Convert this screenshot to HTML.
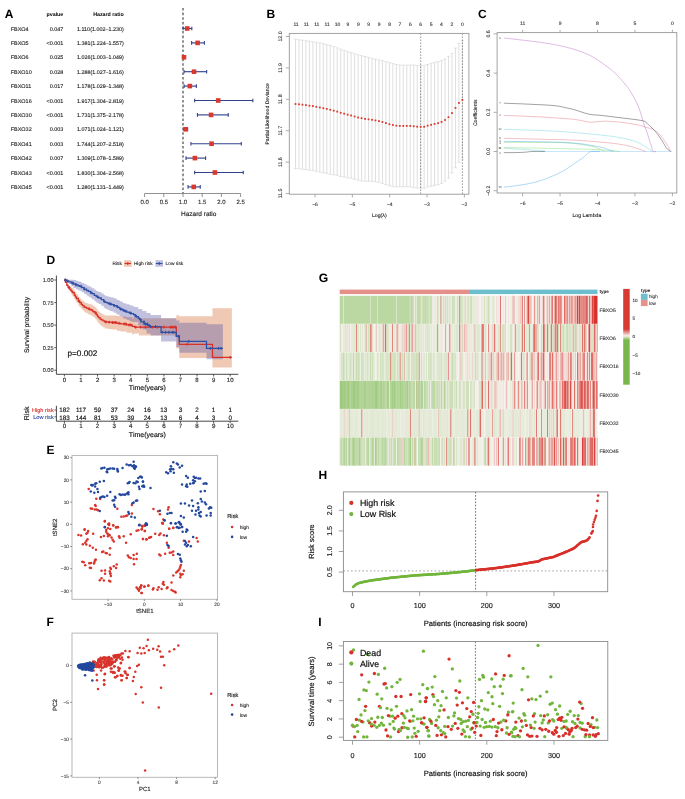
<!DOCTYPE html>
<html><head><meta charset="utf-8"><style>
html,body{margin:0;padding:0;background:#fff;}
svg{display:block;font-family:"Liberation Sans", sans-serif;will-change:transform;text-rendering:geometricPrecision;}
</style></head><body>
<svg width="685" height="799" viewBox="0 0 685 799">
<rect width="685" height="799" fill="#fff"/>
<text x="4.70" y="17.70" font-size="12" text-anchor="start" fill="#000" font-weight="bold">A</text>
<text x="63.30" y="16.00" font-size="5.3" text-anchor="end" fill="#000" font-weight="bold">pvalue</text>
<text x="123.80" y="16.00" font-size="5.3" text-anchor="end" fill="#000" font-weight="bold">Hazard ratio</text>
<line x1="183.00" y1="8.00" x2="183.00" y2="193.50" stroke="#3a3a3a" stroke-width="1.1" stroke-dasharray="2.6,2"/>
<text x="10.80" y="30.50" font-size="5.45" text-anchor="start" fill="#222" stroke="#222" stroke-width="0.120">FBXO4</text>
<text x="63.30" y="30.50" font-size="5.45" text-anchor="end" fill="#222" stroke="#222" stroke-width="0.120">0.047</text>
<text x="123.80" y="30.50" font-size="5.45" text-anchor="end" fill="#222" stroke="#222" stroke-width="0.120" textLength="46.8" lengthAdjust="spacingAndGlyphs">1.110(1.002–1.230)</text>
<line x1="183.08" y1="28.50" x2="191.83" y2="28.50" stroke="#33428e" stroke-width="1.15"/>
<line x1="183.08" y1="26.70" x2="183.08" y2="30.30" stroke="#33428e" stroke-width="1.1"/>
<line x1="191.83" y1="26.70" x2="191.83" y2="30.30" stroke="#33428e" stroke-width="1.1"/>
<rect x="184.92" y="26.20" width="4.60" height="4.60" fill="#d7392f"/>
<text x="10.80" y="44.90" font-size="5.45" text-anchor="start" fill="#222" stroke="#222" stroke-width="0.120">FBXO5</text>
<text x="63.30" y="44.90" font-size="5.45" text-anchor="end" fill="#222" stroke="#222" stroke-width="0.120">&lt;0.001</text>
<text x="123.80" y="44.90" font-size="5.45" text-anchor="end" fill="#222" stroke="#222" stroke-width="0.120" textLength="46.8" lengthAdjust="spacingAndGlyphs">1.381(1.224–1.557)</text>
<line x1="191.60" y1="42.90" x2="204.39" y2="42.90" stroke="#33428e" stroke-width="1.15"/>
<line x1="191.60" y1="41.10" x2="191.60" y2="44.70" stroke="#33428e" stroke-width="1.1"/>
<line x1="204.39" y1="41.10" x2="204.39" y2="44.70" stroke="#33428e" stroke-width="1.1"/>
<rect x="195.33" y="40.60" width="4.60" height="4.60" fill="#d7392f"/>
<text x="10.80" y="59.30" font-size="5.45" text-anchor="start" fill="#222" stroke="#222" stroke-width="0.120">FBXO6</text>
<text x="63.30" y="59.30" font-size="5.45" text-anchor="end" fill="#222" stroke="#222" stroke-width="0.120">0.025</text>
<text x="123.80" y="59.30" font-size="5.45" text-anchor="end" fill="#222" stroke="#222" stroke-width="0.120" textLength="46.8" lengthAdjust="spacingAndGlyphs">1.026(1.003–1.049)</text>
<line x1="183.12" y1="57.30" x2="184.88" y2="57.30" stroke="#33428e" stroke-width="1.15"/>
<line x1="183.12" y1="55.50" x2="183.12" y2="59.10" stroke="#33428e" stroke-width="1.1"/>
<line x1="184.88" y1="55.50" x2="184.88" y2="59.10" stroke="#33428e" stroke-width="1.1"/>
<rect x="181.70" y="55.00" width="4.60" height="4.60" fill="#d7392f"/>
<text x="10.80" y="73.70" font-size="5.45" text-anchor="start" fill="#222" stroke="#222" stroke-width="0.120">FBXO10</text>
<text x="63.30" y="73.70" font-size="5.45" text-anchor="end" fill="#222" stroke="#222" stroke-width="0.120">0.028</text>
<text x="123.80" y="73.70" font-size="5.45" text-anchor="end" fill="#222" stroke="#222" stroke-width="0.120" textLength="46.8" lengthAdjust="spacingAndGlyphs">1.288(1.027–1.616)</text>
<line x1="184.04" y1="71.70" x2="206.65" y2="71.70" stroke="#33428e" stroke-width="1.15"/>
<line x1="184.04" y1="69.90" x2="184.04" y2="73.50" stroke="#33428e" stroke-width="1.1"/>
<line x1="206.65" y1="69.90" x2="206.65" y2="73.50" stroke="#33428e" stroke-width="1.1"/>
<rect x="191.76" y="69.40" width="4.60" height="4.60" fill="#d7392f"/>
<text x="10.80" y="88.10" font-size="5.45" text-anchor="start" fill="#222" stroke="#222" stroke-width="0.120">FBXO11</text>
<text x="63.30" y="88.10" font-size="5.45" text-anchor="end" fill="#222" stroke="#222" stroke-width="0.120">0.017</text>
<text x="123.80" y="88.10" font-size="5.45" text-anchor="end" fill="#222" stroke="#222" stroke-width="0.120" textLength="46.8" lengthAdjust="spacingAndGlyphs">1.178(1.029–1.348)</text>
<line x1="184.11" y1="86.10" x2="196.36" y2="86.10" stroke="#33428e" stroke-width="1.15"/>
<line x1="184.11" y1="84.30" x2="184.11" y2="87.90" stroke="#33428e" stroke-width="1.1"/>
<line x1="196.36" y1="84.30" x2="196.36" y2="87.90" stroke="#33428e" stroke-width="1.1"/>
<rect x="187.54" y="83.80" width="4.60" height="4.60" fill="#d7392f"/>
<text x="10.80" y="102.50" font-size="5.45" text-anchor="start" fill="#222" stroke="#222" stroke-width="0.120">FBXO16</text>
<text x="63.30" y="102.50" font-size="5.45" text-anchor="end" fill="#222" stroke="#222" stroke-width="0.120">&lt;0.001</text>
<text x="123.80" y="102.50" font-size="5.45" text-anchor="end" fill="#222" stroke="#222" stroke-width="0.120" textLength="46.8" lengthAdjust="spacingAndGlyphs">1.917(1.304–2.819)</text>
<line x1="194.67" y1="100.50" x2="252.85" y2="100.50" stroke="#33428e" stroke-width="1.15"/>
<line x1="194.67" y1="98.70" x2="194.67" y2="102.30" stroke="#33428e" stroke-width="1.1"/>
<line x1="252.85" y1="98.70" x2="252.85" y2="102.30" stroke="#33428e" stroke-width="1.1"/>
<rect x="215.91" y="98.20" width="4.60" height="4.60" fill="#d7392f"/>
<text x="10.80" y="116.90" font-size="5.45" text-anchor="start" fill="#222" stroke="#222" stroke-width="0.120">FBXO30</text>
<text x="63.30" y="116.90" font-size="5.45" text-anchor="end" fill="#222" stroke="#222" stroke-width="0.120">&lt;0.001</text>
<text x="123.80" y="116.90" font-size="5.45" text-anchor="end" fill="#222" stroke="#222" stroke-width="0.120" textLength="46.8" lengthAdjust="spacingAndGlyphs">1.731(1.375–2.178)</text>
<line x1="197.40" y1="114.90" x2="228.24" y2="114.90" stroke="#33428e" stroke-width="1.15"/>
<line x1="197.40" y1="113.10" x2="197.40" y2="116.70" stroke="#33428e" stroke-width="1.1"/>
<line x1="228.24" y1="113.10" x2="228.24" y2="116.70" stroke="#33428e" stroke-width="1.1"/>
<rect x="208.77" y="112.60" width="4.60" height="4.60" fill="#d7392f"/>
<text x="10.80" y="131.30" font-size="5.45" text-anchor="start" fill="#222" stroke="#222" stroke-width="0.120">FBXO32</text>
<text x="63.30" y="131.30" font-size="5.45" text-anchor="end" fill="#222" stroke="#222" stroke-width="0.120">0.003</text>
<text x="123.80" y="131.30" font-size="5.45" text-anchor="end" fill="#222" stroke="#222" stroke-width="0.120" textLength="46.8" lengthAdjust="spacingAndGlyphs">1.071(1.024–1.121)</text>
<line x1="183.92" y1="129.30" x2="187.65" y2="129.30" stroke="#33428e" stroke-width="1.15"/>
<line x1="183.92" y1="127.50" x2="183.92" y2="131.10" stroke="#33428e" stroke-width="1.1"/>
<line x1="187.65" y1="127.50" x2="187.65" y2="131.10" stroke="#33428e" stroke-width="1.1"/>
<rect x="183.43" y="127.00" width="4.60" height="4.60" fill="#d7392f"/>
<text x="10.80" y="145.70" font-size="5.45" text-anchor="start" fill="#222" stroke="#222" stroke-width="0.120">FBXO41</text>
<text x="63.30" y="145.70" font-size="5.45" text-anchor="end" fill="#222" stroke="#222" stroke-width="0.120">0.003</text>
<text x="123.80" y="145.70" font-size="5.45" text-anchor="end" fill="#222" stroke="#222" stroke-width="0.120" textLength="46.8" lengthAdjust="spacingAndGlyphs">1.744(1.207–2.518)</text>
<line x1="190.95" y1="143.70" x2="241.29" y2="143.70" stroke="#33428e" stroke-width="1.15"/>
<line x1="190.95" y1="141.90" x2="190.95" y2="145.50" stroke="#33428e" stroke-width="1.1"/>
<line x1="241.29" y1="141.90" x2="241.29" y2="145.50" stroke="#33428e" stroke-width="1.1"/>
<rect x="209.27" y="141.40" width="4.60" height="4.60" fill="#d7392f"/>
<text x="10.80" y="160.10" font-size="5.45" text-anchor="start" fill="#222" stroke="#222" stroke-width="0.120">FBXO42</text>
<text x="63.30" y="160.10" font-size="5.45" text-anchor="end" fill="#222" stroke="#222" stroke-width="0.120">0.007</text>
<text x="123.80" y="160.10" font-size="5.45" text-anchor="end" fill="#222" stroke="#222" stroke-width="0.120" textLength="46.8" lengthAdjust="spacingAndGlyphs">1.309(1.078–1.589)</text>
<line x1="186.00" y1="158.10" x2="205.62" y2="158.10" stroke="#33428e" stroke-width="1.15"/>
<line x1="186.00" y1="156.30" x2="186.00" y2="159.90" stroke="#33428e" stroke-width="1.1"/>
<line x1="205.62" y1="156.30" x2="205.62" y2="159.90" stroke="#33428e" stroke-width="1.1"/>
<rect x="192.57" y="155.80" width="4.60" height="4.60" fill="#d7392f"/>
<text x="10.80" y="174.50" font-size="5.45" text-anchor="start" fill="#222" stroke="#222" stroke-width="0.120">FBXO43</text>
<text x="63.30" y="174.50" font-size="5.45" text-anchor="end" fill="#222" stroke="#222" stroke-width="0.120">&lt;0.001</text>
<text x="123.80" y="174.50" font-size="5.45" text-anchor="end" fill="#222" stroke="#222" stroke-width="0.120" textLength="46.8" lengthAdjust="spacingAndGlyphs">1.830(1.304–2.568)</text>
<line x1="194.67" y1="172.50" x2="243.21" y2="172.50" stroke="#33428e" stroke-width="1.15"/>
<line x1="194.67" y1="170.70" x2="194.67" y2="174.30" stroke="#33428e" stroke-width="1.1"/>
<line x1="243.21" y1="170.70" x2="243.21" y2="174.30" stroke="#33428e" stroke-width="1.1"/>
<rect x="212.57" y="170.20" width="4.60" height="4.60" fill="#d7392f"/>
<text x="10.80" y="188.90" font-size="5.45" text-anchor="start" fill="#222" stroke="#222" stroke-width="0.120">FBXO45</text>
<text x="63.30" y="188.90" font-size="5.45" text-anchor="end" fill="#222" stroke="#222" stroke-width="0.120">&lt;0.001</text>
<text x="123.80" y="188.90" font-size="5.45" text-anchor="end" fill="#222" stroke="#222" stroke-width="0.120" textLength="46.8" lengthAdjust="spacingAndGlyphs">1.280(1.131–1.449)</text>
<line x1="188.03" y1="186.90" x2="200.24" y2="186.90" stroke="#33428e" stroke-width="1.15"/>
<line x1="188.03" y1="185.10" x2="188.03" y2="188.70" stroke="#33428e" stroke-width="1.1"/>
<line x1="200.24" y1="185.10" x2="200.24" y2="188.70" stroke="#33428e" stroke-width="1.1"/>
<rect x="191.45" y="184.60" width="4.60" height="4.60" fill="#d7392f"/>
<line x1="144.60" y1="193.50" x2="240.60" y2="193.50" stroke="#777" stroke-width="0.8"/>
<line x1="144.60" y1="193.50" x2="144.60" y2="197.00" stroke="#777" stroke-width="0.8"/>
<text x="144.60" y="203.90" font-size="6.0" text-anchor="middle" fill="#333" stroke="#333" stroke-width="0.132">0.0</text>
<line x1="163.80" y1="193.50" x2="163.80" y2="197.00" stroke="#777" stroke-width="0.8"/>
<text x="163.80" y="203.90" font-size="6.0" text-anchor="middle" fill="#333" stroke="#333" stroke-width="0.132">0.5</text>
<line x1="183.00" y1="193.50" x2="183.00" y2="197.00" stroke="#777" stroke-width="0.8"/>
<text x="183.00" y="203.90" font-size="6.0" text-anchor="middle" fill="#333" stroke="#333" stroke-width="0.132">1.0</text>
<line x1="202.20" y1="193.50" x2="202.20" y2="197.00" stroke="#777" stroke-width="0.8"/>
<text x="202.20" y="203.90" font-size="6.0" text-anchor="middle" fill="#333" stroke="#333" stroke-width="0.132">1.5</text>
<line x1="221.40" y1="193.50" x2="221.40" y2="197.00" stroke="#777" stroke-width="0.8"/>
<text x="221.40" y="203.90" font-size="6.0" text-anchor="middle" fill="#333" stroke="#333" stroke-width="0.132">2.0</text>
<line x1="240.60" y1="193.50" x2="240.60" y2="197.00" stroke="#777" stroke-width="0.8"/>
<text x="240.60" y="203.90" font-size="6.0" text-anchor="middle" fill="#333" stroke="#333" stroke-width="0.132">2.5</text>
<text x="198.70" y="216.20" font-size="6.5" text-anchor="middle" fill="#222" stroke="#222" stroke-width="0.143">Hazard ratio</text>
<text x="266.40" y="17.70" font-size="12" text-anchor="start" fill="#000" font-weight="bold">B</text>
<line x1="295.50" y1="39.30" x2="295.50" y2="168.70" stroke="#cdcdcd" stroke-width="0.65"/>
<line x1="293.80" y1="39.30" x2="297.20" y2="39.30" stroke="#d2d2d2" stroke-width="0.6"/>
<line x1="293.80" y1="168.70" x2="297.20" y2="168.70" stroke="#d2d2d2" stroke-width="0.6"/>
<line x1="298.98" y1="39.75" x2="298.98" y2="168.85" stroke="#cdcdcd" stroke-width="0.65"/>
<line x1="297.28" y1="39.75" x2="300.68" y2="39.75" stroke="#d2d2d2" stroke-width="0.6"/>
<line x1="297.28" y1="168.85" x2="300.68" y2="168.85" stroke="#d2d2d2" stroke-width="0.6"/>
<line x1="302.45" y1="40.20" x2="302.45" y2="169.20" stroke="#cdcdcd" stroke-width="0.65"/>
<line x1="300.75" y1="40.20" x2="304.15" y2="40.20" stroke="#d2d2d2" stroke-width="0.6"/>
<line x1="300.75" y1="169.20" x2="304.15" y2="169.20" stroke="#d2d2d2" stroke-width="0.6"/>
<line x1="305.93" y1="40.70" x2="305.93" y2="169.50" stroke="#cdcdcd" stroke-width="0.65"/>
<line x1="304.23" y1="40.70" x2="307.63" y2="40.70" stroke="#d2d2d2" stroke-width="0.6"/>
<line x1="304.23" y1="169.50" x2="307.63" y2="169.50" stroke="#d2d2d2" stroke-width="0.6"/>
<line x1="309.41" y1="41.20" x2="309.41" y2="170.20" stroke="#cdcdcd" stroke-width="0.65"/>
<line x1="307.71" y1="41.20" x2="311.11" y2="41.20" stroke="#d2d2d2" stroke-width="0.6"/>
<line x1="307.71" y1="170.20" x2="311.11" y2="170.20" stroke="#d2d2d2" stroke-width="0.6"/>
<line x1="312.89" y1="41.75" x2="312.89" y2="170.45" stroke="#cdcdcd" stroke-width="0.65"/>
<line x1="311.19" y1="41.75" x2="314.59" y2="41.75" stroke="#d2d2d2" stroke-width="0.6"/>
<line x1="311.19" y1="170.45" x2="314.59" y2="170.45" stroke="#d2d2d2" stroke-width="0.6"/>
<line x1="316.36" y1="42.30" x2="316.36" y2="171.30" stroke="#cdcdcd" stroke-width="0.65"/>
<line x1="314.66" y1="42.30" x2="318.06" y2="42.30" stroke="#d2d2d2" stroke-width="0.6"/>
<line x1="314.66" y1="171.30" x2="318.06" y2="171.30" stroke="#d2d2d2" stroke-width="0.6"/>
<line x1="319.84" y1="43.00" x2="319.84" y2="172.00" stroke="#cdcdcd" stroke-width="0.65"/>
<line x1="318.14" y1="43.00" x2="321.54" y2="43.00" stroke="#d2d2d2" stroke-width="0.6"/>
<line x1="318.14" y1="172.00" x2="321.54" y2="172.00" stroke="#d2d2d2" stroke-width="0.6"/>
<line x1="323.32" y1="43.70" x2="323.32" y2="172.70" stroke="#cdcdcd" stroke-width="0.65"/>
<line x1="321.62" y1="43.70" x2="325.02" y2="43.70" stroke="#d2d2d2" stroke-width="0.6"/>
<line x1="321.62" y1="172.70" x2="325.02" y2="172.70" stroke="#d2d2d2" stroke-width="0.6"/>
<line x1="326.79" y1="44.55" x2="326.79" y2="173.25" stroke="#cdcdcd" stroke-width="0.65"/>
<line x1="325.09" y1="44.55" x2="328.49" y2="44.55" stroke="#d2d2d2" stroke-width="0.6"/>
<line x1="325.09" y1="173.25" x2="328.49" y2="173.25" stroke="#d2d2d2" stroke-width="0.6"/>
<line x1="330.27" y1="45.40" x2="330.27" y2="174.20" stroke="#cdcdcd" stroke-width="0.65"/>
<line x1="328.57" y1="45.40" x2="331.97" y2="45.40" stroke="#d2d2d2" stroke-width="0.6"/>
<line x1="328.57" y1="174.20" x2="331.97" y2="174.20" stroke="#d2d2d2" stroke-width="0.6"/>
<line x1="333.75" y1="46.65" x2="333.75" y2="174.75" stroke="#cdcdcd" stroke-width="0.65"/>
<line x1="332.05" y1="46.65" x2="335.45" y2="46.65" stroke="#d2d2d2" stroke-width="0.6"/>
<line x1="332.05" y1="174.75" x2="335.45" y2="174.75" stroke="#d2d2d2" stroke-width="0.6"/>
<line x1="337.23" y1="47.90" x2="337.23" y2="175.30" stroke="#cdcdcd" stroke-width="0.65"/>
<line x1="335.53" y1="47.90" x2="338.93" y2="47.90" stroke="#d2d2d2" stroke-width="0.6"/>
<line x1="335.53" y1="175.30" x2="338.93" y2="175.30" stroke="#d2d2d2" stroke-width="0.6"/>
<line x1="340.70" y1="49.15" x2="340.70" y2="176.45" stroke="#cdcdcd" stroke-width="0.65"/>
<line x1="339.00" y1="49.15" x2="342.40" y2="49.15" stroke="#d2d2d2" stroke-width="0.6"/>
<line x1="339.00" y1="176.45" x2="342.40" y2="176.45" stroke="#d2d2d2" stroke-width="0.6"/>
<line x1="344.18" y1="50.40" x2="344.18" y2="177.00" stroke="#cdcdcd" stroke-width="0.65"/>
<line x1="342.48" y1="50.40" x2="345.88" y2="50.40" stroke="#d2d2d2" stroke-width="0.6"/>
<line x1="342.48" y1="177.00" x2="345.88" y2="177.00" stroke="#d2d2d2" stroke-width="0.6"/>
<line x1="347.66" y1="51.55" x2="347.66" y2="177.85" stroke="#cdcdcd" stroke-width="0.65"/>
<line x1="345.96" y1="51.55" x2="349.36" y2="51.55" stroke="#d2d2d2" stroke-width="0.6"/>
<line x1="345.96" y1="177.85" x2="349.36" y2="177.85" stroke="#d2d2d2" stroke-width="0.6"/>
<line x1="351.13" y1="52.70" x2="351.13" y2="178.30" stroke="#cdcdcd" stroke-width="0.65"/>
<line x1="349.43" y1="52.70" x2="352.83" y2="52.70" stroke="#d2d2d2" stroke-width="0.6"/>
<line x1="349.43" y1="178.30" x2="352.83" y2="178.30" stroke="#d2d2d2" stroke-width="0.6"/>
<line x1="354.61" y1="53.75" x2="354.61" y2="179.25" stroke="#cdcdcd" stroke-width="0.65"/>
<line x1="352.91" y1="53.75" x2="356.31" y2="53.75" stroke="#d2d2d2" stroke-width="0.6"/>
<line x1="352.91" y1="179.25" x2="356.31" y2="179.25" stroke="#d2d2d2" stroke-width="0.6"/>
<line x1="358.09" y1="54.80" x2="358.09" y2="180.20" stroke="#cdcdcd" stroke-width="0.65"/>
<line x1="356.39" y1="54.80" x2="359.79" y2="54.80" stroke="#d2d2d2" stroke-width="0.6"/>
<line x1="356.39" y1="180.20" x2="359.79" y2="180.20" stroke="#d2d2d2" stroke-width="0.6"/>
<line x1="361.56" y1="55.65" x2="361.56" y2="180.75" stroke="#cdcdcd" stroke-width="0.65"/>
<line x1="359.86" y1="55.65" x2="363.26" y2="55.65" stroke="#d2d2d2" stroke-width="0.6"/>
<line x1="359.86" y1="180.75" x2="363.26" y2="180.75" stroke="#d2d2d2" stroke-width="0.6"/>
<line x1="365.04" y1="56.50" x2="365.04" y2="181.30" stroke="#cdcdcd" stroke-width="0.65"/>
<line x1="363.34" y1="56.50" x2="366.74" y2="56.50" stroke="#d2d2d2" stroke-width="0.6"/>
<line x1="363.34" y1="181.30" x2="366.74" y2="181.30" stroke="#d2d2d2" stroke-width="0.6"/>
<line x1="368.52" y1="57.40" x2="368.52" y2="181.20" stroke="#cdcdcd" stroke-width="0.65"/>
<line x1="366.82" y1="57.40" x2="370.22" y2="57.40" stroke="#d2d2d2" stroke-width="0.6"/>
<line x1="366.82" y1="181.20" x2="370.22" y2="181.20" stroke="#d2d2d2" stroke-width="0.6"/>
<line x1="372.00" y1="58.30" x2="372.00" y2="181.30" stroke="#cdcdcd" stroke-width="0.65"/>
<line x1="370.30" y1="58.30" x2="373.70" y2="58.30" stroke="#d2d2d2" stroke-width="0.6"/>
<line x1="370.30" y1="181.30" x2="373.70" y2="181.30" stroke="#d2d2d2" stroke-width="0.6"/>
<line x1="375.47" y1="59.10" x2="375.47" y2="181.70" stroke="#cdcdcd" stroke-width="0.65"/>
<line x1="373.77" y1="59.10" x2="377.17" y2="59.10" stroke="#d2d2d2" stroke-width="0.6"/>
<line x1="373.77" y1="181.70" x2="377.17" y2="181.70" stroke="#d2d2d2" stroke-width="0.6"/>
<line x1="378.95" y1="59.90" x2="378.95" y2="182.30" stroke="#cdcdcd" stroke-width="0.65"/>
<line x1="377.25" y1="59.90" x2="380.65" y2="59.90" stroke="#d2d2d2" stroke-width="0.6"/>
<line x1="377.25" y1="182.30" x2="380.65" y2="182.30" stroke="#d2d2d2" stroke-width="0.6"/>
<line x1="382.43" y1="60.70" x2="382.43" y2="183.30" stroke="#cdcdcd" stroke-width="0.65"/>
<line x1="380.73" y1="60.70" x2="384.13" y2="60.70" stroke="#d2d2d2" stroke-width="0.6"/>
<line x1="380.73" y1="183.30" x2="384.13" y2="183.30" stroke="#d2d2d2" stroke-width="0.6"/>
<line x1="385.90" y1="61.60" x2="385.90" y2="184.60" stroke="#cdcdcd" stroke-width="0.65"/>
<line x1="384.20" y1="61.60" x2="387.60" y2="61.60" stroke="#d2d2d2" stroke-width="0.6"/>
<line x1="384.20" y1="184.60" x2="387.60" y2="184.60" stroke="#d2d2d2" stroke-width="0.6"/>
<line x1="389.38" y1="62.60" x2="389.38" y2="185.80" stroke="#cdcdcd" stroke-width="0.65"/>
<line x1="387.68" y1="62.60" x2="391.08" y2="62.60" stroke="#d2d2d2" stroke-width="0.6"/>
<line x1="387.68" y1="185.80" x2="391.08" y2="185.80" stroke="#d2d2d2" stroke-width="0.6"/>
<line x1="392.86" y1="63.60" x2="392.86" y2="186.40" stroke="#cdcdcd" stroke-width="0.65"/>
<line x1="391.16" y1="63.60" x2="394.56" y2="63.60" stroke="#d2d2d2" stroke-width="0.6"/>
<line x1="391.16" y1="186.40" x2="394.56" y2="186.40" stroke="#d2d2d2" stroke-width="0.6"/>
<line x1="396.34" y1="64.50" x2="396.34" y2="186.90" stroke="#cdcdcd" stroke-width="0.65"/>
<line x1="394.64" y1="64.50" x2="398.04" y2="64.50" stroke="#d2d2d2" stroke-width="0.6"/>
<line x1="394.64" y1="186.90" x2="398.04" y2="186.90" stroke="#d2d2d2" stroke-width="0.6"/>
<line x1="399.81" y1="65.10" x2="399.81" y2="186.70" stroke="#cdcdcd" stroke-width="0.65"/>
<line x1="398.11" y1="65.10" x2="401.51" y2="65.10" stroke="#d2d2d2" stroke-width="0.6"/>
<line x1="398.11" y1="186.70" x2="401.51" y2="186.70" stroke="#d2d2d2" stroke-width="0.6"/>
<line x1="403.29" y1="65.10" x2="403.29" y2="186.70" stroke="#cdcdcd" stroke-width="0.65"/>
<line x1="401.59" y1="65.10" x2="404.99" y2="65.10" stroke="#d2d2d2" stroke-width="0.6"/>
<line x1="401.59" y1="186.70" x2="404.99" y2="186.70" stroke="#d2d2d2" stroke-width="0.6"/>
<line x1="406.77" y1="65.10" x2="406.77" y2="186.70" stroke="#cdcdcd" stroke-width="0.65"/>
<line x1="405.07" y1="65.10" x2="408.47" y2="65.10" stroke="#d2d2d2" stroke-width="0.6"/>
<line x1="405.07" y1="186.70" x2="408.47" y2="186.70" stroke="#d2d2d2" stroke-width="0.6"/>
<line x1="410.24" y1="65.00" x2="410.24" y2="186.80" stroke="#cdcdcd" stroke-width="0.65"/>
<line x1="408.54" y1="65.00" x2="411.94" y2="65.00" stroke="#d2d2d2" stroke-width="0.6"/>
<line x1="408.54" y1="186.80" x2="411.94" y2="186.80" stroke="#d2d2d2" stroke-width="0.6"/>
<line x1="413.72" y1="65.10" x2="413.72" y2="187.50" stroke="#cdcdcd" stroke-width="0.65"/>
<line x1="412.02" y1="65.10" x2="415.42" y2="65.10" stroke="#d2d2d2" stroke-width="0.6"/>
<line x1="412.02" y1="187.50" x2="415.42" y2="187.50" stroke="#d2d2d2" stroke-width="0.6"/>
<line x1="417.20" y1="65.30" x2="417.20" y2="188.10" stroke="#cdcdcd" stroke-width="0.65"/>
<line x1="415.50" y1="65.30" x2="418.90" y2="65.30" stroke="#d2d2d2" stroke-width="0.6"/>
<line x1="415.50" y1="188.10" x2="418.90" y2="188.10" stroke="#d2d2d2" stroke-width="0.6"/>
<line x1="420.67" y1="65.50" x2="420.67" y2="188.10" stroke="#cdcdcd" stroke-width="0.65"/>
<line x1="418.97" y1="65.50" x2="422.37" y2="65.50" stroke="#d2d2d2" stroke-width="0.6"/>
<line x1="418.97" y1="188.10" x2="422.37" y2="188.10" stroke="#d2d2d2" stroke-width="0.6"/>
<line x1="424.15" y1="65.30" x2="424.15" y2="188.30" stroke="#cdcdcd" stroke-width="0.65"/>
<line x1="422.45" y1="65.30" x2="425.85" y2="65.30" stroke="#d2d2d2" stroke-width="0.6"/>
<line x1="422.45" y1="188.30" x2="425.85" y2="188.30" stroke="#d2d2d2" stroke-width="0.6"/>
<line x1="427.63" y1="64.50" x2="427.63" y2="186.90" stroke="#cdcdcd" stroke-width="0.65"/>
<line x1="425.93" y1="64.50" x2="429.33" y2="64.50" stroke="#d2d2d2" stroke-width="0.6"/>
<line x1="425.93" y1="186.90" x2="429.33" y2="186.90" stroke="#d2d2d2" stroke-width="0.6"/>
<line x1="431.11" y1="63.40" x2="431.11" y2="186.20" stroke="#cdcdcd" stroke-width="0.65"/>
<line x1="429.41" y1="63.40" x2="432.81" y2="63.40" stroke="#d2d2d2" stroke-width="0.6"/>
<line x1="429.41" y1="186.20" x2="432.81" y2="186.20" stroke="#d2d2d2" stroke-width="0.6"/>
<line x1="434.58" y1="62.40" x2="434.58" y2="185.40" stroke="#cdcdcd" stroke-width="0.65"/>
<line x1="432.88" y1="62.40" x2="436.28" y2="62.40" stroke="#d2d2d2" stroke-width="0.6"/>
<line x1="432.88" y1="185.40" x2="436.28" y2="185.40" stroke="#d2d2d2" stroke-width="0.6"/>
<line x1="438.06" y1="61.60" x2="438.06" y2="184.80" stroke="#cdcdcd" stroke-width="0.65"/>
<line x1="436.36" y1="61.60" x2="439.76" y2="61.60" stroke="#d2d2d2" stroke-width="0.6"/>
<line x1="436.36" y1="184.80" x2="439.76" y2="184.80" stroke="#d2d2d2" stroke-width="0.6"/>
<line x1="441.54" y1="60.50" x2="441.54" y2="183.30" stroke="#cdcdcd" stroke-width="0.65"/>
<line x1="439.84" y1="60.50" x2="443.24" y2="60.50" stroke="#d2d2d2" stroke-width="0.6"/>
<line x1="439.84" y1="183.30" x2="443.24" y2="183.30" stroke="#d2d2d2" stroke-width="0.6"/>
<line x1="445.01" y1="59.00" x2="445.01" y2="181.00" stroke="#cdcdcd" stroke-width="0.65"/>
<line x1="443.31" y1="59.00" x2="446.71" y2="59.00" stroke="#d2d2d2" stroke-width="0.6"/>
<line x1="443.31" y1="181.00" x2="446.71" y2="181.00" stroke="#d2d2d2" stroke-width="0.6"/>
<line x1="448.49" y1="56.30" x2="448.49" y2="178.10" stroke="#cdcdcd" stroke-width="0.65"/>
<line x1="446.79" y1="56.30" x2="450.19" y2="56.30" stroke="#d2d2d2" stroke-width="0.6"/>
<line x1="446.79" y1="178.10" x2="450.19" y2="178.10" stroke="#d2d2d2" stroke-width="0.6"/>
<line x1="451.97" y1="53.30" x2="451.97" y2="172.90" stroke="#cdcdcd" stroke-width="0.65"/>
<line x1="450.27" y1="53.30" x2="453.67" y2="53.30" stroke="#d2d2d2" stroke-width="0.6"/>
<line x1="450.27" y1="172.90" x2="453.67" y2="172.90" stroke="#d2d2d2" stroke-width="0.6"/>
<line x1="455.45" y1="48.10" x2="455.45" y2="167.70" stroke="#cdcdcd" stroke-width="0.65"/>
<line x1="453.75" y1="48.10" x2="457.15" y2="48.10" stroke="#d2d2d2" stroke-width="0.6"/>
<line x1="453.75" y1="167.70" x2="457.15" y2="167.70" stroke="#d2d2d2" stroke-width="0.6"/>
<line x1="458.92" y1="43.50" x2="458.92" y2="162.30" stroke="#cdcdcd" stroke-width="0.65"/>
<line x1="457.22" y1="43.50" x2="460.62" y2="43.50" stroke="#d2d2d2" stroke-width="0.6"/>
<line x1="457.22" y1="162.30" x2="460.62" y2="162.30" stroke="#d2d2d2" stroke-width="0.6"/>
<line x1="462.40" y1="40.60" x2="462.40" y2="159.20" stroke="#cdcdcd" stroke-width="0.65"/>
<line x1="460.70" y1="40.60" x2="464.10" y2="40.60" stroke="#d2d2d2" stroke-width="0.6"/>
<line x1="460.70" y1="159.20" x2="464.10" y2="159.20" stroke="#d2d2d2" stroke-width="0.6"/>
<line x1="420.70" y1="33.40" x2="420.70" y2="194.20" stroke="#555" stroke-width="0.6" stroke-dasharray="1.6,1.4"/>
<line x1="462.40" y1="33.40" x2="462.40" y2="194.20" stroke="#555" stroke-width="0.6" stroke-dasharray="1.6,1.4"/>
<rect x="294.60" y="103.10" width="1.80" height="1.80" fill="#dc3a30"/>
<rect x="298.08" y="103.40" width="1.80" height="1.80" fill="#dc3a30"/>
<rect x="301.55" y="103.80" width="1.80" height="1.80" fill="#dc3a30"/>
<rect x="305.03" y="104.20" width="1.80" height="1.80" fill="#dc3a30"/>
<rect x="308.51" y="104.80" width="1.80" height="1.80" fill="#dc3a30"/>
<rect x="311.99" y="105.20" width="1.80" height="1.80" fill="#dc3a30"/>
<rect x="315.46" y="105.90" width="1.80" height="1.80" fill="#dc3a30"/>
<rect x="318.94" y="106.60" width="1.80" height="1.80" fill="#dc3a30"/>
<rect x="322.42" y="107.30" width="1.80" height="1.80" fill="#dc3a30"/>
<rect x="325.89" y="108.00" width="1.80" height="1.80" fill="#dc3a30"/>
<rect x="329.37" y="108.90" width="1.80" height="1.80" fill="#dc3a30"/>
<rect x="332.85" y="109.80" width="1.80" height="1.80" fill="#dc3a30"/>
<rect x="336.33" y="110.70" width="1.80" height="1.80" fill="#dc3a30"/>
<rect x="339.80" y="111.90" width="1.80" height="1.80" fill="#dc3a30"/>
<rect x="343.28" y="112.80" width="1.80" height="1.80" fill="#dc3a30"/>
<rect x="346.76" y="113.80" width="1.80" height="1.80" fill="#dc3a30"/>
<rect x="350.23" y="114.60" width="1.80" height="1.80" fill="#dc3a30"/>
<rect x="353.71" y="115.60" width="1.80" height="1.80" fill="#dc3a30"/>
<rect x="357.19" y="116.60" width="1.80" height="1.80" fill="#dc3a30"/>
<rect x="360.66" y="117.30" width="1.80" height="1.80" fill="#dc3a30"/>
<rect x="364.14" y="118.00" width="1.80" height="1.80" fill="#dc3a30"/>
<rect x="367.62" y="118.40" width="1.80" height="1.80" fill="#dc3a30"/>
<rect x="371.10" y="118.90" width="1.80" height="1.80" fill="#dc3a30"/>
<rect x="374.57" y="119.50" width="1.80" height="1.80" fill="#dc3a30"/>
<rect x="378.05" y="120.20" width="1.80" height="1.80" fill="#dc3a30"/>
<rect x="381.53" y="121.10" width="1.80" height="1.80" fill="#dc3a30"/>
<rect x="385.00" y="122.20" width="1.80" height="1.80" fill="#dc3a30"/>
<rect x="388.48" y="123.30" width="1.80" height="1.80" fill="#dc3a30"/>
<rect x="391.96" y="124.10" width="1.80" height="1.80" fill="#dc3a30"/>
<rect x="395.44" y="124.80" width="1.80" height="1.80" fill="#dc3a30"/>
<rect x="398.91" y="125.00" width="1.80" height="1.80" fill="#dc3a30"/>
<rect x="402.39" y="125.00" width="1.80" height="1.80" fill="#dc3a30"/>
<rect x="405.87" y="125.00" width="1.80" height="1.80" fill="#dc3a30"/>
<rect x="409.34" y="125.00" width="1.80" height="1.80" fill="#dc3a30"/>
<rect x="412.82" y="125.40" width="1.80" height="1.80" fill="#dc3a30"/>
<rect x="416.30" y="125.80" width="1.80" height="1.80" fill="#dc3a30"/>
<rect x="419.77" y="125.90" width="1.80" height="1.80" fill="#dc3a30"/>
<rect x="423.25" y="125.90" width="1.80" height="1.80" fill="#dc3a30"/>
<rect x="426.73" y="124.80" width="1.80" height="1.80" fill="#dc3a30"/>
<rect x="430.21" y="123.90" width="1.80" height="1.80" fill="#dc3a30"/>
<rect x="433.68" y="123.00" width="1.80" height="1.80" fill="#dc3a30"/>
<rect x="437.16" y="122.30" width="1.80" height="1.80" fill="#dc3a30"/>
<rect x="440.64" y="121.00" width="1.80" height="1.80" fill="#dc3a30"/>
<rect x="444.11" y="119.10" width="1.80" height="1.80" fill="#dc3a30"/>
<rect x="447.59" y="116.30" width="1.80" height="1.80" fill="#dc3a30"/>
<rect x="451.07" y="112.20" width="1.80" height="1.80" fill="#dc3a30"/>
<rect x="454.55" y="107.00" width="1.80" height="1.80" fill="#dc3a30"/>
<rect x="458.02" y="102.00" width="1.80" height="1.80" fill="#dc3a30"/>
<rect x="461.50" y="99.00" width="1.80" height="1.80" fill="#dc3a30"/>
<rect x="289.30" y="33.40" width="179.60" height="160.80" fill="none" stroke="#999" stroke-width="0.9"/>
<line x1="285.80" y1="193.50" x2="289.30" y2="193.50" stroke="#999" stroke-width="0.8"/>
<text x="281.60" y="193.50" font-size="5.2" text-anchor="middle" fill="#333" stroke="#333" stroke-width="0.114" transform="rotate(-90 281.60 193.50)">11.5</text>
<line x1="285.80" y1="162.10" x2="289.30" y2="162.10" stroke="#999" stroke-width="0.8"/>
<text x="281.60" y="162.10" font-size="5.2" text-anchor="middle" fill="#333" stroke="#333" stroke-width="0.114" transform="rotate(-90 281.60 162.10)">11.6</text>
<line x1="285.80" y1="130.70" x2="289.30" y2="130.70" stroke="#999" stroke-width="0.8"/>
<text x="281.60" y="130.70" font-size="5.2" text-anchor="middle" fill="#333" stroke="#333" stroke-width="0.114" transform="rotate(-90 281.60 130.70)">11.7</text>
<line x1="285.80" y1="99.30" x2="289.30" y2="99.30" stroke="#999" stroke-width="0.8"/>
<text x="281.60" y="99.30" font-size="5.2" text-anchor="middle" fill="#333" stroke="#333" stroke-width="0.114" transform="rotate(-90 281.60 99.30)">11.8</text>
<line x1="285.80" y1="67.90" x2="289.30" y2="67.90" stroke="#999" stroke-width="0.8"/>
<text x="281.60" y="67.90" font-size="5.2" text-anchor="middle" fill="#333" stroke="#333" stroke-width="0.114" transform="rotate(-90 281.60 67.90)">11.9</text>
<line x1="285.80" y1="36.50" x2="289.30" y2="36.50" stroke="#999" stroke-width="0.8"/>
<text x="281.60" y="36.50" font-size="5.2" text-anchor="middle" fill="#333" stroke="#333" stroke-width="0.114" transform="rotate(-90 281.60 36.50)">12.0</text>
<line x1="315.00" y1="194.20" x2="315.00" y2="197.50" stroke="#999" stroke-width="0.8"/>
<text x="315.00" y="206.10" font-size="5.0" text-anchor="middle" fill="#333" stroke="#333" stroke-width="0.110">−6</text>
<line x1="352.35" y1="194.20" x2="352.35" y2="197.50" stroke="#999" stroke-width="0.8"/>
<text x="352.35" y="206.10" font-size="5.0" text-anchor="middle" fill="#333" stroke="#333" stroke-width="0.110">−5</text>
<line x1="389.70" y1="194.20" x2="389.70" y2="197.50" stroke="#999" stroke-width="0.8"/>
<text x="389.70" y="206.10" font-size="5.0" text-anchor="middle" fill="#333" stroke="#333" stroke-width="0.110">−4</text>
<line x1="427.05" y1="194.20" x2="427.05" y2="197.50" stroke="#999" stroke-width="0.8"/>
<text x="427.05" y="206.10" font-size="5.0" text-anchor="middle" fill="#333" stroke="#333" stroke-width="0.110">−3</text>
<line x1="464.40" y1="194.20" x2="464.40" y2="197.50" stroke="#999" stroke-width="0.8"/>
<text x="464.40" y="206.10" font-size="5.0" text-anchor="middle" fill="#333" stroke="#333" stroke-width="0.110">−2</text>
<text x="296.00" y="25.90" font-size="5.0" text-anchor="middle" fill="#333" stroke="#333" stroke-width="0.110">11</text>
<text x="306.39" y="25.90" font-size="5.0" text-anchor="middle" fill="#333" stroke="#333" stroke-width="0.110">11</text>
<text x="316.79" y="25.90" font-size="5.0" text-anchor="middle" fill="#333" stroke="#333" stroke-width="0.110">11</text>
<text x="327.18" y="25.90" font-size="5.0" text-anchor="middle" fill="#333" stroke="#333" stroke-width="0.110">11</text>
<text x="337.57" y="25.90" font-size="5.0" text-anchor="middle" fill="#333" stroke="#333" stroke-width="0.110">10</text>
<text x="347.97" y="25.90" font-size="5.0" text-anchor="middle" fill="#333" stroke="#333" stroke-width="0.110">9</text>
<text x="358.36" y="25.90" font-size="5.0" text-anchor="middle" fill="#333" stroke="#333" stroke-width="0.110">9</text>
<text x="368.76" y="25.90" font-size="5.0" text-anchor="middle" fill="#333" stroke="#333" stroke-width="0.110">9</text>
<text x="379.15" y="25.90" font-size="5.0" text-anchor="middle" fill="#333" stroke="#333" stroke-width="0.110">9</text>
<text x="389.54" y="25.90" font-size="5.0" text-anchor="middle" fill="#333" stroke="#333" stroke-width="0.110">8</text>
<text x="399.94" y="25.90" font-size="5.0" text-anchor="middle" fill="#333" stroke="#333" stroke-width="0.110">7</text>
<text x="410.33" y="25.90" font-size="5.0" text-anchor="middle" fill="#333" stroke="#333" stroke-width="0.110">6</text>
<text x="420.73" y="25.90" font-size="5.0" text-anchor="middle" fill="#333" stroke="#333" stroke-width="0.110">6</text>
<text x="431.12" y="25.90" font-size="5.0" text-anchor="middle" fill="#333" stroke="#333" stroke-width="0.110">5</text>
<text x="441.51" y="25.90" font-size="5.0" text-anchor="middle" fill="#333" stroke="#333" stroke-width="0.110">4</text>
<text x="451.91" y="25.90" font-size="5.0" text-anchor="middle" fill="#333" stroke="#333" stroke-width="0.110">2</text>
<text x="462.30" y="25.90" font-size="5.0" text-anchor="middle" fill="#333" stroke="#333" stroke-width="0.110">0</text>
<text x="268.80" y="113.80" font-size="5.1" text-anchor="middle" fill="#222" stroke="#222" stroke-width="0.112" transform="rotate(-90 268.80 113.80)">Partial Likelihood Deviance</text>
<text x="379.30" y="217.00" font-size="5.2" text-anchor="middle" fill="#222" stroke="#222" stroke-width="0.114">Log(λ)</text>
<text x="477.90" y="17.50" font-size="12" text-anchor="start" fill="#000" font-weight="bold">C</text>
<line x1="540.00" y1="151.40" x2="672.00" y2="151.40" stroke="#2297E6" stroke-width="0.6" opacity="0.45"/>
<polyline points="503.80,187.20 505.01,187.05 506.67,186.85 508.65,186.61 510.79,186.35 512.96,186.07 515.00,185.80 516.94,185.54 518.90,185.28 520.89,185.01 522.90,184.72 524.93,184.39 527.00,184.00 529.13,183.56 531.33,183.07 533.56,182.54 535.78,181.99 537.94,181.40 540.00,180.80 541.97,180.17 543.89,179.50 545.75,178.81 547.56,178.10 549.31,177.39 551.00,176.70 552.64,176.01 554.22,175.33 555.75,174.64 557.22,173.95 558.64,173.27 560.00,172.60 561.26,171.97 562.41,171.37 563.50,170.78 564.59,170.16 565.74,169.48 567.00,168.70 568.40,167.79 569.91,166.76 571.48,165.67 573.05,164.57 574.58,163.50 576.00,162.50 577.35,161.57 578.67,160.67 579.95,159.80 581.16,158.96 582.28,158.16 583.30,157.40 584.19,156.67 584.97,155.97 585.67,155.31 586.30,154.69 586.91,154.11 587.50,153.60 588.06,153.14 588.57,152.73 589.04,152.37 589.51,152.07 589.98,151.81 590.50,151.60 591.03,151.46 591.54,151.39 592.06,151.38 592.63,151.39 593.27,151.40 594.00,151.40 594.92,151.39 596.04,151.39 597.22,151.39 598.35,151.39 599.32,151.40 600.00,151.40" fill="none" stroke="#2297E6" stroke-width="0.55" stroke-linejoin="round" opacity="0.68"/>
<polyline points="503.80,152.60 505.03,152.60 506.75,152.61 508.78,152.62 510.94,152.63 513.07,152.62 515.00,152.60 516.77,152.56 518.53,152.51 520.26,152.44 521.93,152.37 523.52,152.29 525.00,152.20 526.27,152.09 527.33,151.97 528.31,151.83 529.33,151.70 530.52,151.59 532.00,151.50 533.97,151.45 536.37,151.42 538.94,151.41 541.41,151.40 543.52,151.40 545.00,151.40" fill="none" stroke="#000000" stroke-width="0.55" stroke-linejoin="round" opacity="0.68"/>
<polyline points="503.80,148.10 505.01,148.19 506.67,148.31 508.65,148.45 510.79,148.60 512.96,148.76 515.00,148.90 516.98,149.03 519.01,149.16 521.08,149.29 523.12,149.43 525.11,149.56 527.00,149.70 528.81,149.85 530.56,150.00 532.25,150.15 533.89,150.30 535.47,150.45 537.00,150.60 538.54,150.75 540.11,150.90 541.62,151.06 543.00,151.20 544.15,151.31 545.00,151.40" fill="none" stroke="#4cc8d4" stroke-width="0.55" stroke-linejoin="round" opacity="0.68"/>
<polyline points="503.80,147.60 507.81,147.67 513.41,147.76 520.02,147.86 527.05,147.98 533.91,148.09 540.00,148.20 545.42,148.30 550.64,148.40 555.70,148.49 560.60,148.59 565.36,148.69 570.00,148.80 574.59,148.91 579.15,149.02 583.56,149.13 587.74,149.25 591.59,149.37 595.00,149.50 597.87,149.64 600.26,149.78 602.31,149.93 604.19,150.09 606.03,150.24 608.00,150.40 610.20,150.57 612.52,150.76 614.81,150.96 616.93,151.14 618.71,151.29 620.00,151.40" fill="none" stroke="#61D04F" stroke-width="0.55" stroke-linejoin="round" opacity="0.68"/>
<polyline points="503.80,142.40 506.62,142.40 510.49,142.39 515.09,142.39 520.09,142.39 525.17,142.39 530.00,142.40 534.82,142.41 539.94,142.42 545.14,142.44 550.19,142.47 554.89,142.52 559.00,142.60 562.41,142.70 565.28,142.81 567.79,142.95 570.12,143.12 572.46,143.33 575.00,143.60 577.81,143.94 580.76,144.35 583.72,144.80 586.57,145.27 589.17,145.75 591.40,146.20 593.20,146.63 594.66,147.07 595.87,147.50 596.93,147.93 597.95,148.37 599.00,148.80 600.13,149.26 601.25,149.76 602.33,150.26 603.29,150.73 604.10,151.12 604.70,151.40" fill="none" stroke="#61D04F" stroke-width="0.55" stroke-linejoin="round" opacity="0.68"/>
<polyline points="503.80,141.40 506.62,141.42 510.49,141.44 515.09,141.46 520.09,141.50 525.17,141.54 530.00,141.60 534.79,141.67 539.83,141.75 544.95,141.84 549.97,141.94 554.71,142.06 559.00,142.20 562.81,142.36 566.28,142.53 569.48,142.71 572.45,142.92 575.27,143.15 578.00,143.40 580.61,143.69 583.06,144.02 585.35,144.38 587.50,144.73 589.51,145.08 591.40,145.40 593.15,145.69 594.76,145.97 596.22,146.24 597.58,146.50 598.83,146.76 600.00,147.00 601.04,147.23 601.93,147.43 602.73,147.63 603.47,147.83 604.21,148.05 605.00,148.30 605.85,148.59 606.72,148.91 607.59,149.26 608.44,149.60 609.25,149.92 610.00,150.20 610.71,150.45 611.41,150.70 612.06,150.92 612.65,151.11 613.14,151.28 613.50,151.40" fill="none" stroke="#2297E6" stroke-width="0.55" stroke-linejoin="round" opacity="0.68"/>
<polyline points="503.80,138.30 507.75,138.40 513.23,138.53 519.71,138.69 526.68,138.86 533.62,139.03 540.00,139.20 545.96,139.35 551.94,139.48 557.89,139.61 563.75,139.77 569.47,139.96 575.00,140.20 580.46,140.51 585.93,140.89 591.25,141.30 596.30,141.72 600.93,142.13 605.00,142.50 608.41,142.82 611.26,143.12 613.69,143.40 615.85,143.68 617.91,143.98 620.00,144.30 622.09,144.65 624.04,145.01 625.88,145.39 627.63,145.78 629.33,146.18 631.00,146.60 632.65,147.05 634.27,147.53 635.83,148.02 637.32,148.51 638.71,148.97 640.00,149.40 641.21,149.80 642.36,150.20 643.41,150.58 644.34,150.91 645.12,151.19 645.70,151.40" fill="none" stroke="#DF536B" stroke-width="0.55" stroke-linejoin="round" opacity="0.68"/>
<polyline points="503.80,129.30 506.71,129.39 510.79,129.50 515.59,129.64 520.68,129.80 525.63,129.95 530.00,130.10 533.77,130.24 537.27,130.37 540.64,130.50 543.97,130.64 547.39,130.81 551.00,131.00 554.76,131.21 558.56,131.43 562.44,131.67 566.44,131.94 570.62,132.25 575.00,132.60 579.83,133.02 585.11,133.50 590.56,134.02 595.89,134.54 600.80,135.05 605.00,135.50 608.41,135.89 611.26,136.24 613.69,136.57 615.85,136.90 617.91,137.24 620.00,137.60 622.11,137.99 624.11,138.41 626.00,138.83 627.78,139.26 629.44,139.68 631.00,140.10 632.41,140.50 633.67,140.87 634.81,141.25 635.89,141.64 636.94,142.05 638.00,142.50 639.08,143.00 640.13,143.54 641.16,144.11 642.15,144.69 643.10,145.26 644.00,145.80 644.85,146.32 645.65,146.84 646.41,147.34 647.13,147.84 647.83,148.33 648.50,148.80 649.18,149.29 649.87,149.79 650.53,150.29 651.13,150.74 651.63,151.12 652.00,151.40" fill="none" stroke="#4cc8d4" stroke-width="0.55" stroke-linejoin="round" opacity="0.68"/>
<polyline points="503.80,115.40 506.71,115.51 510.79,115.65 515.59,115.83 520.68,116.01 525.63,116.21 530.00,116.40 533.77,116.58 537.27,116.76 540.64,116.94 543.97,117.14 547.39,117.36 551.00,117.60 554.93,117.87 559.12,118.16 563.39,118.46 567.58,118.79 571.50,119.13 575.00,119.50 578.04,119.93 580.75,120.43 583.21,120.96 585.47,121.44 587.61,121.84 589.70,122.10 591.71,122.18 593.58,122.13 595.33,121.98 596.97,121.80 598.53,121.62 600.00,121.50 601.25,121.41 602.24,121.32 603.14,121.23 604.12,121.17 605.35,121.15 607.00,121.20 609.15,121.31 611.67,121.46 614.44,121.66 617.33,121.90 620.23,122.18 623.00,122.50 625.76,122.87 628.63,123.31 631.50,123.78 634.26,124.27 636.80,124.75 639.00,125.20 640.83,125.63 642.37,126.06 643.69,126.49 644.85,126.89 645.93,127.27 647.00,127.60 648.01,127.86 648.89,128.05 649.69,128.21 650.44,128.37 651.20,128.59 652.00,128.90 652.84,129.29 653.68,129.73 654.52,130.22 655.36,130.76 656.18,131.35 657.00,132.00 657.82,132.73 658.64,133.54 659.46,134.41 660.25,135.30 661.00,136.17 661.70,137.00 662.33,137.78 662.91,138.54 663.46,139.28 663.97,140.02 664.48,140.76 665.00,141.50 665.52,142.24 666.04,142.97 666.55,143.69 667.05,144.43 667.53,145.20 668.00,146.00 668.47,146.91 668.96,147.93 669.44,148.98 669.87,149.97 670.23,150.80 670.50,151.40" fill="none" stroke="#DF536B" stroke-width="0.55" stroke-linejoin="round" opacity="0.68"/>
<polyline points="503.80,103.20 506.28,103.29 509.67,103.41 513.71,103.56 518.13,103.72 522.64,103.90 527.00,104.10 531.44,104.30 536.24,104.52 541.14,104.76 545.90,105.01 550.27,105.29 554.00,105.60 557.03,105.95 559.56,106.35 561.69,106.77 563.56,107.20 565.28,107.62 567.00,108.00 568.55,108.32 569.81,108.58 570.94,108.83 572.07,109.11 573.38,109.45 575.00,109.90 577.02,110.51 579.33,111.27 581.81,112.10 584.33,112.91 586.77,113.64 589.00,114.20 590.90,114.55 592.56,114.76 594.12,114.87 595.78,114.96 597.68,115.08 600.00,115.30 602.78,115.62 605.91,115.98 609.28,116.38 612.81,116.81 616.42,117.25 620.00,117.70 623.81,118.17 627.98,118.66 632.22,119.18 636.24,119.69 639.76,120.20 642.50,120.70 644.29,121.16 645.31,121.59 645.84,122.01 646.13,122.45 646.43,122.94 647.00,123.50 647.80,124.14 648.63,124.84 649.47,125.58 650.31,126.36 651.16,127.17 652.00,128.00 652.84,128.85 653.68,129.72 654.52,130.62 655.36,131.55 656.18,132.51 657.00,133.50 657.82,134.56 658.66,135.69 659.49,136.85 660.29,138.00 661.03,139.10 661.70,140.10 662.29,141.01 662.80,141.86 663.27,142.65 663.70,143.40 664.10,144.11 664.50,144.80 664.86,145.44 665.15,146.04 665.42,146.59 665.71,147.13 666.06,147.66 666.50,148.20 667.10,148.78 667.83,149.40 668.62,150.01 669.39,150.58 670.04,151.05 670.50,151.40" fill="none" stroke="#000000" stroke-width="0.55" stroke-linejoin="round" opacity="0.68"/>
<polyline points="503.80,38.00 506.56,38.31 510.38,38.73 514.90,39.24 519.76,39.79 524.58,40.35 529.00,40.90 533.09,41.42 537.16,41.93 541.20,42.45 545.19,43.01 549.13,43.62 553.00,44.30 556.84,45.05 560.67,45.87 564.44,46.73 568.11,47.64 571.65,48.60 575.00,49.60 578.15,50.62 581.11,51.66 583.94,52.75 586.67,53.90 589.34,55.15 592.00,56.50 594.69,58.03 597.37,59.73 600.00,61.52 602.52,63.31 604.87,65.04 607.00,66.60 608.87,67.98 610.52,69.25 612.00,70.44 613.37,71.60 614.69,72.77 616.00,74.00 617.30,75.29 618.54,76.61 619.72,77.94 620.85,79.27 621.94,80.56 623.00,81.80 624.02,82.97 624.98,84.09 625.91,85.18 626.80,86.26 627.66,87.36 628.50,88.50 629.31,89.68 630.09,90.88 630.84,92.09 631.57,93.32 632.29,94.56 633.00,95.80 633.70,97.03 634.39,98.26 635.06,99.49 635.72,100.74 636.37,102.04 637.00,103.40 637.61,104.80 638.20,106.22 638.78,107.68 639.35,109.20 639.92,110.80 640.50,112.50 641.09,114.37 641.69,116.40 642.28,118.52 642.87,120.62 643.45,122.61 644.00,124.40 644.53,125.96 645.06,127.35 645.56,128.64 646.06,129.87 646.53,131.11 647.00,132.40 647.45,133.77 647.89,135.17 648.31,136.57 648.72,137.94 649.12,139.26 649.50,140.50 649.87,141.65 650.23,142.73 650.57,143.76 650.90,144.74 651.21,145.68 651.50,146.60 651.75,147.53 651.95,148.47 652.13,149.38 652.33,150.20 652.58,150.89 652.90,151.40 653.35,151.68 653.92,151.76 654.54,151.70 655.13,151.58 655.64,151.46 656.00,151.40" fill="none" stroke="#a844b4" stroke-width="0.55" stroke-linejoin="round" opacity="0.68"/>
<rect x="497.10" y="32.60" width="179.70" height="160.40" fill="none" stroke="#999" stroke-width="0.9"/>
<text x="500.00" y="39.00" font-size="2.8" text-anchor="middle" fill="#666" stroke="#666" stroke-width="0.062">6</text>
<text x="500.00" y="104.20" font-size="2.8" text-anchor="middle" fill="#666" stroke="#666" stroke-width="0.062">7</text>
<text x="500.00" y="116.40" font-size="2.8" text-anchor="middle" fill="#666" stroke="#666" stroke-width="0.062">2</text>
<text x="500.00" y="130.30" font-size="2.8" text-anchor="middle" fill="#666" stroke="#666" stroke-width="0.062">12</text>
<text x="500.00" y="139.30" font-size="2.8" text-anchor="middle" fill="#666" stroke="#666" stroke-width="0.062">8</text>
<text x="500.00" y="142.40" font-size="2.8" text-anchor="middle" fill="#666" stroke="#666" stroke-width="0.062">4</text>
<text x="500.00" y="143.60" font-size="2.8" text-anchor="middle" fill="#666" stroke="#666" stroke-width="0.062">3</text>
<text x="500.00" y="148.60" font-size="2.8" text-anchor="middle" fill="#666" stroke="#666" stroke-width="0.062">9</text>
<text x="500.00" y="149.30" font-size="2.8" text-anchor="middle" fill="#666" stroke="#666" stroke-width="0.062">11</text>
<text x="500.00" y="153.60" font-size="2.8" text-anchor="middle" fill="#666" stroke="#666" stroke-width="0.062">1</text>
<text x="500.00" y="188.20" font-size="2.8" text-anchor="middle" fill="#666" stroke="#666" stroke-width="0.062">10</text>
<line x1="493.60" y1="190.70" x2="497.10" y2="190.70" stroke="#999" stroke-width="0.8"/>
<text x="489.60" y="190.70" font-size="5.2" text-anchor="middle" fill="#333" stroke="#333" stroke-width="0.114" transform="rotate(-90 489.60 190.70)">−0.2</text>
<line x1="493.60" y1="151.50" x2="497.10" y2="151.50" stroke="#999" stroke-width="0.8"/>
<text x="489.60" y="151.50" font-size="5.2" text-anchor="middle" fill="#333" stroke="#333" stroke-width="0.114" transform="rotate(-90 489.60 151.50)">0.0</text>
<line x1="493.60" y1="112.30" x2="497.10" y2="112.30" stroke="#999" stroke-width="0.8"/>
<text x="489.60" y="112.30" font-size="5.2" text-anchor="middle" fill="#333" stroke="#333" stroke-width="0.114" transform="rotate(-90 489.60 112.30)">0.2</text>
<line x1="493.60" y1="73.10" x2="497.10" y2="73.10" stroke="#999" stroke-width="0.8"/>
<text x="489.60" y="73.10" font-size="5.2" text-anchor="middle" fill="#333" stroke="#333" stroke-width="0.114" transform="rotate(-90 489.60 73.10)">0.4</text>
<line x1="493.60" y1="33.90" x2="497.10" y2="33.90" stroke="#999" stroke-width="0.8"/>
<text x="489.60" y="33.90" font-size="5.2" text-anchor="middle" fill="#333" stroke="#333" stroke-width="0.114" transform="rotate(-90 489.60 33.90)">0.6</text>
<line x1="522.60" y1="193.00" x2="522.60" y2="196.30" stroke="#999" stroke-width="0.8"/>
<text x="522.60" y="205.10" font-size="5.0" text-anchor="middle" fill="#333" stroke="#333" stroke-width="0.110">−6</text>
<line x1="560.05" y1="193.00" x2="560.05" y2="196.30" stroke="#999" stroke-width="0.8"/>
<text x="560.05" y="205.10" font-size="5.0" text-anchor="middle" fill="#333" stroke="#333" stroke-width="0.110">−5</text>
<line x1="597.50" y1="193.00" x2="597.50" y2="196.30" stroke="#999" stroke-width="0.8"/>
<text x="597.50" y="205.10" font-size="5.0" text-anchor="middle" fill="#333" stroke="#333" stroke-width="0.110">−4</text>
<line x1="634.95" y1="193.00" x2="634.95" y2="196.30" stroke="#999" stroke-width="0.8"/>
<text x="634.95" y="205.10" font-size="5.0" text-anchor="middle" fill="#333" stroke="#333" stroke-width="0.110">−3</text>
<line x1="672.40" y1="193.00" x2="672.40" y2="196.30" stroke="#999" stroke-width="0.8"/>
<text x="672.40" y="205.10" font-size="5.0" text-anchor="middle" fill="#333" stroke="#333" stroke-width="0.110">−2</text>
<line x1="522.60" y1="32.60" x2="522.60" y2="29.80" stroke="#999" stroke-width="0.8"/>
<text x="522.60" y="24.80" font-size="5.0" text-anchor="middle" fill="#333" stroke="#333" stroke-width="0.110">11</text>
<line x1="560.05" y1="32.60" x2="560.05" y2="29.80" stroke="#999" stroke-width="0.8"/>
<text x="560.05" y="24.80" font-size="5.0" text-anchor="middle" fill="#333" stroke="#333" stroke-width="0.110">9</text>
<line x1="597.50" y1="32.60" x2="597.50" y2="29.80" stroke="#999" stroke-width="0.8"/>
<text x="597.50" y="24.80" font-size="5.0" text-anchor="middle" fill="#333" stroke="#333" stroke-width="0.110">8</text>
<line x1="634.95" y1="32.60" x2="634.95" y2="29.80" stroke="#999" stroke-width="0.8"/>
<text x="634.95" y="24.80" font-size="5.0" text-anchor="middle" fill="#333" stroke="#333" stroke-width="0.110">5</text>
<line x1="672.40" y1="32.60" x2="672.40" y2="29.80" stroke="#999" stroke-width="0.8"/>
<text x="672.40" y="24.80" font-size="5.0" text-anchor="middle" fill="#333" stroke="#333" stroke-width="0.110">0</text>
<text x="477.20" y="112.80" font-size="5.1" text-anchor="middle" fill="#222" stroke="#222" stroke-width="0.112" transform="rotate(-90 477.20 112.80)">Coefficients</text>
<text x="586.90" y="216.80" font-size="5.2" text-anchor="middle" fill="#222" stroke="#222" stroke-width="0.114">Log Lambda</text>
<text x="46.45" y="264.25" font-size="12" text-anchor="start" fill="#000" font-weight="bold">D</text>
<polygon points="64.40,280.00 65.47,280.00 65.47,281.78 66.84,281.78 66.84,284.06 68.03,284.06 68.03,285.72 69.46,285.72 69.46,286.61 70.91,286.61 70.91,287.52 71.81,287.52 71.81,288.07 72.65,288.07 72.65,288.60 74.31,288.60 74.31,290.93 75.40,290.93 75.40,292.59 76.46,292.59 76.46,294.20 78.28,294.20 78.28,296.97 79.58,296.97 79.58,298.20 81.24,298.20 81.24,299.74 82.54,299.74 82.54,300.95 84.01,300.95 84.01,302.12 84.99,302.12 84.99,302.54 86.45,302.54 86.45,303.15 88.14,303.15 88.14,303.79 89.49,303.79 89.49,304.16 91.05,304.16 91.05,304.60 92.55,304.60 92.55,305.53 93.44,305.53 93.44,306.19 95.03,306.19 95.03,307.36 96.44,307.36 96.44,308.98 97.57,308.98 97.57,310.44 98.43,310.44 98.43,311.55 100.12,311.55 100.12,313.05 101.42,313.05 101.42,313.74 102.97,313.74 102.97,314.56 104.67,314.56 104.67,315.47 107.95,315.47 107.95,315.49 111.58,315.49 111.58,315.50 116.89,315.50 116.89,315.99 120.72,315.99 120.72,316.46 126.59,316.46 126.59,317.12 132.22,317.12 132.22,318.33 134.04,318.33 134.04,316.50 139.01,316.50 139.01,318.30 176.31,318.30 176.31,315.20 179.30,315.20 179.30,316.30 212.46,316.30 212.46,308.20 231.86,308.20 231.86,367.40 212.46,367.40 212.46,357.90 179.30,357.90 179.30,348.40 176.31,348.40 176.31,335.40 139.01,335.40 139.01,333.50 134.04,333.50 134.04,334.48 132.22,334.48 132.22,332.72 126.59,332.72 126.59,331.49 120.72,331.49 120.72,330.66 116.89,330.66 116.89,329.50 111.58,329.50 111.58,328.92 107.95,328.92 107.95,328.39 104.67,328.39 104.67,327.22 102.97,327.22 102.97,326.16 101.42,326.16 101.42,325.26 100.12,325.26 100.12,323.50 98.43,323.50 98.43,322.26 97.57,322.26 97.57,320.62 96.44,320.62 96.44,318.77 95.03,318.77 95.03,317.36 93.44,317.36 93.44,316.56 92.55,316.56 92.55,315.39 91.05,315.39 91.05,314.72 89.49,314.72 89.49,314.13 88.14,314.13 88.14,313.23 86.45,313.23 86.45,312.39 84.99,312.39 84.99,311.83 84.01,311.83 84.01,310.44 82.54,310.44 82.54,309.03 81.24,309.03 81.24,307.24 79.58,307.24 79.58,305.82 78.28,305.82 78.28,302.77 76.46,302.77 76.46,300.99 75.40,300.99 75.40,299.17 74.31,299.17 74.31,296.56 72.65,296.56 72.65,295.22 71.81,295.22 71.81,293.80 70.91,293.80 70.91,291.50 69.46,291.50 69.46,289.23 68.03,289.23 68.03,286.41 66.84,286.41 66.84,282.80 65.47,282.80 65.47,280.00 64.40,280.00" fill="#f0c9b5"/>
<polygon points="64.40,280.00 66.76,280.00 66.76,279.90 68.83,279.90 68.83,279.81 71.22,279.81 71.22,279.71 73.51,279.71 73.51,279.92 75.99,279.92 75.99,280.71 78.04,280.71 78.04,281.36 79.42,281.36 79.42,281.80 81.72,281.80 81.72,282.96 84.16,282.96 84.16,284.24 86.52,284.24 86.52,285.45 88.44,285.45 88.44,286.25 90.54,286.25 90.54,287.25 91.98,287.25 91.98,288.24 94.25,288.24 94.25,289.79 96.17,289.79 96.17,290.89 97.71,290.89 97.71,291.50 98.95,291.50 98.95,292.00 101.25,292.00 101.25,293.42 103.72,293.42 103.72,295.08 105.00,295.08 105.00,295.81 107.22,295.81 107.22,296.38 108.92,296.38 108.92,296.82 110.28,296.82 110.28,297.17 111.84,297.17 111.84,297.57 114.02,297.57 114.02,298.37 116.33,298.37 116.33,299.40 117.55,299.40 117.55,299.94 119.53,299.94 119.53,301.03 120.75,301.03 120.75,301.71 122.86,301.71 122.86,302.91 124.46,302.91 124.46,303.49 126.79,303.49 126.79,304.27 129.25,304.27 129.25,305.09 131.08,305.09 131.08,305.71 133.57,305.71 133.57,306.54 134.04,306.54 134.04,307.00 138.18,307.00 138.18,309.00 142.33,309.00 142.33,311.00 146.47,311.00 146.47,313.00 150.62,313.00 150.62,315.00 161.06,315.00 161.06,318.30 176.31,318.30 176.31,320.50 179.30,320.50 179.30,322.80 206.49,322.80 206.49,324.30 222.90,324.30 222.90,359.30 206.49,359.30 206.49,352.80 179.30,352.80 179.30,347.00 176.31,347.00 176.31,341.60 161.06,341.60 161.06,335.50 150.62,335.50 150.62,333.50 146.47,333.50 146.47,329.50 142.33,329.50 142.33,325.50 138.18,325.50 138.18,322.00 134.04,322.00 134.04,322.81 133.57,322.81 133.57,321.74 131.08,321.74 131.08,320.95 129.25,320.95 129.25,319.89 126.79,319.89 126.79,318.89 124.46,318.89 124.46,318.15 122.86,318.15 122.86,316.75 120.75,316.75 120.75,315.95 119.53,315.95 119.53,314.67 117.55,314.67 117.55,314.01 116.33,314.01 116.33,312.75 114.02,312.75 114.02,311.61 111.84,311.61 111.84,310.97 110.28,310.97 110.28,310.40 108.92,310.40 108.92,309.70 107.22,309.70 107.22,308.78 105.00,308.78 105.00,307.85 103.72,307.85 103.72,305.81 101.25,305.81 101.25,304.03 98.95,304.03 98.95,303.34 97.71,303.34 97.71,302.49 96.17,302.49 96.17,301.09 94.25,301.09 94.25,299.18 91.98,299.18 91.98,297.97 90.54,297.97 90.54,296.63 88.44,296.63 88.44,295.53 86.52,295.53 86.52,293.97 84.16,293.97 84.16,292.32 81.72,292.32 81.72,290.82 79.42,290.82 79.42,290.17 78.04,290.17 78.04,289.21 75.99,289.21 75.99,288.04 73.51,288.04 73.51,286.29 71.22,286.29 71.22,284.08 68.83,284.08 68.83,282.18 66.76,282.18 66.76,280.00 64.40,280.00" fill="rgb(84,84,166)" fill-opacity="0.36"/>
<polyline points="64.40,280.00 65.47,280.00 65.47,282.29 66.84,282.29 66.84,285.24 68.03,285.24 68.03,287.48 69.46,287.48 69.46,289.06 70.91,289.06 70.91,290.66 71.81,290.66 71.81,291.65 72.65,291.65 72.65,292.58 74.31,292.58 74.31,295.05 75.40,295.05 75.40,296.79 76.46,296.79 76.46,298.49 78.28,298.49 78.28,301.39 79.58,301.39 79.58,302.72 81.24,302.72 81.24,304.39 82.54,304.39 82.54,305.70 84.01,305.70 84.01,306.98 84.99,306.98 84.99,307.46 86.45,307.46 86.45,308.19 88.14,308.19 88.14,308.96 89.49,308.96 89.49,309.44 91.05,309.44 91.05,310.00 92.55,310.00 92.55,311.05 93.44,311.05 93.44,311.77 95.03,311.77 95.03,313.07 96.44,313.07 96.44,314.80 97.57,314.80 97.57,316.35 98.43,316.35 98.43,317.53 100.12,317.53 100.12,319.16 101.42,319.16 101.42,319.95 102.97,319.95 102.97,320.89 104.67,320.89 104.67,321.93 107.95,321.93 107.95,322.21 111.58,322.21 111.58,322.50 116.89,322.50 116.89,323.32 120.72,323.32 120.72,323.97 126.59,323.97 126.59,324.92 132.22,324.92 132.22,326.41 134.62,326.41 134.62,327.17 176.31,327.17 176.31,327.17 176.31,327.17 176.31,336.01 179.30,336.01 179.30,344.31 212.46,344.31 212.46,357.39 231.86,357.39 231.86,357.39" fill="none" stroke="#d7302a" stroke-width="1.3"/>
<polyline points="64.40,280.00 66.76,280.00 66.76,281.04 68.83,281.04 68.83,281.94 71.22,281.94 71.22,283.00 73.51,283.00 73.51,283.98 75.99,283.98 75.99,284.96 78.04,284.96 78.04,285.77 79.42,285.77 79.42,286.31 81.72,286.31 81.72,287.64 84.16,287.64 84.16,289.10 86.52,289.10 86.52,290.49 88.44,290.49 88.44,291.44 90.54,291.44 90.54,292.61 91.98,292.61 91.98,293.71 94.25,293.71 94.25,295.44 96.17,295.44 96.17,296.69 97.71,296.69 97.71,297.42 98.95,297.42 98.95,298.01 101.25,298.01 101.25,299.61 103.72,299.61 103.72,301.46 105.00,301.46 105.00,302.29 107.22,302.29 107.22,303.04 108.92,303.04 108.92,303.61 110.28,303.61 110.28,304.07 111.84,304.07 111.84,304.59 114.02,304.59 114.02,305.56 116.33,305.56 116.33,306.70 117.55,306.70 117.55,307.31 119.53,307.31 119.53,308.49 120.75,308.49 120.75,309.23 122.86,309.23 122.86,310.53 124.46,310.53 124.46,311.19 126.79,311.19 126.79,312.08 129.25,312.08 129.25,313.02 131.08,313.02 131.08,313.72 133.57,313.72 133.57,314.68 135.14,314.68 135.14,315.81 136.40,315.81 136.40,316.76 138.36,316.76 138.36,318.24 139.56,318.24 139.56,319.67 140.98,319.67 140.98,321.79 143.99,321.79 143.99,324.00 147.68,324.00 147.68,325.46 149.85,325.46 149.85,326.54 161.06,326.54 161.06,326.54 161.06,326.54 161.06,332.32 176.31,332.32 176.31,336.38 179.30,336.38 179.30,341.43 206.49,341.43 206.49,348.37 222.90,348.37 222.90,348.37" fill="none" stroke="#2e4fa3" stroke-width="1.3"/>
<line x1="65.23" y1="278.50" x2="65.23" y2="281.50" stroke="#d7302a" stroke-width="1.0"/>
<line x1="64.13" y1="280.00" x2="66.33" y2="280.00" stroke="#d7302a" stroke-width="1.0"/>
<line x1="69.37" y1="285.98" x2="69.37" y2="288.98" stroke="#d7302a" stroke-width="1.0"/>
<line x1="68.27" y1="287.48" x2="70.47" y2="287.48" stroke="#d7302a" stroke-width="1.0"/>
<line x1="79.32" y1="299.89" x2="79.32" y2="302.89" stroke="#d7302a" stroke-width="1.0"/>
<line x1="78.22" y1="301.39" x2="80.42" y2="301.39" stroke="#d7302a" stroke-width="1.0"/>
<line x1="89.27" y1="307.46" x2="89.27" y2="310.46" stroke="#d7302a" stroke-width="1.0"/>
<line x1="88.17" y1="308.96" x2="90.37" y2="308.96" stroke="#d7302a" stroke-width="1.0"/>
<line x1="95.90" y1="311.57" x2="95.90" y2="314.57" stroke="#d7302a" stroke-width="1.0"/>
<line x1="94.80" y1="313.07" x2="97.00" y2="313.07" stroke="#d7302a" stroke-width="1.0"/>
<line x1="105.85" y1="320.43" x2="105.85" y2="323.43" stroke="#d7302a" stroke-width="1.0"/>
<line x1="104.75" y1="321.93" x2="106.95" y2="321.93" stroke="#d7302a" stroke-width="1.0"/>
<line x1="109.17" y1="320.71" x2="109.17" y2="323.71" stroke="#d7302a" stroke-width="1.0"/>
<line x1="108.07" y1="322.21" x2="110.27" y2="322.21" stroke="#d7302a" stroke-width="1.0"/>
<line x1="112.48" y1="321.00" x2="112.48" y2="324.00" stroke="#d7302a" stroke-width="1.0"/>
<line x1="111.38" y1="322.50" x2="113.58" y2="322.50" stroke="#d7302a" stroke-width="1.0"/>
<line x1="114.14" y1="321.00" x2="114.14" y2="324.00" stroke="#d7302a" stroke-width="1.0"/>
<line x1="113.04" y1="322.50" x2="115.24" y2="322.50" stroke="#d7302a" stroke-width="1.0"/>
<line x1="115.80" y1="321.00" x2="115.80" y2="324.00" stroke="#d7302a" stroke-width="1.0"/>
<line x1="114.70" y1="322.50" x2="116.90" y2="322.50" stroke="#d7302a" stroke-width="1.0"/>
<line x1="119.11" y1="321.82" x2="119.11" y2="324.82" stroke="#d7302a" stroke-width="1.0"/>
<line x1="118.01" y1="323.32" x2="120.21" y2="323.32" stroke="#d7302a" stroke-width="1.0"/>
<line x1="124.09" y1="322.47" x2="124.09" y2="325.47" stroke="#d7302a" stroke-width="1.0"/>
<line x1="122.99" y1="323.97" x2="125.19" y2="323.97" stroke="#d7302a" stroke-width="1.0"/>
<line x1="125.75" y1="322.47" x2="125.75" y2="325.47" stroke="#d7302a" stroke-width="1.0"/>
<line x1="124.65" y1="323.97" x2="126.85" y2="323.97" stroke="#d7302a" stroke-width="1.0"/>
<line x1="129.06" y1="323.42" x2="129.06" y2="326.42" stroke="#d7302a" stroke-width="1.0"/>
<line x1="127.96" y1="324.92" x2="130.16" y2="324.92" stroke="#d7302a" stroke-width="1.0"/>
<line x1="130.72" y1="323.42" x2="130.72" y2="326.42" stroke="#d7302a" stroke-width="1.0"/>
<line x1="129.62" y1="324.92" x2="131.82" y2="324.92" stroke="#d7302a" stroke-width="1.0"/>
<line x1="135.69" y1="325.67" x2="135.69" y2="328.67" stroke="#d7302a" stroke-width="1.0"/>
<line x1="134.59" y1="327.17" x2="136.79" y2="327.17" stroke="#d7302a" stroke-width="1.0"/>
<line x1="140.67" y1="325.67" x2="140.67" y2="328.67" stroke="#d7302a" stroke-width="1.0"/>
<line x1="139.57" y1="327.17" x2="141.77" y2="327.17" stroke="#d7302a" stroke-width="1.0"/>
<line x1="145.64" y1="325.67" x2="145.64" y2="328.67" stroke="#d7302a" stroke-width="1.0"/>
<line x1="144.54" y1="327.17" x2="146.74" y2="327.17" stroke="#d7302a" stroke-width="1.0"/>
<line x1="152.27" y1="325.67" x2="152.27" y2="328.67" stroke="#d7302a" stroke-width="1.0"/>
<line x1="151.17" y1="327.17" x2="153.37" y2="327.17" stroke="#d7302a" stroke-width="1.0"/>
<line x1="157.25" y1="325.67" x2="157.25" y2="328.67" stroke="#d7302a" stroke-width="1.0"/>
<line x1="156.15" y1="327.17" x2="158.35" y2="327.17" stroke="#d7302a" stroke-width="1.0"/>
<line x1="163.88" y1="325.67" x2="163.88" y2="328.67" stroke="#d7302a" stroke-width="1.0"/>
<line x1="162.78" y1="327.17" x2="164.98" y2="327.17" stroke="#d7302a" stroke-width="1.0"/>
<line x1="170.51" y1="325.67" x2="170.51" y2="328.67" stroke="#d7302a" stroke-width="1.0"/>
<line x1="169.41" y1="327.17" x2="171.61" y2="327.17" stroke="#d7302a" stroke-width="1.0"/>
<line x1="172.17" y1="325.67" x2="172.17" y2="328.67" stroke="#d7302a" stroke-width="1.0"/>
<line x1="171.07" y1="327.17" x2="173.27" y2="327.17" stroke="#d7302a" stroke-width="1.0"/>
<line x1="173.83" y1="325.67" x2="173.83" y2="328.67" stroke="#d7302a" stroke-width="1.0"/>
<line x1="172.73" y1="327.17" x2="174.93" y2="327.17" stroke="#d7302a" stroke-width="1.0"/>
<line x1="175.49" y1="325.67" x2="175.49" y2="328.67" stroke="#d7302a" stroke-width="1.0"/>
<line x1="174.39" y1="327.17" x2="176.59" y2="327.17" stroke="#d7302a" stroke-width="1.0"/>
<line x1="187.09" y1="342.81" x2="187.09" y2="345.81" stroke="#d7302a" stroke-width="1.0"/>
<line x1="185.99" y1="344.31" x2="188.19" y2="344.31" stroke="#d7302a" stroke-width="1.0"/>
<line x1="230.20" y1="355.89" x2="230.20" y2="358.89" stroke="#d7302a" stroke-width="1.0"/>
<line x1="229.10" y1="357.39" x2="231.30" y2="357.39" stroke="#d7302a" stroke-width="1.0"/>
<line x1="65.23" y1="278.50" x2="65.23" y2="281.50" stroke="#2e4fa3" stroke-width="1.0"/>
<line x1="64.13" y1="280.00" x2="66.33" y2="280.00" stroke="#2e4fa3" stroke-width="1.0"/>
<line x1="67.72" y1="279.54" x2="67.72" y2="282.54" stroke="#2e4fa3" stroke-width="1.0"/>
<line x1="66.62" y1="281.04" x2="68.82" y2="281.04" stroke="#2e4fa3" stroke-width="1.0"/>
<line x1="72.69" y1="281.50" x2="72.69" y2="284.50" stroke="#2e4fa3" stroke-width="1.0"/>
<line x1="71.59" y1="283.00" x2="73.79" y2="283.00" stroke="#2e4fa3" stroke-width="1.0"/>
<line x1="76.01" y1="283.46" x2="76.01" y2="286.46" stroke="#2e4fa3" stroke-width="1.0"/>
<line x1="74.91" y1="284.96" x2="77.11" y2="284.96" stroke="#2e4fa3" stroke-width="1.0"/>
<line x1="80.98" y1="284.81" x2="80.98" y2="287.81" stroke="#2e4fa3" stroke-width="1.0"/>
<line x1="79.88" y1="286.31" x2="82.08" y2="286.31" stroke="#2e4fa3" stroke-width="1.0"/>
<line x1="84.30" y1="287.60" x2="84.30" y2="290.60" stroke="#2e4fa3" stroke-width="1.0"/>
<line x1="83.20" y1="289.10" x2="85.40" y2="289.10" stroke="#2e4fa3" stroke-width="1.0"/>
<line x1="90.93" y1="291.11" x2="90.93" y2="294.11" stroke="#2e4fa3" stroke-width="1.0"/>
<line x1="89.83" y1="292.61" x2="92.03" y2="292.61" stroke="#2e4fa3" stroke-width="1.0"/>
<line x1="97.56" y1="295.19" x2="97.56" y2="298.19" stroke="#2e4fa3" stroke-width="1.0"/>
<line x1="96.46" y1="296.69" x2="98.66" y2="296.69" stroke="#2e4fa3" stroke-width="1.0"/>
<line x1="104.19" y1="299.96" x2="104.19" y2="302.96" stroke="#2e4fa3" stroke-width="1.0"/>
<line x1="103.09" y1="301.46" x2="105.29" y2="301.46" stroke="#2e4fa3" stroke-width="1.0"/>
<line x1="109.17" y1="302.11" x2="109.17" y2="305.11" stroke="#2e4fa3" stroke-width="1.0"/>
<line x1="108.07" y1="303.61" x2="110.27" y2="303.61" stroke="#2e4fa3" stroke-width="1.0"/>
<line x1="110.82" y1="302.57" x2="110.82" y2="305.57" stroke="#2e4fa3" stroke-width="1.0"/>
<line x1="109.72" y1="304.07" x2="111.92" y2="304.07" stroke="#2e4fa3" stroke-width="1.0"/>
<line x1="114.14" y1="304.06" x2="114.14" y2="307.06" stroke="#2e4fa3" stroke-width="1.0"/>
<line x1="113.04" y1="305.56" x2="115.24" y2="305.56" stroke="#2e4fa3" stroke-width="1.0"/>
<line x1="117.46" y1="305.20" x2="117.46" y2="308.20" stroke="#2e4fa3" stroke-width="1.0"/>
<line x1="116.36" y1="306.70" x2="118.56" y2="306.70" stroke="#2e4fa3" stroke-width="1.0"/>
<line x1="120.77" y1="307.73" x2="120.77" y2="310.73" stroke="#2e4fa3" stroke-width="1.0"/>
<line x1="119.67" y1="309.23" x2="121.87" y2="309.23" stroke="#2e4fa3" stroke-width="1.0"/>
<line x1="124.09" y1="309.03" x2="124.09" y2="312.03" stroke="#2e4fa3" stroke-width="1.0"/>
<line x1="122.99" y1="310.53" x2="125.19" y2="310.53" stroke="#2e4fa3" stroke-width="1.0"/>
<line x1="125.75" y1="309.69" x2="125.75" y2="312.69" stroke="#2e4fa3" stroke-width="1.0"/>
<line x1="124.65" y1="311.19" x2="126.85" y2="311.19" stroke="#2e4fa3" stroke-width="1.0"/>
<line x1="130.72" y1="311.52" x2="130.72" y2="314.52" stroke="#2e4fa3" stroke-width="1.0"/>
<line x1="129.62" y1="313.02" x2="131.82" y2="313.02" stroke="#2e4fa3" stroke-width="1.0"/>
<line x1="135.69" y1="314.31" x2="135.69" y2="317.31" stroke="#2e4fa3" stroke-width="1.0"/>
<line x1="134.59" y1="315.81" x2="136.79" y2="315.81" stroke="#2e4fa3" stroke-width="1.0"/>
<line x1="140.67" y1="318.17" x2="140.67" y2="321.17" stroke="#2e4fa3" stroke-width="1.0"/>
<line x1="139.57" y1="319.67" x2="141.77" y2="319.67" stroke="#2e4fa3" stroke-width="1.0"/>
<line x1="143.98" y1="320.29" x2="143.98" y2="323.29" stroke="#2e4fa3" stroke-width="1.0"/>
<line x1="142.88" y1="321.79" x2="145.08" y2="321.79" stroke="#2e4fa3" stroke-width="1.0"/>
<line x1="145.64" y1="322.50" x2="145.64" y2="325.50" stroke="#2e4fa3" stroke-width="1.0"/>
<line x1="144.54" y1="324.00" x2="146.74" y2="324.00" stroke="#2e4fa3" stroke-width="1.0"/>
<line x1="147.30" y1="322.50" x2="147.30" y2="325.50" stroke="#2e4fa3" stroke-width="1.0"/>
<line x1="146.20" y1="324.00" x2="148.40" y2="324.00" stroke="#2e4fa3" stroke-width="1.0"/>
<line x1="148.96" y1="323.96" x2="148.96" y2="326.96" stroke="#2e4fa3" stroke-width="1.0"/>
<line x1="147.86" y1="325.46" x2="150.06" y2="325.46" stroke="#2e4fa3" stroke-width="1.0"/>
<line x1="150.62" y1="325.04" x2="150.62" y2="328.04" stroke="#2e4fa3" stroke-width="1.0"/>
<line x1="149.52" y1="326.54" x2="151.72" y2="326.54" stroke="#2e4fa3" stroke-width="1.0"/>
<line x1="155.59" y1="325.04" x2="155.59" y2="328.04" stroke="#2e4fa3" stroke-width="1.0"/>
<line x1="154.49" y1="326.54" x2="156.69" y2="326.54" stroke="#2e4fa3" stroke-width="1.0"/>
<line x1="162.22" y1="330.82" x2="162.22" y2="333.82" stroke="#2e4fa3" stroke-width="1.0"/>
<line x1="161.12" y1="332.32" x2="163.32" y2="332.32" stroke="#2e4fa3" stroke-width="1.0"/>
<line x1="165.54" y1="330.82" x2="165.54" y2="333.82" stroke="#2e4fa3" stroke-width="1.0"/>
<line x1="164.44" y1="332.32" x2="166.64" y2="332.32" stroke="#2e4fa3" stroke-width="1.0"/>
<line x1="168.85" y1="330.82" x2="168.85" y2="333.82" stroke="#2e4fa3" stroke-width="1.0"/>
<line x1="167.75" y1="332.32" x2="169.95" y2="332.32" stroke="#2e4fa3" stroke-width="1.0"/>
<line x1="172.17" y1="330.82" x2="172.17" y2="333.82" stroke="#2e4fa3" stroke-width="1.0"/>
<line x1="171.07" y1="332.32" x2="173.27" y2="332.32" stroke="#2e4fa3" stroke-width="1.0"/>
<line x1="173.83" y1="330.82" x2="173.83" y2="333.82" stroke="#2e4fa3" stroke-width="1.0"/>
<line x1="172.73" y1="332.32" x2="174.93" y2="332.32" stroke="#2e4fa3" stroke-width="1.0"/>
<line x1="178.80" y1="334.88" x2="178.80" y2="337.88" stroke="#2e4fa3" stroke-width="1.0"/>
<line x1="177.70" y1="336.38" x2="179.90" y2="336.38" stroke="#2e4fa3" stroke-width="1.0"/>
<line x1="188.75" y1="339.93" x2="188.75" y2="342.93" stroke="#2e4fa3" stroke-width="1.0"/>
<line x1="187.65" y1="341.43" x2="189.85" y2="341.43" stroke="#2e4fa3" stroke-width="1.0"/>
<line x1="210.30" y1="346.87" x2="210.30" y2="349.87" stroke="#2e4fa3" stroke-width="1.0"/>
<line x1="209.20" y1="348.37" x2="211.40" y2="348.37" stroke="#2e4fa3" stroke-width="1.0"/>
<line x1="218.59" y1="346.87" x2="218.59" y2="349.87" stroke="#2e4fa3" stroke-width="1.0"/>
<line x1="217.49" y1="348.37" x2="219.69" y2="348.37" stroke="#2e4fa3" stroke-width="1.0"/>
<line x1="221.08" y1="346.87" x2="221.08" y2="349.87" stroke="#2e4fa3" stroke-width="1.0"/>
<line x1="219.98" y1="348.37" x2="222.18" y2="348.37" stroke="#2e4fa3" stroke-width="1.0"/>
<line x1="56.40" y1="275.50" x2="56.40" y2="374.30" stroke="#333" stroke-width="0.9"/>
<line x1="56.40" y1="374.30" x2="238.30" y2="374.30" stroke="#333" stroke-width="0.9"/>
<line x1="54.30" y1="370.20" x2="56.40" y2="370.20" stroke="#333" stroke-width="0.8"/>
<text x="53.60" y="372.20" font-size="5.6" text-anchor="end" fill="#333" stroke="#333" stroke-width="0.123">0.00</text>
<line x1="54.30" y1="347.65" x2="56.40" y2="347.65" stroke="#333" stroke-width="0.8"/>
<text x="53.60" y="349.65" font-size="5.6" text-anchor="end" fill="#333" stroke="#333" stroke-width="0.123">0.25</text>
<line x1="54.30" y1="325.10" x2="56.40" y2="325.10" stroke="#333" stroke-width="0.8"/>
<text x="53.60" y="327.10" font-size="5.6" text-anchor="end" fill="#333" stroke="#333" stroke-width="0.123">0.50</text>
<line x1="54.30" y1="302.55" x2="56.40" y2="302.55" stroke="#333" stroke-width="0.8"/>
<text x="53.60" y="304.55" font-size="5.6" text-anchor="end" fill="#333" stroke="#333" stroke-width="0.123">0.75</text>
<line x1="54.30" y1="280.00" x2="56.40" y2="280.00" stroke="#333" stroke-width="0.8"/>
<text x="53.60" y="282.00" font-size="5.6" text-anchor="end" fill="#333" stroke="#333" stroke-width="0.123">1.00</text>
<line x1="64.40" y1="374.30" x2="64.40" y2="376.50" stroke="#333" stroke-width="0.8"/>
<text x="64.40" y="381.80" font-size="6.0" text-anchor="middle" fill="#222" stroke="#222" stroke-width="0.132">0</text>
<line x1="80.98" y1="374.30" x2="80.98" y2="376.50" stroke="#333" stroke-width="0.8"/>
<text x="80.98" y="381.80" font-size="6.0" text-anchor="middle" fill="#222" stroke="#222" stroke-width="0.132">1</text>
<line x1="97.56" y1="374.30" x2="97.56" y2="376.50" stroke="#333" stroke-width="0.8"/>
<text x="97.56" y="381.80" font-size="6.0" text-anchor="middle" fill="#222" stroke="#222" stroke-width="0.132">2</text>
<line x1="114.14" y1="374.30" x2="114.14" y2="376.50" stroke="#333" stroke-width="0.8"/>
<text x="114.14" y="381.80" font-size="6.0" text-anchor="middle" fill="#222" stroke="#222" stroke-width="0.132">3</text>
<line x1="130.72" y1="374.30" x2="130.72" y2="376.50" stroke="#333" stroke-width="0.8"/>
<text x="130.72" y="381.80" font-size="6.0" text-anchor="middle" fill="#222" stroke="#222" stroke-width="0.132">4</text>
<line x1="147.30" y1="374.30" x2="147.30" y2="376.50" stroke="#333" stroke-width="0.8"/>
<text x="147.30" y="381.80" font-size="6.0" text-anchor="middle" fill="#222" stroke="#222" stroke-width="0.132">5</text>
<line x1="163.88" y1="374.30" x2="163.88" y2="376.50" stroke="#333" stroke-width="0.8"/>
<text x="163.88" y="381.80" font-size="6.0" text-anchor="middle" fill="#222" stroke="#222" stroke-width="0.132">6</text>
<line x1="180.46" y1="374.30" x2="180.46" y2="376.50" stroke="#333" stroke-width="0.8"/>
<text x="180.46" y="381.80" font-size="6.0" text-anchor="middle" fill="#222" stroke="#222" stroke-width="0.132">7</text>
<line x1="197.04" y1="374.30" x2="197.04" y2="376.50" stroke="#333" stroke-width="0.8"/>
<text x="197.04" y="381.80" font-size="6.0" text-anchor="middle" fill="#222" stroke="#222" stroke-width="0.132">8</text>
<line x1="213.62" y1="374.30" x2="213.62" y2="376.50" stroke="#333" stroke-width="0.8"/>
<text x="213.62" y="381.80" font-size="6.0" text-anchor="middle" fill="#222" stroke="#222" stroke-width="0.132">9</text>
<line x1="230.20" y1="374.30" x2="230.20" y2="376.50" stroke="#333" stroke-width="0.8"/>
<text x="230.20" y="381.80" font-size="6.0" text-anchor="middle" fill="#222" stroke="#222" stroke-width="0.132">10</text>
<text x="147.40" y="390.40" font-size="7.0" text-anchor="middle" fill="#111" stroke="#111" stroke-width="0.154">Time(years)</text>
<text x="29.30" y="325.00" font-size="6.7" text-anchor="middle" fill="#111" stroke="#111" stroke-width="0.147" transform="rotate(-90 29.30 325.00)">Survival probability</text>
<text x="67.50" y="355.60" font-size="8.2" text-anchor="start" fill="#111" stroke="#111" stroke-width="0.180">p=0.002</text>
<text x="112.50" y="265.20" font-size="4.8" text-anchor="start" fill="#222" stroke="#222" stroke-width="0.106">Risk</text>
<rect x="124.00" y="260.20" width="7.60" height="6.60" fill="#f0c9b5"/>
<line x1="124.50" y1="263.50" x2="131.10" y2="263.50" stroke="#d7302a" stroke-width="1.2"/>
<line x1="127.80" y1="262.00" x2="127.80" y2="265.00" stroke="#d7302a" stroke-width="1.0"/>
<text x="133.90" y="265.20" font-size="4.8" text-anchor="start" fill="#222" stroke="#222" stroke-width="0.106">High risk</text>
<rect x="155.40" y="260.20" width="7.60" height="6.60" fill="#c3c3e0"/>
<line x1="155.90" y1="263.50" x2="162.50" y2="263.50" stroke="#2e4fa3" stroke-width="1.2"/>
<line x1="159.20" y1="262.00" x2="159.20" y2="265.00" stroke="#2e4fa3" stroke-width="1.0"/>
<text x="165.60" y="265.20" font-size="4.8" text-anchor="start" fill="#222" stroke="#222" stroke-width="0.106">Low risk</text>
<text x="64.40" y="412.40" font-size="6.3" text-anchor="middle" fill="#111" stroke="#111" stroke-width="0.139">182</text>
<text x="64.40" y="419.60" font-size="6.3" text-anchor="middle" fill="#111" stroke="#111" stroke-width="0.139">183</text>
<line x1="64.40" y1="421.20" x2="64.40" y2="423.20" stroke="#333" stroke-width="0.8"/>
<text x="64.40" y="428.30" font-size="6.2" text-anchor="middle" fill="#222" stroke="#222" stroke-width="0.136">0</text>
<text x="80.98" y="412.40" font-size="6.3" text-anchor="middle" fill="#111" stroke="#111" stroke-width="0.139">117</text>
<text x="80.98" y="419.60" font-size="6.3" text-anchor="middle" fill="#111" stroke="#111" stroke-width="0.139">144</text>
<line x1="80.98" y1="421.20" x2="80.98" y2="423.20" stroke="#333" stroke-width="0.8"/>
<text x="80.98" y="428.30" font-size="6.2" text-anchor="middle" fill="#222" stroke="#222" stroke-width="0.136">1</text>
<text x="97.56" y="412.40" font-size="6.3" text-anchor="middle" fill="#111" stroke="#111" stroke-width="0.139">59</text>
<text x="97.56" y="419.60" font-size="6.3" text-anchor="middle" fill="#111" stroke="#111" stroke-width="0.139">81</text>
<line x1="97.56" y1="421.20" x2="97.56" y2="423.20" stroke="#333" stroke-width="0.8"/>
<text x="97.56" y="428.30" font-size="6.2" text-anchor="middle" fill="#222" stroke="#222" stroke-width="0.136">2</text>
<text x="114.14" y="412.40" font-size="6.3" text-anchor="middle" fill="#111" stroke="#111" stroke-width="0.139">37</text>
<text x="114.14" y="419.60" font-size="6.3" text-anchor="middle" fill="#111" stroke="#111" stroke-width="0.139">53</text>
<line x1="114.14" y1="421.20" x2="114.14" y2="423.20" stroke="#333" stroke-width="0.8"/>
<text x="114.14" y="428.30" font-size="6.2" text-anchor="middle" fill="#222" stroke="#222" stroke-width="0.136">3</text>
<text x="130.72" y="412.40" font-size="6.3" text-anchor="middle" fill="#111" stroke="#111" stroke-width="0.139">24</text>
<text x="130.72" y="419.60" font-size="6.3" text-anchor="middle" fill="#111" stroke="#111" stroke-width="0.139">39</text>
<line x1="130.72" y1="421.20" x2="130.72" y2="423.20" stroke="#333" stroke-width="0.8"/>
<text x="130.72" y="428.30" font-size="6.2" text-anchor="middle" fill="#222" stroke="#222" stroke-width="0.136">4</text>
<text x="147.30" y="412.40" font-size="6.3" text-anchor="middle" fill="#111" stroke="#111" stroke-width="0.139">16</text>
<text x="147.30" y="419.60" font-size="6.3" text-anchor="middle" fill="#111" stroke="#111" stroke-width="0.139">24</text>
<line x1="147.30" y1="421.20" x2="147.30" y2="423.20" stroke="#333" stroke-width="0.8"/>
<text x="147.30" y="428.30" font-size="6.2" text-anchor="middle" fill="#222" stroke="#222" stroke-width="0.136">5</text>
<text x="163.88" y="412.40" font-size="6.3" text-anchor="middle" fill="#111" stroke="#111" stroke-width="0.139">13</text>
<text x="163.88" y="419.60" font-size="6.3" text-anchor="middle" fill="#111" stroke="#111" stroke-width="0.139">13</text>
<line x1="163.88" y1="421.20" x2="163.88" y2="423.20" stroke="#333" stroke-width="0.8"/>
<text x="163.88" y="428.30" font-size="6.2" text-anchor="middle" fill="#222" stroke="#222" stroke-width="0.136">6</text>
<text x="180.46" y="412.40" font-size="6.3" text-anchor="middle" fill="#111" stroke="#111" stroke-width="0.139">3</text>
<text x="180.46" y="419.60" font-size="6.3" text-anchor="middle" fill="#111" stroke="#111" stroke-width="0.139">6</text>
<line x1="180.46" y1="421.20" x2="180.46" y2="423.20" stroke="#333" stroke-width="0.8"/>
<text x="180.46" y="428.30" font-size="6.2" text-anchor="middle" fill="#222" stroke="#222" stroke-width="0.136">7</text>
<text x="197.04" y="412.40" font-size="6.3" text-anchor="middle" fill="#111" stroke="#111" stroke-width="0.139">2</text>
<text x="197.04" y="419.60" font-size="6.3" text-anchor="middle" fill="#111" stroke="#111" stroke-width="0.139">4</text>
<line x1="197.04" y1="421.20" x2="197.04" y2="423.20" stroke="#333" stroke-width="0.8"/>
<text x="197.04" y="428.30" font-size="6.2" text-anchor="middle" fill="#222" stroke="#222" stroke-width="0.136">8</text>
<text x="213.62" y="412.40" font-size="6.3" text-anchor="middle" fill="#111" stroke="#111" stroke-width="0.139">1</text>
<text x="213.62" y="419.60" font-size="6.3" text-anchor="middle" fill="#111" stroke="#111" stroke-width="0.139">3</text>
<line x1="213.62" y1="421.20" x2="213.62" y2="423.20" stroke="#333" stroke-width="0.8"/>
<text x="213.62" y="428.30" font-size="6.2" text-anchor="middle" fill="#222" stroke="#222" stroke-width="0.136">9</text>
<text x="230.20" y="412.40" font-size="6.3" text-anchor="middle" fill="#111" stroke="#111" stroke-width="0.139">1</text>
<text x="230.20" y="419.60" font-size="6.3" text-anchor="middle" fill="#111" stroke="#111" stroke-width="0.139">0</text>
<line x1="230.20" y1="421.20" x2="230.20" y2="423.20" stroke="#333" stroke-width="0.8"/>
<text x="230.20" y="428.30" font-size="6.2" text-anchor="middle" fill="#222" stroke="#222" stroke-width="0.136">10</text>
<line x1="56.40" y1="405.80" x2="56.40" y2="421.20" stroke="#333" stroke-width="0.9"/>
<line x1="56.40" y1="421.20" x2="238.30" y2="421.20" stroke="#333" stroke-width="0.9"/>
<line x1="54.50" y1="410.00" x2="56.40" y2="410.00" stroke="#333" stroke-width="0.8"/>
<line x1="54.50" y1="416.80" x2="56.40" y2="416.80" stroke="#333" stroke-width="0.8"/>
<text x="53.70" y="412.10" font-size="5.6" text-anchor="end" fill="#d7302a" stroke="#d7302a" stroke-width="0.123">High risk</text>
<text x="53.70" y="418.90" font-size="5.6" text-anchor="end" fill="#2e4fa3" stroke="#2e4fa3" stroke-width="0.123">Low risk</text>
<text x="28.80" y="413.40" font-size="7.0" text-anchor="middle" fill="#111" stroke="#111" stroke-width="0.154" transform="rotate(-90 28.80 413.40)">Risk</text>
<text x="147.40" y="436.60" font-size="7.0" text-anchor="middle" fill="#111" stroke="#111" stroke-width="0.154">Time(years)</text>
<text x="46.45" y="454.00" font-size="12" text-anchor="start" fill="#000" font-weight="bold">E</text>
<circle cx="88.69" cy="489.12" r="1.25" fill="#d8342c"/>
<circle cx="96.28" cy="498.82" r="1.25" fill="#d8342c"/>
<circle cx="100.13" cy="499.05" r="1.25" fill="#d8342c"/>
<circle cx="95.11" cy="504.89" r="1.25" fill="#d8342c"/>
<circle cx="95.69" cy="506.06" r="1.25" fill="#d8342c"/>
<circle cx="90.79" cy="508.39" r="1.25" fill="#d8342c"/>
<circle cx="92.19" cy="508.63" r="1.25" fill="#d8342c"/>
<circle cx="94.76" cy="509.56" r="1.25" fill="#d8342c"/>
<circle cx="96.63" cy="509.56" r="1.25" fill="#d8342c"/>
<circle cx="98.03" cy="510.15" r="1.25" fill="#d8342c"/>
<circle cx="117.30" cy="508.74" r="1.25" fill="#d8342c"/>
<circle cx="131.90" cy="504.89" r="1.25" fill="#d8342c"/>
<circle cx="131.90" cy="513.42" r="1.25" fill="#d8342c"/>
<circle cx="121.39" cy="516.80" r="1.25" fill="#d8342c"/>
<circle cx="123.72" cy="516.57" r="1.25" fill="#d8342c"/>
<circle cx="125.82" cy="515.99" r="1.25" fill="#d8342c"/>
<circle cx="127.23" cy="515.40" r="1.25" fill="#d8342c"/>
<circle cx="104.80" cy="521.01" r="1.25" fill="#d8342c"/>
<circle cx="108.31" cy="524.16" r="1.25" fill="#d8342c"/>
<circle cx="109.12" cy="523.58" r="1.25" fill="#d8342c"/>
<circle cx="113.21" cy="525.33" r="1.25" fill="#d8342c"/>
<circle cx="116.13" cy="527.31" r="1.25" fill="#d8342c"/>
<circle cx="117.88" cy="527.08" r="1.25" fill="#d8342c"/>
<circle cx="84.60" cy="529.42" r="1.25" fill="#d8342c"/>
<circle cx="153.43" cy="508.98" r="1.25" fill="#d8342c"/>
<circle cx="158.10" cy="511.31" r="1.25" fill="#d8342c"/>
<circle cx="159.85" cy="514.23" r="1.25" fill="#d8342c"/>
<circle cx="168.61" cy="507.23" r="1.25" fill="#d8342c"/>
<circle cx="168.03" cy="509.56" r="1.25" fill="#d8342c"/>
<circle cx="163.36" cy="519.49" r="1.25" fill="#d8342c"/>
<circle cx="162.19" cy="522.99" r="1.25" fill="#d8342c"/>
<circle cx="162.77" cy="523.58" r="1.25" fill="#d8342c"/>
<circle cx="173.28" cy="527.66" r="1.25" fill="#d8342c"/>
<circle cx="169.20" cy="528.83" r="1.25" fill="#d8342c"/>
<circle cx="142.10" cy="526.50" r="1.25" fill="#d8342c"/>
<circle cx="144.91" cy="525.68" r="1.25" fill="#d8342c"/>
<circle cx="104.80" cy="521.40" r="1.25" fill="#d8342c"/>
<circle cx="108.54" cy="524.09" r="1.25" fill="#d8342c"/>
<circle cx="109.12" cy="524.91" r="1.25" fill="#d8342c"/>
<circle cx="113.21" cy="525.61" r="1.25" fill="#d8342c"/>
<circle cx="116.13" cy="527.59" r="1.25" fill="#d8342c"/>
<circle cx="117.88" cy="527.24" r="1.25" fill="#d8342c"/>
<circle cx="106.20" cy="529.93" r="1.25" fill="#d8342c"/>
<circle cx="107.96" cy="528.18" r="1.25" fill="#d8342c"/>
<circle cx="110.29" cy="529.11" r="1.25" fill="#d8342c"/>
<circle cx="106.20" cy="531.68" r="1.25" fill="#d8342c"/>
<circle cx="107.37" cy="533.43" r="1.25" fill="#d8342c"/>
<circle cx="108.54" cy="534.60" r="1.25" fill="#d8342c"/>
<circle cx="109.71" cy="535.18" r="1.25" fill="#d8342c"/>
<circle cx="107.96" cy="536.35" r="1.25" fill="#d8342c"/>
<circle cx="103.87" cy="536.12" r="1.25" fill="#d8342c"/>
<circle cx="100.95" cy="536.93" r="1.25" fill="#d8342c"/>
<circle cx="111.46" cy="537.52" r="1.25" fill="#d8342c"/>
<circle cx="112.63" cy="539.85" r="1.25" fill="#d8342c"/>
<circle cx="113.80" cy="541.61" r="1.25" fill="#d8342c"/>
<circle cx="119.05" cy="536.35" r="1.25" fill="#d8342c"/>
<circle cx="119.64" cy="537.75" r="1.25" fill="#d8342c"/>
<circle cx="123.72" cy="536.35" r="1.25" fill="#d8342c"/>
<circle cx="126.06" cy="542.77" r="1.25" fill="#d8342c"/>
<circle cx="130.73" cy="534.25" r="1.25" fill="#d8342c"/>
<circle cx="136.57" cy="530.74" r="1.25" fill="#d8342c"/>
<circle cx="138.32" cy="530.28" r="1.25" fill="#d8342c"/>
<circle cx="141.82" cy="529.34" r="1.25" fill="#d8342c"/>
<circle cx="142.41" cy="526.42" r="1.25" fill="#d8342c"/>
<circle cx="144.74" cy="525.61" r="1.25" fill="#d8342c"/>
<circle cx="144.74" cy="531.09" r="1.25" fill="#d8342c"/>
<circle cx="142.99" cy="538.92" r="1.25" fill="#d8342c"/>
<circle cx="146.50" cy="539.27" r="1.25" fill="#d8342c"/>
<circle cx="149.42" cy="537.75" r="1.25" fill="#d8342c"/>
<circle cx="84.60" cy="529.58" r="1.25" fill="#d8342c"/>
<circle cx="88.10" cy="531.09" r="1.25" fill="#d8342c"/>
<circle cx="87.52" cy="532.85" r="1.25" fill="#d8342c"/>
<circle cx="86.35" cy="533.78" r="1.25" fill="#d8342c"/>
<circle cx="93.12" cy="533.78" r="1.25" fill="#d8342c"/>
<circle cx="78.41" cy="534.95" r="1.25" fill="#d8342c"/>
<circle cx="81.09" cy="535.42" r="1.25" fill="#d8342c"/>
<circle cx="87.52" cy="539.27" r="1.25" fill="#d8342c"/>
<circle cx="86.35" cy="541.02" r="1.25" fill="#d8342c"/>
<circle cx="85.18" cy="542.77" r="1.25" fill="#d8342c"/>
<circle cx="82.85" cy="544.18" r="1.25" fill="#d8342c"/>
<circle cx="86.35" cy="544.53" r="1.25" fill="#d8342c"/>
<circle cx="89.85" cy="545.69" r="1.25" fill="#d8342c"/>
<circle cx="92.77" cy="547.80" r="1.25" fill="#d8342c"/>
<circle cx="95.93" cy="549.78" r="1.25" fill="#d8342c"/>
<circle cx="110.06" cy="548.26" r="1.25" fill="#d8342c"/>
<circle cx="102.12" cy="552.12" r="1.25" fill="#d8342c"/>
<circle cx="103.28" cy="551.53" r="1.25" fill="#d8342c"/>
<circle cx="105.62" cy="552.93" r="1.25" fill="#d8342c"/>
<circle cx="106.79" cy="553.28" r="1.25" fill="#d8342c"/>
<circle cx="109.71" cy="554.80" r="1.25" fill="#d8342c"/>
<circle cx="82.26" cy="561.81" r="1.25" fill="#d8342c"/>
<circle cx="83.78" cy="562.28" r="1.25" fill="#d8342c"/>
<circle cx="85.18" cy="565.31" r="1.25" fill="#d8342c"/>
<circle cx="89.27" cy="563.21" r="1.25" fill="#d8342c"/>
<circle cx="91.02" cy="562.98" r="1.25" fill="#d8342c"/>
<circle cx="94.53" cy="562.04" r="1.25" fill="#d8342c"/>
<circle cx="95.11" cy="560.29" r="1.25" fill="#d8342c"/>
<circle cx="95.69" cy="559.47" r="1.25" fill="#d8342c"/>
<circle cx="93.94" cy="563.45" r="1.25" fill="#d8342c"/>
<circle cx="89.85" cy="567.65" r="1.25" fill="#d8342c"/>
<circle cx="91.02" cy="567.88" r="1.25" fill="#d8342c"/>
<circle cx="110.29" cy="567.65" r="1.25" fill="#d8342c"/>
<circle cx="110.88" cy="569.05" r="1.25" fill="#d8342c"/>
<circle cx="109.71" cy="571.15" r="1.25" fill="#d8342c"/>
<circle cx="110.29" cy="573.14" r="1.25" fill="#d8342c"/>
<circle cx="110.88" cy="576.06" r="1.25" fill="#d8342c"/>
<circle cx="110.29" cy="573.72" r="1.25" fill="#d8342c"/>
<circle cx="113.80" cy="566.13" r="1.25" fill="#d8342c"/>
<circle cx="116.72" cy="564.38" r="1.25" fill="#d8342c"/>
<circle cx="116.13" cy="567.88" r="1.25" fill="#d8342c"/>
<circle cx="101.53" cy="570.80" r="1.25" fill="#d8342c"/>
<circle cx="105.04" cy="570.45" r="1.25" fill="#d8342c"/>
<circle cx="105.04" cy="573.72" r="1.25" fill="#d8342c"/>
<circle cx="99.78" cy="580.15" r="1.25" fill="#d8342c"/>
<circle cx="101.53" cy="578.16" r="1.25" fill="#d8342c"/>
<circle cx="103.87" cy="580.50" r="1.25" fill="#d8342c"/>
<circle cx="109.12" cy="580.73" r="1.25" fill="#d8342c"/>
<circle cx="110.29" cy="581.55" r="1.25" fill="#d8342c"/>
<circle cx="127.81" cy="555.62" r="1.25" fill="#d8342c"/>
<circle cx="128.98" cy="557.14" r="1.25" fill="#d8342c"/>
<circle cx="130.73" cy="557.96" r="1.25" fill="#d8342c"/>
<circle cx="133.65" cy="555.04" r="1.25" fill="#d8342c"/>
<circle cx="136.80" cy="553.64" r="1.25" fill="#d8342c"/>
<circle cx="133.65" cy="559.12" r="1.25" fill="#d8342c"/>
<circle cx="136.57" cy="559.12" r="1.25" fill="#d8342c"/>
<circle cx="134.00" cy="564.15" r="1.25" fill="#d8342c"/>
<circle cx="136.57" cy="587.50" r="1.25" fill="#d8342c"/>
<circle cx="137.74" cy="588.91" r="1.25" fill="#d8342c"/>
<circle cx="138.91" cy="590.07" r="1.25" fill="#d8342c"/>
<circle cx="140.07" cy="587.15" r="1.25" fill="#d8342c"/>
<circle cx="141.24" cy="585.40" r="1.25" fill="#d8342c"/>
<circle cx="141.82" cy="592.99" r="1.25" fill="#d8342c"/>
<circle cx="144.16" cy="586.80" r="1.25" fill="#d8342c"/>
<circle cx="148.25" cy="585.64" r="1.25" fill="#d8342c"/>
<circle cx="138.91" cy="590.66" r="1.25" fill="#d8342c"/>
<circle cx="141.75" cy="525.84" r="1.25" fill="#d8342c"/>
<circle cx="144.67" cy="525.61" r="1.25" fill="#d8342c"/>
<circle cx="141.75" cy="529.34" r="1.25" fill="#d8342c"/>
<circle cx="144.91" cy="531.09" r="1.25" fill="#d8342c"/>
<circle cx="162.19" cy="522.92" r="1.25" fill="#d8342c"/>
<circle cx="162.77" cy="523.50" r="1.25" fill="#d8342c"/>
<circle cx="169.20" cy="528.76" r="1.25" fill="#d8342c"/>
<circle cx="173.28" cy="527.94" r="1.25" fill="#d8342c"/>
<circle cx="155.18" cy="533.78" r="1.25" fill="#d8342c"/>
<circle cx="159.27" cy="534.95" r="1.25" fill="#d8342c"/>
<circle cx="160.44" cy="533.43" r="1.25" fill="#d8342c"/>
<circle cx="163.94" cy="535.18" r="1.25" fill="#d8342c"/>
<circle cx="151.09" cy="536.93" r="1.25" fill="#d8342c"/>
<circle cx="149.34" cy="537.75" r="1.25" fill="#d8342c"/>
<circle cx="142.92" cy="538.92" r="1.25" fill="#d8342c"/>
<circle cx="146.42" cy="539.62" r="1.25" fill="#d8342c"/>
<circle cx="166.86" cy="542.77" r="1.25" fill="#d8342c"/>
<circle cx="168.61" cy="547.80" r="1.25" fill="#d8342c"/>
<circle cx="183.80" cy="540.79" r="1.25" fill="#d8342c"/>
<circle cx="189.05" cy="541.61" r="1.25" fill="#d8342c"/>
<circle cx="196.64" cy="538.10" r="1.25" fill="#d8342c"/>
<circle cx="197.81" cy="541.61" r="1.25" fill="#d8342c"/>
<circle cx="159.27" cy="554.45" r="1.25" fill="#d8342c"/>
<circle cx="160.44" cy="555.62" r="1.25" fill="#d8342c"/>
<circle cx="165.11" cy="553.87" r="1.25" fill="#d8342c"/>
<circle cx="169.78" cy="552.70" r="1.25" fill="#d8342c"/>
<circle cx="171.53" cy="552.47" r="1.25" fill="#d8342c"/>
<circle cx="173.28" cy="551.53" r="1.25" fill="#d8342c"/>
<circle cx="173.28" cy="555.04" r="1.25" fill="#d8342c"/>
<circle cx="180.88" cy="564.96" r="1.25" fill="#d8342c"/>
<circle cx="180.29" cy="566.72" r="1.25" fill="#d8342c"/>
<circle cx="179.71" cy="568.47" r="1.25" fill="#d8342c"/>
<circle cx="178.54" cy="570.22" r="1.25" fill="#d8342c"/>
<circle cx="177.37" cy="571.39" r="1.25" fill="#d8342c"/>
<circle cx="176.20" cy="572.55" r="1.25" fill="#d8342c"/>
<circle cx="183.80" cy="570.80" r="1.25" fill="#d8342c"/>
<circle cx="180.29" cy="573.72" r="1.25" fill="#d8342c"/>
<circle cx="180.88" cy="574.89" r="1.25" fill="#d8342c"/>
<circle cx="182.63" cy="574.31" r="1.25" fill="#d8342c"/>
<circle cx="180.29" cy="577.23" r="1.25" fill="#d8342c"/>
<circle cx="173.28" cy="575.47" r="1.25" fill="#d8342c"/>
<circle cx="171.53" cy="582.48" r="1.25" fill="#d8342c"/>
<circle cx="163.36" cy="581.90" r="1.25" fill="#d8342c"/>
<circle cx="162.77" cy="583.65" r="1.25" fill="#d8342c"/>
<circle cx="163.94" cy="584.82" r="1.25" fill="#d8342c"/>
<circle cx="167.45" cy="587.15" r="1.25" fill="#d8342c"/>
<circle cx="166.86" cy="588.32" r="1.25" fill="#d8342c"/>
<circle cx="158.69" cy="587.15" r="1.25" fill="#d8342c"/>
<circle cx="157.52" cy="589.84" r="1.25" fill="#d8342c"/>
<circle cx="161.61" cy="588.91" r="1.25" fill="#d8342c"/>
<circle cx="153.43" cy="588.32" r="1.25" fill="#d8342c"/>
<circle cx="152.85" cy="589.49" r="1.25" fill="#d8342c"/>
<circle cx="148.41" cy="585.40" r="1.25" fill="#d8342c"/>
<circle cx="144.67" cy="586.57" r="1.25" fill="#d8342c"/>
<circle cx="141.17" cy="585.40" r="1.25" fill="#d8342c"/>
<circle cx="140.58" cy="588.32" r="1.25" fill="#d8342c"/>
<circle cx="141.40" cy="592.99" r="1.25" fill="#d8342c"/>
<circle cx="171.53" cy="590.07" r="1.25" fill="#d8342c"/>
<circle cx="173.28" cy="591.01" r="1.25" fill="#d8342c"/>
<circle cx="175.04" cy="591.82" r="1.25" fill="#d8342c"/>
<circle cx="175.62" cy="592.41" r="1.25" fill="#d8342c"/>
<circle cx="101.30" cy="468.45" r="1.25" fill="#23489e"/>
<circle cx="102.47" cy="468.10" r="1.25" fill="#23489e"/>
<circle cx="104.45" cy="467.75" r="1.25" fill="#23489e"/>
<circle cx="107.37" cy="469.27" r="1.25" fill="#23489e"/>
<circle cx="108.54" cy="468.92" r="1.25" fill="#23489e"/>
<circle cx="106.79" cy="471.61" r="1.25" fill="#23489e"/>
<circle cx="107.14" cy="472.19" r="1.25" fill="#23489e"/>
<circle cx="110.29" cy="468.45" r="1.25" fill="#23489e"/>
<circle cx="112.63" cy="468.45" r="1.25" fill="#23489e"/>
<circle cx="114.15" cy="468.69" r="1.25" fill="#23489e"/>
<circle cx="117.30" cy="468.92" r="1.25" fill="#23489e"/>
<circle cx="117.65" cy="470.44" r="1.25" fill="#23489e"/>
<circle cx="117.88" cy="471.61" r="1.25" fill="#23489e"/>
<circle cx="122.55" cy="468.10" r="1.25" fill="#23489e"/>
<circle cx="126.64" cy="464.60" r="1.25" fill="#23489e"/>
<circle cx="128.98" cy="465.18" r="1.25" fill="#23489e"/>
<circle cx="130.73" cy="464.95" r="1.25" fill="#23489e"/>
<circle cx="132.48" cy="466.35" r="1.25" fill="#23489e"/>
<circle cx="133.65" cy="461.68" r="1.25" fill="#23489e"/>
<circle cx="134.00" cy="465.18" r="1.25" fill="#23489e"/>
<circle cx="134.82" cy="466.93" r="1.25" fill="#23489e"/>
<circle cx="135.40" cy="466.35" r="1.25" fill="#23489e"/>
<circle cx="134.00" cy="468.10" r="1.25" fill="#23489e"/>
<circle cx="135.99" cy="466.70" r="1.25" fill="#23489e"/>
<circle cx="134.82" cy="468.69" r="1.25" fill="#23489e"/>
<circle cx="91.26" cy="485.04" r="1.25" fill="#23489e"/>
<circle cx="92.19" cy="485.62" r="1.25" fill="#23489e"/>
<circle cx="92.77" cy="485.04" r="1.25" fill="#23489e"/>
<circle cx="95.11" cy="483.87" r="1.25" fill="#23489e"/>
<circle cx="96.28" cy="483.28" r="1.25" fill="#23489e"/>
<circle cx="99.78" cy="481.77" r="1.25" fill="#23489e"/>
<circle cx="103.87" cy="480.95" r="1.25" fill="#23489e"/>
<circle cx="95.11" cy="486.44" r="1.25" fill="#23489e"/>
<circle cx="97.45" cy="489.12" r="1.25" fill="#23489e"/>
<circle cx="98.03" cy="492.04" r="1.25" fill="#23489e"/>
<circle cx="90.79" cy="491.46" r="1.25" fill="#23489e"/>
<circle cx="94.29" cy="492.63" r="1.25" fill="#23489e"/>
<circle cx="100.13" cy="497.65" r="1.25" fill="#23489e"/>
<circle cx="101.53" cy="496.95" r="1.25" fill="#23489e"/>
<circle cx="102.93" cy="496.48" r="1.25" fill="#23489e"/>
<circle cx="104.45" cy="496.95" r="1.25" fill="#23489e"/>
<circle cx="107.14" cy="495.78" r="1.25" fill="#23489e"/>
<circle cx="110.29" cy="492.04" r="1.25" fill="#23489e"/>
<circle cx="112.63" cy="500.45" r="1.25" fill="#23489e"/>
<circle cx="114.15" cy="500.22" r="1.25" fill="#23489e"/>
<circle cx="114.96" cy="496.72" r="1.25" fill="#23489e"/>
<circle cx="115.55" cy="497.88" r="1.25" fill="#23489e"/>
<circle cx="114.15" cy="504.66" r="1.25" fill="#23489e"/>
<circle cx="114.96" cy="506.64" r="1.25" fill="#23489e"/>
<circle cx="119.64" cy="494.15" r="1.25" fill="#23489e"/>
<circle cx="120.80" cy="494.96" r="1.25" fill="#23489e"/>
<circle cx="122.55" cy="494.38" r="1.25" fill="#23489e"/>
<circle cx="124.31" cy="494.73" r="1.25" fill="#23489e"/>
<circle cx="125.47" cy="494.38" r="1.25" fill="#23489e"/>
<circle cx="127.23" cy="493.21" r="1.25" fill="#23489e"/>
<circle cx="128.39" cy="492.28" r="1.25" fill="#23489e"/>
<circle cx="128.39" cy="494.15" r="1.25" fill="#23489e"/>
<circle cx="127.81" cy="483.28" r="1.25" fill="#23489e"/>
<circle cx="128.98" cy="482.70" r="1.25" fill="#23489e"/>
<circle cx="129.56" cy="482.12" r="1.25" fill="#23489e"/>
<circle cx="133.65" cy="483.05" r="1.25" fill="#23489e"/>
<circle cx="135.40" cy="483.28" r="1.25" fill="#23489e"/>
<circle cx="136.57" cy="481.53" r="1.25" fill="#23489e"/>
<circle cx="137.74" cy="482.12" r="1.25" fill="#23489e"/>
<circle cx="138.32" cy="478.03" r="1.25" fill="#23489e"/>
<circle cx="140.07" cy="476.86" r="1.25" fill="#23489e"/>
<circle cx="141.82" cy="477.45" r="1.25" fill="#23489e"/>
<circle cx="142.99" cy="481.53" r="1.25" fill="#23489e"/>
<circle cx="138.91" cy="486.79" r="1.25" fill="#23489e"/>
<circle cx="139.49" cy="489.12" r="1.25" fill="#23489e"/>
<circle cx="142.99" cy="486.20" r="1.25" fill="#23489e"/>
<circle cx="144.16" cy="486.79" r="1.25" fill="#23489e"/>
<circle cx="132.48" cy="503.14" r="1.25" fill="#23489e"/>
<circle cx="133.65" cy="502.55" r="1.25" fill="#23489e"/>
<circle cx="135.99" cy="500.80" r="1.25" fill="#23489e"/>
<circle cx="137.15" cy="500.45" r="1.25" fill="#23489e"/>
<circle cx="99.78" cy="510.96" r="1.25" fill="#23489e"/>
<circle cx="128.39" cy="511.90" r="1.25" fill="#23489e"/>
<circle cx="128.98" cy="513.65" r="1.25" fill="#23489e"/>
<circle cx="131.31" cy="516.80" r="1.25" fill="#23489e"/>
<circle cx="134.82" cy="517.50" r="1.25" fill="#23489e"/>
<circle cx="139.49" cy="524.74" r="1.25" fill="#23489e"/>
<circle cx="104.80" cy="527.08" r="1.25" fill="#23489e"/>
<circle cx="173.28" cy="462.26" r="1.25" fill="#23489e"/>
<circle cx="176.79" cy="463.43" r="1.25" fill="#23489e"/>
<circle cx="177.96" cy="464.60" r="1.25" fill="#23489e"/>
<circle cx="179.71" cy="467.52" r="1.25" fill="#23489e"/>
<circle cx="182.04" cy="465.77" r="1.25" fill="#23489e"/>
<circle cx="170.95" cy="466.35" r="1.25" fill="#23489e"/>
<circle cx="170.13" cy="469.27" r="1.25" fill="#23489e"/>
<circle cx="171.53" cy="468.69" r="1.25" fill="#23489e"/>
<circle cx="173.28" cy="469.27" r="1.25" fill="#23489e"/>
<circle cx="170.60" cy="471.26" r="1.25" fill="#23489e"/>
<circle cx="173.87" cy="472.77" r="1.25" fill="#23489e"/>
<circle cx="166.28" cy="472.19" r="1.25" fill="#23489e"/>
<circle cx="168.03" cy="473.36" r="1.25" fill="#23489e"/>
<circle cx="141.17" cy="476.86" r="1.25" fill="#23489e"/>
<circle cx="142.92" cy="481.77" r="1.25" fill="#23489e"/>
<circle cx="142.34" cy="486.20" r="1.25" fill="#23489e"/>
<circle cx="143.50" cy="485.62" r="1.25" fill="#23489e"/>
<circle cx="150.51" cy="487.96" r="1.25" fill="#23489e"/>
<circle cx="186.13" cy="475.93" r="1.25" fill="#23489e"/>
<circle cx="187.88" cy="477.80" r="1.25" fill="#23489e"/>
<circle cx="193.72" cy="476.86" r="1.25" fill="#23489e"/>
<circle cx="194.89" cy="478.03" r="1.25" fill="#23489e"/>
<circle cx="196.06" cy="477.80" r="1.25" fill="#23489e"/>
<circle cx="198.39" cy="478.61" r="1.25" fill="#23489e"/>
<circle cx="200.15" cy="478.61" r="1.25" fill="#23489e"/>
<circle cx="193.14" cy="480.36" r="1.25" fill="#23489e"/>
<circle cx="194.89" cy="481.30" r="1.25" fill="#23489e"/>
<circle cx="193.72" cy="482.70" r="1.25" fill="#23489e"/>
<circle cx="193.14" cy="483.28" r="1.25" fill="#23489e"/>
<circle cx="190.22" cy="483.87" r="1.25" fill="#23489e"/>
<circle cx="186.72" cy="484.45" r="1.25" fill="#23489e"/>
<circle cx="186.13" cy="486.20" r="1.25" fill="#23489e"/>
<circle cx="187.30" cy="486.79" r="1.25" fill="#23489e"/>
<circle cx="182.04" cy="484.45" r="1.25" fill="#23489e"/>
<circle cx="203.65" cy="483.87" r="1.25" fill="#23489e"/>
<circle cx="205.40" cy="483.28" r="1.25" fill="#23489e"/>
<circle cx="206.57" cy="483.87" r="1.25" fill="#23489e"/>
<circle cx="200.73" cy="491.46" r="1.25" fill="#23489e"/>
<circle cx="204.82" cy="490.88" r="1.25" fill="#23489e"/>
<circle cx="180.88" cy="503.49" r="1.25" fill="#23489e"/>
<circle cx="184.96" cy="503.49" r="1.25" fill="#23489e"/>
<circle cx="189.05" cy="505.47" r="1.25" fill="#23489e"/>
<circle cx="191.97" cy="500.45" r="1.25" fill="#23489e"/>
<circle cx="193.14" cy="506.06" r="1.25" fill="#23489e"/>
<circle cx="197.81" cy="503.14" r="1.25" fill="#23489e"/>
<circle cx="200.73" cy="499.05" r="1.25" fill="#23489e"/>
<circle cx="201.90" cy="501.39" r="1.25" fill="#23489e"/>
<circle cx="204.82" cy="502.55" r="1.25" fill="#23489e"/>
<circle cx="205.99" cy="504.31" r="1.25" fill="#23489e"/>
<circle cx="198.39" cy="507.23" r="1.25" fill="#23489e"/>
<circle cx="191.97" cy="510.73" r="1.25" fill="#23489e"/>
<circle cx="196.06" cy="510.73" r="1.25" fill="#23489e"/>
<circle cx="198.39" cy="509.56" r="1.25" fill="#23489e"/>
<circle cx="200.73" cy="511.90" r="1.25" fill="#23489e"/>
<circle cx="198.98" cy="513.07" r="1.25" fill="#23489e"/>
<circle cx="195.47" cy="514.47" r="1.25" fill="#23489e"/>
<circle cx="199.56" cy="515.40" r="1.25" fill="#23489e"/>
<circle cx="200.73" cy="516.57" r="1.25" fill="#23489e"/>
<circle cx="206.57" cy="515.40" r="1.25" fill="#23489e"/>
<circle cx="210.07" cy="507.23" r="1.25" fill="#23489e"/>
<circle cx="211.24" cy="507.81" r="1.25" fill="#23489e"/>
<circle cx="210.66" cy="513.07" r="1.25" fill="#23489e"/>
<circle cx="210.66" cy="515.40" r="1.25" fill="#23489e"/>
<circle cx="208.91" cy="508.39" r="1.25" fill="#23489e"/>
<circle cx="159.85" cy="510.73" r="1.25" fill="#23489e"/>
<circle cx="167.45" cy="513.65" r="1.25" fill="#23489e"/>
<circle cx="169.78" cy="513.07" r="1.25" fill="#23489e"/>
<circle cx="171.53" cy="513.07" r="1.25" fill="#23489e"/>
<circle cx="180.88" cy="515.99" r="1.25" fill="#23489e"/>
<circle cx="183.80" cy="517.50" r="1.25" fill="#23489e"/>
<circle cx="164.53" cy="520.31" r="1.25" fill="#23489e"/>
<circle cx="170.95" cy="523.34" r="1.25" fill="#23489e"/>
<circle cx="175.62" cy="523.58" r="1.25" fill="#23489e"/>
<circle cx="178.54" cy="522.41" r="1.25" fill="#23489e"/>
<circle cx="180.29" cy="524.16" r="1.25" fill="#23489e"/>
<circle cx="177.37" cy="527.08" r="1.25" fill="#23489e"/>
<circle cx="179.71" cy="527.66" r="1.25" fill="#23489e"/>
<circle cx="182.04" cy="527.08" r="1.25" fill="#23489e"/>
<circle cx="146.42" cy="523.58" r="1.25" fill="#23489e"/>
<circle cx="145.84" cy="524.74" r="1.25" fill="#23489e"/>
<circle cx="186.72" cy="529.42" r="1.25" fill="#23489e"/>
<circle cx="104.80" cy="527.24" r="1.25" fill="#23489e"/>
<circle cx="139.14" cy="525.26" r="1.25" fill="#23489e"/>
<circle cx="145.91" cy="524.09" r="1.25" fill="#23489e"/>
<circle cx="146.50" cy="524.91" r="1.25" fill="#23489e"/>
<circle cx="145.84" cy="523.50" r="1.25" fill="#23489e"/>
<circle cx="147.01" cy="524.67" r="1.25" fill="#23489e"/>
<circle cx="170.95" cy="522.92" r="1.25" fill="#23489e"/>
<circle cx="175.62" cy="523.50" r="1.25" fill="#23489e"/>
<circle cx="179.12" cy="522.10" r="1.25" fill="#23489e"/>
<circle cx="180.29" cy="523.50" r="1.25" fill="#23489e"/>
<circle cx="180.88" cy="524.44" r="1.25" fill="#23489e"/>
<circle cx="176.79" cy="527.24" r="1.25" fill="#23489e"/>
<circle cx="178.54" cy="527.94" r="1.25" fill="#23489e"/>
<circle cx="182.04" cy="527.01" r="1.25" fill="#23489e"/>
<circle cx="182.63" cy="531.68" r="1.25" fill="#23489e"/>
<circle cx="186.13" cy="531.68" r="1.25" fill="#23489e"/>
<circle cx="187.30" cy="530.28" r="1.25" fill="#23489e"/>
<circle cx="166.86" cy="535.77" r="1.25" fill="#23489e"/>
<circle cx="193.14" cy="536.93" r="1.25" fill="#23489e"/>
<circle cx="184.96" cy="541.02" r="1.25" fill="#23489e"/>
<circle cx="186.13" cy="542.77" r="1.25" fill="#23489e"/>
<circle cx="184.96" cy="544.53" r="1.25" fill="#23489e"/>
<circle cx="186.72" cy="546.28" r="1.25" fill="#23489e"/>
<circle cx="187.88" cy="545.11" r="1.25" fill="#23489e"/>
<circle cx="190.80" cy="546.28" r="1.25" fill="#23489e"/>
<circle cx="167.45" cy="545.11" r="1.25" fill="#23489e"/>
<circle cx="168.61" cy="545.93" r="1.25" fill="#23489e"/>
<circle cx="177.96" cy="554.10" r="1.25" fill="#23489e"/>
<circle cx="179.71" cy="554.80" r="1.25" fill="#23489e"/>
<circle cx="180.29" cy="558.54" r="1.25" fill="#23489e"/>
<circle cx="180.88" cy="560.29" r="1.25" fill="#23489e"/>
<circle cx="181.46" cy="561.81" r="1.25" fill="#23489e"/>
<circle cx="164.53" cy="520.58" r="1.25" fill="#23489e"/>
<rect x="72.00" y="455.40" width="145.60" height="143.90" fill="none" stroke="#b0b0b0" stroke-width="0.9"/>
<line x1="70.20" y1="590.90" x2="72.00" y2="590.90" stroke="#666" stroke-width="0.7"/>
<text x="69.00" y="592.60" font-size="4.8" text-anchor="end" fill="#444" stroke="#444" stroke-width="0.106">−30</text>
<line x1="70.20" y1="568.70" x2="72.00" y2="568.70" stroke="#666" stroke-width="0.7"/>
<text x="69.00" y="570.40" font-size="4.8" text-anchor="end" fill="#444" stroke="#444" stroke-width="0.106">−20</text>
<line x1="70.20" y1="546.50" x2="72.00" y2="546.50" stroke="#666" stroke-width="0.7"/>
<text x="69.00" y="548.20" font-size="4.8" text-anchor="end" fill="#444" stroke="#444" stroke-width="0.106">−10</text>
<line x1="70.20" y1="524.30" x2="72.00" y2="524.30" stroke="#666" stroke-width="0.7"/>
<text x="69.00" y="526.00" font-size="4.8" text-anchor="end" fill="#444" stroke="#444" stroke-width="0.106">0</text>
<line x1="70.20" y1="502.10" x2="72.00" y2="502.10" stroke="#666" stroke-width="0.7"/>
<text x="69.00" y="503.80" font-size="4.8" text-anchor="end" fill="#444" stroke="#444" stroke-width="0.106">10</text>
<line x1="70.20" y1="479.90" x2="72.00" y2="479.90" stroke="#666" stroke-width="0.7"/>
<text x="69.00" y="481.60" font-size="4.8" text-anchor="end" fill="#444" stroke="#444" stroke-width="0.106">20</text>
<line x1="70.20" y1="457.70" x2="72.00" y2="457.70" stroke="#666" stroke-width="0.7"/>
<text x="69.00" y="459.40" font-size="4.8" text-anchor="end" fill="#444" stroke="#444" stroke-width="0.106">30</text>
<line x1="108.00" y1="599.30" x2="108.00" y2="601.10" stroke="#666" stroke-width="0.7"/>
<text x="108.00" y="605.70" font-size="4.8" text-anchor="middle" fill="#444" stroke="#444" stroke-width="0.106">−10</text>
<line x1="144.30" y1="599.30" x2="144.30" y2="601.10" stroke="#666" stroke-width="0.7"/>
<text x="144.30" y="605.70" font-size="4.8" text-anchor="middle" fill="#444" stroke="#444" stroke-width="0.106">0</text>
<line x1="180.60" y1="599.30" x2="180.60" y2="601.10" stroke="#666" stroke-width="0.7"/>
<text x="180.60" y="605.70" font-size="4.8" text-anchor="middle" fill="#444" stroke="#444" stroke-width="0.106">10</text>
<line x1="216.90" y1="599.30" x2="216.90" y2="601.10" stroke="#666" stroke-width="0.7"/>
<text x="216.90" y="605.70" font-size="4.8" text-anchor="middle" fill="#444" stroke="#444" stroke-width="0.106">20</text>
<text x="144.80" y="613.00" font-size="6.0" text-anchor="middle" fill="#222" stroke="#222" stroke-width="0.132">tSNE1</text>
<text x="57.40" y="527.30" font-size="6.1" text-anchor="middle" fill="#222" stroke="#222" stroke-width="0.134" transform="rotate(-90 57.40 527.30)">tSNE2</text>
<text x="227.20" y="518.30" font-size="5.8" text-anchor="start" fill="#222" stroke="#222" stroke-width="0.128">Risk</text>
<circle cx="232.10" cy="527.00" r="1.3" fill="#d8342c"/>
<text x="239.70" y="528.90" font-size="4.9" text-anchor="start" fill="#222" stroke="#222" stroke-width="0.108">high</text>
<circle cx="232.10" cy="536.90" r="1.3" fill="#23489e"/>
<text x="239.70" y="538.80" font-size="4.9" text-anchor="start" fill="#222" stroke="#222" stroke-width="0.108">low</text>
<text x="46.45" y="626.30" font-size="12" text-anchor="start" fill="#000" font-weight="bold">F</text>
<circle cx="109.93" cy="664.03" r="1.25" fill="#d8342c"/>
<circle cx="119.05" cy="654.85" r="1.25" fill="#d8342c"/>
<circle cx="107.34" cy="661.58" r="1.25" fill="#d8342c"/>
<circle cx="98.67" cy="666.58" r="1.25" fill="#d8342c"/>
<circle cx="114.62" cy="655.53" r="1.25" fill="#d8342c"/>
<circle cx="115.65" cy="655.23" r="1.25" fill="#d8342c"/>
<circle cx="98.99" cy="667.24" r="1.25" fill="#d8342c"/>
<circle cx="107.19" cy="663.10" r="1.25" fill="#d8342c"/>
<circle cx="96.22" cy="666.94" r="1.25" fill="#d8342c"/>
<circle cx="118.81" cy="657.56" r="1.25" fill="#d8342c"/>
<circle cx="99.38" cy="662.01" r="1.25" fill="#d8342c"/>
<circle cx="100.58" cy="657.73" r="1.25" fill="#d8342c"/>
<circle cx="116.35" cy="660.22" r="1.25" fill="#d8342c"/>
<circle cx="99.86" cy="660.23" r="1.25" fill="#d8342c"/>
<circle cx="121.48" cy="653.53" r="1.25" fill="#d8342c"/>
<circle cx="101.51" cy="661.65" r="1.25" fill="#d8342c"/>
<circle cx="95.95" cy="664.23" r="1.25" fill="#d8342c"/>
<circle cx="100.80" cy="658.38" r="1.25" fill="#d8342c"/>
<circle cx="106.71" cy="664.52" r="1.25" fill="#d8342c"/>
<circle cx="93.04" cy="664.13" r="1.25" fill="#d8342c"/>
<circle cx="100.65" cy="666.69" r="1.25" fill="#d8342c"/>
<circle cx="107.38" cy="657.76" r="1.25" fill="#d8342c"/>
<circle cx="108.98" cy="665.26" r="1.25" fill="#d8342c"/>
<circle cx="104.45" cy="659.36" r="1.25" fill="#d8342c"/>
<circle cx="117.00" cy="655.11" r="1.25" fill="#d8342c"/>
<circle cx="110.18" cy="664.70" r="1.25" fill="#d8342c"/>
<circle cx="94.40" cy="665.53" r="1.25" fill="#d8342c"/>
<circle cx="99.17" cy="659.82" r="1.25" fill="#d8342c"/>
<circle cx="105.51" cy="663.85" r="1.25" fill="#d8342c"/>
<circle cx="105.21" cy="657.45" r="1.25" fill="#d8342c"/>
<circle cx="101.87" cy="667.63" r="1.25" fill="#d8342c"/>
<circle cx="105.88" cy="658.14" r="1.25" fill="#d8342c"/>
<circle cx="101.35" cy="664.68" r="1.25" fill="#d8342c"/>
<circle cx="111.28" cy="664.29" r="1.25" fill="#d8342c"/>
<circle cx="101.42" cy="663.49" r="1.25" fill="#d8342c"/>
<circle cx="98.71" cy="660.29" r="1.25" fill="#d8342c"/>
<circle cx="99.14" cy="667.00" r="1.25" fill="#d8342c"/>
<circle cx="110.81" cy="661.68" r="1.25" fill="#d8342c"/>
<circle cx="97.72" cy="663.01" r="1.25" fill="#d8342c"/>
<circle cx="104.68" cy="665.12" r="1.25" fill="#d8342c"/>
<circle cx="100.91" cy="662.60" r="1.25" fill="#d8342c"/>
<circle cx="100.98" cy="665.51" r="1.25" fill="#d8342c"/>
<circle cx="106.49" cy="660.93" r="1.25" fill="#d8342c"/>
<circle cx="94.95" cy="665.41" r="1.25" fill="#d8342c"/>
<circle cx="112.18" cy="663.71" r="1.25" fill="#d8342c"/>
<circle cx="113.46" cy="655.71" r="1.25" fill="#d8342c"/>
<circle cx="115.10" cy="661.68" r="1.25" fill="#d8342c"/>
<circle cx="111.33" cy="659.34" r="1.25" fill="#d8342c"/>
<circle cx="109.96" cy="664.51" r="1.25" fill="#d8342c"/>
<circle cx="110.39" cy="663.72" r="1.25" fill="#d8342c"/>
<circle cx="103.97" cy="662.69" r="1.25" fill="#d8342c"/>
<circle cx="96.68" cy="663.21" r="1.25" fill="#d8342c"/>
<circle cx="104.76" cy="658.75" r="1.25" fill="#d8342c"/>
<circle cx="109.57" cy="661.82" r="1.25" fill="#d8342c"/>
<circle cx="97.30" cy="666.39" r="1.25" fill="#d8342c"/>
<circle cx="98.64" cy="659.19" r="1.25" fill="#d8342c"/>
<circle cx="93.27" cy="665.34" r="1.25" fill="#d8342c"/>
<circle cx="107.38" cy="658.15" r="1.25" fill="#d8342c"/>
<circle cx="116.35" cy="659.32" r="1.25" fill="#d8342c"/>
<circle cx="109.05" cy="661.43" r="1.25" fill="#d8342c"/>
<circle cx="109.46" cy="658.33" r="1.25" fill="#d8342c"/>
<circle cx="93.04" cy="661.46" r="1.25" fill="#d8342c"/>
<circle cx="101.83" cy="659.50" r="1.25" fill="#d8342c"/>
<circle cx="109.04" cy="656.99" r="1.25" fill="#d8342c"/>
<circle cx="103.13" cy="657.86" r="1.25" fill="#d8342c"/>
<circle cx="98.89" cy="660.16" r="1.25" fill="#d8342c"/>
<circle cx="93.50" cy="662.28" r="1.25" fill="#d8342c"/>
<circle cx="104.05" cy="657.48" r="1.25" fill="#d8342c"/>
<circle cx="98.48" cy="666.85" r="1.25" fill="#d8342c"/>
<circle cx="115.15" cy="656.79" r="1.25" fill="#d8342c"/>
<circle cx="121.93" cy="657.48" r="1.25" fill="#d8342c"/>
<circle cx="109.44" cy="660.13" r="1.25" fill="#d8342c"/>
<circle cx="110.65" cy="662.02" r="1.25" fill="#d8342c"/>
<circle cx="114.44" cy="657.59" r="1.25" fill="#d8342c"/>
<circle cx="107.00" cy="658.11" r="1.25" fill="#d8342c"/>
<circle cx="99.24" cy="660.94" r="1.25" fill="#d8342c"/>
<circle cx="104.73" cy="658.47" r="1.25" fill="#d8342c"/>
<circle cx="113.94" cy="661.83" r="1.25" fill="#d8342c"/>
<circle cx="104.44" cy="666.58" r="1.25" fill="#d8342c"/>
<circle cx="103.53" cy="661.60" r="1.25" fill="#d8342c"/>
<circle cx="112.73" cy="662.43" r="1.25" fill="#d8342c"/>
<circle cx="105.31" cy="666.51" r="1.25" fill="#d8342c"/>
<circle cx="102.14" cy="658.92" r="1.25" fill="#d8342c"/>
<circle cx="117.44" cy="656.07" r="1.25" fill="#d8342c"/>
<circle cx="99.22" cy="665.32" r="1.25" fill="#d8342c"/>
<circle cx="112.28" cy="659.52" r="1.25" fill="#d8342c"/>
<circle cx="98.89" cy="664.60" r="1.25" fill="#d8342c"/>
<circle cx="119.37" cy="655.28" r="1.25" fill="#d8342c"/>
<circle cx="105.19" cy="661.22" r="1.25" fill="#d8342c"/>
<circle cx="105.82" cy="658.03" r="1.25" fill="#d8342c"/>
<circle cx="94.54" cy="661.75" r="1.25" fill="#d8342c"/>
<circle cx="97.04" cy="665.17" r="1.25" fill="#d8342c"/>
<circle cx="117.12" cy="656.40" r="1.25" fill="#d8342c"/>
<circle cx="99.09" cy="666.60" r="1.25" fill="#d8342c"/>
<circle cx="94.41" cy="662.11" r="1.25" fill="#d8342c"/>
<circle cx="108.37" cy="664.04" r="1.25" fill="#d8342c"/>
<circle cx="118.31" cy="655.16" r="1.25" fill="#d8342c"/>
<circle cx="103.66" cy="657.79" r="1.25" fill="#d8342c"/>
<circle cx="109.19" cy="660.35" r="1.25" fill="#d8342c"/>
<circle cx="120.28" cy="658.66" r="1.25" fill="#d8342c"/>
<circle cx="91.33" cy="663.38" r="1.25" fill="#d8342c"/>
<circle cx="94.46" cy="662.42" r="1.25" fill="#d8342c"/>
<circle cx="106.09" cy="666.49" r="1.25" fill="#d8342c"/>
<circle cx="107.70" cy="662.26" r="1.25" fill="#d8342c"/>
<circle cx="98.13" cy="661.25" r="1.25" fill="#d8342c"/>
<circle cx="96.71" cy="674.69" r="1.25" fill="#d8342c"/>
<circle cx="105.03" cy="673.82" r="1.25" fill="#d8342c"/>
<circle cx="96.97" cy="680.21" r="1.25" fill="#d8342c"/>
<circle cx="104.15" cy="680.21" r="1.25" fill="#d8342c"/>
<circle cx="104.15" cy="684.41" r="1.25" fill="#d8342c"/>
<circle cx="98.02" cy="688.97" r="1.25" fill="#d8342c"/>
<circle cx="101.09" cy="670.58" r="1.25" fill="#d8342c"/>
<circle cx="93.64" cy="670.58" r="1.25" fill="#d8342c"/>
<circle cx="110.72" cy="668.39" r="1.25" fill="#d8342c"/>
<circle cx="114.66" cy="666.20" r="1.25" fill="#d8342c"/>
<circle cx="120.79" cy="663.13" r="1.25" fill="#d8342c"/>
<circle cx="128.23" cy="657.01" r="1.25" fill="#d8342c"/>
<circle cx="129.54" cy="667.95" r="1.25" fill="#d8342c"/>
<circle cx="112.91" cy="671.89" r="1.25" fill="#d8342c"/>
<circle cx="114.22" cy="672.59" r="1.25" fill="#d8342c"/>
<circle cx="118.16" cy="667.51" r="1.25" fill="#d8342c"/>
<circle cx="119.04" cy="668.83" r="1.25" fill="#d8342c"/>
<circle cx="118.60" cy="670.75" r="1.25" fill="#d8342c"/>
<circle cx="124.73" cy="671.45" r="1.25" fill="#d8342c"/>
<circle cx="125.60" cy="673.20" r="1.25" fill="#d8342c"/>
<circle cx="127.36" cy="674.96" r="1.25" fill="#d8342c"/>
<circle cx="115.53" cy="677.15" r="1.25" fill="#d8342c"/>
<circle cx="117.29" cy="676.09" r="1.25" fill="#d8342c"/>
<circle cx="120.79" cy="674.96" r="1.25" fill="#d8342c"/>
<circle cx="122.54" cy="675.83" r="1.25" fill="#d8342c"/>
<circle cx="121.66" cy="680.21" r="1.25" fill="#d8342c"/>
<circle cx="126.74" cy="678.02" r="1.25" fill="#d8342c"/>
<circle cx="96.27" cy="666.64" r="1.25" fill="#d8342c"/>
<circle cx="98.90" cy="665.32" r="1.25" fill="#d8342c"/>
<circle cx="103.27" cy="667.51" r="1.25" fill="#d8342c"/>
<circle cx="106.78" cy="666.20" r="1.25" fill="#d8342c"/>
<circle cx="110.28" cy="665.32" r="1.25" fill="#d8342c"/>
<circle cx="147.89" cy="639.77" r="1.25" fill="#d8342c"/>
<circle cx="146.57" cy="645.96" r="1.25" fill="#d8342c"/>
<circle cx="139.81" cy="647.84" r="1.25" fill="#d8342c"/>
<circle cx="143.57" cy="648.22" r="1.25" fill="#d8342c"/>
<circle cx="148.83" cy="650.28" r="1.25" fill="#d8342c"/>
<circle cx="153.15" cy="648.78" r="1.25" fill="#d8342c"/>
<circle cx="157.28" cy="649.72" r="1.25" fill="#d8342c"/>
<circle cx="158.59" cy="646.34" r="1.25" fill="#d8342c"/>
<circle cx="160.09" cy="651.60" r="1.25" fill="#d8342c"/>
<circle cx="169.48" cy="651.60" r="1.25" fill="#d8342c"/>
<circle cx="174.18" cy="649.34" r="1.25" fill="#d8342c"/>
<circle cx="178.31" cy="645.59" r="1.25" fill="#d8342c"/>
<circle cx="137.56" cy="653.10" r="1.25" fill="#d8342c"/>
<circle cx="141.31" cy="653.47" r="1.25" fill="#d8342c"/>
<circle cx="144.69" cy="653.10" r="1.25" fill="#d8342c"/>
<circle cx="129.67" cy="651.22" r="1.25" fill="#d8342c"/>
<circle cx="125.35" cy="651.03" r="1.25" fill="#d8342c"/>
<circle cx="122.91" cy="653.47" r="1.25" fill="#d8342c"/>
<circle cx="128.54" cy="657.23" r="1.25" fill="#d8342c"/>
<circle cx="161.03" cy="656.67" r="1.25" fill="#d8342c"/>
<circle cx="162.91" cy="656.67" r="1.25" fill="#d8342c"/>
<circle cx="164.23" cy="665.31" r="1.25" fill="#d8342c"/>
<circle cx="138.87" cy="664.74" r="1.25" fill="#d8342c"/>
<circle cx="137.18" cy="666.06" r="1.25" fill="#d8342c"/>
<circle cx="129.67" cy="667.93" r="1.25" fill="#d8342c"/>
<circle cx="135.31" cy="671.69" r="1.25" fill="#d8342c"/>
<circle cx="133.80" cy="676.95" r="1.25" fill="#d8342c"/>
<circle cx="132.86" cy="681.08" r="1.25" fill="#d8342c"/>
<circle cx="126.67" cy="677.89" r="1.25" fill="#d8342c"/>
<circle cx="121.60" cy="680.33" r="1.25" fill="#d8342c"/>
<circle cx="127.79" cy="674.69" r="1.25" fill="#d8342c"/>
<circle cx="125.35" cy="671.69" r="1.25" fill="#d8342c"/>
<circle cx="121.03" cy="675.45" r="1.25" fill="#d8342c"/>
<circle cx="117.28" cy="676.01" r="1.25" fill="#d8342c"/>
<circle cx="115.02" cy="677.32" r="1.25" fill="#d8342c"/>
<circle cx="118.78" cy="670.38" r="1.25" fill="#d8342c"/>
<circle cx="119.72" cy="668.50" r="1.25" fill="#d8342c"/>
<circle cx="114.08" cy="666.62" r="1.25" fill="#d8342c"/>
<circle cx="111.64" cy="668.50" r="1.25" fill="#d8342c"/>
<circle cx="110.89" cy="671.69" r="1.25" fill="#d8342c"/>
<circle cx="112.77" cy="672.82" r="1.25" fill="#d8342c"/>
<circle cx="114.65" cy="672.82" r="1.25" fill="#d8342c"/>
<circle cx="121.03" cy="662.86" r="1.25" fill="#d8342c"/>
<circle cx="122.54" cy="659.67" r="1.25" fill="#d8342c"/>
<circle cx="104.69" cy="674.13" r="1.25" fill="#d8342c"/>
<circle cx="104.13" cy="680.33" r="1.25" fill="#d8342c"/>
<circle cx="104.13" cy="684.46" r="1.25" fill="#d8342c"/>
<circle cx="141.31" cy="687.28" r="1.25" fill="#d8342c"/>
<circle cx="161.03" cy="687.65" r="1.25" fill="#d8342c"/>
<circle cx="135.68" cy="694.04" r="1.25" fill="#d8342c"/>
<circle cx="142.82" cy="702.49" r="1.25" fill="#d8342c"/>
<circle cx="158.78" cy="707.56" r="1.25" fill="#d8342c"/>
<circle cx="211.17" cy="693.85" r="1.25" fill="#d8342c"/>
<circle cx="145.07" cy="770.47" r="1.25" fill="#d8342c"/>
<circle cx="111.27" cy="658.17" r="1.25" fill="#d8342c"/>
<circle cx="114.08" cy="657.23" r="1.25" fill="#d8342c"/>
<circle cx="116.90" cy="657.79" r="1.25" fill="#d8342c"/>
<circle cx="118.78" cy="656.29" r="1.25" fill="#d8342c"/>
<circle cx="120.28" cy="655.35" r="1.25" fill="#d8342c"/>
<circle cx="115.96" cy="660.05" r="1.25" fill="#d8342c"/>
<circle cx="113.15" cy="661.92" r="1.25" fill="#d8342c"/>
<circle cx="109.39" cy="662.86" r="1.25" fill="#d8342c"/>
<circle cx="107.51" cy="660.05" r="1.25" fill="#d8342c"/>
<circle cx="81.82" cy="668.65" r="1.2" fill="#23489e"/>
<circle cx="86.40" cy="663.35" r="1.2" fill="#23489e"/>
<circle cx="81.48" cy="665.39" r="1.2" fill="#23489e"/>
<circle cx="90.22" cy="663.74" r="1.2" fill="#23489e"/>
<circle cx="89.81" cy="667.83" r="1.2" fill="#23489e"/>
<circle cx="87.74" cy="664.25" r="1.2" fill="#23489e"/>
<circle cx="92.66" cy="666.33" r="1.2" fill="#23489e"/>
<circle cx="83.03" cy="669.05" r="1.2" fill="#23489e"/>
<circle cx="91.68" cy="663.40" r="1.2" fill="#23489e"/>
<circle cx="88.27" cy="665.25" r="1.2" fill="#23489e"/>
<circle cx="81.49" cy="665.07" r="1.2" fill="#23489e"/>
<circle cx="88.08" cy="665.20" r="1.2" fill="#23489e"/>
<circle cx="91.86" cy="667.77" r="1.2" fill="#23489e"/>
<circle cx="91.40" cy="665.93" r="1.2" fill="#23489e"/>
<circle cx="92.22" cy="666.65" r="1.2" fill="#23489e"/>
<circle cx="87.71" cy="667.13" r="1.2" fill="#23489e"/>
<circle cx="90.28" cy="665.60" r="1.2" fill="#23489e"/>
<circle cx="92.87" cy="666.34" r="1.2" fill="#23489e"/>
<circle cx="85.58" cy="669.85" r="1.2" fill="#23489e"/>
<circle cx="88.18" cy="665.89" r="1.2" fill="#23489e"/>
<circle cx="83.92" cy="665.52" r="1.2" fill="#23489e"/>
<circle cx="92.72" cy="663.51" r="1.2" fill="#23489e"/>
<circle cx="81.82" cy="664.59" r="1.2" fill="#23489e"/>
<circle cx="80.21" cy="664.67" r="1.2" fill="#23489e"/>
<circle cx="81.49" cy="666.35" r="1.2" fill="#23489e"/>
<circle cx="89.37" cy="667.99" r="1.2" fill="#23489e"/>
<circle cx="79.45" cy="667.95" r="1.2" fill="#23489e"/>
<circle cx="82.47" cy="668.00" r="1.2" fill="#23489e"/>
<circle cx="90.09" cy="663.60" r="1.2" fill="#23489e"/>
<circle cx="83.74" cy="664.88" r="1.2" fill="#23489e"/>
<circle cx="85.54" cy="664.64" r="1.2" fill="#23489e"/>
<circle cx="90.14" cy="668.37" r="1.2" fill="#23489e"/>
<circle cx="88.64" cy="665.90" r="1.2" fill="#23489e"/>
<circle cx="86.43" cy="665.21" r="1.2" fill="#23489e"/>
<circle cx="93.04" cy="666.42" r="1.2" fill="#23489e"/>
<circle cx="81.84" cy="665.70" r="1.2" fill="#23489e"/>
<circle cx="80.52" cy="666.57" r="1.2" fill="#23489e"/>
<circle cx="84.40" cy="666.77" r="1.2" fill="#23489e"/>
<circle cx="79.28" cy="666.86" r="1.2" fill="#23489e"/>
<circle cx="93.43" cy="667.35" r="1.2" fill="#23489e"/>
<circle cx="92.31" cy="664.04" r="1.2" fill="#23489e"/>
<circle cx="85.87" cy="667.11" r="1.2" fill="#23489e"/>
<circle cx="83.95" cy="667.58" r="1.2" fill="#23489e"/>
<circle cx="90.03" cy="670.05" r="1.2" fill="#23489e"/>
<circle cx="82.75" cy="666.06" r="1.2" fill="#23489e"/>
<circle cx="91.78" cy="664.13" r="1.2" fill="#23489e"/>
<circle cx="91.66" cy="664.89" r="1.2" fill="#23489e"/>
<circle cx="84.86" cy="667.16" r="1.2" fill="#23489e"/>
<circle cx="89.59" cy="662.61" r="1.2" fill="#23489e"/>
<circle cx="80.88" cy="664.66" r="1.2" fill="#23489e"/>
<circle cx="84.72" cy="664.90" r="1.2" fill="#23489e"/>
<circle cx="90.49" cy="666.98" r="1.2" fill="#23489e"/>
<circle cx="92.99" cy="667.83" r="1.2" fill="#23489e"/>
<circle cx="90.62" cy="667.14" r="1.2" fill="#23489e"/>
<circle cx="85.09" cy="669.22" r="1.2" fill="#23489e"/>
<circle cx="90.07" cy="668.23" r="1.2" fill="#23489e"/>
<circle cx="82.06" cy="669.18" r="1.2" fill="#23489e"/>
<circle cx="81.97" cy="668.01" r="1.2" fill="#23489e"/>
<circle cx="90.69" cy="666.99" r="1.2" fill="#23489e"/>
<circle cx="79.66" cy="665.27" r="1.2" fill="#23489e"/>
<circle cx="92.36" cy="670.36" r="1.2" fill="#23489e"/>
<circle cx="88.05" cy="664.19" r="1.2" fill="#23489e"/>
<circle cx="84.86" cy="665.32" r="1.2" fill="#23489e"/>
<circle cx="87.57" cy="669.31" r="1.2" fill="#23489e"/>
<circle cx="90.05" cy="663.02" r="1.2" fill="#23489e"/>
<circle cx="86.63" cy="663.67" r="1.2" fill="#23489e"/>
<circle cx="89.74" cy="666.04" r="1.2" fill="#23489e"/>
<circle cx="79.46" cy="664.93" r="1.2" fill="#23489e"/>
<circle cx="93.32" cy="666.16" r="1.2" fill="#23489e"/>
<circle cx="84.95" cy="666.00" r="1.2" fill="#23489e"/>
<circle cx="90.75" cy="670.25" r="1.2" fill="#23489e"/>
<circle cx="87.77" cy="663.09" r="1.2" fill="#23489e"/>
<circle cx="91.57" cy="665.81" r="1.2" fill="#23489e"/>
<circle cx="85.79" cy="669.78" r="1.2" fill="#23489e"/>
<circle cx="84.23" cy="664.05" r="1.2" fill="#23489e"/>
<circle cx="87.19" cy="665.27" r="1.2" fill="#23489e"/>
<circle cx="90.47" cy="664.28" r="1.2" fill="#23489e"/>
<circle cx="83.52" cy="664.33" r="1.2" fill="#23489e"/>
<circle cx="92.19" cy="667.52" r="1.2" fill="#23489e"/>
<circle cx="91.87" cy="666.41" r="1.2" fill="#23489e"/>
<circle cx="93.06" cy="663.91" r="1.2" fill="#23489e"/>
<circle cx="91.27" cy="664.99" r="1.2" fill="#23489e"/>
<circle cx="89.28" cy="669.62" r="1.2" fill="#23489e"/>
<circle cx="88.24" cy="669.08" r="1.2" fill="#23489e"/>
<circle cx="86.30" cy="667.25" r="1.2" fill="#23489e"/>
<circle cx="80.61" cy="665.55" r="1.2" fill="#23489e"/>
<circle cx="82.83" cy="665.49" r="1.2" fill="#23489e"/>
<circle cx="85.68" cy="668.25" r="1.2" fill="#23489e"/>
<circle cx="91.59" cy="670.15" r="1.2" fill="#23489e"/>
<circle cx="89.45" cy="667.96" r="1.2" fill="#23489e"/>
<circle cx="86.74" cy="669.07" r="1.2" fill="#23489e"/>
<circle cx="83.71" cy="667.30" r="1.2" fill="#23489e"/>
<circle cx="89.22" cy="666.69" r="1.2" fill="#23489e"/>
<circle cx="78.92" cy="665.26" r="1.2" fill="#23489e"/>
<circle cx="87.50" cy="668.73" r="1.2" fill="#23489e"/>
<circle cx="89.83" cy="664.84" r="1.2" fill="#23489e"/>
<circle cx="93.57" cy="664.56" r="1.2" fill="#23489e"/>
<circle cx="89.86" cy="662.82" r="1.2" fill="#23489e"/>
<circle cx="90.51" cy="667.96" r="1.2" fill="#23489e"/>
<circle cx="89.37" cy="669.41" r="1.2" fill="#23489e"/>
<circle cx="90.25" cy="667.45" r="1.2" fill="#23489e"/>
<circle cx="81.03" cy="666.64" r="1.2" fill="#23489e"/>
<circle cx="92.99" cy="664.26" r="1.2" fill="#23489e"/>
<circle cx="88.76" cy="669.94" r="1.2" fill="#23489e"/>
<circle cx="93.24" cy="667.48" r="1.2" fill="#23489e"/>
<circle cx="89.38" cy="666.96" r="1.2" fill="#23489e"/>
<circle cx="89.85" cy="665.42" r="1.2" fill="#23489e"/>
<circle cx="92.83" cy="664.03" r="1.2" fill="#23489e"/>
<circle cx="82.72" cy="664.50" r="1.2" fill="#23489e"/>
<circle cx="80.31" cy="667.64" r="1.2" fill="#23489e"/>
<circle cx="90.74" cy="664.13" r="1.2" fill="#23489e"/>
<circle cx="78.49" cy="667.07" r="1.2" fill="#23489e"/>
<circle cx="91.85" cy="669.76" r="1.2" fill="#23489e"/>
<circle cx="90.07" cy="665.78" r="1.2" fill="#23489e"/>
<circle cx="84.80" cy="666.75" r="1.2" fill="#23489e"/>
<circle cx="93.14" cy="664.80" r="1.2" fill="#23489e"/>
<circle cx="82.29" cy="667.41" r="1.2" fill="#23489e"/>
<circle cx="87.19" cy="667.39" r="1.2" fill="#23489e"/>
<circle cx="87.74" cy="667.76" r="1.2" fill="#23489e"/>
<circle cx="89.41" cy="668.47" r="1.2" fill="#23489e"/>
<circle cx="78.47" cy="666.37" r="1.2" fill="#23489e"/>
<circle cx="91.92" cy="670.43" r="1.2" fill="#23489e"/>
<circle cx="82.94" cy="669.51" r="1.2" fill="#23489e"/>
<circle cx="81.39" cy="668.19" r="1.2" fill="#23489e"/>
<circle cx="92.03" cy="666.30" r="1.2" fill="#23489e"/>
<circle cx="80.04" cy="667.50" r="1.2" fill="#23489e"/>
<circle cx="90.21" cy="669.22" r="1.2" fill="#23489e"/>
<circle cx="91.38" cy="668.33" r="1.2" fill="#23489e"/>
<circle cx="83.92" cy="666.14" r="1.2" fill="#23489e"/>
<circle cx="89.24" cy="668.59" r="1.2" fill="#23489e"/>
<circle cx="78.86" cy="665.67" r="1.2" fill="#23489e"/>
<circle cx="86.86" cy="665.43" r="1.2" fill="#23489e"/>
<circle cx="79.45" cy="667.33" r="1.2" fill="#23489e"/>
<circle cx="83.91" cy="668.08" r="1.2" fill="#23489e"/>
<circle cx="90.62" cy="668.40" r="1.2" fill="#23489e"/>
<circle cx="85.73" cy="665.25" r="1.2" fill="#23489e"/>
<circle cx="90.23" cy="670.10" r="1.2" fill="#23489e"/>
<circle cx="84.05" cy="664.70" r="1.2" fill="#23489e"/>
<circle cx="86.08" cy="668.19" r="1.2" fill="#23489e"/>
<circle cx="91.13" cy="667.15" r="1.2" fill="#23489e"/>
<circle cx="82.55" cy="665.10" r="1.2" fill="#23489e"/>
<circle cx="92.16" cy="666.67" r="1.2" fill="#23489e"/>
<circle cx="78.28" cy="665.82" r="1.2" fill="#23489e"/>
<circle cx="81.54" cy="667.93" r="1.2" fill="#23489e"/>
<circle cx="79.07" cy="666.31" r="1.2" fill="#23489e"/>
<circle cx="79.00" cy="665.26" r="1.2" fill="#23489e"/>
<circle cx="90.73" cy="665.30" r="1.2" fill="#23489e"/>
<circle cx="85.37" cy="665.49" r="1.2" fill="#23489e"/>
<circle cx="85.10" cy="666.26" r="1.2" fill="#23489e"/>
<circle cx="84.23" cy="668.89" r="1.2" fill="#23489e"/>
<circle cx="85.06" cy="675.13" r="1.25" fill="#23489e"/>
<circle cx="92.33" cy="680.47" r="1.25" fill="#23489e"/>
<circle cx="91.02" cy="668.83" r="1.25" fill="#23489e"/>
<circle cx="90.14" cy="669.70" r="1.25" fill="#23489e"/>
<rect x="72.00" y="633.10" width="145.50" height="144.20" fill="none" stroke="#b0b0b0" stroke-width="0.9"/>
<line x1="70.20" y1="775.90" x2="72.00" y2="775.90" stroke="#666" stroke-width="0.7"/>
<text x="69.00" y="777.60" font-size="4.8" text-anchor="end" fill="#444" stroke="#444" stroke-width="0.106">−15</text>
<line x1="70.20" y1="739.10" x2="72.00" y2="739.10" stroke="#666" stroke-width="0.7"/>
<text x="69.00" y="740.80" font-size="4.8" text-anchor="end" fill="#444" stroke="#444" stroke-width="0.106">−10</text>
<line x1="70.20" y1="702.30" x2="72.00" y2="702.30" stroke="#666" stroke-width="0.7"/>
<text x="69.00" y="704.00" font-size="4.8" text-anchor="end" fill="#444" stroke="#444" stroke-width="0.106">−5</text>
<line x1="70.20" y1="665.50" x2="72.00" y2="665.50" stroke="#666" stroke-width="0.7"/>
<text x="69.00" y="667.20" font-size="4.8" text-anchor="end" fill="#444" stroke="#444" stroke-width="0.106">0</text>
<line x1="99.40" y1="777.30" x2="99.40" y2="779.10" stroke="#666" stroke-width="0.7"/>
<text x="99.40" y="784.10" font-size="4.8" text-anchor="middle" fill="#444" stroke="#444" stroke-width="0.106">0</text>
<line x1="138.00" y1="777.30" x2="138.00" y2="779.10" stroke="#666" stroke-width="0.7"/>
<text x="138.00" y="784.10" font-size="4.8" text-anchor="middle" fill="#444" stroke="#444" stroke-width="0.106">4</text>
<line x1="176.60" y1="777.30" x2="176.60" y2="779.10" stroke="#666" stroke-width="0.7"/>
<text x="176.60" y="784.10" font-size="4.8" text-anchor="middle" fill="#444" stroke="#444" stroke-width="0.106">8</text>
<line x1="215.20" y1="777.30" x2="215.20" y2="779.10" stroke="#666" stroke-width="0.7"/>
<text x="215.20" y="784.10" font-size="4.8" text-anchor="middle" fill="#444" stroke="#444" stroke-width="0.106">12</text>
<text x="144.80" y="791.00" font-size="6.0" text-anchor="middle" fill="#222" stroke="#222" stroke-width="0.132">PC1</text>
<text x="57.40" y="705.00" font-size="6.1" text-anchor="middle" fill="#222" stroke="#222" stroke-width="0.134" transform="rotate(-90 57.40 705.00)">PC2</text>
<text x="227.20" y="696.60" font-size="5.8" text-anchor="start" fill="#222" stroke="#222" stroke-width="0.128">Risk</text>
<circle cx="232.10" cy="705.00" r="1.3" fill="#d8342c"/>
<text x="239.70" y="706.90" font-size="4.9" text-anchor="start" fill="#222" stroke="#222" stroke-width="0.108">high</text>
<circle cx="232.10" cy="714.60" r="1.3" fill="#23489e"/>
<text x="239.70" y="716.50" font-size="4.9" text-anchor="start" fill="#222" stroke="#222" stroke-width="0.108">low</text>
<text x="318.75" y="281.60" font-size="12.2" text-anchor="start" fill="#000" font-weight="bold">G</text>
<rect x="339.70" y="295.80" width="3.88" height="28.00" fill="#bbd7a2"/>
<rect x="343.23" y="295.80" width="1.06" height="28.00" fill="#dee7d0"/>
<rect x="343.94" y="295.80" width="26.48" height="28.00" fill="#bbd7a2"/>
<rect x="370.07" y="295.80" width="1.06" height="28.00" fill="#dee7d0"/>
<rect x="370.78" y="295.80" width="6.71" height="28.00" fill="#bbd7a2"/>
<rect x="377.13" y="295.80" width="1.06" height="28.00" fill="#dee7d0"/>
<rect x="377.84" y="295.80" width="18.71" height="28.00" fill="#bbd7a2"/>
<rect x="396.20" y="295.80" width="1.06" height="28.00" fill="#dee7d0"/>
<rect x="396.91" y="295.80" width="13.06" height="28.00" fill="#bbd7a2"/>
<rect x="409.62" y="295.80" width="1.06" height="28.00" fill="#cddfb9"/>
<rect x="410.33" y="295.80" width="1.06" height="28.00" fill="#c7dcb1"/>
<rect x="411.04" y="295.80" width="1.06" height="28.00" fill="#afd293"/>
<rect x="411.74" y="295.80" width="2.47" height="28.00" fill="#c7dcb1"/>
<rect x="413.86" y="295.80" width="1.06" height="28.00" fill="#eaeddf"/>
<rect x="414.57" y="295.80" width="1.06" height="28.00" fill="#f4e8e4"/>
<rect x="415.27" y="295.80" width="1.06" height="28.00" fill="#c1daaa"/>
<rect x="415.98" y="295.80" width="1.06" height="28.00" fill="#f6f2ee"/>
<rect x="416.69" y="295.80" width="1.06" height="28.00" fill="#afd293"/>
<rect x="417.39" y="295.80" width="1.06" height="28.00" fill="#c7dcb1"/>
<rect x="418.10" y="295.80" width="1.06" height="28.00" fill="#b5d49a"/>
<rect x="418.81" y="295.80" width="1.06" height="28.00" fill="#c7dcb1"/>
<rect x="419.51" y="295.80" width="1.06" height="28.00" fill="#bbd7a2"/>
<rect x="420.22" y="295.80" width="1.06" height="28.00" fill="#c1daaa"/>
<rect x="420.92" y="295.80" width="1.06" height="28.00" fill="#f4e8e4"/>
<rect x="421.63" y="295.80" width="1.06" height="28.00" fill="#cddfb9"/>
<rect x="422.34" y="295.80" width="1.06" height="28.00" fill="#c7dcb1"/>
<rect x="423.04" y="295.80" width="1.06" height="28.00" fill="#c1daaa"/>
<rect x="423.75" y="295.80" width="1.06" height="28.00" fill="#c7dcb1"/>
<rect x="424.46" y="295.80" width="1.06" height="28.00" fill="#c1daaa"/>
<rect x="425.16" y="295.80" width="1.06" height="28.00" fill="#bbd7a2"/>
<rect x="425.87" y="295.80" width="1.06" height="28.00" fill="#d3e2c0"/>
<rect x="426.58" y="295.80" width="1.06" height="28.00" fill="#c1daaa"/>
<rect x="427.28" y="295.80" width="1.06" height="28.00" fill="#c7dcb1"/>
<rect x="427.99" y="295.80" width="1.06" height="28.00" fill="#bbd7a2"/>
<rect x="428.69" y="295.80" width="1.06" height="28.00" fill="#f6f2ee"/>
<rect x="429.40" y="295.80" width="1.06" height="28.00" fill="#c7dcb1"/>
<rect x="430.11" y="295.80" width="1.76" height="28.00" fill="#c1daaa"/>
<rect x="431.52" y="295.80" width="1.06" height="28.00" fill="#d3e2c0"/>
<rect x="432.23" y="295.80" width="1.06" height="28.00" fill="#f4e8e4"/>
<rect x="432.93" y="295.80" width="1.76" height="28.00" fill="#f0efe6"/>
<rect x="434.34" y="295.80" width="1.06" height="28.00" fill="#e4ead7"/>
<rect x="435.05" y="295.80" width="1.06" height="28.00" fill="#f0efe6"/>
<rect x="435.76" y="295.80" width="1.06" height="28.00" fill="#dee7d0"/>
<rect x="436.46" y="295.80" width="1.06" height="28.00" fill="#f0efe6"/>
<rect x="437.17" y="295.80" width="1.06" height="28.00" fill="#c1daaa"/>
<rect x="437.88" y="295.80" width="1.06" height="28.00" fill="#d3e2c0"/>
<rect x="438.58" y="295.80" width="1.76" height="28.00" fill="#f0efe6"/>
<rect x="439.99" y="295.80" width="1.06" height="28.00" fill="#d3e2c0"/>
<rect x="440.70" y="295.80" width="1.06" height="28.00" fill="#dd5751"/>
<rect x="441.41" y="295.80" width="1.06" height="28.00" fill="#f0efe6"/>
<rect x="442.11" y="295.80" width="1.06" height="28.00" fill="#f6f2ee"/>
<rect x="442.82" y="295.80" width="1.06" height="28.00" fill="#c7dcb1"/>
<rect x="443.53" y="295.80" width="1.06" height="28.00" fill="#d3e2c0"/>
<rect x="444.23" y="295.80" width="1.06" height="28.00" fill="#f4e8e4"/>
<rect x="444.94" y="295.80" width="1.06" height="28.00" fill="#cddfb9"/>
<rect x="445.65" y="295.80" width="1.06" height="28.00" fill="#d3e2c0"/>
<rect x="446.35" y="295.80" width="1.06" height="28.00" fill="#dee7d0"/>
<rect x="447.06" y="295.80" width="1.06" height="28.00" fill="#d3e2c0"/>
<rect x="447.76" y="295.80" width="1.06" height="28.00" fill="#d8e4c8"/>
<rect x="448.47" y="295.80" width="1.06" height="28.00" fill="#f0efe6"/>
<rect x="449.18" y="295.80" width="1.76" height="28.00" fill="#d3e2c0"/>
<rect x="450.59" y="295.80" width="1.06" height="28.00" fill="#f6f2ee"/>
<rect x="451.30" y="295.80" width="1.06" height="28.00" fill="#eaeddf"/>
<rect x="452.00" y="295.80" width="1.06" height="28.00" fill="#c7dcb1"/>
<rect x="452.71" y="295.80" width="1.06" height="28.00" fill="#d3e2c0"/>
<rect x="453.41" y="295.80" width="1.06" height="28.00" fill="#c7dcb1"/>
<rect x="454.12" y="295.80" width="1.06" height="28.00" fill="#cddfb9"/>
<rect x="454.83" y="295.80" width="1.06" height="28.00" fill="#eaeddf"/>
<rect x="455.53" y="295.80" width="1.06" height="28.00" fill="#f0efe6"/>
<rect x="456.24" y="295.80" width="1.06" height="28.00" fill="#f4e8e4"/>
<rect x="456.95" y="295.80" width="1.06" height="28.00" fill="#d3e2c0"/>
<rect x="457.65" y="295.80" width="1.06" height="28.00" fill="#cddfb9"/>
<rect x="458.36" y="295.80" width="1.06" height="28.00" fill="#eaeddf"/>
<rect x="459.06" y="295.80" width="1.06" height="28.00" fill="#e2746f"/>
<rect x="459.77" y="295.80" width="1.06" height="28.00" fill="#d3e2c0"/>
<rect x="460.48" y="295.80" width="1.06" height="28.00" fill="#c1daaa"/>
<rect x="461.18" y="295.80" width="1.06" height="28.00" fill="#c7dcb1"/>
<rect x="461.89" y="295.80" width="1.06" height="28.00" fill="#e4ead7"/>
<rect x="462.60" y="295.80" width="1.06" height="28.00" fill="#cddfb9"/>
<rect x="463.30" y="295.80" width="1.76" height="28.00" fill="#f4e8e4"/>
<rect x="464.72" y="295.80" width="1.06" height="28.00" fill="#c7dcb1"/>
<rect x="465.42" y="295.80" width="1.06" height="28.00" fill="#d8e4c8"/>
<rect x="466.13" y="295.80" width="1.06" height="28.00" fill="#eaeddf"/>
<rect x="466.83" y="295.80" width="1.06" height="28.00" fill="#e4ead7"/>
<rect x="467.54" y="295.80" width="1.06" height="28.00" fill="#c7dcb1"/>
<rect x="468.25" y="295.80" width="1.06" height="28.00" fill="#d3e2c0"/>
<rect x="468.95" y="295.80" width="1.06" height="28.00" fill="#f0efe6"/>
<rect x="469.66" y="295.80" width="1.76" height="28.00" fill="#d3e2c0"/>
<rect x="471.07" y="295.80" width="1.06" height="28.00" fill="#c7dcb1"/>
<rect x="471.78" y="295.80" width="1.06" height="28.00" fill="#d8e4c8"/>
<rect x="472.48" y="295.80" width="1.06" height="28.00" fill="#f0efe6"/>
<rect x="473.19" y="295.80" width="1.06" height="28.00" fill="#e4ead7"/>
<rect x="473.90" y="295.80" width="1.06" height="28.00" fill="#d8e4c8"/>
<rect x="474.60" y="295.80" width="1.06" height="28.00" fill="#f6f2ee"/>
<rect x="475.31" y="295.80" width="1.06" height="28.00" fill="#e4ead7"/>
<rect x="476.02" y="295.80" width="1.06" height="28.00" fill="#f4e8e4"/>
<rect x="476.72" y="295.80" width="1.06" height="28.00" fill="#d8e4c8"/>
<rect x="477.43" y="295.80" width="1.06" height="28.00" fill="#eaeddf"/>
<rect x="478.14" y="295.80" width="1.06" height="28.00" fill="#f4e8e4"/>
<rect x="478.84" y="295.80" width="1.76" height="28.00" fill="#f0efe6"/>
<rect x="480.25" y="295.80" width="1.06" height="28.00" fill="#f6f2ee"/>
<rect x="480.96" y="295.80" width="1.06" height="28.00" fill="#eaeddf"/>
<rect x="481.67" y="295.80" width="1.06" height="28.00" fill="#dee7d0"/>
<rect x="482.37" y="295.80" width="1.06" height="28.00" fill="#f4e8e4"/>
<rect x="483.08" y="295.80" width="1.06" height="28.00" fill="#f6f2ee"/>
<rect x="483.79" y="295.80" width="1.76" height="28.00" fill="#d3e2c0"/>
<rect x="485.20" y="295.80" width="1.06" height="28.00" fill="#f4e8e4"/>
<rect x="485.90" y="295.80" width="1.06" height="28.00" fill="#eaeddf"/>
<rect x="486.61" y="295.80" width="1.76" height="28.00" fill="#dee7d0"/>
<rect x="488.02" y="295.80" width="1.06" height="28.00" fill="#cddfb9"/>
<rect x="488.73" y="295.80" width="1.06" height="28.00" fill="#d3e2c0"/>
<rect x="489.44" y="295.80" width="1.06" height="28.00" fill="#d8e4c8"/>
<rect x="490.14" y="295.80" width="1.06" height="28.00" fill="#f0efe6"/>
<rect x="490.85" y="295.80" width="1.06" height="28.00" fill="#f6f2ee"/>
<rect x="491.55" y="295.80" width="1.06" height="28.00" fill="#f4e8e4"/>
<rect x="492.26" y="295.80" width="1.06" height="28.00" fill="#dee7d0"/>
<rect x="492.97" y="295.80" width="1.06" height="28.00" fill="#eaeddf"/>
<rect x="493.67" y="295.80" width="1.06" height="28.00" fill="#cddfb9"/>
<rect x="494.38" y="295.80" width="1.06" height="28.00" fill="#f0efe6"/>
<rect x="495.09" y="295.80" width="1.76" height="28.00" fill="#f6f2ee"/>
<rect x="496.50" y="295.80" width="1.06" height="28.00" fill="#f0cbc7"/>
<rect x="497.21" y="295.80" width="1.06" height="28.00" fill="#eaeddf"/>
<rect x="497.91" y="295.80" width="1.06" height="28.00" fill="#f4e8e4"/>
<rect x="498.62" y="295.80" width="1.06" height="28.00" fill="#f0efe6"/>
<rect x="499.32" y="295.80" width="1.06" height="28.00" fill="#e4ead7"/>
<rect x="500.03" y="295.80" width="1.06" height="28.00" fill="#da433e"/>
<rect x="500.74" y="295.80" width="1.06" height="28.00" fill="#f0efe6"/>
<rect x="501.44" y="295.80" width="1.76" height="28.00" fill="#f6f2ee"/>
<rect x="502.86" y="295.80" width="1.76" height="28.00" fill="#eaeddf"/>
<rect x="504.27" y="295.80" width="1.06" height="28.00" fill="#f6f2ee"/>
<rect x="504.97" y="295.80" width="1.06" height="28.00" fill="#edb8b3"/>
<rect x="505.68" y="295.80" width="1.06" height="28.00" fill="#f6f2ee"/>
<rect x="506.39" y="295.80" width="1.06" height="28.00" fill="#eaeddf"/>
<rect x="507.09" y="295.80" width="1.06" height="28.00" fill="#f0efe6"/>
<rect x="507.80" y="295.80" width="1.06" height="28.00" fill="#f6f2ee"/>
<rect x="508.51" y="295.80" width="1.06" height="28.00" fill="#f1d5d1"/>
<rect x="509.21" y="295.80" width="1.06" height="28.00" fill="#f6f2ee"/>
<rect x="509.92" y="295.80" width="2.47" height="28.00" fill="#f0efe6"/>
<rect x="512.04" y="295.80" width="1.06" height="28.00" fill="#f6f2ee"/>
<rect x="512.74" y="295.80" width="1.06" height="28.00" fill="#df605b"/>
<rect x="513.45" y="295.80" width="1.06" height="28.00" fill="#f6f2ee"/>
<rect x="514.16" y="295.80" width="1.06" height="28.00" fill="#edb8b3"/>
<rect x="514.86" y="295.80" width="2.47" height="28.00" fill="#f0efe6"/>
<rect x="516.98" y="295.80" width="1.76" height="28.00" fill="#eaeddf"/>
<rect x="518.39" y="295.80" width="1.06" height="28.00" fill="#f0cbc7"/>
<rect x="519.10" y="295.80" width="1.06" height="28.00" fill="#f0efe6"/>
<rect x="519.81" y="295.80" width="1.06" height="28.00" fill="#e89b96"/>
<rect x="520.51" y="295.80" width="1.06" height="28.00" fill="#f0efe6"/>
<rect x="521.22" y="295.80" width="1.06" height="28.00" fill="#f1d5d1"/>
<rect x="521.93" y="295.80" width="1.06" height="28.00" fill="#d93a34"/>
<rect x="522.63" y="295.80" width="1.76" height="28.00" fill="#f6f2ee"/>
<rect x="524.04" y="295.80" width="1.06" height="28.00" fill="#e2746f"/>
<rect x="524.75" y="295.80" width="1.76" height="28.00" fill="#f0efe6"/>
<rect x="526.16" y="295.80" width="1.76" height="28.00" fill="#f0cbc7"/>
<rect x="527.58" y="295.80" width="1.06" height="28.00" fill="#d93a34"/>
<rect x="528.28" y="295.80" width="1.06" height="28.00" fill="#d7302a"/>
<rect x="528.99" y="295.80" width="1.06" height="28.00" fill="#f0efe6"/>
<rect x="529.70" y="295.80" width="1.06" height="28.00" fill="#dc4d47"/>
<rect x="530.40" y="295.80" width="1.06" height="28.00" fill="#eaeddf"/>
<rect x="531.11" y="295.80" width="1.06" height="28.00" fill="#eec2bd"/>
<rect x="531.81" y="295.80" width="2.47" height="28.00" fill="#f6f2ee"/>
<rect x="533.93" y="295.80" width="1.06" height="28.00" fill="#e58782"/>
<rect x="534.64" y="295.80" width="1.06" height="28.00" fill="#ebaea9"/>
<rect x="535.35" y="295.80" width="1.06" height="28.00" fill="#f6f2ee"/>
<rect x="536.05" y="295.80" width="1.76" height="28.00" fill="#f0efe6"/>
<rect x="537.46" y="295.80" width="1.06" height="28.00" fill="#e37e78"/>
<rect x="538.17" y="295.80" width="1.06" height="28.00" fill="#f0efe6"/>
<rect x="538.88" y="295.80" width="1.06" height="28.00" fill="#e2746f"/>
<rect x="539.58" y="295.80" width="1.06" height="28.00" fill="#f1d5d1"/>
<rect x="540.29" y="295.80" width="1.06" height="28.00" fill="#f0efe6"/>
<rect x="541.00" y="295.80" width="1.06" height="28.00" fill="#eaeddf"/>
<rect x="541.70" y="295.80" width="1.06" height="28.00" fill="#f6f2ee"/>
<rect x="542.41" y="295.80" width="1.06" height="28.00" fill="#eec2bd"/>
<rect x="543.11" y="295.80" width="1.06" height="28.00" fill="#e06a65"/>
<rect x="543.82" y="295.80" width="1.06" height="28.00" fill="#e58782"/>
<rect x="544.53" y="295.80" width="1.76" height="28.00" fill="#f6f2ee"/>
<rect x="545.94" y="295.80" width="1.06" height="28.00" fill="#eaeddf"/>
<rect x="546.65" y="295.80" width="1.06" height="28.00" fill="#eec2bd"/>
<rect x="547.35" y="295.80" width="1.06" height="28.00" fill="#ebaea9"/>
<rect x="548.06" y="295.80" width="1.06" height="28.00" fill="#f1d5d1"/>
<rect x="548.77" y="295.80" width="1.06" height="28.00" fill="#f6f2ee"/>
<rect x="549.47" y="295.80" width="1.06" height="28.00" fill="#e06a65"/>
<rect x="550.18" y="295.80" width="1.06" height="28.00" fill="#f0efe6"/>
<rect x="550.88" y="295.80" width="1.06" height="28.00" fill="#eaeddf"/>
<rect x="551.59" y="295.80" width="1.06" height="28.00" fill="#da433e"/>
<rect x="552.30" y="295.80" width="1.06" height="28.00" fill="#e2746f"/>
<rect x="553.00" y="295.80" width="1.06" height="28.00" fill="#f4e8e4"/>
<rect x="553.71" y="295.80" width="1.06" height="28.00" fill="#eaeddf"/>
<rect x="554.42" y="295.80" width="1.06" height="28.00" fill="#e37e78"/>
<rect x="555.12" y="295.80" width="1.06" height="28.00" fill="#d93a34"/>
<rect x="555.83" y="295.80" width="1.06" height="28.00" fill="#ebaea9"/>
<rect x="556.53" y="295.80" width="1.06" height="28.00" fill="#da433e"/>
<rect x="557.24" y="295.80" width="1.06" height="28.00" fill="#e4ead7"/>
<rect x="557.95" y="295.80" width="1.06" height="28.00" fill="#d93a34"/>
<rect x="558.65" y="295.80" width="1.06" height="28.00" fill="#eaeddf"/>
<rect x="559.36" y="295.80" width="1.06" height="28.00" fill="#df605b"/>
<rect x="560.07" y="295.80" width="1.06" height="28.00" fill="#e2746f"/>
<rect x="560.77" y="295.80" width="1.06" height="28.00" fill="#eaa4a0"/>
<rect x="561.48" y="295.80" width="1.06" height="28.00" fill="#e58782"/>
<rect x="562.18" y="295.80" width="1.06" height="28.00" fill="#f4e8e4"/>
<rect x="562.89" y="295.80" width="1.76" height="28.00" fill="#f0efe6"/>
<rect x="564.30" y="295.80" width="1.06" height="28.00" fill="#d7302a"/>
<rect x="565.01" y="295.80" width="1.06" height="28.00" fill="#f0cbc7"/>
<rect x="565.72" y="295.80" width="1.06" height="28.00" fill="#df605b"/>
<rect x="566.42" y="295.80" width="1.06" height="28.00" fill="#eec2bd"/>
<rect x="567.13" y="295.80" width="1.06" height="28.00" fill="#e2746f"/>
<rect x="567.84" y="295.80" width="1.06" height="28.00" fill="#edb8b3"/>
<rect x="568.54" y="295.80" width="1.06" height="28.00" fill="#f0efe6"/>
<rect x="569.25" y="295.80" width="1.06" height="28.00" fill="#e37e78"/>
<rect x="569.95" y="295.80" width="1.06" height="28.00" fill="#eec2bd"/>
<rect x="570.66" y="295.80" width="1.06" height="28.00" fill="#ebaea9"/>
<rect x="571.37" y="295.80" width="1.06" height="28.00" fill="#e37e78"/>
<rect x="572.07" y="295.80" width="1.06" height="28.00" fill="#e58782"/>
<rect x="572.78" y="295.80" width="1.06" height="28.00" fill="#f6f2ee"/>
<rect x="573.49" y="295.80" width="1.76" height="28.00" fill="#ebaea9"/>
<rect x="574.90" y="295.80" width="1.06" height="28.00" fill="#f0cbc7"/>
<rect x="575.60" y="295.80" width="1.06" height="28.00" fill="#dc4d47"/>
<rect x="576.31" y="295.80" width="1.06" height="28.00" fill="#f0cbc7"/>
<rect x="577.02" y="295.80" width="1.06" height="28.00" fill="#da433e"/>
<rect x="577.72" y="295.80" width="1.06" height="28.00" fill="#d93a34"/>
<rect x="578.43" y="295.80" width="1.06" height="28.00" fill="#f0cbc7"/>
<rect x="579.14" y="295.80" width="1.06" height="28.00" fill="#d7302a"/>
<rect x="579.84" y="295.80" width="1.06" height="28.00" fill="#d93a34"/>
<rect x="580.55" y="295.80" width="1.06" height="28.00" fill="#f0efe6"/>
<rect x="581.26" y="295.80" width="1.06" height="28.00" fill="#df605b"/>
<rect x="581.96" y="295.80" width="1.06" height="28.00" fill="#e2746f"/>
<rect x="582.67" y="295.80" width="1.06" height="28.00" fill="#f0cbc7"/>
<rect x="583.37" y="295.80" width="1.06" height="28.00" fill="#dc4d47"/>
<rect x="584.08" y="295.80" width="1.06" height="28.00" fill="#e37e78"/>
<rect x="584.79" y="295.80" width="1.06" height="28.00" fill="#ebaea9"/>
<rect x="585.49" y="295.80" width="1.06" height="28.00" fill="#dc4d47"/>
<rect x="586.20" y="295.80" width="1.06" height="28.00" fill="#dd5751"/>
<rect x="586.91" y="295.80" width="1.06" height="28.00" fill="#da433e"/>
<rect x="587.61" y="295.80" width="1.06" height="28.00" fill="#eec2bd"/>
<rect x="588.32" y="295.80" width="1.06" height="28.00" fill="#f1d5d1"/>
<rect x="589.02" y="295.80" width="1.06" height="28.00" fill="#e2746f"/>
<rect x="589.73" y="295.80" width="1.06" height="28.00" fill="#df605b"/>
<rect x="590.44" y="295.80" width="1.06" height="28.00" fill="#f6f2ee"/>
<rect x="591.14" y="295.80" width="1.06" height="28.00" fill="#eec2bd"/>
<rect x="591.85" y="295.80" width="1.06" height="28.00" fill="#d7302a"/>
<rect x="592.56" y="295.80" width="1.06" height="28.00" fill="#dc4d47"/>
<rect x="593.26" y="295.80" width="1.06" height="28.00" fill="#df605b"/>
<rect x="593.97" y="295.80" width="1.06" height="28.00" fill="#d93a34"/>
<rect x="594.67" y="295.80" width="2.83" height="28.00" fill="#d7302a"/>
<rect x="339.70" y="324.15" width="1.06" height="28.00" fill="#c7dcb1"/>
<rect x="340.41" y="324.15" width="1.06" height="28.00" fill="#d8e4c8"/>
<rect x="341.11" y="324.15" width="1.06" height="28.00" fill="#eaeddf"/>
<rect x="341.82" y="324.15" width="1.06" height="28.00" fill="#f6f2ee"/>
<rect x="342.53" y="324.15" width="1.06" height="28.00" fill="#f4e8e4"/>
<rect x="343.23" y="324.15" width="1.06" height="28.00" fill="#f3dfda"/>
<rect x="343.94" y="324.15" width="1.06" height="28.00" fill="#f4e8e4"/>
<rect x="344.64" y="324.15" width="1.06" height="28.00" fill="#e4ead7"/>
<rect x="345.35" y="324.15" width="1.06" height="28.00" fill="#d3e2c0"/>
<rect x="346.06" y="324.15" width="1.06" height="28.00" fill="#e4ead7"/>
<rect x="346.76" y="324.15" width="1.06" height="28.00" fill="#d3e2c0"/>
<rect x="347.47" y="324.15" width="1.06" height="28.00" fill="#e4ead7"/>
<rect x="348.18" y="324.15" width="1.06" height="28.00" fill="#f4e8e4"/>
<rect x="348.88" y="324.15" width="1.06" height="28.00" fill="#cddfb9"/>
<rect x="349.59" y="324.15" width="1.06" height="28.00" fill="#eaeddf"/>
<rect x="350.29" y="324.15" width="1.06" height="28.00" fill="#f6f2ee"/>
<rect x="351.00" y="324.15" width="1.06" height="28.00" fill="#eaeddf"/>
<rect x="351.71" y="324.15" width="1.06" height="28.00" fill="#dee7d0"/>
<rect x="352.41" y="324.15" width="1.06" height="28.00" fill="#e4ead7"/>
<rect x="353.12" y="324.15" width="1.06" height="28.00" fill="#eaeddf"/>
<rect x="353.83" y="324.15" width="1.06" height="28.00" fill="#d8e4c8"/>
<rect x="354.53" y="324.15" width="1.06" height="28.00" fill="#dee7d0"/>
<rect x="355.24" y="324.15" width="1.06" height="28.00" fill="#f0efe6"/>
<rect x="355.94" y="324.15" width="1.06" height="28.00" fill="#dd5751"/>
<rect x="356.65" y="324.15" width="1.06" height="28.00" fill="#d8e4c8"/>
<rect x="357.36" y="324.15" width="1.06" height="28.00" fill="#e4ead7"/>
<rect x="358.06" y="324.15" width="1.06" height="28.00" fill="#d3e2c0"/>
<rect x="358.77" y="324.15" width="1.06" height="28.00" fill="#f6f2ee"/>
<rect x="359.48" y="324.15" width="1.06" height="28.00" fill="#f4e8e4"/>
<rect x="360.18" y="324.15" width="1.06" height="28.00" fill="#d3e2c0"/>
<rect x="360.89" y="324.15" width="1.06" height="28.00" fill="#f4e8e4"/>
<rect x="361.60" y="324.15" width="1.06" height="28.00" fill="#f6f2ee"/>
<rect x="362.30" y="324.15" width="1.06" height="28.00" fill="#d8e4c8"/>
<rect x="363.01" y="324.15" width="1.06" height="28.00" fill="#f6f2ee"/>
<rect x="363.71" y="324.15" width="1.76" height="28.00" fill="#e4ead7"/>
<rect x="365.13" y="324.15" width="1.06" height="28.00" fill="#d3e2c0"/>
<rect x="365.83" y="324.15" width="1.06" height="28.00" fill="#e89b96"/>
<rect x="366.54" y="324.15" width="1.06" height="28.00" fill="#d3e2c0"/>
<rect x="367.25" y="324.15" width="1.06" height="28.00" fill="#f4e8e4"/>
<rect x="367.95" y="324.15" width="1.06" height="28.00" fill="#c7dcb1"/>
<rect x="368.66" y="324.15" width="1.06" height="28.00" fill="#e4ead7"/>
<rect x="369.36" y="324.15" width="1.06" height="28.00" fill="#d3e2c0"/>
<rect x="370.07" y="324.15" width="1.06" height="28.00" fill="#df605b"/>
<rect x="370.78" y="324.15" width="1.06" height="28.00" fill="#eaeddf"/>
<rect x="371.48" y="324.15" width="1.06" height="28.00" fill="#e06a65"/>
<rect x="372.19" y="324.15" width="1.06" height="28.00" fill="#dee7d0"/>
<rect x="372.90" y="324.15" width="1.06" height="28.00" fill="#f0efe6"/>
<rect x="373.60" y="324.15" width="1.06" height="28.00" fill="#f6f2ee"/>
<rect x="374.31" y="324.15" width="1.06" height="28.00" fill="#f0efe6"/>
<rect x="375.02" y="324.15" width="1.06" height="28.00" fill="#eaeddf"/>
<rect x="375.72" y="324.15" width="1.06" height="28.00" fill="#dee7d0"/>
<rect x="376.43" y="324.15" width="1.06" height="28.00" fill="#edb8b3"/>
<rect x="377.13" y="324.15" width="1.06" height="28.00" fill="#f0efe6"/>
<rect x="377.84" y="324.15" width="1.06" height="28.00" fill="#f6f2ee"/>
<rect x="378.55" y="324.15" width="1.06" height="28.00" fill="#d8e4c8"/>
<rect x="379.25" y="324.15" width="1.06" height="28.00" fill="#dee7d0"/>
<rect x="379.96" y="324.15" width="1.06" height="28.00" fill="#e4ead7"/>
<rect x="380.67" y="324.15" width="1.06" height="28.00" fill="#dee7d0"/>
<rect x="381.37" y="324.15" width="1.76" height="28.00" fill="#f0efe6"/>
<rect x="382.78" y="324.15" width="1.06" height="28.00" fill="#e06a65"/>
<rect x="383.49" y="324.15" width="1.06" height="28.00" fill="#d3e2c0"/>
<rect x="384.20" y="324.15" width="1.06" height="28.00" fill="#f0efe6"/>
<rect x="384.90" y="324.15" width="1.06" height="28.00" fill="#dc4d47"/>
<rect x="385.61" y="324.15" width="1.06" height="28.00" fill="#e6918c"/>
<rect x="386.32" y="324.15" width="1.06" height="28.00" fill="#d3e2c0"/>
<rect x="387.02" y="324.15" width="1.06" height="28.00" fill="#dee7d0"/>
<rect x="387.73" y="324.15" width="1.06" height="28.00" fill="#d3e2c0"/>
<rect x="388.43" y="324.15" width="1.06" height="28.00" fill="#dee7d0"/>
<rect x="389.14" y="324.15" width="1.76" height="28.00" fill="#f4e8e4"/>
<rect x="390.55" y="324.15" width="1.06" height="28.00" fill="#f0efe6"/>
<rect x="391.26" y="324.15" width="1.06" height="28.00" fill="#f4e8e4"/>
<rect x="391.97" y="324.15" width="1.06" height="28.00" fill="#dd5751"/>
<rect x="392.67" y="324.15" width="1.06" height="28.00" fill="#dee7d0"/>
<rect x="393.38" y="324.15" width="1.06" height="28.00" fill="#f0efe6"/>
<rect x="394.09" y="324.15" width="1.06" height="28.00" fill="#dee7d0"/>
<rect x="394.79" y="324.15" width="1.06" height="28.00" fill="#f0efe6"/>
<rect x="395.50" y="324.15" width="1.06" height="28.00" fill="#e4ead7"/>
<rect x="396.20" y="324.15" width="1.06" height="28.00" fill="#edb8b3"/>
<rect x="396.91" y="324.15" width="1.06" height="28.00" fill="#cddfb9"/>
<rect x="397.62" y="324.15" width="1.06" height="28.00" fill="#e2746f"/>
<rect x="398.32" y="324.15" width="1.06" height="28.00" fill="#f0efe6"/>
<rect x="399.03" y="324.15" width="1.06" height="28.00" fill="#f6f2ee"/>
<rect x="399.74" y="324.15" width="1.06" height="28.00" fill="#d8e4c8"/>
<rect x="400.44" y="324.15" width="1.06" height="28.00" fill="#f6f2ee"/>
<rect x="401.15" y="324.15" width="1.06" height="28.00" fill="#f4e8e4"/>
<rect x="401.85" y="324.15" width="1.06" height="28.00" fill="#edb8b3"/>
<rect x="402.56" y="324.15" width="1.06" height="28.00" fill="#eaeddf"/>
<rect x="403.27" y="324.15" width="1.06" height="28.00" fill="#d3e2c0"/>
<rect x="403.97" y="324.15" width="1.06" height="28.00" fill="#f6f2ee"/>
<rect x="404.68" y="324.15" width="1.06" height="28.00" fill="#e37e78"/>
<rect x="405.39" y="324.15" width="1.06" height="28.00" fill="#f0efe6"/>
<rect x="406.09" y="324.15" width="1.06" height="28.00" fill="#e37e78"/>
<rect x="406.80" y="324.15" width="1.06" height="28.00" fill="#dee7d0"/>
<rect x="407.50" y="324.15" width="1.06" height="28.00" fill="#d8e4c8"/>
<rect x="408.21" y="324.15" width="1.06" height="28.00" fill="#d3e2c0"/>
<rect x="408.92" y="324.15" width="1.06" height="28.00" fill="#dc4d47"/>
<rect x="409.62" y="324.15" width="1.06" height="28.00" fill="#f0efe6"/>
<rect x="410.33" y="324.15" width="1.06" height="28.00" fill="#d8e4c8"/>
<rect x="411.04" y="324.15" width="1.06" height="28.00" fill="#ebaea9"/>
<rect x="411.74" y="324.15" width="1.06" height="28.00" fill="#e4ead7"/>
<rect x="412.45" y="324.15" width="1.06" height="28.00" fill="#e06a65"/>
<rect x="413.16" y="324.15" width="1.06" height="28.00" fill="#e4ead7"/>
<rect x="413.86" y="324.15" width="1.06" height="28.00" fill="#f0efe6"/>
<rect x="414.57" y="324.15" width="1.06" height="28.00" fill="#eec2bd"/>
<rect x="415.27" y="324.15" width="1.06" height="28.00" fill="#ebaea9"/>
<rect x="415.98" y="324.15" width="1.06" height="28.00" fill="#d3e2c0"/>
<rect x="416.69" y="324.15" width="1.06" height="28.00" fill="#f0efe6"/>
<rect x="417.39" y="324.15" width="1.76" height="28.00" fill="#d8e4c8"/>
<rect x="418.81" y="324.15" width="1.06" height="28.00" fill="#d3e2c0"/>
<rect x="419.51" y="324.15" width="1.06" height="28.00" fill="#f0efe6"/>
<rect x="420.22" y="324.15" width="1.06" height="28.00" fill="#d8e4c8"/>
<rect x="420.92" y="324.15" width="1.06" height="28.00" fill="#f0efe6"/>
<rect x="421.63" y="324.15" width="1.06" height="28.00" fill="#f0cbc7"/>
<rect x="422.34" y="324.15" width="1.06" height="28.00" fill="#f0efe6"/>
<rect x="423.04" y="324.15" width="1.06" height="28.00" fill="#e4ead7"/>
<rect x="423.75" y="324.15" width="1.06" height="28.00" fill="#d8e4c8"/>
<rect x="424.46" y="324.15" width="1.06" height="28.00" fill="#f6f2ee"/>
<rect x="425.16" y="324.15" width="1.06" height="28.00" fill="#d8e4c8"/>
<rect x="425.87" y="324.15" width="1.06" height="28.00" fill="#e4ead7"/>
<rect x="426.58" y="324.15" width="1.06" height="28.00" fill="#d8e4c8"/>
<rect x="427.28" y="324.15" width="1.06" height="28.00" fill="#d3e2c0"/>
<rect x="427.99" y="324.15" width="1.76" height="28.00" fill="#dee7d0"/>
<rect x="429.40" y="324.15" width="1.06" height="28.00" fill="#d8e4c8"/>
<rect x="430.11" y="324.15" width="1.06" height="28.00" fill="#eaeddf"/>
<rect x="430.81" y="324.15" width="1.76" height="28.00" fill="#e4ead7"/>
<rect x="432.23" y="324.15" width="1.06" height="28.00" fill="#f0efe6"/>
<rect x="432.93" y="324.15" width="1.06" height="28.00" fill="#eaeddf"/>
<rect x="433.64" y="324.15" width="1.06" height="28.00" fill="#dee7d0"/>
<rect x="434.34" y="324.15" width="1.76" height="28.00" fill="#eaeddf"/>
<rect x="435.76" y="324.15" width="1.06" height="28.00" fill="#f4e8e4"/>
<rect x="436.46" y="324.15" width="1.06" height="28.00" fill="#d3e2c0"/>
<rect x="437.17" y="324.15" width="1.06" height="28.00" fill="#e37e78"/>
<rect x="437.88" y="324.15" width="1.06" height="28.00" fill="#cddfb9"/>
<rect x="438.58" y="324.15" width="1.76" height="28.00" fill="#f0efe6"/>
<rect x="439.99" y="324.15" width="1.76" height="28.00" fill="#f4e8e4"/>
<rect x="441.41" y="324.15" width="1.06" height="28.00" fill="#dee7d0"/>
<rect x="442.11" y="324.15" width="1.76" height="28.00" fill="#eaeddf"/>
<rect x="443.53" y="324.15" width="1.76" height="28.00" fill="#f6f2ee"/>
<rect x="444.94" y="324.15" width="1.06" height="28.00" fill="#e37e78"/>
<rect x="445.65" y="324.15" width="1.06" height="28.00" fill="#eaeddf"/>
<rect x="446.35" y="324.15" width="1.06" height="28.00" fill="#e4ead7"/>
<rect x="447.06" y="324.15" width="1.06" height="28.00" fill="#f0efe6"/>
<rect x="447.76" y="324.15" width="1.06" height="28.00" fill="#eaeddf"/>
<rect x="448.47" y="324.15" width="1.06" height="28.00" fill="#f4e8e4"/>
<rect x="449.18" y="324.15" width="1.06" height="28.00" fill="#e2746f"/>
<rect x="449.88" y="324.15" width="1.06" height="28.00" fill="#f4e8e4"/>
<rect x="450.59" y="324.15" width="1.06" height="28.00" fill="#eaa4a0"/>
<rect x="451.30" y="324.15" width="1.06" height="28.00" fill="#f6f2ee"/>
<rect x="452.00" y="324.15" width="1.06" height="28.00" fill="#dee7d0"/>
<rect x="452.71" y="324.15" width="1.06" height="28.00" fill="#f0efe6"/>
<rect x="453.41" y="324.15" width="1.06" height="28.00" fill="#f4e8e4"/>
<rect x="454.12" y="324.15" width="1.06" height="28.00" fill="#dee7d0"/>
<rect x="454.83" y="324.15" width="1.06" height="28.00" fill="#d8e4c8"/>
<rect x="455.53" y="324.15" width="1.06" height="28.00" fill="#f6f2ee"/>
<rect x="456.24" y="324.15" width="1.06" height="28.00" fill="#d3e2c0"/>
<rect x="456.95" y="324.15" width="1.06" height="28.00" fill="#d8e4c8"/>
<rect x="457.65" y="324.15" width="1.06" height="28.00" fill="#e4ead7"/>
<rect x="458.36" y="324.15" width="1.06" height="28.00" fill="#eaeddf"/>
<rect x="459.06" y="324.15" width="1.06" height="28.00" fill="#dc4d47"/>
<rect x="459.77" y="324.15" width="1.06" height="28.00" fill="#eaeddf"/>
<rect x="460.48" y="324.15" width="1.06" height="28.00" fill="#ebaea9"/>
<rect x="461.18" y="324.15" width="1.06" height="28.00" fill="#dee7d0"/>
<rect x="461.89" y="324.15" width="1.06" height="28.00" fill="#d3e2c0"/>
<rect x="462.60" y="324.15" width="1.06" height="28.00" fill="#eec2bd"/>
<rect x="463.30" y="324.15" width="1.06" height="28.00" fill="#f4e8e4"/>
<rect x="464.01" y="324.15" width="1.06" height="28.00" fill="#ebaea9"/>
<rect x="464.72" y="324.15" width="1.06" height="28.00" fill="#f0cbc7"/>
<rect x="465.42" y="324.15" width="1.06" height="28.00" fill="#d3e2c0"/>
<rect x="466.13" y="324.15" width="1.06" height="28.00" fill="#eec2bd"/>
<rect x="466.83" y="324.15" width="1.06" height="28.00" fill="#f0efe6"/>
<rect x="467.54" y="324.15" width="1.06" height="28.00" fill="#d3e2c0"/>
<rect x="468.25" y="324.15" width="1.76" height="28.00" fill="#e4ead7"/>
<rect x="469.66" y="324.15" width="1.76" height="28.00" fill="#f4e8e4"/>
<rect x="471.07" y="324.15" width="1.06" height="28.00" fill="#e4ead7"/>
<rect x="471.78" y="324.15" width="1.06" height="28.00" fill="#f6f2ee"/>
<rect x="472.48" y="324.15" width="1.06" height="28.00" fill="#e4ead7"/>
<rect x="473.19" y="324.15" width="1.06" height="28.00" fill="#dee7d0"/>
<rect x="473.90" y="324.15" width="1.06" height="28.00" fill="#d8e4c8"/>
<rect x="474.60" y="324.15" width="1.06" height="28.00" fill="#ebaea9"/>
<rect x="475.31" y="324.15" width="1.06" height="28.00" fill="#d8e4c8"/>
<rect x="476.02" y="324.15" width="1.06" height="28.00" fill="#eaeddf"/>
<rect x="476.72" y="324.15" width="1.06" height="28.00" fill="#d8e4c8"/>
<rect x="477.43" y="324.15" width="1.76" height="28.00" fill="#dee7d0"/>
<rect x="478.84" y="324.15" width="1.06" height="28.00" fill="#d3e2c0"/>
<rect x="479.55" y="324.15" width="1.06" height="28.00" fill="#f0efe6"/>
<rect x="480.25" y="324.15" width="1.76" height="28.00" fill="#eaeddf"/>
<rect x="481.67" y="324.15" width="1.06" height="28.00" fill="#da433e"/>
<rect x="482.37" y="324.15" width="1.06" height="28.00" fill="#e2746f"/>
<rect x="483.08" y="324.15" width="1.06" height="28.00" fill="#df605b"/>
<rect x="483.79" y="324.15" width="1.06" height="28.00" fill="#d8e4c8"/>
<rect x="484.49" y="324.15" width="1.06" height="28.00" fill="#f0efe6"/>
<rect x="485.20" y="324.15" width="1.06" height="28.00" fill="#f0cbc7"/>
<rect x="485.90" y="324.15" width="1.06" height="28.00" fill="#e4ead7"/>
<rect x="486.61" y="324.15" width="1.76" height="28.00" fill="#f6f2ee"/>
<rect x="488.02" y="324.15" width="1.06" height="28.00" fill="#e06a65"/>
<rect x="488.73" y="324.15" width="1.06" height="28.00" fill="#dee7d0"/>
<rect x="489.44" y="324.15" width="1.06" height="28.00" fill="#eaeddf"/>
<rect x="490.14" y="324.15" width="1.06" height="28.00" fill="#f4e8e4"/>
<rect x="490.85" y="324.15" width="1.06" height="28.00" fill="#f6f2ee"/>
<rect x="491.55" y="324.15" width="1.06" height="28.00" fill="#d8e4c8"/>
<rect x="492.26" y="324.15" width="1.06" height="28.00" fill="#f0cbc7"/>
<rect x="492.97" y="324.15" width="1.06" height="28.00" fill="#d8e4c8"/>
<rect x="493.67" y="324.15" width="1.06" height="28.00" fill="#f3dfda"/>
<rect x="494.38" y="324.15" width="1.06" height="28.00" fill="#d7302a"/>
<rect x="495.09" y="324.15" width="1.06" height="28.00" fill="#d3e2c0"/>
<rect x="495.79" y="324.15" width="1.06" height="28.00" fill="#dee7d0"/>
<rect x="496.50" y="324.15" width="1.06" height="28.00" fill="#f0efe6"/>
<rect x="497.21" y="324.15" width="1.06" height="28.00" fill="#e4ead7"/>
<rect x="497.91" y="324.15" width="1.06" height="28.00" fill="#d8e4c8"/>
<rect x="498.62" y="324.15" width="1.06" height="28.00" fill="#eaeddf"/>
<rect x="499.32" y="324.15" width="1.06" height="28.00" fill="#d3e2c0"/>
<rect x="500.03" y="324.15" width="1.06" height="28.00" fill="#e06a65"/>
<rect x="500.74" y="324.15" width="1.06" height="28.00" fill="#eaeddf"/>
<rect x="501.44" y="324.15" width="1.06" height="28.00" fill="#f0efe6"/>
<rect x="502.15" y="324.15" width="1.06" height="28.00" fill="#cddfb9"/>
<rect x="502.86" y="324.15" width="1.06" height="28.00" fill="#d8e4c8"/>
<rect x="503.56" y="324.15" width="1.06" height="28.00" fill="#f0cbc7"/>
<rect x="504.27" y="324.15" width="1.06" height="28.00" fill="#dee7d0"/>
<rect x="504.97" y="324.15" width="1.06" height="28.00" fill="#c7dcb1"/>
<rect x="505.68" y="324.15" width="2.47" height="28.00" fill="#f6f2ee"/>
<rect x="507.80" y="324.15" width="1.06" height="28.00" fill="#f0efe6"/>
<rect x="508.51" y="324.15" width="1.06" height="28.00" fill="#dee7d0"/>
<rect x="509.21" y="324.15" width="1.06" height="28.00" fill="#f6f2ee"/>
<rect x="509.92" y="324.15" width="1.06" height="28.00" fill="#dee7d0"/>
<rect x="510.62" y="324.15" width="1.06" height="28.00" fill="#c1daaa"/>
<rect x="511.33" y="324.15" width="1.06" height="28.00" fill="#d3e2c0"/>
<rect x="512.04" y="324.15" width="1.06" height="28.00" fill="#e4ead7"/>
<rect x="512.74" y="324.15" width="1.06" height="28.00" fill="#f0efe6"/>
<rect x="513.45" y="324.15" width="1.76" height="28.00" fill="#f6f2ee"/>
<rect x="514.86" y="324.15" width="1.06" height="28.00" fill="#dc4d47"/>
<rect x="515.57" y="324.15" width="2.47" height="28.00" fill="#e4ead7"/>
<rect x="517.69" y="324.15" width="3.18" height="28.00" fill="#dee7d0"/>
<rect x="520.51" y="324.15" width="1.06" height="28.00" fill="#f6f2ee"/>
<rect x="521.22" y="324.15" width="1.06" height="28.00" fill="#d3e2c0"/>
<rect x="521.93" y="324.15" width="1.06" height="28.00" fill="#da433e"/>
<rect x="522.63" y="324.15" width="1.06" height="28.00" fill="#d8e4c8"/>
<rect x="523.34" y="324.15" width="1.06" height="28.00" fill="#dee7d0"/>
<rect x="524.04" y="324.15" width="1.06" height="28.00" fill="#dc4d47"/>
<rect x="524.75" y="324.15" width="1.76" height="28.00" fill="#f0efe6"/>
<rect x="526.16" y="324.15" width="1.06" height="28.00" fill="#d8e4c8"/>
<rect x="526.87" y="324.15" width="1.06" height="28.00" fill="#dee7d0"/>
<rect x="527.58" y="324.15" width="1.06" height="28.00" fill="#f6f2ee"/>
<rect x="528.28" y="324.15" width="1.06" height="28.00" fill="#d8e4c8"/>
<rect x="528.99" y="324.15" width="1.06" height="28.00" fill="#e2746f"/>
<rect x="529.70" y="324.15" width="1.06" height="28.00" fill="#f0efe6"/>
<rect x="530.40" y="324.15" width="1.06" height="28.00" fill="#dee7d0"/>
<rect x="531.11" y="324.15" width="1.06" height="28.00" fill="#f0efe6"/>
<rect x="531.81" y="324.15" width="1.06" height="28.00" fill="#d8e4c8"/>
<rect x="532.52" y="324.15" width="1.06" height="28.00" fill="#f0efe6"/>
<rect x="533.23" y="324.15" width="1.06" height="28.00" fill="#e37e78"/>
<rect x="533.93" y="324.15" width="1.06" height="28.00" fill="#d7302a"/>
<rect x="534.64" y="324.15" width="1.06" height="28.00" fill="#e4ead7"/>
<rect x="535.35" y="324.15" width="1.06" height="28.00" fill="#e58782"/>
<rect x="536.05" y="324.15" width="1.76" height="28.00" fill="#ebaea9"/>
<rect x="537.46" y="324.15" width="1.06" height="28.00" fill="#e4ead7"/>
<rect x="538.17" y="324.15" width="1.06" height="28.00" fill="#d3e2c0"/>
<rect x="538.88" y="324.15" width="1.06" height="28.00" fill="#f0efe6"/>
<rect x="539.58" y="324.15" width="1.06" height="28.00" fill="#f6f2ee"/>
<rect x="540.29" y="324.15" width="1.06" height="28.00" fill="#f0efe6"/>
<rect x="541.00" y="324.15" width="1.06" height="28.00" fill="#eec2bd"/>
<rect x="541.70" y="324.15" width="1.06" height="28.00" fill="#f3dfda"/>
<rect x="542.41" y="324.15" width="1.06" height="28.00" fill="#dee7d0"/>
<rect x="543.11" y="324.15" width="1.06" height="28.00" fill="#d7302a"/>
<rect x="543.82" y="324.15" width="1.06" height="28.00" fill="#f3dfda"/>
<rect x="544.53" y="324.15" width="1.06" height="28.00" fill="#d93a34"/>
<rect x="545.23" y="324.15" width="1.06" height="28.00" fill="#f0efe6"/>
<rect x="545.94" y="324.15" width="1.06" height="28.00" fill="#e4ead7"/>
<rect x="546.65" y="324.15" width="1.06" height="28.00" fill="#f1d5d1"/>
<rect x="547.35" y="324.15" width="1.06" height="28.00" fill="#da433e"/>
<rect x="548.06" y="324.15" width="1.06" height="28.00" fill="#d3e2c0"/>
<rect x="548.77" y="324.15" width="1.06" height="28.00" fill="#e4ead7"/>
<rect x="549.47" y="324.15" width="1.76" height="28.00" fill="#dee7d0"/>
<rect x="550.88" y="324.15" width="1.06" height="28.00" fill="#d93a34"/>
<rect x="551.59" y="324.15" width="1.06" height="28.00" fill="#eec2bd"/>
<rect x="552.30" y="324.15" width="1.06" height="28.00" fill="#d8e4c8"/>
<rect x="553.00" y="324.15" width="1.06" height="28.00" fill="#f4e8e4"/>
<rect x="553.71" y="324.15" width="1.06" height="28.00" fill="#e58782"/>
<rect x="554.42" y="324.15" width="1.06" height="28.00" fill="#d8e4c8"/>
<rect x="555.12" y="324.15" width="1.06" height="28.00" fill="#e2746f"/>
<rect x="555.83" y="324.15" width="1.06" height="28.00" fill="#df605b"/>
<rect x="556.53" y="324.15" width="1.06" height="28.00" fill="#f0efe6"/>
<rect x="557.24" y="324.15" width="1.06" height="28.00" fill="#da433e"/>
<rect x="557.95" y="324.15" width="1.06" height="28.00" fill="#cddfb9"/>
<rect x="558.65" y="324.15" width="1.06" height="28.00" fill="#dee7d0"/>
<rect x="559.36" y="324.15" width="1.06" height="28.00" fill="#eaeddf"/>
<rect x="560.07" y="324.15" width="1.06" height="28.00" fill="#e06a65"/>
<rect x="560.77" y="324.15" width="1.06" height="28.00" fill="#cddfb9"/>
<rect x="561.48" y="324.15" width="1.06" height="28.00" fill="#dee7d0"/>
<rect x="562.18" y="324.15" width="1.06" height="28.00" fill="#d8e4c8"/>
<rect x="562.89" y="324.15" width="1.06" height="28.00" fill="#bbd7a2"/>
<rect x="563.60" y="324.15" width="1.06" height="28.00" fill="#e4ead7"/>
<rect x="564.30" y="324.15" width="1.06" height="28.00" fill="#d8e4c8"/>
<rect x="565.01" y="324.15" width="1.06" height="28.00" fill="#eaeddf"/>
<rect x="565.72" y="324.15" width="1.06" height="28.00" fill="#d3e2c0"/>
<rect x="566.42" y="324.15" width="1.76" height="28.00" fill="#c7dcb1"/>
<rect x="567.84" y="324.15" width="1.06" height="28.00" fill="#e4ead7"/>
<rect x="568.54" y="324.15" width="1.06" height="28.00" fill="#d3e2c0"/>
<rect x="569.25" y="324.15" width="1.06" height="28.00" fill="#cddfb9"/>
<rect x="569.95" y="324.15" width="1.76" height="28.00" fill="#d8e4c8"/>
<rect x="571.37" y="324.15" width="1.06" height="28.00" fill="#dee7d0"/>
<rect x="572.07" y="324.15" width="1.06" height="28.00" fill="#f0efe6"/>
<rect x="572.78" y="324.15" width="1.06" height="28.00" fill="#e2746f"/>
<rect x="573.49" y="324.15" width="1.06" height="28.00" fill="#dee7d0"/>
<rect x="574.19" y="324.15" width="1.06" height="28.00" fill="#cddfb9"/>
<rect x="574.90" y="324.15" width="1.06" height="28.00" fill="#f4e8e4"/>
<rect x="575.60" y="324.15" width="1.06" height="28.00" fill="#e58782"/>
<rect x="576.31" y="324.15" width="1.06" height="28.00" fill="#d8e4c8"/>
<rect x="577.02" y="324.15" width="1.06" height="28.00" fill="#f3dfda"/>
<rect x="577.72" y="324.15" width="1.06" height="28.00" fill="#d8e4c8"/>
<rect x="578.43" y="324.15" width="1.06" height="28.00" fill="#f6f2ee"/>
<rect x="579.14" y="324.15" width="1.06" height="28.00" fill="#f0cbc7"/>
<rect x="579.84" y="324.15" width="1.06" height="28.00" fill="#cddfb9"/>
<rect x="580.55" y="324.15" width="1.06" height="28.00" fill="#f6f2ee"/>
<rect x="581.26" y="324.15" width="1.06" height="28.00" fill="#dee7d0"/>
<rect x="581.96" y="324.15" width="1.06" height="28.00" fill="#e06a65"/>
<rect x="582.67" y="324.15" width="1.06" height="28.00" fill="#e37e78"/>
<rect x="583.37" y="324.15" width="1.06" height="28.00" fill="#f0efe6"/>
<rect x="584.08" y="324.15" width="1.06" height="28.00" fill="#dc4d47"/>
<rect x="584.79" y="324.15" width="1.06" height="28.00" fill="#f0efe6"/>
<rect x="585.49" y="324.15" width="1.06" height="28.00" fill="#e2746f"/>
<rect x="586.20" y="324.15" width="1.06" height="28.00" fill="#d8e4c8"/>
<rect x="586.91" y="324.15" width="1.76" height="28.00" fill="#f6f2ee"/>
<rect x="588.32" y="324.15" width="1.06" height="28.00" fill="#e2746f"/>
<rect x="589.02" y="324.15" width="1.06" height="28.00" fill="#d7302a"/>
<rect x="589.73" y="324.15" width="1.06" height="28.00" fill="#e37e78"/>
<rect x="590.44" y="324.15" width="1.06" height="28.00" fill="#f0efe6"/>
<rect x="591.14" y="324.15" width="1.06" height="28.00" fill="#d3e2c0"/>
<rect x="591.85" y="324.15" width="1.06" height="28.00" fill="#d8e4c8"/>
<rect x="592.56" y="324.15" width="1.76" height="28.00" fill="#d3e2c0"/>
<rect x="593.97" y="324.15" width="1.06" height="28.00" fill="#e37e78"/>
<rect x="594.67" y="324.15" width="1.06" height="28.00" fill="#da433e"/>
<rect x="595.38" y="324.15" width="1.06" height="28.00" fill="#d3e2c0"/>
<rect x="596.09" y="324.15" width="1.06" height="28.00" fill="#f0efe6"/>
<rect x="596.79" y="324.15" width="0.71" height="28.00" fill="#df605b"/>
<rect x="339.70" y="352.50" width="1.06" height="28.00" fill="#cddfb9"/>
<rect x="340.41" y="352.50" width="1.06" height="28.00" fill="#f6f2ee"/>
<rect x="341.11" y="352.50" width="1.76" height="28.00" fill="#d3e2c0"/>
<rect x="342.53" y="352.50" width="1.06" height="28.00" fill="#dee7d0"/>
<rect x="343.23" y="352.50" width="1.06" height="28.00" fill="#edb8b3"/>
<rect x="343.94" y="352.50" width="1.76" height="28.00" fill="#d8e4c8"/>
<rect x="345.35" y="352.50" width="1.06" height="28.00" fill="#f4e8e4"/>
<rect x="346.06" y="352.50" width="1.06" height="28.00" fill="#cddfb9"/>
<rect x="346.76" y="352.50" width="1.06" height="28.00" fill="#d3e2c0"/>
<rect x="347.47" y="352.50" width="1.06" height="28.00" fill="#eaeddf"/>
<rect x="348.18" y="352.50" width="1.06" height="28.00" fill="#e4ead7"/>
<rect x="348.88" y="352.50" width="1.06" height="28.00" fill="#d3e2c0"/>
<rect x="349.59" y="352.50" width="1.06" height="28.00" fill="#e4ead7"/>
<rect x="350.29" y="352.50" width="1.06" height="28.00" fill="#cddfb9"/>
<rect x="351.00" y="352.50" width="1.06" height="28.00" fill="#d3e2c0"/>
<rect x="351.71" y="352.50" width="1.06" height="28.00" fill="#f6f2ee"/>
<rect x="352.41" y="352.50" width="1.06" height="28.00" fill="#d8e4c8"/>
<rect x="353.12" y="352.50" width="1.06" height="28.00" fill="#b5d49a"/>
<rect x="353.83" y="352.50" width="1.06" height="28.00" fill="#d3e2c0"/>
<rect x="354.53" y="352.50" width="1.06" height="28.00" fill="#f6f2ee"/>
<rect x="355.24" y="352.50" width="1.06" height="28.00" fill="#d8e4c8"/>
<rect x="355.94" y="352.50" width="1.06" height="28.00" fill="#c7dcb1"/>
<rect x="356.65" y="352.50" width="1.06" height="28.00" fill="#cddfb9"/>
<rect x="357.36" y="352.50" width="1.06" height="28.00" fill="#d3e2c0"/>
<rect x="358.06" y="352.50" width="1.06" height="28.00" fill="#cddfb9"/>
<rect x="358.77" y="352.50" width="1.06" height="28.00" fill="#c1daaa"/>
<rect x="359.48" y="352.50" width="1.06" height="28.00" fill="#dee7d0"/>
<rect x="360.18" y="352.50" width="1.06" height="28.00" fill="#f6f2ee"/>
<rect x="360.89" y="352.50" width="1.06" height="28.00" fill="#c7dcb1"/>
<rect x="361.60" y="352.50" width="1.06" height="28.00" fill="#d8e4c8"/>
<rect x="362.30" y="352.50" width="1.06" height="28.00" fill="#cddfb9"/>
<rect x="363.01" y="352.50" width="1.06" height="28.00" fill="#d3e2c0"/>
<rect x="363.71" y="352.50" width="1.06" height="28.00" fill="#eaeddf"/>
<rect x="364.42" y="352.50" width="1.76" height="28.00" fill="#dee7d0"/>
<rect x="365.83" y="352.50" width="1.06" height="28.00" fill="#f0efe6"/>
<rect x="366.54" y="352.50" width="1.06" height="28.00" fill="#d3e2c0"/>
<rect x="367.25" y="352.50" width="1.06" height="28.00" fill="#cddfb9"/>
<rect x="367.95" y="352.50" width="1.06" height="28.00" fill="#eaeddf"/>
<rect x="368.66" y="352.50" width="1.06" height="28.00" fill="#d8e4c8"/>
<rect x="369.36" y="352.50" width="1.06" height="28.00" fill="#e4ead7"/>
<rect x="370.07" y="352.50" width="1.06" height="28.00" fill="#c1daaa"/>
<rect x="370.78" y="352.50" width="1.06" height="28.00" fill="#d8e4c8"/>
<rect x="371.48" y="352.50" width="1.06" height="28.00" fill="#dee7d0"/>
<rect x="372.19" y="352.50" width="1.06" height="28.00" fill="#c7dcb1"/>
<rect x="372.90" y="352.50" width="1.06" height="28.00" fill="#d8e4c8"/>
<rect x="373.60" y="352.50" width="1.06" height="28.00" fill="#f0efe6"/>
<rect x="374.31" y="352.50" width="1.06" height="28.00" fill="#dee7d0"/>
<rect x="375.02" y="352.50" width="1.76" height="28.00" fill="#f6f2ee"/>
<rect x="376.43" y="352.50" width="1.06" height="28.00" fill="#e4ead7"/>
<rect x="377.13" y="352.50" width="1.06" height="28.00" fill="#d8e4c8"/>
<rect x="377.84" y="352.50" width="1.06" height="28.00" fill="#d3e2c0"/>
<rect x="378.55" y="352.50" width="1.06" height="28.00" fill="#f6f2ee"/>
<rect x="379.25" y="352.50" width="1.06" height="28.00" fill="#eaeddf"/>
<rect x="379.96" y="352.50" width="1.76" height="28.00" fill="#d3e2c0"/>
<rect x="381.37" y="352.50" width="1.76" height="28.00" fill="#d8e4c8"/>
<rect x="382.78" y="352.50" width="1.06" height="28.00" fill="#d3e2c0"/>
<rect x="383.49" y="352.50" width="1.06" height="28.00" fill="#d8e4c8"/>
<rect x="384.20" y="352.50" width="1.06" height="28.00" fill="#eaeddf"/>
<rect x="384.90" y="352.50" width="1.06" height="28.00" fill="#d8e4c8"/>
<rect x="385.61" y="352.50" width="1.06" height="28.00" fill="#f6f2ee"/>
<rect x="386.32" y="352.50" width="1.06" height="28.00" fill="#c7dcb1"/>
<rect x="387.02" y="352.50" width="1.06" height="28.00" fill="#d3e2c0"/>
<rect x="387.73" y="352.50" width="1.06" height="28.00" fill="#dee7d0"/>
<rect x="388.43" y="352.50" width="1.06" height="28.00" fill="#d3e2c0"/>
<rect x="389.14" y="352.50" width="1.06" height="28.00" fill="#f6f2ee"/>
<rect x="389.85" y="352.50" width="1.06" height="28.00" fill="#dc4d47"/>
<rect x="390.55" y="352.50" width="1.06" height="28.00" fill="#cddfb9"/>
<rect x="391.26" y="352.50" width="1.06" height="28.00" fill="#c1daaa"/>
<rect x="391.97" y="352.50" width="1.06" height="28.00" fill="#d8e4c8"/>
<rect x="392.67" y="352.50" width="1.06" height="28.00" fill="#cddfb9"/>
<rect x="393.38" y="352.50" width="1.06" height="28.00" fill="#d8e4c8"/>
<rect x="394.09" y="352.50" width="1.06" height="28.00" fill="#c7dcb1"/>
<rect x="394.79" y="352.50" width="1.06" height="28.00" fill="#d8e4c8"/>
<rect x="395.50" y="352.50" width="1.06" height="28.00" fill="#cddfb9"/>
<rect x="396.20" y="352.50" width="1.06" height="28.00" fill="#eaeddf"/>
<rect x="396.91" y="352.50" width="1.76" height="28.00" fill="#d3e2c0"/>
<rect x="398.32" y="352.50" width="1.06" height="28.00" fill="#d8e4c8"/>
<rect x="399.03" y="352.50" width="1.06" height="28.00" fill="#c1daaa"/>
<rect x="399.74" y="352.50" width="1.06" height="28.00" fill="#d8e4c8"/>
<rect x="400.44" y="352.50" width="1.06" height="28.00" fill="#e2746f"/>
<rect x="401.15" y="352.50" width="1.06" height="28.00" fill="#e4ead7"/>
<rect x="401.85" y="352.50" width="1.06" height="28.00" fill="#d8e4c8"/>
<rect x="402.56" y="352.50" width="1.06" height="28.00" fill="#c1daaa"/>
<rect x="403.27" y="352.50" width="1.06" height="28.00" fill="#e4ead7"/>
<rect x="403.97" y="352.50" width="1.06" height="28.00" fill="#ebaea9"/>
<rect x="404.68" y="352.50" width="1.06" height="28.00" fill="#cddfb9"/>
<rect x="405.39" y="352.50" width="1.06" height="28.00" fill="#f6f2ee"/>
<rect x="406.09" y="352.50" width="1.06" height="28.00" fill="#d8e4c8"/>
<rect x="406.80" y="352.50" width="1.06" height="28.00" fill="#f0efe6"/>
<rect x="407.50" y="352.50" width="2.47" height="28.00" fill="#cddfb9"/>
<rect x="409.62" y="352.50" width="1.06" height="28.00" fill="#eaeddf"/>
<rect x="410.33" y="352.50" width="1.06" height="28.00" fill="#f0efe6"/>
<rect x="411.04" y="352.50" width="1.06" height="28.00" fill="#cddfb9"/>
<rect x="411.74" y="352.50" width="1.06" height="28.00" fill="#dee7d0"/>
<rect x="412.45" y="352.50" width="1.06" height="28.00" fill="#d3e2c0"/>
<rect x="413.16" y="352.50" width="1.06" height="28.00" fill="#cddfb9"/>
<rect x="413.86" y="352.50" width="1.06" height="28.00" fill="#d3e2c0"/>
<rect x="414.57" y="352.50" width="1.76" height="28.00" fill="#d8e4c8"/>
<rect x="415.98" y="352.50" width="1.06" height="28.00" fill="#c7dcb1"/>
<rect x="416.69" y="352.50" width="1.06" height="28.00" fill="#d3e2c0"/>
<rect x="417.39" y="352.50" width="1.06" height="28.00" fill="#cddfb9"/>
<rect x="418.10" y="352.50" width="1.06" height="28.00" fill="#d8e4c8"/>
<rect x="418.81" y="352.50" width="1.06" height="28.00" fill="#e37e78"/>
<rect x="419.51" y="352.50" width="1.06" height="28.00" fill="#edb8b3"/>
<rect x="420.22" y="352.50" width="1.06" height="28.00" fill="#f6f2ee"/>
<rect x="420.92" y="352.50" width="1.06" height="28.00" fill="#d3e2c0"/>
<rect x="421.63" y="352.50" width="1.06" height="28.00" fill="#cddfb9"/>
<rect x="422.34" y="352.50" width="1.06" height="28.00" fill="#f6f2ee"/>
<rect x="423.04" y="352.50" width="1.06" height="28.00" fill="#e4ead7"/>
<rect x="423.75" y="352.50" width="1.06" height="28.00" fill="#d8e4c8"/>
<rect x="424.46" y="352.50" width="1.06" height="28.00" fill="#dee7d0"/>
<rect x="425.16" y="352.50" width="1.06" height="28.00" fill="#f6f2ee"/>
<rect x="425.87" y="352.50" width="1.76" height="28.00" fill="#d8e4c8"/>
<rect x="427.28" y="352.50" width="1.06" height="28.00" fill="#f6f2ee"/>
<rect x="427.99" y="352.50" width="1.06" height="28.00" fill="#d8e4c8"/>
<rect x="428.69" y="352.50" width="1.06" height="28.00" fill="#d3e2c0"/>
<rect x="429.40" y="352.50" width="1.06" height="28.00" fill="#d8e4c8"/>
<rect x="430.11" y="352.50" width="1.06" height="28.00" fill="#cddfb9"/>
<rect x="430.81" y="352.50" width="1.06" height="28.00" fill="#d3e2c0"/>
<rect x="431.52" y="352.50" width="1.06" height="28.00" fill="#d8e4c8"/>
<rect x="432.23" y="352.50" width="1.06" height="28.00" fill="#f0efe6"/>
<rect x="432.93" y="352.50" width="1.06" height="28.00" fill="#c7dcb1"/>
<rect x="433.64" y="352.50" width="1.06" height="28.00" fill="#f6f2ee"/>
<rect x="434.34" y="352.50" width="1.06" height="28.00" fill="#d3e2c0"/>
<rect x="435.05" y="352.50" width="1.06" height="28.00" fill="#f6f2ee"/>
<rect x="435.76" y="352.50" width="1.06" height="28.00" fill="#dee7d0"/>
<rect x="436.46" y="352.50" width="1.06" height="28.00" fill="#eaeddf"/>
<rect x="437.17" y="352.50" width="1.06" height="28.00" fill="#d8e4c8"/>
<rect x="437.88" y="352.50" width="1.06" height="28.00" fill="#e4ead7"/>
<rect x="438.58" y="352.50" width="1.06" height="28.00" fill="#d3e2c0"/>
<rect x="439.29" y="352.50" width="1.06" height="28.00" fill="#d8e4c8"/>
<rect x="439.99" y="352.50" width="1.06" height="28.00" fill="#e4ead7"/>
<rect x="440.70" y="352.50" width="1.76" height="28.00" fill="#d3e2c0"/>
<rect x="442.11" y="352.50" width="1.06" height="28.00" fill="#e4ead7"/>
<rect x="442.82" y="352.50" width="1.06" height="28.00" fill="#f6f2ee"/>
<rect x="443.53" y="352.50" width="1.06" height="28.00" fill="#d3e2c0"/>
<rect x="444.23" y="352.50" width="1.06" height="28.00" fill="#dee7d0"/>
<rect x="444.94" y="352.50" width="1.06" height="28.00" fill="#f1d5d1"/>
<rect x="445.65" y="352.50" width="1.06" height="28.00" fill="#dee7d0"/>
<rect x="446.35" y="352.50" width="1.76" height="28.00" fill="#d8e4c8"/>
<rect x="447.76" y="352.50" width="1.06" height="28.00" fill="#f0efe6"/>
<rect x="448.47" y="352.50" width="1.06" height="28.00" fill="#da433e"/>
<rect x="449.18" y="352.50" width="1.06" height="28.00" fill="#f6f2ee"/>
<rect x="449.88" y="352.50" width="1.06" height="28.00" fill="#e4ead7"/>
<rect x="450.59" y="352.50" width="1.06" height="28.00" fill="#f0efe6"/>
<rect x="451.30" y="352.50" width="1.76" height="28.00" fill="#c7dcb1"/>
<rect x="452.71" y="352.50" width="1.06" height="28.00" fill="#cddfb9"/>
<rect x="453.41" y="352.50" width="1.76" height="28.00" fill="#dee7d0"/>
<rect x="454.83" y="352.50" width="1.76" height="28.00" fill="#d8e4c8"/>
<rect x="456.24" y="352.50" width="1.06" height="28.00" fill="#eaeddf"/>
<rect x="456.95" y="352.50" width="1.06" height="28.00" fill="#f6f2ee"/>
<rect x="457.65" y="352.50" width="1.06" height="28.00" fill="#eaeddf"/>
<rect x="458.36" y="352.50" width="1.06" height="28.00" fill="#f6f2ee"/>
<rect x="459.06" y="352.50" width="1.06" height="28.00" fill="#eaeddf"/>
<rect x="459.77" y="352.50" width="1.06" height="28.00" fill="#ebaea9"/>
<rect x="460.48" y="352.50" width="1.06" height="28.00" fill="#f3dfda"/>
<rect x="461.18" y="352.50" width="1.06" height="28.00" fill="#cddfb9"/>
<rect x="461.89" y="352.50" width="1.06" height="28.00" fill="#d8e4c8"/>
<rect x="462.60" y="352.50" width="1.06" height="28.00" fill="#dee7d0"/>
<rect x="463.30" y="352.50" width="1.76" height="28.00" fill="#f0efe6"/>
<rect x="464.72" y="352.50" width="1.06" height="28.00" fill="#f6f2ee"/>
<rect x="465.42" y="352.50" width="1.06" height="28.00" fill="#dee7d0"/>
<rect x="466.13" y="352.50" width="1.06" height="28.00" fill="#f4e8e4"/>
<rect x="466.83" y="352.50" width="1.06" height="28.00" fill="#dee7d0"/>
<rect x="467.54" y="352.50" width="1.06" height="28.00" fill="#f1d5d1"/>
<rect x="468.25" y="352.50" width="1.06" height="28.00" fill="#f4e8e4"/>
<rect x="468.95" y="352.50" width="1.06" height="28.00" fill="#dee7d0"/>
<rect x="469.66" y="352.50" width="1.06" height="28.00" fill="#eaeddf"/>
<rect x="470.37" y="352.50" width="1.06" height="28.00" fill="#e4ead7"/>
<rect x="471.07" y="352.50" width="1.06" height="28.00" fill="#f4e8e4"/>
<rect x="471.78" y="352.50" width="1.06" height="28.00" fill="#e4ead7"/>
<rect x="472.48" y="352.50" width="1.06" height="28.00" fill="#eec2bd"/>
<rect x="473.19" y="352.50" width="1.06" height="28.00" fill="#f4e8e4"/>
<rect x="473.90" y="352.50" width="1.06" height="28.00" fill="#e4ead7"/>
<rect x="474.60" y="352.50" width="1.06" height="28.00" fill="#eaeddf"/>
<rect x="475.31" y="352.50" width="1.06" height="28.00" fill="#edb8b3"/>
<rect x="476.02" y="352.50" width="1.06" height="28.00" fill="#f0efe6"/>
<rect x="476.72" y="352.50" width="1.06" height="28.00" fill="#cddfb9"/>
<rect x="477.43" y="352.50" width="1.06" height="28.00" fill="#d8e4c8"/>
<rect x="478.14" y="352.50" width="1.06" height="28.00" fill="#dee7d0"/>
<rect x="478.84" y="352.50" width="1.06" height="28.00" fill="#f6f2ee"/>
<rect x="479.55" y="352.50" width="1.06" height="28.00" fill="#eaeddf"/>
<rect x="480.25" y="352.50" width="1.76" height="28.00" fill="#f0efe6"/>
<rect x="481.67" y="352.50" width="1.06" height="28.00" fill="#d7302a"/>
<rect x="482.37" y="352.50" width="1.76" height="28.00" fill="#d8e4c8"/>
<rect x="483.79" y="352.50" width="1.06" height="28.00" fill="#f4e8e4"/>
<rect x="484.49" y="352.50" width="1.06" height="28.00" fill="#e4ead7"/>
<rect x="485.20" y="352.50" width="1.06" height="28.00" fill="#ebaea9"/>
<rect x="485.90" y="352.50" width="1.06" height="28.00" fill="#f6f2ee"/>
<rect x="486.61" y="352.50" width="2.47" height="28.00" fill="#e4ead7"/>
<rect x="488.73" y="352.50" width="1.06" height="28.00" fill="#edb8b3"/>
<rect x="489.44" y="352.50" width="1.06" height="28.00" fill="#dee7d0"/>
<rect x="490.14" y="352.50" width="1.06" height="28.00" fill="#eec2bd"/>
<rect x="490.85" y="352.50" width="1.06" height="28.00" fill="#ebaea9"/>
<rect x="491.55" y="352.50" width="1.06" height="28.00" fill="#df605b"/>
<rect x="492.26" y="352.50" width="1.06" height="28.00" fill="#f0efe6"/>
<rect x="492.97" y="352.50" width="1.06" height="28.00" fill="#edb8b3"/>
<rect x="493.67" y="352.50" width="1.06" height="28.00" fill="#f6f2ee"/>
<rect x="494.38" y="352.50" width="1.06" height="28.00" fill="#dee7d0"/>
<rect x="495.09" y="352.50" width="1.06" height="28.00" fill="#eaeddf"/>
<rect x="495.79" y="352.50" width="1.06" height="28.00" fill="#dee7d0"/>
<rect x="496.50" y="352.50" width="1.06" height="28.00" fill="#edb8b3"/>
<rect x="497.21" y="352.50" width="1.06" height="28.00" fill="#eec2bd"/>
<rect x="497.91" y="352.50" width="1.06" height="28.00" fill="#dd5751"/>
<rect x="498.62" y="352.50" width="1.06" height="28.00" fill="#f0efe6"/>
<rect x="499.32" y="352.50" width="1.06" height="28.00" fill="#d8e4c8"/>
<rect x="500.03" y="352.50" width="1.06" height="28.00" fill="#f6f2ee"/>
<rect x="500.74" y="352.50" width="1.06" height="28.00" fill="#dc4d47"/>
<rect x="501.44" y="352.50" width="1.06" height="28.00" fill="#dee7d0"/>
<rect x="502.15" y="352.50" width="1.06" height="28.00" fill="#eec2bd"/>
<rect x="502.86" y="352.50" width="1.06" height="28.00" fill="#f0efe6"/>
<rect x="503.56" y="352.50" width="1.06" height="28.00" fill="#df605b"/>
<rect x="504.27" y="352.50" width="1.06" height="28.00" fill="#f0efe6"/>
<rect x="504.97" y="352.50" width="1.06" height="28.00" fill="#f6f2ee"/>
<rect x="505.68" y="352.50" width="1.06" height="28.00" fill="#eaeddf"/>
<rect x="506.39" y="352.50" width="1.06" height="28.00" fill="#ebaea9"/>
<rect x="507.09" y="352.50" width="1.06" height="28.00" fill="#dee7d0"/>
<rect x="507.80" y="352.50" width="1.06" height="28.00" fill="#e06a65"/>
<rect x="508.51" y="352.50" width="1.76" height="28.00" fill="#f0efe6"/>
<rect x="509.92" y="352.50" width="1.06" height="28.00" fill="#d3e2c0"/>
<rect x="510.62" y="352.50" width="1.06" height="28.00" fill="#ebaea9"/>
<rect x="511.33" y="352.50" width="1.06" height="28.00" fill="#d93a34"/>
<rect x="512.04" y="352.50" width="1.06" height="28.00" fill="#e4ead7"/>
<rect x="512.74" y="352.50" width="1.06" height="28.00" fill="#eaeddf"/>
<rect x="513.45" y="352.50" width="1.06" height="28.00" fill="#f4e8e4"/>
<rect x="514.16" y="352.50" width="1.06" height="28.00" fill="#e37e78"/>
<rect x="514.86" y="352.50" width="1.06" height="28.00" fill="#f0efe6"/>
<rect x="515.57" y="352.50" width="1.06" height="28.00" fill="#dee7d0"/>
<rect x="516.28" y="352.50" width="1.76" height="28.00" fill="#f0efe6"/>
<rect x="517.69" y="352.50" width="2.47" height="28.00" fill="#f6f2ee"/>
<rect x="519.81" y="352.50" width="1.06" height="28.00" fill="#f1d5d1"/>
<rect x="520.51" y="352.50" width="1.06" height="28.00" fill="#f0efe6"/>
<rect x="521.22" y="352.50" width="1.06" height="28.00" fill="#da433e"/>
<rect x="521.93" y="352.50" width="1.06" height="28.00" fill="#eaeddf"/>
<rect x="522.63" y="352.50" width="1.76" height="28.00" fill="#d8e4c8"/>
<rect x="524.04" y="352.50" width="1.06" height="28.00" fill="#e4ead7"/>
<rect x="524.75" y="352.50" width="1.06" height="28.00" fill="#f4e8e4"/>
<rect x="525.46" y="352.50" width="1.06" height="28.00" fill="#f0efe6"/>
<rect x="526.16" y="352.50" width="1.06" height="28.00" fill="#eec2bd"/>
<rect x="526.87" y="352.50" width="1.06" height="28.00" fill="#dd5751"/>
<rect x="527.58" y="352.50" width="1.76" height="28.00" fill="#f6f2ee"/>
<rect x="528.99" y="352.50" width="1.06" height="28.00" fill="#f0efe6"/>
<rect x="529.70" y="352.50" width="1.06" height="28.00" fill="#f0cbc7"/>
<rect x="530.40" y="352.50" width="1.06" height="28.00" fill="#cddfb9"/>
<rect x="531.11" y="352.50" width="1.06" height="28.00" fill="#e58782"/>
<rect x="531.81" y="352.50" width="1.06" height="28.00" fill="#f0efe6"/>
<rect x="532.52" y="352.50" width="1.06" height="28.00" fill="#dd5751"/>
<rect x="533.23" y="352.50" width="1.06" height="28.00" fill="#f4e8e4"/>
<rect x="533.93" y="352.50" width="1.06" height="28.00" fill="#ebaea9"/>
<rect x="534.64" y="352.50" width="1.06" height="28.00" fill="#f6f2ee"/>
<rect x="535.35" y="352.50" width="1.06" height="28.00" fill="#dee7d0"/>
<rect x="536.05" y="352.50" width="1.06" height="28.00" fill="#eaeddf"/>
<rect x="536.76" y="352.50" width="1.06" height="28.00" fill="#d8e4c8"/>
<rect x="537.46" y="352.50" width="1.06" height="28.00" fill="#e06a65"/>
<rect x="538.17" y="352.50" width="1.06" height="28.00" fill="#dc4d47"/>
<rect x="538.88" y="352.50" width="1.06" height="28.00" fill="#f0efe6"/>
<rect x="539.58" y="352.50" width="1.06" height="28.00" fill="#eaeddf"/>
<rect x="540.29" y="352.50" width="1.06" height="28.00" fill="#eec2bd"/>
<rect x="541.00" y="352.50" width="1.06" height="28.00" fill="#ebaea9"/>
<rect x="541.70" y="352.50" width="1.06" height="28.00" fill="#e37e78"/>
<rect x="542.41" y="352.50" width="1.06" height="28.00" fill="#f1d5d1"/>
<rect x="543.11" y="352.50" width="1.06" height="28.00" fill="#dc4d47"/>
<rect x="543.82" y="352.50" width="1.06" height="28.00" fill="#e37e78"/>
<rect x="544.53" y="352.50" width="1.06" height="28.00" fill="#f6f2ee"/>
<rect x="545.23" y="352.50" width="1.76" height="28.00" fill="#f0efe6"/>
<rect x="546.65" y="352.50" width="1.06" height="28.00" fill="#f6f2ee"/>
<rect x="547.35" y="352.50" width="1.06" height="28.00" fill="#e4ead7"/>
<rect x="548.06" y="352.50" width="1.06" height="28.00" fill="#f6f2ee"/>
<rect x="548.77" y="352.50" width="1.06" height="28.00" fill="#f4e8e4"/>
<rect x="549.47" y="352.50" width="1.06" height="28.00" fill="#d93a34"/>
<rect x="550.18" y="352.50" width="1.06" height="28.00" fill="#e06a65"/>
<rect x="550.88" y="352.50" width="1.06" height="28.00" fill="#dee7d0"/>
<rect x="551.59" y="352.50" width="1.06" height="28.00" fill="#eec2bd"/>
<rect x="552.30" y="352.50" width="1.06" height="28.00" fill="#da433e"/>
<rect x="553.00" y="352.50" width="1.06" height="28.00" fill="#f0cbc7"/>
<rect x="553.71" y="352.50" width="1.06" height="28.00" fill="#eec2bd"/>
<rect x="554.42" y="352.50" width="1.06" height="28.00" fill="#f6f2ee"/>
<rect x="555.12" y="352.50" width="1.06" height="28.00" fill="#f0cbc7"/>
<rect x="555.83" y="352.50" width="1.06" height="28.00" fill="#edb8b3"/>
<rect x="556.53" y="352.50" width="1.06" height="28.00" fill="#e37e78"/>
<rect x="557.24" y="352.50" width="1.06" height="28.00" fill="#e4ead7"/>
<rect x="557.95" y="352.50" width="1.06" height="28.00" fill="#f0cbc7"/>
<rect x="558.65" y="352.50" width="1.06" height="28.00" fill="#f0efe6"/>
<rect x="559.36" y="352.50" width="1.06" height="28.00" fill="#eaeddf"/>
<rect x="560.07" y="352.50" width="1.06" height="28.00" fill="#eaa4a0"/>
<rect x="560.77" y="352.50" width="1.06" height="28.00" fill="#f0efe6"/>
<rect x="561.48" y="352.50" width="1.06" height="28.00" fill="#e06a65"/>
<rect x="562.18" y="352.50" width="1.06" height="28.00" fill="#e58782"/>
<rect x="562.89" y="352.50" width="1.06" height="28.00" fill="#edb8b3"/>
<rect x="563.60" y="352.50" width="1.06" height="28.00" fill="#f3dfda"/>
<rect x="564.30" y="352.50" width="1.06" height="28.00" fill="#f1d5d1"/>
<rect x="565.01" y="352.50" width="1.06" height="28.00" fill="#f0efe6"/>
<rect x="565.72" y="352.50" width="1.06" height="28.00" fill="#edb8b3"/>
<rect x="566.42" y="352.50" width="1.06" height="28.00" fill="#eaeddf"/>
<rect x="567.13" y="352.50" width="1.06" height="28.00" fill="#f0efe6"/>
<rect x="567.84" y="352.50" width="1.06" height="28.00" fill="#dc4d47"/>
<rect x="568.54" y="352.50" width="1.06" height="28.00" fill="#f6f2ee"/>
<rect x="569.25" y="352.50" width="1.06" height="28.00" fill="#eaeddf"/>
<rect x="569.95" y="352.50" width="1.06" height="28.00" fill="#dc4d47"/>
<rect x="570.66" y="352.50" width="1.06" height="28.00" fill="#f4e8e4"/>
<rect x="571.37" y="352.50" width="1.06" height="28.00" fill="#dd5751"/>
<rect x="572.07" y="352.50" width="1.06" height="28.00" fill="#f4e8e4"/>
<rect x="572.78" y="352.50" width="1.06" height="28.00" fill="#dee7d0"/>
<rect x="573.49" y="352.50" width="1.06" height="28.00" fill="#d3e2c0"/>
<rect x="574.19" y="352.50" width="1.06" height="28.00" fill="#f6f2ee"/>
<rect x="574.90" y="352.50" width="1.06" height="28.00" fill="#ebaea9"/>
<rect x="575.60" y="352.50" width="1.06" height="28.00" fill="#f4e8e4"/>
<rect x="576.31" y="352.50" width="1.06" height="28.00" fill="#f6f2ee"/>
<rect x="577.02" y="352.50" width="1.06" height="28.00" fill="#dd5751"/>
<rect x="577.72" y="352.50" width="1.06" height="28.00" fill="#eaa4a0"/>
<rect x="578.43" y="352.50" width="1.06" height="28.00" fill="#eec2bd"/>
<rect x="579.14" y="352.50" width="1.06" height="28.00" fill="#d8e4c8"/>
<rect x="579.84" y="352.50" width="1.06" height="28.00" fill="#df605b"/>
<rect x="580.55" y="352.50" width="1.06" height="28.00" fill="#e4ead7"/>
<rect x="581.26" y="352.50" width="1.06" height="28.00" fill="#eaeddf"/>
<rect x="581.96" y="352.50" width="1.06" height="28.00" fill="#eaa4a0"/>
<rect x="582.67" y="352.50" width="1.06" height="28.00" fill="#edb8b3"/>
<rect x="583.37" y="352.50" width="1.76" height="28.00" fill="#df605b"/>
<rect x="584.79" y="352.50" width="1.06" height="28.00" fill="#eaeddf"/>
<rect x="585.49" y="352.50" width="1.06" height="28.00" fill="#f6f2ee"/>
<rect x="586.20" y="352.50" width="1.06" height="28.00" fill="#f4e8e4"/>
<rect x="586.91" y="352.50" width="1.06" height="28.00" fill="#d93a34"/>
<rect x="587.61" y="352.50" width="1.06" height="28.00" fill="#f6f2ee"/>
<rect x="588.32" y="352.50" width="1.06" height="28.00" fill="#f1d5d1"/>
<rect x="589.02" y="352.50" width="1.06" height="28.00" fill="#df605b"/>
<rect x="589.73" y="352.50" width="1.06" height="28.00" fill="#e4ead7"/>
<rect x="590.44" y="352.50" width="1.06" height="28.00" fill="#f4e8e4"/>
<rect x="591.14" y="352.50" width="1.76" height="28.00" fill="#dd5751"/>
<rect x="592.56" y="352.50" width="1.06" height="28.00" fill="#e2746f"/>
<rect x="593.26" y="352.50" width="1.06" height="28.00" fill="#edb8b3"/>
<rect x="593.97" y="352.50" width="1.06" height="28.00" fill="#f0efe6"/>
<rect x="594.67" y="352.50" width="1.06" height="28.00" fill="#e06a65"/>
<rect x="595.38" y="352.50" width="1.06" height="28.00" fill="#f6f2ee"/>
<rect x="596.09" y="352.50" width="1.06" height="28.00" fill="#e58782"/>
<rect x="596.79" y="352.50" width="0.71" height="28.00" fill="#f4e8e4"/>
<rect x="339.70" y="380.85" width="1.76" height="28.00" fill="#9eca7c"/>
<rect x="341.11" y="380.85" width="1.06" height="28.00" fill="#98c774"/>
<rect x="341.82" y="380.85" width="4.59" height="28.00" fill="#a3cc84"/>
<rect x="346.06" y="380.85" width="1.06" height="28.00" fill="#b5d49a"/>
<rect x="346.76" y="380.85" width="1.06" height="28.00" fill="#98c774"/>
<rect x="347.47" y="380.85" width="1.76" height="28.00" fill="#9eca7c"/>
<rect x="348.88" y="380.85" width="1.06" height="28.00" fill="#b5d49a"/>
<rect x="349.59" y="380.85" width="1.06" height="28.00" fill="#9eca7c"/>
<rect x="350.29" y="380.85" width="1.76" height="28.00" fill="#afd293"/>
<rect x="351.71" y="380.85" width="1.06" height="28.00" fill="#9eca7c"/>
<rect x="352.41" y="380.85" width="1.06" height="28.00" fill="#a3cc84"/>
<rect x="353.12" y="380.85" width="1.06" height="28.00" fill="#98c774"/>
<rect x="353.83" y="380.85" width="2.47" height="28.00" fill="#a3cc84"/>
<rect x="355.94" y="380.85" width="1.06" height="28.00" fill="#b5d49a"/>
<rect x="356.65" y="380.85" width="3.18" height="28.00" fill="#a3cc84"/>
<rect x="359.48" y="380.85" width="1.06" height="28.00" fill="#b5d49a"/>
<rect x="360.18" y="380.85" width="1.06" height="28.00" fill="#afd293"/>
<rect x="360.89" y="380.85" width="1.06" height="28.00" fill="#a9cf8b"/>
<rect x="361.60" y="380.85" width="1.06" height="28.00" fill="#b5d49a"/>
<rect x="362.30" y="380.85" width="1.06" height="28.00" fill="#afd293"/>
<rect x="363.01" y="380.85" width="1.06" height="28.00" fill="#b5d49a"/>
<rect x="363.71" y="380.85" width="1.76" height="28.00" fill="#a9cf8b"/>
<rect x="365.13" y="380.85" width="1.06" height="28.00" fill="#a3cc84"/>
<rect x="365.83" y="380.85" width="1.06" height="28.00" fill="#b5d49a"/>
<rect x="366.54" y="380.85" width="1.06" height="28.00" fill="#afd293"/>
<rect x="367.25" y="380.85" width="1.06" height="28.00" fill="#a9cf8b"/>
<rect x="367.95" y="380.85" width="1.06" height="28.00" fill="#b5d49a"/>
<rect x="368.66" y="380.85" width="1.06" height="28.00" fill="#afd293"/>
<rect x="369.36" y="380.85" width="1.06" height="28.00" fill="#a3cc84"/>
<rect x="370.07" y="380.85" width="1.06" height="28.00" fill="#b5d49a"/>
<rect x="370.78" y="380.85" width="1.06" height="28.00" fill="#a9cf8b"/>
<rect x="371.48" y="380.85" width="1.76" height="28.00" fill="#afd293"/>
<rect x="372.90" y="380.85" width="1.06" height="28.00" fill="#a9cf8b"/>
<rect x="373.60" y="380.85" width="1.06" height="28.00" fill="#afd293"/>
<rect x="374.31" y="380.85" width="1.06" height="28.00" fill="#a9cf8b"/>
<rect x="375.02" y="380.85" width="1.06" height="28.00" fill="#9eca7c"/>
<rect x="375.72" y="380.85" width="1.06" height="28.00" fill="#a9cf8b"/>
<rect x="376.43" y="380.85" width="1.06" height="28.00" fill="#92c46d"/>
<rect x="377.13" y="380.85" width="1.06" height="28.00" fill="#a3cc84"/>
<rect x="377.84" y="380.85" width="1.06" height="28.00" fill="#b5d49a"/>
<rect x="378.55" y="380.85" width="1.06" height="28.00" fill="#a9cf8b"/>
<rect x="379.25" y="380.85" width="1.06" height="28.00" fill="#b5d49a"/>
<rect x="379.96" y="380.85" width="1.06" height="28.00" fill="#afd293"/>
<rect x="380.67" y="380.85" width="1.06" height="28.00" fill="#a3cc84"/>
<rect x="381.37" y="380.85" width="1.06" height="28.00" fill="#9eca7c"/>
<rect x="382.08" y="380.85" width="1.06" height="28.00" fill="#bbd7a2"/>
<rect x="382.78" y="380.85" width="1.06" height="28.00" fill="#afd293"/>
<rect x="383.49" y="380.85" width="1.06" height="28.00" fill="#a3cc84"/>
<rect x="384.20" y="380.85" width="1.06" height="28.00" fill="#b5d49a"/>
<rect x="384.90" y="380.85" width="1.06" height="28.00" fill="#a3cc84"/>
<rect x="385.61" y="380.85" width="1.06" height="28.00" fill="#f4e8e4"/>
<rect x="386.32" y="380.85" width="1.06" height="28.00" fill="#a3cc84"/>
<rect x="387.02" y="380.85" width="1.06" height="28.00" fill="#a9cf8b"/>
<rect x="387.73" y="380.85" width="1.06" height="28.00" fill="#afd293"/>
<rect x="388.43" y="380.85" width="1.06" height="28.00" fill="#9eca7c"/>
<rect x="389.14" y="380.85" width="1.06" height="28.00" fill="#f4e8e4"/>
<rect x="389.85" y="380.85" width="1.06" height="28.00" fill="#a3cc84"/>
<rect x="390.55" y="380.85" width="1.06" height="28.00" fill="#bbd7a2"/>
<rect x="391.26" y="380.85" width="1.76" height="28.00" fill="#a9cf8b"/>
<rect x="392.67" y="380.85" width="1.06" height="28.00" fill="#9eca7c"/>
<rect x="393.38" y="380.85" width="1.76" height="28.00" fill="#a3cc84"/>
<rect x="394.79" y="380.85" width="1.76" height="28.00" fill="#afd293"/>
<rect x="396.20" y="380.85" width="1.06" height="28.00" fill="#b5d49a"/>
<rect x="396.91" y="380.85" width="1.06" height="28.00" fill="#afd293"/>
<rect x="397.62" y="380.85" width="1.06" height="28.00" fill="#b5d49a"/>
<rect x="398.32" y="380.85" width="1.06" height="28.00" fill="#a9cf8b"/>
<rect x="399.03" y="380.85" width="1.76" height="28.00" fill="#b5d49a"/>
<rect x="400.44" y="380.85" width="1.06" height="28.00" fill="#8cc165"/>
<rect x="401.15" y="380.85" width="1.06" height="28.00" fill="#afd293"/>
<rect x="401.85" y="380.85" width="1.06" height="28.00" fill="#a3cc84"/>
<rect x="402.56" y="380.85" width="1.06" height="28.00" fill="#b5d49a"/>
<rect x="403.27" y="380.85" width="1.06" height="28.00" fill="#a9cf8b"/>
<rect x="403.97" y="380.85" width="1.06" height="28.00" fill="#b5d49a"/>
<rect x="404.68" y="380.85" width="1.06" height="28.00" fill="#bbd7a2"/>
<rect x="405.39" y="380.85" width="1.06" height="28.00" fill="#a9cf8b"/>
<rect x="406.09" y="380.85" width="1.06" height="28.00" fill="#b5d49a"/>
<rect x="406.80" y="380.85" width="1.76" height="28.00" fill="#a3cc84"/>
<rect x="408.21" y="380.85" width="1.06" height="28.00" fill="#c1daaa"/>
<rect x="408.92" y="380.85" width="1.06" height="28.00" fill="#afd293"/>
<rect x="409.62" y="380.85" width="1.06" height="28.00" fill="#bbd7a2"/>
<rect x="410.33" y="380.85" width="1.06" height="28.00" fill="#afd293"/>
<rect x="411.04" y="380.85" width="1.06" height="28.00" fill="#bbd7a2"/>
<rect x="411.74" y="380.85" width="1.06" height="28.00" fill="#f4e8e4"/>
<rect x="412.45" y="380.85" width="1.06" height="28.00" fill="#a9cf8b"/>
<rect x="413.16" y="380.85" width="2.47" height="28.00" fill="#bbd7a2"/>
<rect x="415.27" y="380.85" width="1.06" height="28.00" fill="#f6f2ee"/>
<rect x="415.98" y="380.85" width="1.06" height="28.00" fill="#afd293"/>
<rect x="416.69" y="380.85" width="1.06" height="28.00" fill="#eaa4a0"/>
<rect x="417.39" y="380.85" width="1.06" height="28.00" fill="#bbd7a2"/>
<rect x="418.10" y="380.85" width="1.76" height="28.00" fill="#afd293"/>
<rect x="419.51" y="380.85" width="1.06" height="28.00" fill="#a9cf8b"/>
<rect x="420.22" y="380.85" width="1.06" height="28.00" fill="#c7dcb1"/>
<rect x="420.92" y="380.85" width="1.06" height="28.00" fill="#a9cf8b"/>
<rect x="421.63" y="380.85" width="1.76" height="28.00" fill="#b5d49a"/>
<rect x="423.04" y="380.85" width="1.06" height="28.00" fill="#f4e8e4"/>
<rect x="423.75" y="380.85" width="1.06" height="28.00" fill="#bbd7a2"/>
<rect x="424.46" y="380.85" width="1.06" height="28.00" fill="#afd293"/>
<rect x="425.16" y="380.85" width="1.06" height="28.00" fill="#c1daaa"/>
<rect x="425.87" y="380.85" width="1.06" height="28.00" fill="#a9cf8b"/>
<rect x="426.58" y="380.85" width="1.06" height="28.00" fill="#f6f2ee"/>
<rect x="427.28" y="380.85" width="1.06" height="28.00" fill="#b5d49a"/>
<rect x="427.99" y="380.85" width="1.06" height="28.00" fill="#f0efe6"/>
<rect x="428.69" y="380.85" width="1.06" height="28.00" fill="#bbd7a2"/>
<rect x="429.40" y="380.85" width="1.06" height="28.00" fill="#c1daaa"/>
<rect x="430.11" y="380.85" width="1.06" height="28.00" fill="#f6f2ee"/>
<rect x="430.81" y="380.85" width="1.06" height="28.00" fill="#d3e2c0"/>
<rect x="431.52" y="380.85" width="1.06" height="28.00" fill="#c1daaa"/>
<rect x="432.23" y="380.85" width="2.47" height="28.00" fill="#bbd7a2"/>
<rect x="434.34" y="380.85" width="1.06" height="28.00" fill="#b5d49a"/>
<rect x="435.05" y="380.85" width="1.76" height="28.00" fill="#d3e2c0"/>
<rect x="436.46" y="380.85" width="1.76" height="28.00" fill="#c1daaa"/>
<rect x="437.88" y="380.85" width="1.76" height="28.00" fill="#d3e2c0"/>
<rect x="439.29" y="380.85" width="1.06" height="28.00" fill="#c1daaa"/>
<rect x="439.99" y="380.85" width="1.06" height="28.00" fill="#f4e8e4"/>
<rect x="440.70" y="380.85" width="1.76" height="28.00" fill="#bbd7a2"/>
<rect x="442.11" y="380.85" width="1.06" height="28.00" fill="#d8e4c8"/>
<rect x="442.82" y="380.85" width="1.06" height="28.00" fill="#f0efe6"/>
<rect x="443.53" y="380.85" width="1.06" height="28.00" fill="#c1daaa"/>
<rect x="444.23" y="380.85" width="1.06" height="28.00" fill="#a9cf8b"/>
<rect x="444.94" y="380.85" width="1.06" height="28.00" fill="#cddfb9"/>
<rect x="445.65" y="380.85" width="1.06" height="28.00" fill="#c7dcb1"/>
<rect x="446.35" y="380.85" width="1.06" height="28.00" fill="#f0efe6"/>
<rect x="447.06" y="380.85" width="1.06" height="28.00" fill="#d3e2c0"/>
<rect x="447.76" y="380.85" width="1.06" height="28.00" fill="#c1daaa"/>
<rect x="448.47" y="380.85" width="1.06" height="28.00" fill="#f0efe6"/>
<rect x="449.18" y="380.85" width="1.06" height="28.00" fill="#cddfb9"/>
<rect x="449.88" y="380.85" width="1.06" height="28.00" fill="#d3e2c0"/>
<rect x="450.59" y="380.85" width="1.06" height="28.00" fill="#c7dcb1"/>
<rect x="451.30" y="380.85" width="1.06" height="28.00" fill="#c1daaa"/>
<rect x="452.00" y="380.85" width="1.06" height="28.00" fill="#d3e2c0"/>
<rect x="452.71" y="380.85" width="1.06" height="28.00" fill="#c1daaa"/>
<rect x="453.41" y="380.85" width="1.06" height="28.00" fill="#f6f2ee"/>
<rect x="454.12" y="380.85" width="1.06" height="28.00" fill="#cddfb9"/>
<rect x="454.83" y="380.85" width="1.06" height="28.00" fill="#f6f2ee"/>
<rect x="455.53" y="380.85" width="1.06" height="28.00" fill="#c7dcb1"/>
<rect x="456.24" y="380.85" width="1.06" height="28.00" fill="#c1daaa"/>
<rect x="456.95" y="380.85" width="1.76" height="28.00" fill="#f4e8e4"/>
<rect x="458.36" y="380.85" width="1.06" height="28.00" fill="#eaeddf"/>
<rect x="459.06" y="380.85" width="1.06" height="28.00" fill="#c1daaa"/>
<rect x="459.77" y="380.85" width="1.06" height="28.00" fill="#e4ead7"/>
<rect x="460.48" y="380.85" width="1.06" height="28.00" fill="#cddfb9"/>
<rect x="461.18" y="380.85" width="1.06" height="28.00" fill="#eaeddf"/>
<rect x="461.89" y="380.85" width="1.06" height="28.00" fill="#f0efe6"/>
<rect x="462.60" y="380.85" width="1.06" height="28.00" fill="#d8e4c8"/>
<rect x="463.30" y="380.85" width="1.06" height="28.00" fill="#cddfb9"/>
<rect x="464.01" y="380.85" width="1.06" height="28.00" fill="#d3e2c0"/>
<rect x="464.72" y="380.85" width="1.76" height="28.00" fill="#eaeddf"/>
<rect x="466.13" y="380.85" width="1.06" height="28.00" fill="#cddfb9"/>
<rect x="466.83" y="380.85" width="1.06" height="28.00" fill="#eec2bd"/>
<rect x="467.54" y="380.85" width="1.06" height="28.00" fill="#d8e4c8"/>
<rect x="468.25" y="380.85" width="1.06" height="28.00" fill="#c7dcb1"/>
<rect x="468.95" y="380.85" width="1.76" height="28.00" fill="#f6f2ee"/>
<rect x="470.37" y="380.85" width="1.06" height="28.00" fill="#c1daaa"/>
<rect x="471.07" y="380.85" width="1.06" height="28.00" fill="#f0cbc7"/>
<rect x="471.78" y="380.85" width="1.06" height="28.00" fill="#f6f2ee"/>
<rect x="472.48" y="380.85" width="1.06" height="28.00" fill="#d3e2c0"/>
<rect x="473.19" y="380.85" width="1.06" height="28.00" fill="#dee7d0"/>
<rect x="473.90" y="380.85" width="1.06" height="28.00" fill="#d8e4c8"/>
<rect x="474.60" y="380.85" width="1.06" height="28.00" fill="#d3e2c0"/>
<rect x="475.31" y="380.85" width="1.06" height="28.00" fill="#f6f2ee"/>
<rect x="476.02" y="380.85" width="1.06" height="28.00" fill="#f0efe6"/>
<rect x="476.72" y="380.85" width="1.06" height="28.00" fill="#f6f2ee"/>
<rect x="477.43" y="380.85" width="1.06" height="28.00" fill="#f0efe6"/>
<rect x="478.14" y="380.85" width="1.06" height="28.00" fill="#f4e8e4"/>
<rect x="478.84" y="380.85" width="1.06" height="28.00" fill="#e4ead7"/>
<rect x="479.55" y="380.85" width="1.06" height="28.00" fill="#c7dcb1"/>
<rect x="480.25" y="380.85" width="1.06" height="28.00" fill="#d8e4c8"/>
<rect x="480.96" y="380.85" width="1.06" height="28.00" fill="#cddfb9"/>
<rect x="481.67" y="380.85" width="1.06" height="28.00" fill="#df605b"/>
<rect x="482.37" y="380.85" width="1.06" height="28.00" fill="#dd5751"/>
<rect x="483.08" y="380.85" width="1.76" height="28.00" fill="#f4e8e4"/>
<rect x="484.49" y="380.85" width="1.06" height="28.00" fill="#cddfb9"/>
<rect x="485.20" y="380.85" width="1.06" height="28.00" fill="#ebaea9"/>
<rect x="485.90" y="380.85" width="1.06" height="28.00" fill="#f4e8e4"/>
<rect x="486.61" y="380.85" width="1.06" height="28.00" fill="#f0efe6"/>
<rect x="487.32" y="380.85" width="1.06" height="28.00" fill="#e4ead7"/>
<rect x="488.02" y="380.85" width="1.06" height="28.00" fill="#dc4d47"/>
<rect x="488.73" y="380.85" width="1.06" height="28.00" fill="#eec2bd"/>
<rect x="489.44" y="380.85" width="1.06" height="28.00" fill="#f6f2ee"/>
<rect x="490.14" y="380.85" width="1.06" height="28.00" fill="#f4e8e4"/>
<rect x="490.85" y="380.85" width="1.06" height="28.00" fill="#cddfb9"/>
<rect x="491.55" y="380.85" width="1.06" height="28.00" fill="#e4ead7"/>
<rect x="492.26" y="380.85" width="1.06" height="28.00" fill="#dee7d0"/>
<rect x="492.97" y="380.85" width="1.06" height="28.00" fill="#f4e8e4"/>
<rect x="493.67" y="380.85" width="1.06" height="28.00" fill="#f0efe6"/>
<rect x="494.38" y="380.85" width="1.06" height="28.00" fill="#ebaea9"/>
<rect x="495.09" y="380.85" width="1.06" height="28.00" fill="#edb8b3"/>
<rect x="495.79" y="380.85" width="1.06" height="28.00" fill="#f0efe6"/>
<rect x="496.50" y="380.85" width="1.06" height="28.00" fill="#edb8b3"/>
<rect x="497.21" y="380.85" width="1.06" height="28.00" fill="#e4ead7"/>
<rect x="497.91" y="380.85" width="1.06" height="28.00" fill="#f0efe6"/>
<rect x="498.62" y="380.85" width="1.06" height="28.00" fill="#f4e8e4"/>
<rect x="499.32" y="380.85" width="1.06" height="28.00" fill="#eaeddf"/>
<rect x="500.03" y="380.85" width="1.06" height="28.00" fill="#f0efe6"/>
<rect x="500.74" y="380.85" width="1.76" height="28.00" fill="#f4e8e4"/>
<rect x="502.15" y="380.85" width="1.06" height="28.00" fill="#f6f2ee"/>
<rect x="502.86" y="380.85" width="1.06" height="28.00" fill="#d8e4c8"/>
<rect x="503.56" y="380.85" width="1.06" height="28.00" fill="#f0efe6"/>
<rect x="504.27" y="380.85" width="1.76" height="28.00" fill="#f6f2ee"/>
<rect x="505.68" y="380.85" width="1.06" height="28.00" fill="#eec2bd"/>
<rect x="506.39" y="380.85" width="1.06" height="28.00" fill="#edb8b3"/>
<rect x="507.09" y="380.85" width="1.06" height="28.00" fill="#dee7d0"/>
<rect x="507.80" y="380.85" width="1.06" height="28.00" fill="#f6f2ee"/>
<rect x="508.51" y="380.85" width="1.06" height="28.00" fill="#f0efe6"/>
<rect x="509.21" y="380.85" width="1.06" height="28.00" fill="#f6f2ee"/>
<rect x="509.92" y="380.85" width="1.06" height="28.00" fill="#e4ead7"/>
<rect x="510.62" y="380.85" width="1.06" height="28.00" fill="#eaeddf"/>
<rect x="511.33" y="380.85" width="1.06" height="28.00" fill="#f0efe6"/>
<rect x="512.04" y="380.85" width="1.06" height="28.00" fill="#e4ead7"/>
<rect x="512.74" y="380.85" width="1.06" height="28.00" fill="#eec2bd"/>
<rect x="513.45" y="380.85" width="1.06" height="28.00" fill="#f3dfda"/>
<rect x="514.16" y="380.85" width="1.06" height="28.00" fill="#e2746f"/>
<rect x="514.86" y="380.85" width="1.06" height="28.00" fill="#edb8b3"/>
<rect x="515.57" y="380.85" width="1.06" height="28.00" fill="#e4ead7"/>
<rect x="516.28" y="380.85" width="1.06" height="28.00" fill="#f0efe6"/>
<rect x="516.98" y="380.85" width="1.06" height="28.00" fill="#f1d5d1"/>
<rect x="517.69" y="380.85" width="1.06" height="28.00" fill="#f0efe6"/>
<rect x="518.39" y="380.85" width="1.06" height="28.00" fill="#dc4d47"/>
<rect x="519.10" y="380.85" width="1.06" height="28.00" fill="#e4ead7"/>
<rect x="519.81" y="380.85" width="1.06" height="28.00" fill="#dee7d0"/>
<rect x="520.51" y="380.85" width="1.06" height="28.00" fill="#f6f2ee"/>
<rect x="521.22" y="380.85" width="1.06" height="28.00" fill="#ebaea9"/>
<rect x="521.93" y="380.85" width="1.06" height="28.00" fill="#eec2bd"/>
<rect x="522.63" y="380.85" width="1.06" height="28.00" fill="#e4ead7"/>
<rect x="523.34" y="380.85" width="1.06" height="28.00" fill="#f6f2ee"/>
<rect x="524.04" y="380.85" width="1.06" height="28.00" fill="#e06a65"/>
<rect x="524.75" y="380.85" width="1.06" height="28.00" fill="#edb8b3"/>
<rect x="525.46" y="380.85" width="1.06" height="28.00" fill="#e4ead7"/>
<rect x="526.16" y="380.85" width="1.06" height="28.00" fill="#f6f2ee"/>
<rect x="526.87" y="380.85" width="1.06" height="28.00" fill="#d93a34"/>
<rect x="527.58" y="380.85" width="1.06" height="28.00" fill="#f6f2ee"/>
<rect x="528.28" y="380.85" width="1.76" height="28.00" fill="#f0efe6"/>
<rect x="529.70" y="380.85" width="1.06" height="28.00" fill="#f4e8e4"/>
<rect x="530.40" y="380.85" width="1.06" height="28.00" fill="#f0efe6"/>
<rect x="531.11" y="380.85" width="1.06" height="28.00" fill="#f6f2ee"/>
<rect x="531.81" y="380.85" width="1.06" height="28.00" fill="#dd5751"/>
<rect x="532.52" y="380.85" width="1.06" height="28.00" fill="#eaeddf"/>
<rect x="533.23" y="380.85" width="1.06" height="28.00" fill="#f6f2ee"/>
<rect x="533.93" y="380.85" width="1.06" height="28.00" fill="#eec2bd"/>
<rect x="534.64" y="380.85" width="1.76" height="28.00" fill="#f6f2ee"/>
<rect x="536.05" y="380.85" width="1.06" height="28.00" fill="#eec2bd"/>
<rect x="536.76" y="380.85" width="1.06" height="28.00" fill="#edb8b3"/>
<rect x="537.46" y="380.85" width="1.06" height="28.00" fill="#e06a65"/>
<rect x="538.17" y="380.85" width="1.06" height="28.00" fill="#f0efe6"/>
<rect x="538.88" y="380.85" width="1.06" height="28.00" fill="#f0cbc7"/>
<rect x="539.58" y="380.85" width="1.06" height="28.00" fill="#e4ead7"/>
<rect x="540.29" y="380.85" width="1.06" height="28.00" fill="#ebaea9"/>
<rect x="541.00" y="380.85" width="1.06" height="28.00" fill="#eec2bd"/>
<rect x="541.70" y="380.85" width="1.06" height="28.00" fill="#f0efe6"/>
<rect x="542.41" y="380.85" width="1.06" height="28.00" fill="#f4e8e4"/>
<rect x="543.11" y="380.85" width="1.06" height="28.00" fill="#f0efe6"/>
<rect x="543.82" y="380.85" width="1.06" height="28.00" fill="#ebaea9"/>
<rect x="544.53" y="380.85" width="1.06" height="28.00" fill="#f1d5d1"/>
<rect x="545.23" y="380.85" width="1.06" height="28.00" fill="#e06a65"/>
<rect x="545.94" y="380.85" width="1.76" height="28.00" fill="#f0efe6"/>
<rect x="547.35" y="380.85" width="1.06" height="28.00" fill="#e37e78"/>
<rect x="548.06" y="380.85" width="1.06" height="28.00" fill="#f6f2ee"/>
<rect x="548.77" y="380.85" width="1.06" height="28.00" fill="#d93a34"/>
<rect x="549.47" y="380.85" width="1.06" height="28.00" fill="#eaeddf"/>
<rect x="550.18" y="380.85" width="1.06" height="28.00" fill="#f0efe6"/>
<rect x="550.88" y="380.85" width="1.06" height="28.00" fill="#e89b96"/>
<rect x="551.59" y="380.85" width="1.06" height="28.00" fill="#f6f2ee"/>
<rect x="552.30" y="380.85" width="1.06" height="28.00" fill="#d93a34"/>
<rect x="553.00" y="380.85" width="1.06" height="28.00" fill="#edb8b3"/>
<rect x="553.71" y="380.85" width="1.06" height="28.00" fill="#e37e78"/>
<rect x="554.42" y="380.85" width="1.06" height="28.00" fill="#f6f2ee"/>
<rect x="555.12" y="380.85" width="1.06" height="28.00" fill="#eaeddf"/>
<rect x="555.83" y="380.85" width="1.06" height="28.00" fill="#e89b96"/>
<rect x="556.53" y="380.85" width="1.06" height="28.00" fill="#dc4d47"/>
<rect x="557.24" y="380.85" width="1.06" height="28.00" fill="#e4ead7"/>
<rect x="557.95" y="380.85" width="1.76" height="28.00" fill="#f6f2ee"/>
<rect x="559.36" y="380.85" width="1.06" height="28.00" fill="#e89b96"/>
<rect x="560.07" y="380.85" width="1.06" height="28.00" fill="#eec2bd"/>
<rect x="560.77" y="380.85" width="1.06" height="28.00" fill="#eaa4a0"/>
<rect x="561.48" y="380.85" width="1.06" height="28.00" fill="#f6f2ee"/>
<rect x="562.18" y="380.85" width="1.06" height="28.00" fill="#dc4d47"/>
<rect x="562.89" y="380.85" width="1.06" height="28.00" fill="#eaa4a0"/>
<rect x="563.60" y="380.85" width="1.06" height="28.00" fill="#e58782"/>
<rect x="564.30" y="380.85" width="1.06" height="28.00" fill="#d93a34"/>
<rect x="565.01" y="380.85" width="1.06" height="28.00" fill="#dd5751"/>
<rect x="565.72" y="380.85" width="1.06" height="28.00" fill="#da433e"/>
<rect x="566.42" y="380.85" width="1.06" height="28.00" fill="#ebaea9"/>
<rect x="567.13" y="380.85" width="1.06" height="28.00" fill="#d93a34"/>
<rect x="567.84" y="380.85" width="1.06" height="28.00" fill="#f4e8e4"/>
<rect x="568.54" y="380.85" width="1.06" height="28.00" fill="#d93a34"/>
<rect x="569.25" y="380.85" width="1.06" height="28.00" fill="#f0efe6"/>
<rect x="569.95" y="380.85" width="1.06" height="28.00" fill="#dd5751"/>
<rect x="570.66" y="380.85" width="1.06" height="28.00" fill="#da433e"/>
<rect x="571.37" y="380.85" width="1.06" height="28.00" fill="#f0cbc7"/>
<rect x="572.07" y="380.85" width="1.06" height="28.00" fill="#eaeddf"/>
<rect x="572.78" y="380.85" width="1.06" height="28.00" fill="#f0efe6"/>
<rect x="573.49" y="380.85" width="1.06" height="28.00" fill="#f4e8e4"/>
<rect x="574.19" y="380.85" width="1.06" height="28.00" fill="#da433e"/>
<rect x="574.90" y="380.85" width="1.06" height="28.00" fill="#f0cbc7"/>
<rect x="575.60" y="380.85" width="1.76" height="28.00" fill="#f0efe6"/>
<rect x="577.02" y="380.85" width="1.06" height="28.00" fill="#e58782"/>
<rect x="577.72" y="380.85" width="1.06" height="28.00" fill="#e2746f"/>
<rect x="578.43" y="380.85" width="1.06" height="28.00" fill="#f0cbc7"/>
<rect x="579.14" y="380.85" width="1.06" height="28.00" fill="#e37e78"/>
<rect x="579.84" y="380.85" width="1.06" height="28.00" fill="#eaa4a0"/>
<rect x="580.55" y="380.85" width="1.06" height="28.00" fill="#d7302a"/>
<rect x="581.26" y="380.85" width="1.76" height="28.00" fill="#da433e"/>
<rect x="582.67" y="380.85" width="1.06" height="28.00" fill="#ebaea9"/>
<rect x="583.37" y="380.85" width="1.06" height="28.00" fill="#eaa4a0"/>
<rect x="584.08" y="380.85" width="1.06" height="28.00" fill="#df605b"/>
<rect x="584.79" y="380.85" width="1.06" height="28.00" fill="#d7302a"/>
<rect x="585.49" y="380.85" width="1.06" height="28.00" fill="#eaa4a0"/>
<rect x="586.20" y="380.85" width="1.06" height="28.00" fill="#ebaea9"/>
<rect x="586.91" y="380.85" width="1.06" height="28.00" fill="#e2746f"/>
<rect x="587.61" y="380.85" width="1.06" height="28.00" fill="#dc4d47"/>
<rect x="588.32" y="380.85" width="1.06" height="28.00" fill="#e06a65"/>
<rect x="589.02" y="380.85" width="1.06" height="28.00" fill="#eec2bd"/>
<rect x="589.73" y="380.85" width="1.06" height="28.00" fill="#f0efe6"/>
<rect x="590.44" y="380.85" width="1.06" height="28.00" fill="#d93a34"/>
<rect x="591.14" y="380.85" width="1.06" height="28.00" fill="#f0efe6"/>
<rect x="591.85" y="380.85" width="1.06" height="28.00" fill="#f6f2ee"/>
<rect x="592.56" y="380.85" width="1.06" height="28.00" fill="#da433e"/>
<rect x="593.26" y="380.85" width="1.06" height="28.00" fill="#d93a34"/>
<rect x="593.97" y="380.85" width="1.06" height="28.00" fill="#e58782"/>
<rect x="594.67" y="380.85" width="1.06" height="28.00" fill="#df605b"/>
<rect x="595.38" y="380.85" width="1.06" height="28.00" fill="#f6f2ee"/>
<rect x="596.09" y="380.85" width="1.06" height="28.00" fill="#e06a65"/>
<rect x="596.79" y="380.85" width="0.71" height="28.00" fill="#dd5751"/>
<rect x="339.70" y="409.20" width="1.76" height="28.00" fill="#e4ead7"/>
<rect x="341.11" y="409.20" width="1.06" height="28.00" fill="#eaeddf"/>
<rect x="341.82" y="409.20" width="2.47" height="28.00" fill="#e4ead7"/>
<rect x="343.94" y="409.20" width="1.06" height="28.00" fill="#f0cbc7"/>
<rect x="344.64" y="409.20" width="1.06" height="28.00" fill="#e4ead7"/>
<rect x="345.35" y="409.20" width="1.06" height="28.00" fill="#dee7d0"/>
<rect x="346.06" y="409.20" width="1.06" height="28.00" fill="#e4ead7"/>
<rect x="346.76" y="409.20" width="1.06" height="28.00" fill="#dee7d0"/>
<rect x="347.47" y="409.20" width="1.76" height="28.00" fill="#e4ead7"/>
<rect x="348.88" y="409.20" width="1.06" height="28.00" fill="#ebaea9"/>
<rect x="349.59" y="409.20" width="3.88" height="28.00" fill="#e4ead7"/>
<rect x="353.12" y="409.20" width="1.06" height="28.00" fill="#eaeddf"/>
<rect x="353.83" y="409.20" width="4.59" height="28.00" fill="#e4ead7"/>
<rect x="358.06" y="409.20" width="1.06" height="28.00" fill="#eaeddf"/>
<rect x="358.77" y="409.20" width="1.06" height="28.00" fill="#e4ead7"/>
<rect x="359.48" y="409.20" width="1.06" height="28.00" fill="#eaeddf"/>
<rect x="360.18" y="409.20" width="1.06" height="28.00" fill="#e4ead7"/>
<rect x="360.89" y="409.20" width="1.06" height="28.00" fill="#dee7d0"/>
<rect x="361.60" y="409.20" width="1.06" height="28.00" fill="#d93a34"/>
<rect x="362.30" y="409.20" width="1.76" height="28.00" fill="#eaeddf"/>
<rect x="363.71" y="409.20" width="1.06" height="28.00" fill="#e4ead7"/>
<rect x="364.42" y="409.20" width="1.06" height="28.00" fill="#dee7d0"/>
<rect x="365.13" y="409.20" width="2.47" height="28.00" fill="#e4ead7"/>
<rect x="367.25" y="409.20" width="1.06" height="28.00" fill="#dee7d0"/>
<rect x="367.95" y="409.20" width="1.06" height="28.00" fill="#eaeddf"/>
<rect x="368.66" y="409.20" width="1.76" height="28.00" fill="#e4ead7"/>
<rect x="370.07" y="409.20" width="1.06" height="28.00" fill="#dee7d0"/>
<rect x="370.78" y="409.20" width="1.06" height="28.00" fill="#e4ead7"/>
<rect x="371.48" y="409.20" width="2.47" height="28.00" fill="#dee7d0"/>
<rect x="373.60" y="409.20" width="3.88" height="28.00" fill="#e4ead7"/>
<rect x="377.13" y="409.20" width="1.06" height="28.00" fill="#dee7d0"/>
<rect x="377.84" y="409.20" width="1.76" height="28.00" fill="#e4ead7"/>
<rect x="379.25" y="409.20" width="1.06" height="28.00" fill="#dee7d0"/>
<rect x="379.96" y="409.20" width="1.06" height="28.00" fill="#e4ead7"/>
<rect x="380.67" y="409.20" width="1.06" height="28.00" fill="#eaeddf"/>
<rect x="381.37" y="409.20" width="1.76" height="28.00" fill="#dee7d0"/>
<rect x="382.78" y="409.20" width="1.06" height="28.00" fill="#e4ead7"/>
<rect x="383.49" y="409.20" width="1.06" height="28.00" fill="#dee7d0"/>
<rect x="384.20" y="409.20" width="1.06" height="28.00" fill="#e4ead7"/>
<rect x="384.90" y="409.20" width="1.06" height="28.00" fill="#dee7d0"/>
<rect x="385.61" y="409.20" width="1.06" height="28.00" fill="#e4ead7"/>
<rect x="386.32" y="409.20" width="1.76" height="28.00" fill="#eaeddf"/>
<rect x="387.73" y="409.20" width="2.47" height="28.00" fill="#e4ead7"/>
<rect x="389.85" y="409.20" width="1.06" height="28.00" fill="#eaeddf"/>
<rect x="390.55" y="409.20" width="1.76" height="28.00" fill="#e4ead7"/>
<rect x="391.97" y="409.20" width="1.06" height="28.00" fill="#eec2bd"/>
<rect x="392.67" y="409.20" width="3.88" height="28.00" fill="#e4ead7"/>
<rect x="396.20" y="409.20" width="1.06" height="28.00" fill="#dee7d0"/>
<rect x="396.91" y="409.20" width="1.06" height="28.00" fill="#e4ead7"/>
<rect x="397.62" y="409.20" width="1.06" height="28.00" fill="#eaeddf"/>
<rect x="398.32" y="409.20" width="2.47" height="28.00" fill="#e4ead7"/>
<rect x="400.44" y="409.20" width="1.06" height="28.00" fill="#f0efe6"/>
<rect x="401.15" y="409.20" width="1.76" height="28.00" fill="#e4ead7"/>
<rect x="402.56" y="409.20" width="1.06" height="28.00" fill="#eaeddf"/>
<rect x="403.27" y="409.20" width="1.06" height="28.00" fill="#e4ead7"/>
<rect x="403.97" y="409.20" width="1.06" height="28.00" fill="#f0efe6"/>
<rect x="404.68" y="409.20" width="1.06" height="28.00" fill="#dee7d0"/>
<rect x="405.39" y="409.20" width="4.59" height="28.00" fill="#e4ead7"/>
<rect x="409.62" y="409.20" width="1.06" height="28.00" fill="#dee7d0"/>
<rect x="410.33" y="409.20" width="1.06" height="28.00" fill="#dd5751"/>
<rect x="411.04" y="409.20" width="3.18" height="28.00" fill="#e4ead7"/>
<rect x="413.86" y="409.20" width="1.06" height="28.00" fill="#dee7d0"/>
<rect x="414.57" y="409.20" width="4.59" height="28.00" fill="#e4ead7"/>
<rect x="418.81" y="409.20" width="1.06" height="28.00" fill="#ebaea9"/>
<rect x="419.51" y="409.20" width="1.06" height="28.00" fill="#dee7d0"/>
<rect x="420.22" y="409.20" width="2.47" height="28.00" fill="#e4ead7"/>
<rect x="422.34" y="409.20" width="1.06" height="28.00" fill="#eaeddf"/>
<rect x="423.04" y="409.20" width="1.76" height="28.00" fill="#dee7d0"/>
<rect x="424.46" y="409.20" width="2.47" height="28.00" fill="#e4ead7"/>
<rect x="426.58" y="409.20" width="1.06" height="28.00" fill="#eaeddf"/>
<rect x="427.28" y="409.20" width="5.29" height="28.00" fill="#e4ead7"/>
<rect x="432.23" y="409.20" width="1.76" height="28.00" fill="#eaeddf"/>
<rect x="433.64" y="409.20" width="1.06" height="28.00" fill="#e4ead7"/>
<rect x="434.34" y="409.20" width="1.06" height="28.00" fill="#dee7d0"/>
<rect x="435.05" y="409.20" width="2.47" height="28.00" fill="#e4ead7"/>
<rect x="437.17" y="409.20" width="1.06" height="28.00" fill="#eaeddf"/>
<rect x="437.88" y="409.20" width="1.06" height="28.00" fill="#e4ead7"/>
<rect x="438.58" y="409.20" width="1.06" height="28.00" fill="#e89b96"/>
<rect x="439.29" y="409.20" width="1.06" height="28.00" fill="#eaeddf"/>
<rect x="439.99" y="409.20" width="1.06" height="28.00" fill="#dee7d0"/>
<rect x="440.70" y="409.20" width="6.71" height="28.00" fill="#e4ead7"/>
<rect x="447.06" y="409.20" width="1.06" height="28.00" fill="#dee7d0"/>
<rect x="447.76" y="409.20" width="1.06" height="28.00" fill="#eaeddf"/>
<rect x="448.47" y="409.20" width="1.76" height="28.00" fill="#e4ead7"/>
<rect x="449.88" y="409.20" width="1.06" height="28.00" fill="#dee7d0"/>
<rect x="450.59" y="409.20" width="1.06" height="28.00" fill="#d7302a"/>
<rect x="451.30" y="409.20" width="2.47" height="28.00" fill="#e4ead7"/>
<rect x="453.41" y="409.20" width="1.06" height="28.00" fill="#f0efe6"/>
<rect x="454.12" y="409.20" width="5.29" height="28.00" fill="#e4ead7"/>
<rect x="459.06" y="409.20" width="1.06" height="28.00" fill="#eaeddf"/>
<rect x="459.77" y="409.20" width="5.29" height="28.00" fill="#e4ead7"/>
<rect x="464.72" y="409.20" width="1.06" height="28.00" fill="#eaeddf"/>
<rect x="465.42" y="409.20" width="1.76" height="28.00" fill="#e4ead7"/>
<rect x="466.83" y="409.20" width="1.06" height="28.00" fill="#f0efe6"/>
<rect x="467.54" y="409.20" width="1.06" height="28.00" fill="#da433e"/>
<rect x="468.25" y="409.20" width="2.47" height="28.00" fill="#e4ead7"/>
<rect x="470.37" y="409.20" width="1.06" height="28.00" fill="#d7302a"/>
<rect x="471.07" y="409.20" width="1.06" height="28.00" fill="#e4ead7"/>
<rect x="471.78" y="409.20" width="1.76" height="28.00" fill="#eaeddf"/>
<rect x="473.19" y="409.20" width="2.47" height="28.00" fill="#e4ead7"/>
<rect x="475.31" y="409.20" width="1.06" height="28.00" fill="#eaeddf"/>
<rect x="476.02" y="409.20" width="3.88" height="28.00" fill="#e4ead7"/>
<rect x="479.55" y="409.20" width="1.06" height="28.00" fill="#e58782"/>
<rect x="480.25" y="409.20" width="1.06" height="28.00" fill="#dc4d47"/>
<rect x="480.96" y="409.20" width="1.06" height="28.00" fill="#e4ead7"/>
<rect x="481.67" y="409.20" width="1.06" height="28.00" fill="#dee7d0"/>
<rect x="482.37" y="409.20" width="1.06" height="28.00" fill="#eaeddf"/>
<rect x="483.08" y="409.20" width="1.06" height="28.00" fill="#e4ead7"/>
<rect x="483.79" y="409.20" width="1.76" height="28.00" fill="#f6f2ee"/>
<rect x="485.20" y="409.20" width="2.47" height="28.00" fill="#e4ead7"/>
<rect x="487.32" y="409.20" width="1.06" height="28.00" fill="#dee7d0"/>
<rect x="488.02" y="409.20" width="2.47" height="28.00" fill="#e4ead7"/>
<rect x="490.14" y="409.20" width="1.06" height="28.00" fill="#eaeddf"/>
<rect x="490.85" y="409.20" width="1.06" height="28.00" fill="#e4ead7"/>
<rect x="491.55" y="409.20" width="1.06" height="28.00" fill="#eaeddf"/>
<rect x="492.26" y="409.20" width="1.06" height="28.00" fill="#e37e78"/>
<rect x="492.97" y="409.20" width="1.06" height="28.00" fill="#eaeddf"/>
<rect x="493.67" y="409.20" width="1.76" height="28.00" fill="#dee7d0"/>
<rect x="495.09" y="409.20" width="1.06" height="28.00" fill="#e4ead7"/>
<rect x="495.79" y="409.20" width="1.06" height="28.00" fill="#dee7d0"/>
<rect x="496.50" y="409.20" width="1.76" height="28.00" fill="#eaeddf"/>
<rect x="497.91" y="409.20" width="1.06" height="28.00" fill="#e4ead7"/>
<rect x="498.62" y="409.20" width="1.06" height="28.00" fill="#eaeddf"/>
<rect x="499.32" y="409.20" width="1.06" height="28.00" fill="#eec2bd"/>
<rect x="500.03" y="409.20" width="1.06" height="28.00" fill="#ebaea9"/>
<rect x="500.74" y="409.20" width="1.06" height="28.00" fill="#eaeddf"/>
<rect x="501.44" y="409.20" width="1.76" height="28.00" fill="#e4ead7"/>
<rect x="502.86" y="409.20" width="1.06" height="28.00" fill="#edb8b3"/>
<rect x="503.56" y="409.20" width="1.06" height="28.00" fill="#f0efe6"/>
<rect x="504.27" y="409.20" width="1.06" height="28.00" fill="#e4ead7"/>
<rect x="504.97" y="409.20" width="3.88" height="28.00" fill="#eaeddf"/>
<rect x="508.51" y="409.20" width="1.76" height="28.00" fill="#e4ead7"/>
<rect x="509.92" y="409.20" width="1.06" height="28.00" fill="#eaeddf"/>
<rect x="510.62" y="409.20" width="1.76" height="28.00" fill="#e4ead7"/>
<rect x="512.04" y="409.20" width="1.06" height="28.00" fill="#eaeddf"/>
<rect x="512.74" y="409.20" width="1.06" height="28.00" fill="#ebaea9"/>
<rect x="513.45" y="409.20" width="1.06" height="28.00" fill="#eaeddf"/>
<rect x="514.16" y="409.20" width="1.06" height="28.00" fill="#e4ead7"/>
<rect x="514.86" y="409.20" width="1.06" height="28.00" fill="#dee7d0"/>
<rect x="515.57" y="409.20" width="3.88" height="28.00" fill="#e4ead7"/>
<rect x="519.10" y="409.20" width="1.06" height="28.00" fill="#eaeddf"/>
<rect x="519.81" y="409.20" width="1.06" height="28.00" fill="#edb8b3"/>
<rect x="520.51" y="409.20" width="1.06" height="28.00" fill="#eaeddf"/>
<rect x="521.22" y="409.20" width="1.76" height="28.00" fill="#e4ead7"/>
<rect x="522.63" y="409.20" width="1.06" height="28.00" fill="#eaeddf"/>
<rect x="523.34" y="409.20" width="1.76" height="28.00" fill="#e4ead7"/>
<rect x="524.75" y="409.20" width="1.06" height="28.00" fill="#f6f2ee"/>
<rect x="525.46" y="409.20" width="1.06" height="28.00" fill="#eaeddf"/>
<rect x="526.16" y="409.20" width="2.47" height="28.00" fill="#e4ead7"/>
<rect x="528.28" y="409.20" width="1.76" height="28.00" fill="#eaeddf"/>
<rect x="529.70" y="409.20" width="1.06" height="28.00" fill="#edb8b3"/>
<rect x="530.40" y="409.20" width="3.18" height="28.00" fill="#e4ead7"/>
<rect x="533.23" y="409.20" width="1.06" height="28.00" fill="#eaeddf"/>
<rect x="533.93" y="409.20" width="1.06" height="28.00" fill="#e4ead7"/>
<rect x="534.64" y="409.20" width="1.06" height="28.00" fill="#dee7d0"/>
<rect x="535.35" y="409.20" width="1.06" height="28.00" fill="#eaeddf"/>
<rect x="536.05" y="409.20" width="1.06" height="28.00" fill="#dc4d47"/>
<rect x="536.76" y="409.20" width="1.06" height="28.00" fill="#f6f2ee"/>
<rect x="537.46" y="409.20" width="1.06" height="28.00" fill="#eaeddf"/>
<rect x="538.17" y="409.20" width="1.06" height="28.00" fill="#e4ead7"/>
<rect x="538.88" y="409.20" width="1.06" height="28.00" fill="#f0efe6"/>
<rect x="539.58" y="409.20" width="1.06" height="28.00" fill="#eaeddf"/>
<rect x="540.29" y="409.20" width="1.06" height="28.00" fill="#f0efe6"/>
<rect x="541.00" y="409.20" width="1.06" height="28.00" fill="#df605b"/>
<rect x="541.70" y="409.20" width="2.47" height="28.00" fill="#eaeddf"/>
<rect x="543.82" y="409.20" width="1.06" height="28.00" fill="#dee7d0"/>
<rect x="544.53" y="409.20" width="1.76" height="28.00" fill="#eaeddf"/>
<rect x="545.94" y="409.20" width="1.06" height="28.00" fill="#e4ead7"/>
<rect x="546.65" y="409.20" width="1.06" height="28.00" fill="#eaeddf"/>
<rect x="547.35" y="409.20" width="1.06" height="28.00" fill="#d93a34"/>
<rect x="548.06" y="409.20" width="1.06" height="28.00" fill="#eaeddf"/>
<rect x="548.77" y="409.20" width="1.06" height="28.00" fill="#e4ead7"/>
<rect x="549.47" y="409.20" width="1.06" height="28.00" fill="#edb8b3"/>
<rect x="550.18" y="409.20" width="1.06" height="28.00" fill="#eaeddf"/>
<rect x="550.88" y="409.20" width="1.06" height="28.00" fill="#e4ead7"/>
<rect x="551.59" y="409.20" width="1.06" height="28.00" fill="#eec2bd"/>
<rect x="552.30" y="409.20" width="1.06" height="28.00" fill="#eaeddf"/>
<rect x="553.00" y="409.20" width="1.06" height="28.00" fill="#edb8b3"/>
<rect x="553.71" y="409.20" width="1.06" height="28.00" fill="#eaeddf"/>
<rect x="554.42" y="409.20" width="2.47" height="28.00" fill="#e4ead7"/>
<rect x="556.53" y="409.20" width="1.06" height="28.00" fill="#e06a65"/>
<rect x="557.24" y="409.20" width="1.06" height="28.00" fill="#df605b"/>
<rect x="557.95" y="409.20" width="1.06" height="28.00" fill="#f6f2ee"/>
<rect x="558.65" y="409.20" width="1.76" height="28.00" fill="#eaeddf"/>
<rect x="560.07" y="409.20" width="1.06" height="28.00" fill="#dd5751"/>
<rect x="560.77" y="409.20" width="1.06" height="28.00" fill="#eec2bd"/>
<rect x="561.48" y="409.20" width="1.06" height="28.00" fill="#eaeddf"/>
<rect x="562.18" y="409.20" width="2.47" height="28.00" fill="#e4ead7"/>
<rect x="564.30" y="409.20" width="1.06" height="28.00" fill="#dee7d0"/>
<rect x="565.01" y="409.20" width="4.59" height="28.00" fill="#eaeddf"/>
<rect x="569.25" y="409.20" width="1.06" height="28.00" fill="#e4ead7"/>
<rect x="569.95" y="409.20" width="1.06" height="28.00" fill="#eaeddf"/>
<rect x="570.66" y="409.20" width="1.06" height="28.00" fill="#e4ead7"/>
<rect x="571.37" y="409.20" width="1.06" height="28.00" fill="#eaeddf"/>
<rect x="572.07" y="409.20" width="1.06" height="28.00" fill="#e06a65"/>
<rect x="572.78" y="409.20" width="1.06" height="28.00" fill="#dee7d0"/>
<rect x="573.49" y="409.20" width="1.76" height="28.00" fill="#e4ead7"/>
<rect x="574.90" y="409.20" width="1.76" height="28.00" fill="#eaeddf"/>
<rect x="576.31" y="409.20" width="1.06" height="28.00" fill="#e4ead7"/>
<rect x="577.02" y="409.20" width="1.76" height="28.00" fill="#eaeddf"/>
<rect x="578.43" y="409.20" width="1.06" height="28.00" fill="#dee7d0"/>
<rect x="579.14" y="409.20" width="1.06" height="28.00" fill="#eaeddf"/>
<rect x="579.84" y="409.20" width="1.06" height="28.00" fill="#f0efe6"/>
<rect x="580.55" y="409.20" width="2.47" height="28.00" fill="#eaeddf"/>
<rect x="582.67" y="409.20" width="1.06" height="28.00" fill="#f3dfda"/>
<rect x="583.37" y="409.20" width="1.06" height="28.00" fill="#eaa4a0"/>
<rect x="584.08" y="409.20" width="1.06" height="28.00" fill="#e4ead7"/>
<rect x="584.79" y="409.20" width="1.06" height="28.00" fill="#eaeddf"/>
<rect x="585.49" y="409.20" width="1.06" height="28.00" fill="#f0efe6"/>
<rect x="586.20" y="409.20" width="3.88" height="28.00" fill="#eaeddf"/>
<rect x="589.73" y="409.20" width="1.06" height="28.00" fill="#edb8b3"/>
<rect x="590.44" y="409.20" width="1.06" height="28.00" fill="#ebaea9"/>
<rect x="591.14" y="409.20" width="1.76" height="28.00" fill="#e4ead7"/>
<rect x="592.56" y="409.20" width="1.06" height="28.00" fill="#eec2bd"/>
<rect x="593.26" y="409.20" width="1.06" height="28.00" fill="#dc4d47"/>
<rect x="593.97" y="409.20" width="1.06" height="28.00" fill="#da433e"/>
<rect x="594.67" y="409.20" width="1.06" height="28.00" fill="#e4ead7"/>
<rect x="595.38" y="409.20" width="1.76" height="28.00" fill="#eaeddf"/>
<rect x="596.79" y="409.20" width="0.71" height="28.00" fill="#f6f2ee"/>
<rect x="339.70" y="437.55" width="1.06" height="28.00" fill="#cddfb9"/>
<rect x="340.41" y="437.55" width="2.47" height="28.00" fill="#c1daaa"/>
<rect x="342.53" y="437.55" width="1.06" height="28.00" fill="#dee7d0"/>
<rect x="343.23" y="437.55" width="1.76" height="28.00" fill="#afd293"/>
<rect x="344.64" y="437.55" width="1.06" height="28.00" fill="#bbd7a2"/>
<rect x="345.35" y="437.55" width="1.06" height="28.00" fill="#c7dcb1"/>
<rect x="346.06" y="437.55" width="1.06" height="28.00" fill="#a3cc84"/>
<rect x="346.76" y="437.55" width="1.06" height="28.00" fill="#f4e8e4"/>
<rect x="347.47" y="437.55" width="1.06" height="28.00" fill="#cddfb9"/>
<rect x="348.18" y="437.55" width="1.06" height="28.00" fill="#c7dcb1"/>
<rect x="348.88" y="437.55" width="1.76" height="28.00" fill="#a9cf8b"/>
<rect x="350.29" y="437.55" width="1.06" height="28.00" fill="#cddfb9"/>
<rect x="351.00" y="437.55" width="1.06" height="28.00" fill="#d3e2c0"/>
<rect x="351.71" y="437.55" width="1.06" height="28.00" fill="#bbd7a2"/>
<rect x="352.41" y="437.55" width="1.76" height="28.00" fill="#a9cf8b"/>
<rect x="353.83" y="437.55" width="1.06" height="28.00" fill="#afd293"/>
<rect x="354.53" y="437.55" width="1.06" height="28.00" fill="#b5d49a"/>
<rect x="355.24" y="437.55" width="1.76" height="28.00" fill="#bbd7a2"/>
<rect x="356.65" y="437.55" width="1.06" height="28.00" fill="#c7dcb1"/>
<rect x="357.36" y="437.55" width="1.06" height="28.00" fill="#b5d49a"/>
<rect x="358.06" y="437.55" width="1.06" height="28.00" fill="#cddfb9"/>
<rect x="358.77" y="437.55" width="1.76" height="28.00" fill="#a9cf8b"/>
<rect x="360.18" y="437.55" width="1.06" height="28.00" fill="#c1daaa"/>
<rect x="360.89" y="437.55" width="1.06" height="28.00" fill="#afd293"/>
<rect x="361.60" y="437.55" width="1.06" height="28.00" fill="#f0efe6"/>
<rect x="362.30" y="437.55" width="1.06" height="28.00" fill="#c7dcb1"/>
<rect x="363.01" y="437.55" width="1.06" height="28.00" fill="#cddfb9"/>
<rect x="363.71" y="437.55" width="1.06" height="28.00" fill="#f3dfda"/>
<rect x="364.42" y="437.55" width="1.06" height="28.00" fill="#b5d49a"/>
<rect x="365.13" y="437.55" width="1.06" height="28.00" fill="#f6f2ee"/>
<rect x="365.83" y="437.55" width="1.06" height="28.00" fill="#c7dcb1"/>
<rect x="366.54" y="437.55" width="1.76" height="28.00" fill="#c1daaa"/>
<rect x="367.95" y="437.55" width="1.06" height="28.00" fill="#b5d49a"/>
<rect x="368.66" y="437.55" width="1.06" height="28.00" fill="#bbd7a2"/>
<rect x="369.36" y="437.55" width="1.06" height="28.00" fill="#f0efe6"/>
<rect x="370.07" y="437.55" width="1.06" height="28.00" fill="#d3e2c0"/>
<rect x="370.78" y="437.55" width="1.06" height="28.00" fill="#cddfb9"/>
<rect x="371.48" y="437.55" width="1.06" height="28.00" fill="#bbd7a2"/>
<rect x="372.19" y="437.55" width="1.06" height="28.00" fill="#afd293"/>
<rect x="372.90" y="437.55" width="1.06" height="28.00" fill="#c7dcb1"/>
<rect x="373.60" y="437.55" width="1.06" height="28.00" fill="#a3cc84"/>
<rect x="374.31" y="437.55" width="1.06" height="28.00" fill="#f6f2ee"/>
<rect x="375.02" y="437.55" width="1.76" height="28.00" fill="#a9cf8b"/>
<rect x="376.43" y="437.55" width="1.06" height="28.00" fill="#b5d49a"/>
<rect x="377.13" y="437.55" width="1.06" height="28.00" fill="#d3e2c0"/>
<rect x="377.84" y="437.55" width="1.06" height="28.00" fill="#c1daaa"/>
<rect x="378.55" y="437.55" width="1.06" height="28.00" fill="#b5d49a"/>
<rect x="379.25" y="437.55" width="1.06" height="28.00" fill="#cddfb9"/>
<rect x="379.96" y="437.55" width="1.06" height="28.00" fill="#c1daaa"/>
<rect x="380.67" y="437.55" width="1.06" height="28.00" fill="#f0efe6"/>
<rect x="381.37" y="437.55" width="1.76" height="28.00" fill="#afd293"/>
<rect x="382.78" y="437.55" width="1.06" height="28.00" fill="#d3e2c0"/>
<rect x="383.49" y="437.55" width="1.06" height="28.00" fill="#b5d49a"/>
<rect x="384.20" y="437.55" width="1.06" height="28.00" fill="#bbd7a2"/>
<rect x="384.90" y="437.55" width="1.06" height="28.00" fill="#afd293"/>
<rect x="385.61" y="437.55" width="1.06" height="28.00" fill="#c7dcb1"/>
<rect x="386.32" y="437.55" width="1.06" height="28.00" fill="#c1daaa"/>
<rect x="387.02" y="437.55" width="1.06" height="28.00" fill="#f1d5d1"/>
<rect x="387.73" y="437.55" width="1.06" height="28.00" fill="#cddfb9"/>
<rect x="388.43" y="437.55" width="1.06" height="28.00" fill="#f6f2ee"/>
<rect x="389.14" y="437.55" width="1.76" height="28.00" fill="#c1daaa"/>
<rect x="390.55" y="437.55" width="1.06" height="28.00" fill="#f6f2ee"/>
<rect x="391.26" y="437.55" width="1.06" height="28.00" fill="#afd293"/>
<rect x="391.97" y="437.55" width="1.06" height="28.00" fill="#f0efe6"/>
<rect x="392.67" y="437.55" width="1.06" height="28.00" fill="#bbd7a2"/>
<rect x="393.38" y="437.55" width="1.06" height="28.00" fill="#cddfb9"/>
<rect x="394.09" y="437.55" width="1.06" height="28.00" fill="#c1daaa"/>
<rect x="394.79" y="437.55" width="1.76" height="28.00" fill="#c7dcb1"/>
<rect x="396.20" y="437.55" width="1.06" height="28.00" fill="#f6f2ee"/>
<rect x="396.91" y="437.55" width="1.06" height="28.00" fill="#b5d49a"/>
<rect x="397.62" y="437.55" width="1.06" height="28.00" fill="#cddfb9"/>
<rect x="398.32" y="437.55" width="1.06" height="28.00" fill="#bbd7a2"/>
<rect x="399.03" y="437.55" width="1.06" height="28.00" fill="#c1daaa"/>
<rect x="399.74" y="437.55" width="1.06" height="28.00" fill="#f1d5d1"/>
<rect x="400.44" y="437.55" width="1.76" height="28.00" fill="#c1daaa"/>
<rect x="401.85" y="437.55" width="1.06" height="28.00" fill="#eaeddf"/>
<rect x="402.56" y="437.55" width="1.06" height="28.00" fill="#edb8b3"/>
<rect x="403.27" y="437.55" width="1.06" height="28.00" fill="#cddfb9"/>
<rect x="403.97" y="437.55" width="1.06" height="28.00" fill="#b5d49a"/>
<rect x="404.68" y="437.55" width="1.06" height="28.00" fill="#c1daaa"/>
<rect x="405.39" y="437.55" width="1.06" height="28.00" fill="#cddfb9"/>
<rect x="406.09" y="437.55" width="1.06" height="28.00" fill="#c7dcb1"/>
<rect x="406.80" y="437.55" width="1.06" height="28.00" fill="#d8e4c8"/>
<rect x="407.50" y="437.55" width="1.06" height="28.00" fill="#cddfb9"/>
<rect x="408.21" y="437.55" width="1.06" height="28.00" fill="#bbd7a2"/>
<rect x="408.92" y="437.55" width="1.06" height="28.00" fill="#c7dcb1"/>
<rect x="409.62" y="437.55" width="1.06" height="28.00" fill="#a3cc84"/>
<rect x="410.33" y="437.55" width="1.06" height="28.00" fill="#9eca7c"/>
<rect x="411.04" y="437.55" width="1.06" height="28.00" fill="#f4e8e4"/>
<rect x="411.74" y="437.55" width="1.06" height="28.00" fill="#b5d49a"/>
<rect x="412.45" y="437.55" width="1.06" height="28.00" fill="#c7dcb1"/>
<rect x="413.16" y="437.55" width="1.06" height="28.00" fill="#eaeddf"/>
<rect x="413.86" y="437.55" width="1.06" height="28.00" fill="#edb8b3"/>
<rect x="414.57" y="437.55" width="1.06" height="28.00" fill="#b5d49a"/>
<rect x="415.27" y="437.55" width="1.06" height="28.00" fill="#afd293"/>
<rect x="415.98" y="437.55" width="1.06" height="28.00" fill="#d3e2c0"/>
<rect x="416.69" y="437.55" width="1.06" height="28.00" fill="#f6f2ee"/>
<rect x="417.39" y="437.55" width="1.06" height="28.00" fill="#f0efe6"/>
<rect x="418.10" y="437.55" width="1.06" height="28.00" fill="#c1daaa"/>
<rect x="418.81" y="437.55" width="1.06" height="28.00" fill="#d3e2c0"/>
<rect x="419.51" y="437.55" width="1.06" height="28.00" fill="#bbd7a2"/>
<rect x="420.22" y="437.55" width="1.06" height="28.00" fill="#c1daaa"/>
<rect x="420.92" y="437.55" width="1.06" height="28.00" fill="#b5d49a"/>
<rect x="421.63" y="437.55" width="1.06" height="28.00" fill="#a3cc84"/>
<rect x="422.34" y="437.55" width="1.06" height="28.00" fill="#b5d49a"/>
<rect x="423.04" y="437.55" width="1.06" height="28.00" fill="#dee7d0"/>
<rect x="423.75" y="437.55" width="1.06" height="28.00" fill="#c1daaa"/>
<rect x="424.46" y="437.55" width="1.06" height="28.00" fill="#f4e8e4"/>
<rect x="425.16" y="437.55" width="1.06" height="28.00" fill="#d3e2c0"/>
<rect x="425.87" y="437.55" width="1.06" height="28.00" fill="#c7dcb1"/>
<rect x="426.58" y="437.55" width="1.76" height="28.00" fill="#cddfb9"/>
<rect x="427.99" y="437.55" width="1.06" height="28.00" fill="#eaa4a0"/>
<rect x="428.69" y="437.55" width="1.06" height="28.00" fill="#f0efe6"/>
<rect x="429.40" y="437.55" width="1.06" height="28.00" fill="#c7dcb1"/>
<rect x="430.11" y="437.55" width="1.06" height="28.00" fill="#d8e4c8"/>
<rect x="430.81" y="437.55" width="1.06" height="28.00" fill="#f6f2ee"/>
<rect x="431.52" y="437.55" width="1.06" height="28.00" fill="#c7dcb1"/>
<rect x="432.23" y="437.55" width="1.06" height="28.00" fill="#b5d49a"/>
<rect x="432.93" y="437.55" width="1.06" height="28.00" fill="#f0efe6"/>
<rect x="433.64" y="437.55" width="1.06" height="28.00" fill="#c7dcb1"/>
<rect x="434.34" y="437.55" width="1.06" height="28.00" fill="#bbd7a2"/>
<rect x="435.05" y="437.55" width="1.06" height="28.00" fill="#cddfb9"/>
<rect x="435.76" y="437.55" width="1.76" height="28.00" fill="#c7dcb1"/>
<rect x="437.17" y="437.55" width="1.06" height="28.00" fill="#d3e2c0"/>
<rect x="437.88" y="437.55" width="1.06" height="28.00" fill="#cddfb9"/>
<rect x="438.58" y="437.55" width="1.76" height="28.00" fill="#c7dcb1"/>
<rect x="439.99" y="437.55" width="1.06" height="28.00" fill="#f6f2ee"/>
<rect x="440.70" y="437.55" width="1.06" height="28.00" fill="#f0efe6"/>
<rect x="441.41" y="437.55" width="1.06" height="28.00" fill="#c7dcb1"/>
<rect x="442.11" y="437.55" width="1.06" height="28.00" fill="#d3e2c0"/>
<rect x="442.82" y="437.55" width="1.06" height="28.00" fill="#cddfb9"/>
<rect x="443.53" y="437.55" width="1.06" height="28.00" fill="#f6f2ee"/>
<rect x="444.23" y="437.55" width="1.06" height="28.00" fill="#cddfb9"/>
<rect x="444.94" y="437.55" width="1.06" height="28.00" fill="#f6f2ee"/>
<rect x="445.65" y="437.55" width="1.06" height="28.00" fill="#d8e4c8"/>
<rect x="446.35" y="437.55" width="1.06" height="28.00" fill="#df605b"/>
<rect x="447.06" y="437.55" width="1.06" height="28.00" fill="#d3e2c0"/>
<rect x="447.76" y="437.55" width="1.06" height="28.00" fill="#d8e4c8"/>
<rect x="448.47" y="437.55" width="1.76" height="28.00" fill="#d3e2c0"/>
<rect x="449.88" y="437.55" width="1.06" height="28.00" fill="#c7dcb1"/>
<rect x="450.59" y="437.55" width="1.06" height="28.00" fill="#d8e4c8"/>
<rect x="451.30" y="437.55" width="1.06" height="28.00" fill="#cddfb9"/>
<rect x="452.00" y="437.55" width="1.06" height="28.00" fill="#eaeddf"/>
<rect x="452.71" y="437.55" width="1.06" height="28.00" fill="#f6f2ee"/>
<rect x="453.41" y="437.55" width="1.06" height="28.00" fill="#e6918c"/>
<rect x="454.12" y="437.55" width="1.06" height="28.00" fill="#c7dcb1"/>
<rect x="454.83" y="437.55" width="1.06" height="28.00" fill="#eaeddf"/>
<rect x="455.53" y="437.55" width="1.06" height="28.00" fill="#f0efe6"/>
<rect x="456.24" y="437.55" width="1.06" height="28.00" fill="#cddfb9"/>
<rect x="456.95" y="437.55" width="1.76" height="28.00" fill="#eaeddf"/>
<rect x="458.36" y="437.55" width="1.06" height="28.00" fill="#e4ead7"/>
<rect x="459.06" y="437.55" width="1.06" height="28.00" fill="#f4e8e4"/>
<rect x="459.77" y="437.55" width="1.06" height="28.00" fill="#f6f2ee"/>
<rect x="460.48" y="437.55" width="1.06" height="28.00" fill="#c1daaa"/>
<rect x="461.18" y="437.55" width="1.06" height="28.00" fill="#dee7d0"/>
<rect x="461.89" y="437.55" width="1.06" height="28.00" fill="#f4e8e4"/>
<rect x="462.60" y="437.55" width="1.06" height="28.00" fill="#eaeddf"/>
<rect x="463.30" y="437.55" width="1.76" height="28.00" fill="#c7dcb1"/>
<rect x="464.72" y="437.55" width="1.06" height="28.00" fill="#d8e4c8"/>
<rect x="465.42" y="437.55" width="1.06" height="28.00" fill="#f0efe6"/>
<rect x="466.13" y="437.55" width="1.06" height="28.00" fill="#edb8b3"/>
<rect x="466.83" y="437.55" width="1.76" height="28.00" fill="#f0efe6"/>
<rect x="468.25" y="437.55" width="1.76" height="28.00" fill="#e37e78"/>
<rect x="469.66" y="437.55" width="1.06" height="28.00" fill="#f4e8e4"/>
<rect x="470.37" y="437.55" width="1.76" height="28.00" fill="#f0efe6"/>
<rect x="471.78" y="437.55" width="1.06" height="28.00" fill="#f6f2ee"/>
<rect x="472.48" y="437.55" width="1.06" height="28.00" fill="#d3e2c0"/>
<rect x="473.19" y="437.55" width="1.06" height="28.00" fill="#e4ead7"/>
<rect x="473.90" y="437.55" width="1.06" height="28.00" fill="#dee7d0"/>
<rect x="474.60" y="437.55" width="1.06" height="28.00" fill="#d7302a"/>
<rect x="475.31" y="437.55" width="1.06" height="28.00" fill="#cddfb9"/>
<rect x="476.02" y="437.55" width="1.06" height="28.00" fill="#f6f2ee"/>
<rect x="476.72" y="437.55" width="1.06" height="28.00" fill="#d3e2c0"/>
<rect x="477.43" y="437.55" width="1.06" height="28.00" fill="#dee7d0"/>
<rect x="478.14" y="437.55" width="1.06" height="28.00" fill="#f0efe6"/>
<rect x="478.84" y="437.55" width="1.06" height="28.00" fill="#f4e8e4"/>
<rect x="479.55" y="437.55" width="1.06" height="28.00" fill="#f6f2ee"/>
<rect x="480.25" y="437.55" width="1.06" height="28.00" fill="#eaeddf"/>
<rect x="480.96" y="437.55" width="1.06" height="28.00" fill="#f6f2ee"/>
<rect x="481.67" y="437.55" width="1.06" height="28.00" fill="#f4e8e4"/>
<rect x="482.37" y="437.55" width="1.06" height="28.00" fill="#f6f2ee"/>
<rect x="483.08" y="437.55" width="1.06" height="28.00" fill="#f4e8e4"/>
<rect x="483.79" y="437.55" width="1.06" height="28.00" fill="#dee7d0"/>
<rect x="484.49" y="437.55" width="1.06" height="28.00" fill="#c1daaa"/>
<rect x="485.20" y="437.55" width="1.06" height="28.00" fill="#ebaea9"/>
<rect x="485.90" y="437.55" width="1.06" height="28.00" fill="#dee7d0"/>
<rect x="486.61" y="437.55" width="1.06" height="28.00" fill="#f6f2ee"/>
<rect x="487.32" y="437.55" width="1.06" height="28.00" fill="#eaa4a0"/>
<rect x="488.02" y="437.55" width="1.06" height="28.00" fill="#dc4d47"/>
<rect x="488.73" y="437.55" width="1.06" height="28.00" fill="#f0efe6"/>
<rect x="489.44" y="437.55" width="1.06" height="28.00" fill="#bbd7a2"/>
<rect x="490.14" y="437.55" width="2.47" height="28.00" fill="#f0efe6"/>
<rect x="492.26" y="437.55" width="1.76" height="28.00" fill="#f6f2ee"/>
<rect x="493.67" y="437.55" width="1.06" height="28.00" fill="#f0cbc7"/>
<rect x="494.38" y="437.55" width="1.06" height="28.00" fill="#eec2bd"/>
<rect x="495.09" y="437.55" width="1.06" height="28.00" fill="#f6f2ee"/>
<rect x="495.79" y="437.55" width="1.06" height="28.00" fill="#f1d5d1"/>
<rect x="496.50" y="437.55" width="1.06" height="28.00" fill="#ebaea9"/>
<rect x="497.21" y="437.55" width="1.06" height="28.00" fill="#f6f2ee"/>
<rect x="497.91" y="437.55" width="1.06" height="28.00" fill="#d93a34"/>
<rect x="498.62" y="437.55" width="1.06" height="28.00" fill="#f4e8e4"/>
<rect x="499.32" y="437.55" width="1.76" height="28.00" fill="#f6f2ee"/>
<rect x="500.74" y="437.55" width="1.06" height="28.00" fill="#f0efe6"/>
<rect x="501.44" y="437.55" width="1.06" height="28.00" fill="#f4e8e4"/>
<rect x="502.15" y="437.55" width="1.06" height="28.00" fill="#e4ead7"/>
<rect x="502.86" y="437.55" width="1.06" height="28.00" fill="#e06a65"/>
<rect x="503.56" y="437.55" width="1.06" height="28.00" fill="#f0cbc7"/>
<rect x="504.27" y="437.55" width="1.06" height="28.00" fill="#f0efe6"/>
<rect x="504.97" y="437.55" width="1.06" height="28.00" fill="#dee7d0"/>
<rect x="505.68" y="437.55" width="1.06" height="28.00" fill="#f4e8e4"/>
<rect x="506.39" y="437.55" width="1.06" height="28.00" fill="#f6f2ee"/>
<rect x="507.09" y="437.55" width="1.06" height="28.00" fill="#f0cbc7"/>
<rect x="507.80" y="437.55" width="1.06" height="28.00" fill="#df605b"/>
<rect x="508.51" y="437.55" width="1.06" height="28.00" fill="#e58782"/>
<rect x="509.21" y="437.55" width="1.06" height="28.00" fill="#f4e8e4"/>
<rect x="509.92" y="437.55" width="1.06" height="28.00" fill="#eaeddf"/>
<rect x="510.62" y="437.55" width="1.06" height="28.00" fill="#f3dfda"/>
<rect x="511.33" y="437.55" width="1.06" height="28.00" fill="#f6f2ee"/>
<rect x="512.04" y="437.55" width="1.06" height="28.00" fill="#eec2bd"/>
<rect x="512.74" y="437.55" width="1.06" height="28.00" fill="#f6f2ee"/>
<rect x="513.45" y="437.55" width="1.06" height="28.00" fill="#edb8b3"/>
<rect x="514.16" y="437.55" width="1.06" height="28.00" fill="#eaeddf"/>
<rect x="514.86" y="437.55" width="1.06" height="28.00" fill="#f6f2ee"/>
<rect x="515.57" y="437.55" width="1.06" height="28.00" fill="#f3dfda"/>
<rect x="516.28" y="437.55" width="1.06" height="28.00" fill="#d8e4c8"/>
<rect x="516.98" y="437.55" width="1.06" height="28.00" fill="#f6f2ee"/>
<rect x="517.69" y="437.55" width="1.06" height="28.00" fill="#f0efe6"/>
<rect x="518.39" y="437.55" width="1.06" height="28.00" fill="#f6f2ee"/>
<rect x="519.10" y="437.55" width="1.06" height="28.00" fill="#e37e78"/>
<rect x="519.81" y="437.55" width="1.06" height="28.00" fill="#e2746f"/>
<rect x="520.51" y="437.55" width="1.06" height="28.00" fill="#ebaea9"/>
<rect x="521.22" y="437.55" width="1.06" height="28.00" fill="#f6f2ee"/>
<rect x="521.93" y="437.55" width="1.06" height="28.00" fill="#eaa4a0"/>
<rect x="522.63" y="437.55" width="1.06" height="28.00" fill="#ebaea9"/>
<rect x="523.34" y="437.55" width="1.06" height="28.00" fill="#f3dfda"/>
<rect x="524.04" y="437.55" width="1.76" height="28.00" fill="#f6f2ee"/>
<rect x="525.46" y="437.55" width="1.06" height="28.00" fill="#da433e"/>
<rect x="526.16" y="437.55" width="1.06" height="28.00" fill="#d8e4c8"/>
<rect x="526.87" y="437.55" width="1.06" height="28.00" fill="#dee7d0"/>
<rect x="527.58" y="437.55" width="1.06" height="28.00" fill="#edb8b3"/>
<rect x="528.28" y="437.55" width="1.06" height="28.00" fill="#df605b"/>
<rect x="528.99" y="437.55" width="1.06" height="28.00" fill="#ebaea9"/>
<rect x="529.70" y="437.55" width="1.06" height="28.00" fill="#dc4d47"/>
<rect x="530.40" y="437.55" width="1.06" height="28.00" fill="#e4ead7"/>
<rect x="531.11" y="437.55" width="1.06" height="28.00" fill="#f0efe6"/>
<rect x="531.81" y="437.55" width="1.06" height="28.00" fill="#edb8b3"/>
<rect x="532.52" y="437.55" width="1.06" height="28.00" fill="#da433e"/>
<rect x="533.23" y="437.55" width="1.06" height="28.00" fill="#e58782"/>
<rect x="533.93" y="437.55" width="1.06" height="28.00" fill="#dd5751"/>
<rect x="534.64" y="437.55" width="1.76" height="28.00" fill="#f6f2ee"/>
<rect x="536.05" y="437.55" width="1.06" height="28.00" fill="#eec2bd"/>
<rect x="536.76" y="437.55" width="1.06" height="28.00" fill="#dc4d47"/>
<rect x="537.46" y="437.55" width="1.06" height="28.00" fill="#f6f2ee"/>
<rect x="538.17" y="437.55" width="1.06" height="28.00" fill="#d8e4c8"/>
<rect x="538.88" y="437.55" width="1.06" height="28.00" fill="#da433e"/>
<rect x="539.58" y="437.55" width="1.06" height="28.00" fill="#f0cbc7"/>
<rect x="540.29" y="437.55" width="2.47" height="28.00" fill="#e37e78"/>
<rect x="542.41" y="437.55" width="1.06" height="28.00" fill="#da433e"/>
<rect x="543.11" y="437.55" width="1.06" height="28.00" fill="#f0efe6"/>
<rect x="543.82" y="437.55" width="1.06" height="28.00" fill="#dd5751"/>
<rect x="544.53" y="437.55" width="1.06" height="28.00" fill="#d3e2c0"/>
<rect x="545.23" y="437.55" width="1.06" height="28.00" fill="#e2746f"/>
<rect x="545.94" y="437.55" width="1.76" height="28.00" fill="#f0efe6"/>
<rect x="547.35" y="437.55" width="1.06" height="28.00" fill="#f6f2ee"/>
<rect x="548.06" y="437.55" width="1.06" height="28.00" fill="#f0efe6"/>
<rect x="548.77" y="437.55" width="1.06" height="28.00" fill="#dc4d47"/>
<rect x="549.47" y="437.55" width="1.06" height="28.00" fill="#dee7d0"/>
<rect x="550.18" y="437.55" width="1.06" height="28.00" fill="#f0cbc7"/>
<rect x="550.88" y="437.55" width="1.06" height="28.00" fill="#e2746f"/>
<rect x="551.59" y="437.55" width="1.06" height="28.00" fill="#eaeddf"/>
<rect x="552.30" y="437.55" width="1.06" height="28.00" fill="#e37e78"/>
<rect x="553.00" y="437.55" width="1.06" height="28.00" fill="#f0efe6"/>
<rect x="553.71" y="437.55" width="1.06" height="28.00" fill="#dc4d47"/>
<rect x="554.42" y="437.55" width="1.06" height="28.00" fill="#d93a34"/>
<rect x="555.12" y="437.55" width="1.06" height="28.00" fill="#eec2bd"/>
<rect x="555.83" y="437.55" width="1.06" height="28.00" fill="#f4e8e4"/>
<rect x="556.53" y="437.55" width="1.06" height="28.00" fill="#da433e"/>
<rect x="557.24" y="437.55" width="1.06" height="28.00" fill="#f0efe6"/>
<rect x="557.95" y="437.55" width="1.06" height="28.00" fill="#ebaea9"/>
<rect x="558.65" y="437.55" width="1.76" height="28.00" fill="#f0efe6"/>
<rect x="560.07" y="437.55" width="1.06" height="28.00" fill="#dc4d47"/>
<rect x="560.77" y="437.55" width="1.06" height="28.00" fill="#e58782"/>
<rect x="561.48" y="437.55" width="1.06" height="28.00" fill="#f1d5d1"/>
<rect x="562.18" y="437.55" width="1.06" height="28.00" fill="#dee7d0"/>
<rect x="562.89" y="437.55" width="1.06" height="28.00" fill="#dd5751"/>
<rect x="563.60" y="437.55" width="1.06" height="28.00" fill="#df605b"/>
<rect x="564.30" y="437.55" width="1.06" height="28.00" fill="#d8e4c8"/>
<rect x="565.01" y="437.55" width="1.06" height="28.00" fill="#eaa4a0"/>
<rect x="565.72" y="437.55" width="1.06" height="28.00" fill="#dd5751"/>
<rect x="566.42" y="437.55" width="1.06" height="28.00" fill="#e37e78"/>
<rect x="567.13" y="437.55" width="1.06" height="28.00" fill="#f6f2ee"/>
<rect x="567.84" y="437.55" width="1.06" height="28.00" fill="#f0cbc7"/>
<rect x="568.54" y="437.55" width="1.06" height="28.00" fill="#f6f2ee"/>
<rect x="569.25" y="437.55" width="1.06" height="28.00" fill="#f0efe6"/>
<rect x="569.95" y="437.55" width="1.06" height="28.00" fill="#e06a65"/>
<rect x="570.66" y="437.55" width="1.06" height="28.00" fill="#eec2bd"/>
<rect x="571.37" y="437.55" width="1.06" height="28.00" fill="#da433e"/>
<rect x="572.07" y="437.55" width="1.06" height="28.00" fill="#df605b"/>
<rect x="572.78" y="437.55" width="1.06" height="28.00" fill="#f6f2ee"/>
<rect x="573.49" y="437.55" width="1.06" height="28.00" fill="#df605b"/>
<rect x="574.19" y="437.55" width="1.06" height="28.00" fill="#dc4d47"/>
<rect x="574.90" y="437.55" width="1.06" height="28.00" fill="#df605b"/>
<rect x="575.60" y="437.55" width="1.76" height="28.00" fill="#eaeddf"/>
<rect x="577.02" y="437.55" width="1.06" height="28.00" fill="#da433e"/>
<rect x="577.72" y="437.55" width="1.06" height="28.00" fill="#f0efe6"/>
<rect x="578.43" y="437.55" width="1.06" height="28.00" fill="#edb8b3"/>
<rect x="579.14" y="437.55" width="1.06" height="28.00" fill="#f6f2ee"/>
<rect x="579.84" y="437.55" width="1.76" height="28.00" fill="#f4e8e4"/>
<rect x="581.26" y="437.55" width="1.06" height="28.00" fill="#f0efe6"/>
<rect x="581.96" y="437.55" width="1.06" height="28.00" fill="#da433e"/>
<rect x="582.67" y="437.55" width="1.06" height="28.00" fill="#d93a34"/>
<rect x="583.37" y="437.55" width="1.06" height="28.00" fill="#e2746f"/>
<rect x="584.08" y="437.55" width="1.76" height="28.00" fill="#e06a65"/>
<rect x="585.49" y="437.55" width="1.06" height="28.00" fill="#dd5751"/>
<rect x="586.20" y="437.55" width="1.76" height="28.00" fill="#f6f2ee"/>
<rect x="587.61" y="437.55" width="1.06" height="28.00" fill="#d7302a"/>
<rect x="588.32" y="437.55" width="1.06" height="28.00" fill="#eaeddf"/>
<rect x="589.02" y="437.55" width="1.06" height="28.00" fill="#edb8b3"/>
<rect x="589.73" y="437.55" width="1.06" height="28.00" fill="#e37e78"/>
<rect x="590.44" y="437.55" width="1.06" height="28.00" fill="#dc4d47"/>
<rect x="591.14" y="437.55" width="1.06" height="28.00" fill="#df605b"/>
<rect x="591.85" y="437.55" width="1.06" height="28.00" fill="#e37e78"/>
<rect x="592.56" y="437.55" width="1.06" height="28.00" fill="#d93a34"/>
<rect x="593.26" y="437.55" width="1.06" height="28.00" fill="#f0cbc7"/>
<rect x="593.97" y="437.55" width="1.06" height="28.00" fill="#d93a34"/>
<rect x="594.67" y="437.55" width="1.06" height="28.00" fill="#df605b"/>
<rect x="595.38" y="437.55" width="1.06" height="28.00" fill="#edb8b3"/>
<rect x="596.09" y="437.55" width="1.06" height="28.00" fill="#f6f2ee"/>
<rect x="596.79" y="437.55" width="0.71" height="28.00" fill="#e58782"/>
<rect x="339.70" y="289.60" width="129.25" height="4.50" fill="#e48f8a"/>
<rect x="468.95" y="289.60" width="128.55" height="4.50" fill="#6dbfcd"/>
<text x="599.40" y="293.40" font-size="4.6" text-anchor="start" fill="#222" font-weight="bold">type</text>
<text x="599.40" y="311.70" font-size="5.0" text-anchor="start" fill="#333" stroke="#333" stroke-width="0.110">FBXO5</text>
<text x="599.40" y="340.03" font-size="5.0" text-anchor="start" fill="#333" stroke="#333" stroke-width="0.110">FBXO6</text>
<text x="599.40" y="368.36" font-size="5.0" text-anchor="start" fill="#333" stroke="#333" stroke-width="0.110">FBXO16</text>
<text x="599.40" y="396.69" font-size="5.0" text-anchor="start" fill="#333" stroke="#333" stroke-width="0.110">FBXO30</text>
<text x="599.40" y="425.02" font-size="5.0" text-anchor="start" fill="#333" stroke="#333" stroke-width="0.110">FBXO32</text>
<text x="599.40" y="453.35" font-size="5.0" text-anchor="start" fill="#333" stroke="#333" stroke-width="0.110">FBXO45</text>
<defs><linearGradient id="cb" x1="0" y1="0" x2="0" y2="1"><stop offset="0" stop-color="#d63a33"/><stop offset="0.42" stop-color="#d63a33"/><stop offset="0.49" stop-color="#f7f2ef"/><stop offset="0.535" stop-color="#7ab74b"/><stop offset="1" stop-color="#7ab74b"/></linearGradient></defs>
<rect x="623.20" y="288.90" width="6.50" height="95.80" fill="url(#cb)"/>
<text x="632.50" y="301.90" font-size="4.6" text-anchor="start" fill="#333" stroke="#333" stroke-width="0.101">10</text>
<text x="632.50" y="320.10" font-size="4.6" text-anchor="start" fill="#333" stroke="#333" stroke-width="0.101">5</text>
<text x="632.50" y="338.40" font-size="4.6" text-anchor="start" fill="#333" stroke="#333" stroke-width="0.101">0</text>
<text x="632.50" y="356.90" font-size="4.6" text-anchor="start" fill="#333" stroke="#333" stroke-width="0.101">−5</text>
<text x="632.50" y="374.80" font-size="4.6" text-anchor="start" fill="#333" stroke="#333" stroke-width="0.101">−10</text>
<text x="640.90" y="292.10" font-size="4.6" text-anchor="start" fill="#222" font-weight="bold">type</text>
<rect x="640.90" y="293.70" width="6.70" height="6.20" fill="#6dbfcd"/>
<rect x="640.90" y="299.90" width="6.70" height="6.20" fill="#e8908c"/>
<text x="649.00" y="298.40" font-size="4.6" text-anchor="start" fill="#333" stroke="#333" stroke-width="0.101">high</text>
<text x="649.00" y="304.60" font-size="4.6" text-anchor="start" fill="#333" stroke="#333" stroke-width="0.101">low</text>
<text x="318.45" y="478.55" font-size="12" text-anchor="start" fill="#000" font-weight="bold">H</text>
<line x1="343.40" y1="570.90" x2="607.70" y2="570.90" stroke="#888" stroke-width="0.8" stroke-dasharray="1.6,2.2"/>
<line x1="475.60" y1="491.90" x2="475.60" y2="591.70" stroke="#333" stroke-width="0.7" stroke-dasharray="1.6,1.6"/>
<circle cx="353.17" cy="587.03" r="1.3" fill="#72b53c"/>
<circle cx="353.84" cy="586.36" r="1.3" fill="#72b53c"/>
<circle cx="354.51" cy="585.69" r="1.3" fill="#72b53c"/>
<circle cx="355.19" cy="585.01" r="1.3" fill="#72b53c"/>
<circle cx="355.86" cy="584.52" r="1.3" fill="#72b53c"/>
<circle cx="356.53" cy="584.19" r="1.3" fill="#72b53c"/>
<circle cx="357.20" cy="583.85" r="1.3" fill="#72b53c"/>
<circle cx="357.87" cy="583.51" r="1.3" fill="#72b53c"/>
<circle cx="358.54" cy="583.19" r="1.3" fill="#72b53c"/>
<circle cx="359.21" cy="583.00" r="1.3" fill="#72b53c"/>
<circle cx="359.89" cy="582.82" r="1.3" fill="#72b53c"/>
<circle cx="360.56" cy="582.63" r="1.3" fill="#72b53c"/>
<circle cx="361.23" cy="582.45" r="1.3" fill="#72b53c"/>
<circle cx="361.90" cy="582.30" r="1.3" fill="#72b53c"/>
<circle cx="362.57" cy="582.16" r="1.3" fill="#72b53c"/>
<circle cx="363.24" cy="582.02" r="1.3" fill="#72b53c"/>
<circle cx="363.92" cy="581.89" r="1.3" fill="#72b53c"/>
<circle cx="364.59" cy="581.75" r="1.3" fill="#72b53c"/>
<circle cx="365.26" cy="581.61" r="1.3" fill="#72b53c"/>
<circle cx="365.93" cy="581.47" r="1.3" fill="#72b53c"/>
<circle cx="366.60" cy="581.34" r="1.3" fill="#72b53c"/>
<circle cx="367.27" cy="581.20" r="1.3" fill="#72b53c"/>
<circle cx="367.94" cy="581.06" r="1.3" fill="#72b53c"/>
<circle cx="368.62" cy="580.93" r="1.3" fill="#72b53c"/>
<circle cx="369.29" cy="580.79" r="1.3" fill="#72b53c"/>
<circle cx="369.96" cy="580.65" r="1.3" fill="#72b53c"/>
<circle cx="370.63" cy="580.51" r="1.3" fill="#72b53c"/>
<circle cx="371.30" cy="580.42" r="1.3" fill="#72b53c"/>
<circle cx="371.97" cy="580.33" r="1.3" fill="#72b53c"/>
<circle cx="372.64" cy="580.24" r="1.3" fill="#72b53c"/>
<circle cx="373.32" cy="580.15" r="1.3" fill="#72b53c"/>
<circle cx="373.99" cy="580.06" r="1.3" fill="#72b53c"/>
<circle cx="374.66" cy="579.97" r="1.3" fill="#72b53c"/>
<circle cx="375.33" cy="579.88" r="1.3" fill="#72b53c"/>
<circle cx="376.00" cy="579.79" r="1.3" fill="#72b53c"/>
<circle cx="376.67" cy="579.70" r="1.3" fill="#72b53c"/>
<circle cx="377.35" cy="579.61" r="1.3" fill="#72b53c"/>
<circle cx="378.02" cy="579.52" r="1.3" fill="#72b53c"/>
<circle cx="378.69" cy="579.43" r="1.3" fill="#72b53c"/>
<circle cx="379.36" cy="579.35" r="1.3" fill="#72b53c"/>
<circle cx="380.03" cy="579.26" r="1.3" fill="#72b53c"/>
<circle cx="380.70" cy="579.17" r="1.3" fill="#72b53c"/>
<circle cx="381.37" cy="579.08" r="1.3" fill="#72b53c"/>
<circle cx="382.05" cy="578.99" r="1.3" fill="#72b53c"/>
<circle cx="382.72" cy="578.90" r="1.3" fill="#72b53c"/>
<circle cx="383.39" cy="578.81" r="1.3" fill="#72b53c"/>
<circle cx="384.06" cy="578.72" r="1.3" fill="#72b53c"/>
<circle cx="384.73" cy="578.63" r="1.3" fill="#72b53c"/>
<circle cx="385.40" cy="578.54" r="1.3" fill="#72b53c"/>
<circle cx="386.07" cy="578.45" r="1.3" fill="#72b53c"/>
<circle cx="386.75" cy="578.36" r="1.3" fill="#72b53c"/>
<circle cx="387.42" cy="578.27" r="1.3" fill="#72b53c"/>
<circle cx="388.09" cy="578.18" r="1.3" fill="#72b53c"/>
<circle cx="388.76" cy="578.09" r="1.3" fill="#72b53c"/>
<circle cx="389.43" cy="578.00" r="1.3" fill="#72b53c"/>
<circle cx="390.10" cy="577.91" r="1.3" fill="#72b53c"/>
<circle cx="390.78" cy="577.82" r="1.3" fill="#72b53c"/>
<circle cx="391.45" cy="577.73" r="1.3" fill="#72b53c"/>
<circle cx="392.12" cy="577.66" r="1.3" fill="#72b53c"/>
<circle cx="392.79" cy="577.59" r="1.3" fill="#72b53c"/>
<circle cx="393.46" cy="577.53" r="1.3" fill="#72b53c"/>
<circle cx="394.13" cy="577.46" r="1.3" fill="#72b53c"/>
<circle cx="394.80" cy="577.39" r="1.3" fill="#72b53c"/>
<circle cx="395.48" cy="577.33" r="1.3" fill="#72b53c"/>
<circle cx="396.15" cy="577.26" r="1.3" fill="#72b53c"/>
<circle cx="396.82" cy="577.20" r="1.3" fill="#72b53c"/>
<circle cx="397.49" cy="577.13" r="1.3" fill="#72b53c"/>
<circle cx="398.16" cy="577.06" r="1.3" fill="#72b53c"/>
<circle cx="398.83" cy="577.00" r="1.3" fill="#72b53c"/>
<circle cx="399.50" cy="576.93" r="1.3" fill="#72b53c"/>
<circle cx="400.18" cy="576.87" r="1.3" fill="#72b53c"/>
<circle cx="400.85" cy="576.80" r="1.3" fill="#72b53c"/>
<circle cx="401.52" cy="576.73" r="1.3" fill="#72b53c"/>
<circle cx="402.19" cy="576.67" r="1.3" fill="#72b53c"/>
<circle cx="402.86" cy="576.60" r="1.3" fill="#72b53c"/>
<circle cx="403.53" cy="576.54" r="1.3" fill="#72b53c"/>
<circle cx="404.21" cy="576.47" r="1.3" fill="#72b53c"/>
<circle cx="404.88" cy="576.40" r="1.3" fill="#72b53c"/>
<circle cx="405.55" cy="576.34" r="1.3" fill="#72b53c"/>
<circle cx="406.22" cy="576.27" r="1.3" fill="#72b53c"/>
<circle cx="406.89" cy="576.21" r="1.3" fill="#72b53c"/>
<circle cx="407.56" cy="576.14" r="1.3" fill="#72b53c"/>
<circle cx="408.23" cy="576.07" r="1.3" fill="#72b53c"/>
<circle cx="408.91" cy="576.01" r="1.3" fill="#72b53c"/>
<circle cx="409.58" cy="575.94" r="1.3" fill="#72b53c"/>
<circle cx="410.25" cy="575.88" r="1.3" fill="#72b53c"/>
<circle cx="410.92" cy="575.81" r="1.3" fill="#72b53c"/>
<circle cx="411.59" cy="575.74" r="1.3" fill="#72b53c"/>
<circle cx="412.26" cy="575.68" r="1.3" fill="#72b53c"/>
<circle cx="412.94" cy="575.61" r="1.3" fill="#72b53c"/>
<circle cx="413.61" cy="575.55" r="1.3" fill="#72b53c"/>
<circle cx="414.28" cy="575.48" r="1.3" fill="#72b53c"/>
<circle cx="414.95" cy="575.41" r="1.3" fill="#72b53c"/>
<circle cx="415.62" cy="575.37" r="1.3" fill="#72b53c"/>
<circle cx="416.29" cy="575.33" r="1.3" fill="#72b53c"/>
<circle cx="416.96" cy="575.29" r="1.3" fill="#72b53c"/>
<circle cx="417.64" cy="575.25" r="1.3" fill="#72b53c"/>
<circle cx="418.31" cy="575.21" r="1.3" fill="#72b53c"/>
<circle cx="418.98" cy="575.17" r="1.3" fill="#72b53c"/>
<circle cx="419.65" cy="575.13" r="1.3" fill="#72b53c"/>
<circle cx="420.32" cy="575.09" r="1.3" fill="#72b53c"/>
<circle cx="420.99" cy="575.05" r="1.3" fill="#72b53c"/>
<circle cx="421.66" cy="575.01" r="1.3" fill="#72b53c"/>
<circle cx="422.34" cy="574.97" r="1.3" fill="#72b53c"/>
<circle cx="423.01" cy="574.92" r="1.3" fill="#72b53c"/>
<circle cx="423.68" cy="574.88" r="1.3" fill="#72b53c"/>
<circle cx="424.35" cy="574.84" r="1.3" fill="#72b53c"/>
<circle cx="425.02" cy="574.80" r="1.3" fill="#72b53c"/>
<circle cx="425.69" cy="574.76" r="1.3" fill="#72b53c"/>
<circle cx="426.37" cy="574.72" r="1.3" fill="#72b53c"/>
<circle cx="427.04" cy="574.68" r="1.3" fill="#72b53c"/>
<circle cx="427.71" cy="574.64" r="1.3" fill="#72b53c"/>
<circle cx="428.38" cy="574.60" r="1.3" fill="#72b53c"/>
<circle cx="429.05" cy="574.56" r="1.3" fill="#72b53c"/>
<circle cx="429.72" cy="574.52" r="1.3" fill="#72b53c"/>
<circle cx="430.39" cy="574.48" r="1.3" fill="#72b53c"/>
<circle cx="431.07" cy="574.44" r="1.3" fill="#72b53c"/>
<circle cx="431.74" cy="574.40" r="1.3" fill="#72b53c"/>
<circle cx="432.41" cy="574.36" r="1.3" fill="#72b53c"/>
<circle cx="433.08" cy="574.32" r="1.3" fill="#72b53c"/>
<circle cx="433.75" cy="574.28" r="1.3" fill="#72b53c"/>
<circle cx="434.42" cy="574.24" r="1.3" fill="#72b53c"/>
<circle cx="435.09" cy="574.20" r="1.3" fill="#72b53c"/>
<circle cx="435.77" cy="574.16" r="1.3" fill="#72b53c"/>
<circle cx="436.44" cy="574.12" r="1.3" fill="#72b53c"/>
<circle cx="437.11" cy="574.08" r="1.3" fill="#72b53c"/>
<circle cx="437.78" cy="574.04" r="1.3" fill="#72b53c"/>
<circle cx="438.45" cy="574.00" r="1.3" fill="#72b53c"/>
<circle cx="439.12" cy="573.94" r="1.3" fill="#72b53c"/>
<circle cx="439.80" cy="573.88" r="1.3" fill="#72b53c"/>
<circle cx="440.47" cy="573.82" r="1.3" fill="#72b53c"/>
<circle cx="441.14" cy="573.77" r="1.3" fill="#72b53c"/>
<circle cx="441.81" cy="573.71" r="1.3" fill="#72b53c"/>
<circle cx="442.48" cy="573.65" r="1.3" fill="#72b53c"/>
<circle cx="443.15" cy="573.59" r="1.3" fill="#72b53c"/>
<circle cx="443.82" cy="573.54" r="1.3" fill="#72b53c"/>
<circle cx="444.50" cy="573.48" r="1.3" fill="#72b53c"/>
<circle cx="445.17" cy="573.42" r="1.3" fill="#72b53c"/>
<circle cx="445.84" cy="573.37" r="1.3" fill="#72b53c"/>
<circle cx="446.51" cy="573.31" r="1.3" fill="#72b53c"/>
<circle cx="447.18" cy="573.25" r="1.3" fill="#72b53c"/>
<circle cx="447.85" cy="573.19" r="1.3" fill="#72b53c"/>
<circle cx="448.52" cy="573.14" r="1.3" fill="#72b53c"/>
<circle cx="449.20" cy="573.08" r="1.3" fill="#72b53c"/>
<circle cx="449.87" cy="573.02" r="1.3" fill="#72b53c"/>
<circle cx="450.54" cy="572.96" r="1.3" fill="#72b53c"/>
<circle cx="451.21" cy="572.91" r="1.3" fill="#72b53c"/>
<circle cx="451.88" cy="572.85" r="1.3" fill="#72b53c"/>
<circle cx="452.55" cy="572.79" r="1.3" fill="#72b53c"/>
<circle cx="453.23" cy="572.73" r="1.3" fill="#72b53c"/>
<circle cx="453.90" cy="572.68" r="1.3" fill="#72b53c"/>
<circle cx="454.57" cy="572.62" r="1.3" fill="#72b53c"/>
<circle cx="455.24" cy="572.55" r="1.3" fill="#72b53c"/>
<circle cx="455.91" cy="572.49" r="1.3" fill="#72b53c"/>
<circle cx="456.58" cy="572.42" r="1.3" fill="#72b53c"/>
<circle cx="457.25" cy="572.35" r="1.3" fill="#72b53c"/>
<circle cx="457.93" cy="572.28" r="1.3" fill="#72b53c"/>
<circle cx="458.60" cy="572.21" r="1.3" fill="#72b53c"/>
<circle cx="459.27" cy="572.14" r="1.3" fill="#72b53c"/>
<circle cx="459.94" cy="572.07" r="1.3" fill="#72b53c"/>
<circle cx="460.61" cy="572.00" r="1.3" fill="#72b53c"/>
<circle cx="461.28" cy="571.94" r="1.3" fill="#72b53c"/>
<circle cx="461.95" cy="571.87" r="1.3" fill="#72b53c"/>
<circle cx="462.63" cy="571.80" r="1.3" fill="#72b53c"/>
<circle cx="463.30" cy="571.73" r="1.3" fill="#72b53c"/>
<circle cx="463.97" cy="571.66" r="1.3" fill="#72b53c"/>
<circle cx="464.64" cy="571.59" r="1.3" fill="#72b53c"/>
<circle cx="465.31" cy="571.52" r="1.3" fill="#72b53c"/>
<circle cx="465.98" cy="571.45" r="1.3" fill="#72b53c"/>
<circle cx="466.65" cy="571.38" r="1.3" fill="#72b53c"/>
<circle cx="467.33" cy="571.29" r="1.3" fill="#72b53c"/>
<circle cx="468.00" cy="571.20" r="1.3" fill="#72b53c"/>
<circle cx="468.67" cy="571.10" r="1.3" fill="#72b53c"/>
<circle cx="469.34" cy="571.01" r="1.3" fill="#72b53c"/>
<circle cx="470.01" cy="570.92" r="1.3" fill="#72b53c"/>
<circle cx="470.68" cy="570.83" r="1.3" fill="#72b53c"/>
<circle cx="471.36" cy="570.74" r="1.3" fill="#72b53c"/>
<circle cx="472.03" cy="570.65" r="1.3" fill="#72b53c"/>
<circle cx="472.70" cy="570.55" r="1.3" fill="#72b53c"/>
<circle cx="473.37" cy="570.46" r="1.3" fill="#72b53c"/>
<circle cx="474.04" cy="570.37" r="1.3" fill="#72b53c"/>
<circle cx="474.71" cy="570.28" r="1.3" fill="#72b53c"/>
<circle cx="475.38" cy="570.19" r="1.3" fill="#72b53c"/>
<circle cx="476.06" cy="570.13" r="1.3" fill="#d7302a"/>
<circle cx="476.73" cy="570.06" r="1.3" fill="#d7302a"/>
<circle cx="477.40" cy="570.00" r="1.3" fill="#d7302a"/>
<circle cx="478.07" cy="569.93" r="1.3" fill="#d7302a"/>
<circle cx="478.74" cy="569.87" r="1.3" fill="#d7302a"/>
<circle cx="479.41" cy="569.80" r="1.3" fill="#d7302a"/>
<circle cx="480.08" cy="569.74" r="1.3" fill="#d7302a"/>
<circle cx="480.76" cy="569.67" r="1.3" fill="#d7302a"/>
<circle cx="481.43" cy="569.61" r="1.3" fill="#d7302a"/>
<circle cx="482.10" cy="569.54" r="1.3" fill="#d7302a"/>
<circle cx="482.77" cy="569.48" r="1.3" fill="#d7302a"/>
<circle cx="483.44" cy="569.41" r="1.3" fill="#d7302a"/>
<circle cx="484.11" cy="569.35" r="1.3" fill="#d7302a"/>
<circle cx="484.79" cy="569.28" r="1.3" fill="#d7302a"/>
<circle cx="485.46" cy="569.22" r="1.3" fill="#d7302a"/>
<circle cx="486.13" cy="569.15" r="1.3" fill="#d7302a"/>
<circle cx="486.80" cy="569.09" r="1.3" fill="#d7302a"/>
<circle cx="487.47" cy="569.02" r="1.3" fill="#d7302a"/>
<circle cx="488.14" cy="568.96" r="1.3" fill="#d7302a"/>
<circle cx="488.81" cy="568.90" r="1.3" fill="#d7302a"/>
<circle cx="489.49" cy="568.83" r="1.3" fill="#d7302a"/>
<circle cx="490.16" cy="568.76" r="1.3" fill="#d7302a"/>
<circle cx="490.83" cy="568.68" r="1.3" fill="#d7302a"/>
<circle cx="491.50" cy="568.60" r="1.3" fill="#d7302a"/>
<circle cx="492.17" cy="568.52" r="1.3" fill="#d7302a"/>
<circle cx="492.84" cy="568.44" r="1.3" fill="#d7302a"/>
<circle cx="493.51" cy="568.36" r="1.3" fill="#d7302a"/>
<circle cx="494.19" cy="568.28" r="1.3" fill="#d7302a"/>
<circle cx="494.86" cy="568.20" r="1.3" fill="#d7302a"/>
<circle cx="495.53" cy="568.13" r="1.3" fill="#d7302a"/>
<circle cx="496.20" cy="568.05" r="1.3" fill="#d7302a"/>
<circle cx="496.87" cy="567.97" r="1.3" fill="#d7302a"/>
<circle cx="497.54" cy="567.89" r="1.3" fill="#d7302a"/>
<circle cx="498.22" cy="567.81" r="1.3" fill="#d7302a"/>
<circle cx="498.89" cy="567.73" r="1.3" fill="#d7302a"/>
<circle cx="499.56" cy="567.65" r="1.3" fill="#d7302a"/>
<circle cx="500.23" cy="567.57" r="1.3" fill="#d7302a"/>
<circle cx="500.90" cy="567.47" r="1.3" fill="#d7302a"/>
<circle cx="501.57" cy="567.37" r="1.3" fill="#d7302a"/>
<circle cx="502.24" cy="567.27" r="1.3" fill="#d7302a"/>
<circle cx="502.92" cy="567.17" r="1.3" fill="#d7302a"/>
<circle cx="503.59" cy="567.07" r="1.3" fill="#d7302a"/>
<circle cx="504.26" cy="566.97" r="1.3" fill="#d7302a"/>
<circle cx="504.93" cy="566.87" r="1.3" fill="#d7302a"/>
<circle cx="505.60" cy="566.76" r="1.3" fill="#d7302a"/>
<circle cx="506.27" cy="566.66" r="1.3" fill="#d7302a"/>
<circle cx="506.94" cy="566.56" r="1.3" fill="#d7302a"/>
<circle cx="507.62" cy="566.46" r="1.3" fill="#d7302a"/>
<circle cx="508.29" cy="566.36" r="1.3" fill="#d7302a"/>
<circle cx="508.96" cy="566.26" r="1.3" fill="#d7302a"/>
<circle cx="509.63" cy="566.16" r="1.3" fill="#d7302a"/>
<circle cx="510.30" cy="566.06" r="1.3" fill="#d7302a"/>
<circle cx="510.97" cy="565.96" r="1.3" fill="#d7302a"/>
<circle cx="511.65" cy="565.86" r="1.3" fill="#d7302a"/>
<circle cx="512.32" cy="565.76" r="1.3" fill="#d7302a"/>
<circle cx="512.99" cy="565.66" r="1.3" fill="#d7302a"/>
<circle cx="513.66" cy="565.56" r="1.3" fill="#d7302a"/>
<circle cx="514.33" cy="565.46" r="1.3" fill="#d7302a"/>
<circle cx="515.00" cy="565.36" r="1.3" fill="#d7302a"/>
<circle cx="515.67" cy="565.26" r="1.3" fill="#d7302a"/>
<circle cx="516.35" cy="565.16" r="1.3" fill="#d7302a"/>
<circle cx="517.02" cy="565.03" r="1.3" fill="#d7302a"/>
<circle cx="517.69" cy="564.91" r="1.3" fill="#d7302a"/>
<circle cx="518.36" cy="564.79" r="1.3" fill="#d7302a"/>
<circle cx="519.03" cy="564.67" r="1.3" fill="#d7302a"/>
<circle cx="519.70" cy="564.55" r="1.3" fill="#d7302a"/>
<circle cx="520.38" cy="564.43" r="1.3" fill="#d7302a"/>
<circle cx="521.05" cy="564.30" r="1.3" fill="#d7302a"/>
<circle cx="521.72" cy="564.18" r="1.3" fill="#d7302a"/>
<circle cx="522.39" cy="564.06" r="1.3" fill="#d7302a"/>
<circle cx="523.06" cy="563.94" r="1.3" fill="#d7302a"/>
<circle cx="523.73" cy="563.82" r="1.3" fill="#d7302a"/>
<circle cx="524.40" cy="563.69" r="1.3" fill="#d7302a"/>
<circle cx="525.08" cy="563.57" r="1.3" fill="#d7302a"/>
<circle cx="525.75" cy="563.45" r="1.3" fill="#d7302a"/>
<circle cx="526.42" cy="563.33" r="1.3" fill="#d7302a"/>
<circle cx="527.09" cy="563.21" r="1.3" fill="#d7302a"/>
<circle cx="527.76" cy="563.09" r="1.3" fill="#d7302a"/>
<circle cx="528.43" cy="562.96" r="1.3" fill="#d7302a"/>
<circle cx="529.10" cy="562.84" r="1.3" fill="#d7302a"/>
<circle cx="529.78" cy="562.72" r="1.3" fill="#d7302a"/>
<circle cx="530.45" cy="562.60" r="1.3" fill="#d7302a"/>
<circle cx="531.12" cy="562.48" r="1.3" fill="#d7302a"/>
<circle cx="531.79" cy="562.36" r="1.3" fill="#d7302a"/>
<circle cx="532.46" cy="562.25" r="1.3" fill="#d7302a"/>
<circle cx="533.13" cy="562.17" r="1.3" fill="#d7302a"/>
<circle cx="533.81" cy="562.09" r="1.3" fill="#d7302a"/>
<circle cx="534.48" cy="562.00" r="1.3" fill="#d7302a"/>
<circle cx="535.15" cy="561.92" r="1.3" fill="#d7302a"/>
<circle cx="535.82" cy="561.84" r="1.3" fill="#d7302a"/>
<circle cx="536.49" cy="561.75" r="1.3" fill="#d7302a"/>
<circle cx="537.16" cy="561.67" r="1.3" fill="#d7302a"/>
<circle cx="537.83" cy="561.58" r="1.3" fill="#d7302a"/>
<circle cx="538.51" cy="561.50" r="1.3" fill="#d7302a"/>
<circle cx="539.18" cy="561.07" r="1.3" fill="#d7302a"/>
<circle cx="539.85" cy="560.64" r="1.3" fill="#d7302a"/>
<circle cx="540.52" cy="560.21" r="1.3" fill="#d7302a"/>
<circle cx="541.19" cy="559.79" r="1.3" fill="#d7302a"/>
<circle cx="541.86" cy="559.39" r="1.3" fill="#d7302a"/>
<circle cx="542.53" cy="559.25" r="1.3" fill="#d7302a"/>
<circle cx="543.21" cy="559.11" r="1.3" fill="#d7302a"/>
<circle cx="543.88" cy="558.97" r="1.3" fill="#d7302a"/>
<circle cx="544.55" cy="558.84" r="1.3" fill="#d7302a"/>
<circle cx="545.22" cy="558.70" r="1.3" fill="#d7302a"/>
<circle cx="545.89" cy="558.56" r="1.3" fill="#d7302a"/>
<circle cx="546.56" cy="558.42" r="1.3" fill="#d7302a"/>
<circle cx="547.24" cy="558.28" r="1.3" fill="#d7302a"/>
<circle cx="547.91" cy="558.15" r="1.3" fill="#d7302a"/>
<circle cx="548.58" cy="558.01" r="1.3" fill="#d7302a"/>
<circle cx="549.25" cy="557.87" r="1.3" fill="#d7302a"/>
<circle cx="549.92" cy="557.73" r="1.3" fill="#d7302a"/>
<circle cx="550.59" cy="557.59" r="1.3" fill="#d7302a"/>
<circle cx="551.26" cy="557.46" r="1.3" fill="#d7302a"/>
<circle cx="551.94" cy="557.32" r="1.3" fill="#d7302a"/>
<circle cx="552.61" cy="557.18" r="1.3" fill="#d7302a"/>
<circle cx="553.28" cy="556.99" r="1.3" fill="#d7302a"/>
<circle cx="553.95" cy="556.72" r="1.3" fill="#d7302a"/>
<circle cx="554.62" cy="556.45" r="1.3" fill="#d7302a"/>
<circle cx="555.29" cy="556.18" r="1.3" fill="#d7302a"/>
<circle cx="555.96" cy="555.91" r="1.3" fill="#d7302a"/>
<circle cx="556.64" cy="555.65" r="1.3" fill="#d7302a"/>
<circle cx="557.31" cy="555.38" r="1.3" fill="#d7302a"/>
<circle cx="557.98" cy="555.11" r="1.3" fill="#d7302a"/>
<circle cx="558.65" cy="554.84" r="1.3" fill="#d7302a"/>
<circle cx="559.32" cy="554.57" r="1.3" fill="#d7302a"/>
<circle cx="559.99" cy="554.30" r="1.3" fill="#d7302a"/>
<circle cx="560.66" cy="554.03" r="1.3" fill="#d7302a"/>
<circle cx="561.34" cy="553.76" r="1.3" fill="#d7302a"/>
<circle cx="562.01" cy="553.49" r="1.3" fill="#d7302a"/>
<circle cx="562.68" cy="553.22" r="1.3" fill="#d7302a"/>
<circle cx="563.35" cy="552.94" r="1.3" fill="#d7302a"/>
<circle cx="564.02" cy="552.67" r="1.3" fill="#d7302a"/>
<circle cx="564.69" cy="552.40" r="1.3" fill="#d7302a"/>
<circle cx="565.37" cy="552.13" r="1.3" fill="#d7302a"/>
<circle cx="566.04" cy="551.85" r="1.3" fill="#d7302a"/>
<circle cx="566.71" cy="551.58" r="1.3" fill="#d7302a"/>
<circle cx="567.38" cy="551.31" r="1.3" fill="#d7302a"/>
<circle cx="568.05" cy="551.00" r="1.3" fill="#d7302a"/>
<circle cx="568.72" cy="550.69" r="1.3" fill="#d7302a"/>
<circle cx="569.39" cy="550.38" r="1.3" fill="#d7302a"/>
<circle cx="570.07" cy="550.07" r="1.3" fill="#d7302a"/>
<circle cx="570.74" cy="549.76" r="1.3" fill="#d7302a"/>
<circle cx="571.41" cy="549.45" r="1.3" fill="#d7302a"/>
<circle cx="572.08" cy="549.14" r="1.3" fill="#d7302a"/>
<circle cx="572.75" cy="548.83" r="1.3" fill="#d7302a"/>
<circle cx="573.42" cy="548.52" r="1.3" fill="#d7302a"/>
<circle cx="574.10" cy="548.14" r="1.3" fill="#d7302a"/>
<circle cx="574.77" cy="547.58" r="1.3" fill="#d7302a"/>
<circle cx="575.44" cy="547.02" r="1.3" fill="#d7302a"/>
<circle cx="576.11" cy="546.46" r="1.3" fill="#d7302a"/>
<circle cx="576.78" cy="545.90" r="1.3" fill="#d7302a"/>
<circle cx="577.45" cy="545.34" r="1.3" fill="#d7302a"/>
<circle cx="578.12" cy="544.78" r="1.3" fill="#d7302a"/>
<circle cx="578.80" cy="544.22" r="1.3" fill="#d7302a"/>
<circle cx="579.47" cy="543.63" r="1.3" fill="#d7302a"/>
<circle cx="580.14" cy="543.04" r="1.3" fill="#d7302a"/>
<circle cx="580.81" cy="542.45" r="1.3" fill="#d7302a"/>
<circle cx="581.48" cy="542.09" r="1.3" fill="#d7302a"/>
<circle cx="582.15" cy="541.90" r="1.3" fill="#d7302a"/>
<circle cx="582.82" cy="541.71" r="1.3" fill="#d7302a"/>
<circle cx="583.50" cy="541.52" r="1.3" fill="#d7302a"/>
<circle cx="584.17" cy="541.32" r="1.3" fill="#d7302a"/>
<circle cx="584.84" cy="541.13" r="1.3" fill="#d7302a"/>
<circle cx="585.51" cy="540.94" r="1.3" fill="#d7302a"/>
<circle cx="586.18" cy="540.75" r="1.3" fill="#d7302a"/>
<circle cx="586.85" cy="540.45" r="1.3" fill="#d7302a"/>
<circle cx="587.52" cy="539.78" r="1.3" fill="#d7302a"/>
<circle cx="588.20" cy="539.10" r="1.3" fill="#d7302a"/>
<circle cx="588.87" cy="538.43" r="1.3" fill="#d7302a"/>
<circle cx="589.54" cy="537.32" r="1.3" fill="#d7302a"/>
<circle cx="591.40" cy="533.60" r="1.3" fill="#d7302a"/>
<circle cx="592.00" cy="532.20" r="1.3" fill="#d7302a"/>
<circle cx="592.80" cy="531.00" r="1.3" fill="#d7302a"/>
<circle cx="593.00" cy="527.00" r="1.3" fill="#d7302a"/>
<circle cx="593.10" cy="524.50" r="1.3" fill="#d7302a"/>
<circle cx="593.90" cy="522.00" r="1.3" fill="#d7302a"/>
<circle cx="594.70" cy="519.70" r="1.3" fill="#d7302a"/>
<circle cx="595.40" cy="517.80" r="1.3" fill="#d7302a"/>
<circle cx="596.00" cy="515.70" r="1.3" fill="#d7302a"/>
<circle cx="596.70" cy="510.90" r="1.3" fill="#d7302a"/>
<circle cx="597.50" cy="500.90" r="1.3" fill="#d7302a"/>
<circle cx="598.10" cy="495.60" r="1.3" fill="#d7302a"/>
<rect x="343.40" y="491.90" width="264.30" height="99.80" fill="none" stroke="#8a8a8a" stroke-width="0.9"/>
<line x1="338.80" y1="572.10" x2="343.40" y2="572.10" stroke="#8a8a8a" stroke-width="0.8"/>
<text x="332.30" y="572.10" font-size="7.1" text-anchor="middle" fill="#222" stroke="#222" stroke-width="0.156" transform="rotate(-90 332.30 572.10)">0.5</text>
<line x1="338.80" y1="551.50" x2="343.40" y2="551.50" stroke="#8a8a8a" stroke-width="0.8"/>
<text x="332.30" y="551.50" font-size="7.1" text-anchor="middle" fill="#222" stroke="#222" stroke-width="0.156" transform="rotate(-90 332.30 551.50)">1.0</text>
<line x1="338.80" y1="530.90" x2="343.40" y2="530.90" stroke="#8a8a8a" stroke-width="0.8"/>
<text x="332.30" y="530.90" font-size="7.1" text-anchor="middle" fill="#222" stroke="#222" stroke-width="0.156" transform="rotate(-90 332.30 530.90)">1.5</text>
<line x1="338.80" y1="510.30" x2="343.40" y2="510.30" stroke="#8a8a8a" stroke-width="0.8"/>
<text x="332.30" y="510.30" font-size="7.1" text-anchor="middle" fill="#222" stroke="#222" stroke-width="0.156" transform="rotate(-90 332.30 510.30)">2.0</text>
<line x1="352.50" y1="591.70" x2="352.50" y2="596.00" stroke="#8a8a8a" stroke-width="0.8"/>
<text x="352.50" y="607.80" font-size="7.2" text-anchor="middle" fill="#222" stroke="#222" stroke-width="0.158">0</text>
<line x1="419.65" y1="591.70" x2="419.65" y2="596.00" stroke="#8a8a8a" stroke-width="0.8"/>
<text x="419.65" y="607.80" font-size="7.2" text-anchor="middle" fill="#222" stroke="#222" stroke-width="0.158">100</text>
<line x1="486.80" y1="591.70" x2="486.80" y2="596.00" stroke="#8a8a8a" stroke-width="0.8"/>
<text x="486.80" y="607.80" font-size="7.2" text-anchor="middle" fill="#222" stroke="#222" stroke-width="0.158">200</text>
<line x1="553.95" y1="591.70" x2="553.95" y2="596.00" stroke="#8a8a8a" stroke-width="0.8"/>
<text x="553.95" y="607.80" font-size="7.2" text-anchor="middle" fill="#222" stroke="#222" stroke-width="0.158">300</text>
<text x="314.20" y="541.50" font-size="7.4" text-anchor="middle" fill="#111" stroke="#111" stroke-width="0.163" transform="rotate(-90 314.20 541.50)">Risk score</text>
<text x="475.60" y="626.30" font-size="7.6" text-anchor="middle" fill="#111" stroke="#111" stroke-width="0.167">Patients (increasing risk socre)</text>
<circle cx="351.30" cy="502.90" r="2.1" fill="#d7302a"/>
<text x="359.90" y="506.20" font-size="8.9" text-anchor="start" fill="#111" stroke="#111" stroke-width="0.196">High risk</text>
<circle cx="351.30" cy="514.10" r="2.1" fill="#72b53c"/>
<text x="359.90" y="517.40" font-size="8.9" text-anchor="start" fill="#111" stroke="#111" stroke-width="0.196">Low Risk</text>
<text x="318.35" y="626.35" font-size="12" text-anchor="start" fill="#000" font-weight="bold">I</text>
<line x1="475.40" y1="641.50" x2="475.40" y2="740.40" stroke="#333" stroke-width="0.7" stroke-dasharray="1.6,1.6"/>
<circle cx="353.50" cy="650.00" r="1.65" fill="#72b53c"/>
<circle cx="413.58" cy="716.21" r="1.65" fill="#72b53c"/>
<circle cx="354.72" cy="736.96" r="1.65" fill="#d7302a"/>
<circle cx="535.99" cy="699.56" r="1.65" fill="#72b53c"/>
<circle cx="457.19" cy="705.04" r="1.65" fill="#d7302a"/>
<circle cx="401.75" cy="713.58" r="1.65" fill="#d7302a"/>
<circle cx="567.66" cy="714.45" r="1.65" fill="#72b53c"/>
<circle cx="534.53" cy="713.72" r="1.65" fill="#72b53c"/>
<circle cx="439.72" cy="710.56" r="1.65" fill="#72b53c"/>
<circle cx="470.99" cy="729.34" r="1.65" fill="#72b53c"/>
<circle cx="469.41" cy="736.96" r="1.65" fill="#72b53c"/>
<circle cx="492.80" cy="703.72" r="1.65" fill="#72b53c"/>
<circle cx="500.94" cy="722.12" r="1.65" fill="#72b53c"/>
<circle cx="407.01" cy="728.03" r="1.65" fill="#72b53c"/>
<circle cx="502.52" cy="693.61" r="1.65" fill="#72b53c"/>
<circle cx="559.64" cy="705.99" r="1.65" fill="#72b53c"/>
<circle cx="469.67" cy="716.86" r="1.65" fill="#d7302a"/>
<circle cx="423.43" cy="651.17" r="1.65" fill="#72b53c"/>
<circle cx="556.42" cy="732.26" r="1.65" fill="#d7302a"/>
<circle cx="521.97" cy="689.64" r="1.65" fill="#72b53c"/>
<circle cx="476.90" cy="722.51" r="1.65" fill="#72b53c"/>
<circle cx="407.67" cy="737.23" r="1.65" fill="#72b53c"/>
<circle cx="359.45" cy="720.15" r="1.65" fill="#72b53c"/>
<circle cx="435.77" cy="725.40" r="1.65" fill="#d7302a"/>
<circle cx="441.42" cy="734.86" r="1.65" fill="#d7302a"/>
<circle cx="407.01" cy="710.95" r="1.65" fill="#72b53c"/>
<circle cx="520.51" cy="730.80" r="1.65" fill="#d7302a"/>
<circle cx="377.18" cy="694.13" r="1.65" fill="#72b53c"/>
<circle cx="356.42" cy="719.49" r="1.65" fill="#d7302a"/>
<circle cx="396.50" cy="706.35" r="1.65" fill="#72b53c"/>
<circle cx="397.15" cy="682.31" r="1.65" fill="#72b53c"/>
<circle cx="570.15" cy="711.24" r="1.65" fill="#72b53c"/>
<circle cx="596.13" cy="734.60" r="1.65" fill="#d7302a"/>
<circle cx="498.58" cy="723.04" r="1.65" fill="#d7302a"/>
<circle cx="363.65" cy="736.96" r="1.65" fill="#72b53c"/>
<circle cx="482.15" cy="719.49" r="1.65" fill="#72b53c"/>
<circle cx="560.36" cy="718.83" r="1.65" fill="#d7302a"/>
<circle cx="566.93" cy="728.32" r="1.65" fill="#d7302a"/>
<circle cx="393.87" cy="728.03" r="1.65" fill="#72b53c"/>
<circle cx="548.25" cy="722.92" r="1.65" fill="#72b53c"/>
<circle cx="441.03" cy="705.69" r="1.65" fill="#72b53c"/>
<circle cx="377.84" cy="717.26" r="1.65" fill="#72b53c"/>
<circle cx="558.91" cy="736.35" r="1.65" fill="#d7302a"/>
<circle cx="505.80" cy="720.94" r="1.65" fill="#d7302a"/>
<circle cx="598.32" cy="733.72" r="1.65" fill="#d7302a"/>
<circle cx="591.02" cy="724.67" r="1.65" fill="#72b53c"/>
<circle cx="426.06" cy="697.81" r="1.65" fill="#d7302a"/>
<circle cx="389.93" cy="724.09" r="1.65" fill="#72b53c"/>
<circle cx="572.04" cy="728.32" r="1.65" fill="#d7302a"/>
<circle cx="586.64" cy="730.22" r="1.65" fill="#d7302a"/>
<circle cx="473.61" cy="722.77" r="1.65" fill="#72b53c"/>
<circle cx="530.44" cy="725.11" r="1.65" fill="#72b53c"/>
<circle cx="428.28" cy="730.66" r="1.65" fill="#72b53c"/>
<circle cx="379.42" cy="706.35" r="1.65" fill="#d7302a"/>
<circle cx="384.67" cy="668.25" r="1.65" fill="#72b53c"/>
<circle cx="472.96" cy="714.23" r="1.65" fill="#72b53c"/>
<circle cx="426.97" cy="727.37" r="1.65" fill="#d7302a"/>
<circle cx="436.43" cy="720.15" r="1.65" fill="#72b53c"/>
<circle cx="531.90" cy="698.83" r="1.65" fill="#72b53c"/>
<circle cx="445.76" cy="736.96" r="1.65" fill="#d7302a"/>
<circle cx="504.23" cy="675.47" r="1.65" fill="#d7302a"/>
<circle cx="382.31" cy="717.52" r="1.65" fill="#72b53c"/>
<circle cx="510.40" cy="675.87" r="1.65" fill="#72b53c"/>
<circle cx="368.91" cy="682.04" r="1.65" fill="#72b53c"/>
<circle cx="492.01" cy="696.76" r="1.65" fill="#72b53c"/>
<circle cx="515.84" cy="728.32" r="1.65" fill="#72b53c"/>
<circle cx="389.93" cy="716.21" r="1.65" fill="#72b53c"/>
<circle cx="371.53" cy="718.57" r="1.65" fill="#72b53c"/>
<circle cx="402.02" cy="727.77" r="1.65" fill="#d7302a"/>
<circle cx="485.44" cy="722.51" r="1.65" fill="#72b53c"/>
<circle cx="522.41" cy="726.86" r="1.65" fill="#72b53c"/>
<circle cx="387.04" cy="708.32" r="1.65" fill="#72b53c"/>
<circle cx="555.55" cy="709.64" r="1.65" fill="#72b53c"/>
<circle cx="596.86" cy="720.00" r="1.65" fill="#72b53c"/>
<circle cx="543.28" cy="720.00" r="1.65" fill="#72b53c"/>
<circle cx="573.07" cy="736.64" r="1.65" fill="#72b53c"/>
<circle cx="425.40" cy="701.49" r="1.65" fill="#d7302a"/>
<circle cx="440.77" cy="730.66" r="1.65" fill="#72b53c"/>
<circle cx="444.71" cy="726.45" r="1.65" fill="#72b53c"/>
<circle cx="434.85" cy="676.53" r="1.65" fill="#72b53c"/>
<circle cx="531.17" cy="727.59" r="1.65" fill="#d7302a"/>
<circle cx="584.45" cy="729.78" r="1.65" fill="#d7302a"/>
<circle cx="555.26" cy="730.51" r="1.65" fill="#d7302a"/>
<circle cx="416.21" cy="736.31" r="1.65" fill="#d7302a"/>
<circle cx="465.47" cy="736.57" r="1.65" fill="#72b53c"/>
<circle cx="449.04" cy="659.05" r="1.65" fill="#d7302a"/>
<circle cx="489.38" cy="726.45" r="1.65" fill="#72b53c"/>
<circle cx="565.47" cy="733.43" r="1.65" fill="#d7302a"/>
<circle cx="521.39" cy="721.02" r="1.65" fill="#d7302a"/>
<circle cx="582.26" cy="723.21" r="1.65" fill="#72b53c"/>
<circle cx="434.46" cy="704.64" r="1.65" fill="#72b53c"/>
<circle cx="542.12" cy="729.78" r="1.65" fill="#d7302a"/>
<circle cx="428.03" cy="730.66" r="1.65" fill="#72b53c"/>
<circle cx="404.38" cy="727.37" r="1.65" fill="#72b53c"/>
<circle cx="461.79" cy="734.07" r="1.65" fill="#d7302a"/>
<circle cx="478.21" cy="713.31" r="1.65" fill="#72b53c"/>
<circle cx="380.47" cy="707.67" r="1.65" fill="#72b53c"/>
<circle cx="361.02" cy="714.89" r="1.65" fill="#72b53c"/>
<circle cx="369.56" cy="722.77" r="1.65" fill="#d7302a"/>
<circle cx="477.56" cy="717.52" r="1.65" fill="#72b53c"/>
<circle cx="424.09" cy="724.09" r="1.65" fill="#72b53c"/>
<circle cx="461.13" cy="723.43" r="1.65" fill="#72b53c"/>
<circle cx="561.09" cy="720.29" r="1.65" fill="#d7302a"/>
<circle cx="357.08" cy="725.40" r="1.65" fill="#72b53c"/>
<circle cx="426.31" cy="697.81" r="1.65" fill="#d7302a"/>
<circle cx="525.33" cy="720.58" r="1.65" fill="#72b53c"/>
<circle cx="582.55" cy="708.32" r="1.65" fill="#d7302a"/>
<circle cx="446.28" cy="697.81" r="1.65" fill="#72b53c"/>
<circle cx="589.56" cy="734.89" r="1.65" fill="#d7302a"/>
<circle cx="503.57" cy="720.15" r="1.65" fill="#72b53c"/>
<circle cx="597.59" cy="727.59" r="1.65" fill="#72b53c"/>
<circle cx="442.47" cy="691.50" r="1.65" fill="#72b53c"/>
<circle cx="518.03" cy="735.62" r="1.65" fill="#d7302a"/>
<circle cx="394.53" cy="729.08" r="1.65" fill="#72b53c"/>
<circle cx="425.66" cy="701.49" r="1.65" fill="#d7302a"/>
<circle cx="491.75" cy="679.02" r="1.65" fill="#72b53c"/>
<circle cx="476.24" cy="726.06" r="1.65" fill="#d7302a"/>
<circle cx="463.10" cy="721.72" r="1.65" fill="#72b53c"/>
<circle cx="563.28" cy="735.62" r="1.65" fill="#d7302a"/>
<circle cx="418.18" cy="731.32" r="1.65" fill="#72b53c"/>
<circle cx="381.78" cy="698.86" r="1.65" fill="#72b53c"/>
<circle cx="482.81" cy="675.47" r="1.65" fill="#72b53c"/>
<circle cx="569.12" cy="734.16" r="1.65" fill="#d7302a"/>
<circle cx="512.77" cy="711.61" r="1.65" fill="#72b53c"/>
<circle cx="523.14" cy="668.47" r="1.65" fill="#72b53c"/>
<circle cx="495.56" cy="673.90" r="1.65" fill="#d7302a"/>
<circle cx="454.56" cy="712.92" r="1.65" fill="#72b53c"/>
<circle cx="410.29" cy="721.46" r="1.65" fill="#72b53c"/>
<circle cx="405.04" cy="717.78" r="1.65" fill="#72b53c"/>
<circle cx="366.28" cy="690.58" r="1.65" fill="#72b53c"/>
<circle cx="490.30" cy="721.20" r="1.65" fill="#72b53c"/>
<circle cx="550.88" cy="676.79" r="1.65" fill="#72b53c"/>
<circle cx="537.01" cy="736.35" r="1.65" fill="#d7302a"/>
<circle cx="484.78" cy="708.98" r="1.65" fill="#72b53c"/>
<circle cx="471.25" cy="711.61" r="1.65" fill="#d7302a"/>
<circle cx="447.99" cy="726.72" r="1.65" fill="#d7302a"/>
<circle cx="420.80" cy="718.83" r="1.65" fill="#72b53c"/>
<circle cx="465.73" cy="721.20" r="1.65" fill="#72b53c"/>
<circle cx="580.07" cy="727.88" r="1.65" fill="#72b53c"/>
<circle cx="480.18" cy="726.06" r="1.65" fill="#72b53c"/>
<circle cx="399.12" cy="729.34" r="1.65" fill="#72b53c"/>
<circle cx="585.18" cy="736.64" r="1.65" fill="#72b53c"/>
<circle cx="400.04" cy="679.42" r="1.65" fill="#72b53c"/>
<circle cx="444.71" cy="733.55" r="1.65" fill="#72b53c"/>
<circle cx="511.46" cy="732.26" r="1.65" fill="#72b53c"/>
<circle cx="409.64" cy="720.80" r="1.65" fill="#d7302a"/>
<circle cx="549.42" cy="721.02" r="1.65" fill="#d7302a"/>
<circle cx="595.40" cy="736.35" r="1.65" fill="#d7302a"/>
<circle cx="519.49" cy="736.64" r="1.65" fill="#72b53c"/>
<circle cx="414.23" cy="728.03" r="1.65" fill="#72b53c"/>
<circle cx="492.01" cy="727.11" r="1.65" fill="#72b53c"/>
<circle cx="513.21" cy="703.07" r="1.65" fill="#72b53c"/>
<circle cx="403.72" cy="715.55" r="1.65" fill="#72b53c"/>
<circle cx="566.20" cy="727.30" r="1.65" fill="#72b53c"/>
<circle cx="519.05" cy="718.10" r="1.65" fill="#72b53c"/>
<circle cx="494.24" cy="686.64" r="1.65" fill="#72b53c"/>
<circle cx="408.32" cy="728.69" r="1.65" fill="#72b53c"/>
<circle cx="412.92" cy="720.80" r="1.65" fill="#72b53c"/>
<circle cx="359.05" cy="699.39" r="1.65" fill="#72b53c"/>
<circle cx="429.60" cy="719.49" r="1.65" fill="#72b53c"/>
<circle cx="459.82" cy="680.99" r="1.65" fill="#72b53c"/>
<circle cx="552.34" cy="703.07" r="1.65" fill="#72b53c"/>
<circle cx="443.39" cy="732.63" r="1.65" fill="#72b53c"/>
<circle cx="593.21" cy="734.89" r="1.65" fill="#d7302a"/>
<circle cx="459.42" cy="692.29" r="1.65" fill="#d7302a"/>
<circle cx="538.03" cy="645.40" r="1.65" fill="#72b53c"/>
<circle cx="558.18" cy="719.56" r="1.65" fill="#d7302a"/>
<circle cx="581.09" cy="703.50" r="1.65" fill="#72b53c"/>
<circle cx="368.25" cy="720.80" r="1.65" fill="#72b53c"/>
<circle cx="544.31" cy="715.91" r="1.65" fill="#d7302a"/>
<circle cx="571.31" cy="730.51" r="1.65" fill="#d7302a"/>
<circle cx="463.10" cy="730.00" r="1.65" fill="#72b53c"/>
<circle cx="464.42" cy="731.71" r="1.65" fill="#72b53c"/>
<circle cx="374.82" cy="722.12" r="1.65" fill="#d7302a"/>
<circle cx="495.29" cy="726.72" r="1.65" fill="#72b53c"/>
<circle cx="512.92" cy="736.35" r="1.65" fill="#72b53c"/>
<circle cx="432.88" cy="694.53" r="1.65" fill="#d7302a"/>
<circle cx="452.59" cy="726.06" r="1.65" fill="#72b53c"/>
<circle cx="353.14" cy="726.06" r="1.65" fill="#d7302a"/>
<circle cx="511.17" cy="675.77" r="1.65" fill="#72b53c"/>
<circle cx="566.20" cy="721.02" r="1.65" fill="#72b53c"/>
<circle cx="540.66" cy="715.62" r="1.65" fill="#72b53c"/>
<circle cx="550.15" cy="704.23" r="1.65" fill="#72b53c"/>
<circle cx="401.10" cy="696.50" r="1.65" fill="#d7302a"/>
<circle cx="501.86" cy="729.74" r="1.65" fill="#d7302a"/>
<circle cx="403.33" cy="723.04" r="1.65" fill="#72b53c"/>
<circle cx="511.72" cy="732.63" r="1.65" fill="#72b53c"/>
<circle cx="486.75" cy="726.72" r="1.65" fill="#72b53c"/>
<circle cx="374.16" cy="725.40" r="1.65" fill="#72b53c"/>
<circle cx="497.92" cy="727.77" r="1.65" fill="#72b53c"/>
<circle cx="561.82" cy="717.37" r="1.65" fill="#d7302a"/>
<circle cx="431.57" cy="723.43" r="1.65" fill="#72b53c"/>
<circle cx="515.11" cy="736.64" r="1.65" fill="#72b53c"/>
<circle cx="378.37" cy="674.42" r="1.65" fill="#72b53c"/>
<circle cx="594.67" cy="727.30" r="1.65" fill="#72b53c"/>
<circle cx="398.47" cy="731.71" r="1.65" fill="#d7302a"/>
<circle cx="437.09" cy="735.39" r="1.65" fill="#d7302a"/>
<circle cx="417.52" cy="718.83" r="1.65" fill="#72b53c"/>
<circle cx="590.29" cy="726.42" r="1.65" fill="#d7302a"/>
<circle cx="385.99" cy="730.00" r="1.65" fill="#d7302a"/>
<circle cx="422.77" cy="723.43" r="1.65" fill="#72b53c"/>
<circle cx="500.29" cy="686.25" r="1.65" fill="#72b53c"/>
<circle cx="493.32" cy="719.49" r="1.65" fill="#d7302a"/>
<circle cx="467.83" cy="697.81" r="1.65" fill="#72b53c"/>
<circle cx="400.44" cy="730.66" r="1.65" fill="#72b53c"/>
<circle cx="479.53" cy="679.42" r="1.65" fill="#72b53c"/>
<circle cx="367.59" cy="654.45" r="1.65" fill="#72b53c"/>
<circle cx="592.48" cy="717.66" r="1.65" fill="#d7302a"/>
<circle cx="534.09" cy="728.32" r="1.65" fill="#72b53c"/>
<circle cx="553.80" cy="721.02" r="1.65" fill="#72b53c"/>
<circle cx="352.48" cy="725.14" r="1.65" fill="#72b53c"/>
<circle cx="438.14" cy="727.77" r="1.65" fill="#72b53c"/>
<circle cx="395.84" cy="696.50" r="1.65" fill="#d7302a"/>
<circle cx="371.53" cy="726.06" r="1.65" fill="#d7302a"/>
<circle cx="452.33" cy="668.91" r="1.65" fill="#72b53c"/>
<circle cx="386.64" cy="687.96" r="1.65" fill="#72b53c"/>
<circle cx="574.96" cy="723.50" r="1.65" fill="#72b53c"/>
<circle cx="579.64" cy="702.04" r="1.65" fill="#d7302a"/>
<circle cx="392.56" cy="716.21" r="1.65" fill="#72b53c"/>
<circle cx="526.35" cy="725.40" r="1.65" fill="#d7302a"/>
<circle cx="503.18" cy="679.15" r="1.65" fill="#72b53c"/>
<circle cx="456.53" cy="698.07" r="1.65" fill="#72b53c"/>
<circle cx="548.69" cy="731.24" r="1.65" fill="#d7302a"/>
<circle cx="509.09" cy="734.34" r="1.65" fill="#d7302a"/>
<circle cx="527.52" cy="734.89" r="1.65" fill="#d7302a"/>
<circle cx="572.48" cy="721.75" r="1.65" fill="#72b53c"/>
<circle cx="472.30" cy="728.03" r="1.65" fill="#d7302a"/>
<circle cx="483.47" cy="677.18" r="1.65" fill="#72b53c"/>
<circle cx="593.21" cy="727.59" r="1.65" fill="#d7302a"/>
<circle cx="361.68" cy="674.82" r="1.65" fill="#d7302a"/>
<circle cx="552.34" cy="732.70" r="1.65" fill="#d7302a"/>
<circle cx="362.99" cy="722.12" r="1.65" fill="#72b53c"/>
<circle cx="432.23" cy="687.04" r="1.65" fill="#72b53c"/>
<circle cx="568.39" cy="729.78" r="1.65" fill="#d7302a"/>
<circle cx="561.82" cy="728.32" r="1.65" fill="#72b53c"/>
<circle cx="428.69" cy="735.91" r="1.65" fill="#72b53c"/>
<circle cx="391.24" cy="709.90" r="1.65" fill="#72b53c"/>
<circle cx="455.22" cy="723.43" r="1.65" fill="#d7302a"/>
<circle cx="574.23" cy="715.62" r="1.65" fill="#72b53c"/>
<circle cx="457.85" cy="728.29" r="1.65" fill="#d7302a"/>
<circle cx="531.90" cy="736.06" r="1.65" fill="#d7302a"/>
<circle cx="559.64" cy="718.10" r="1.65" fill="#d7302a"/>
<circle cx="542.12" cy="722.92" r="1.65" fill="#72b53c"/>
<circle cx="468.36" cy="720.41" r="1.65" fill="#72b53c"/>
<circle cx="458.50" cy="718.57" r="1.65" fill="#72b53c"/>
<circle cx="557.45" cy="714.16" r="1.65" fill="#72b53c"/>
<circle cx="484.12" cy="727.37" r="1.65" fill="#72b53c"/>
<circle cx="460.74" cy="719.49" r="1.65" fill="#72b53c"/>
<circle cx="508.43" cy="712.26" r="1.65" fill="#72b53c"/>
<circle cx="393.21" cy="721.46" r="1.65" fill="#72b53c"/>
<circle cx="354.45" cy="726.72" r="1.65" fill="#72b53c"/>
<circle cx="420.15" cy="701.49" r="1.65" fill="#72b53c"/>
<circle cx="411.61" cy="709.64" r="1.65" fill="#72b53c"/>
<circle cx="391.90" cy="686.64" r="1.65" fill="#72b53c"/>
<circle cx="379.42" cy="725.40" r="1.65" fill="#72b53c"/>
<circle cx="515.11" cy="727.30" r="1.65" fill="#72b53c"/>
<circle cx="414.89" cy="733.29" r="1.65" fill="#72b53c"/>
<circle cx="578.32" cy="715.62" r="1.65" fill="#72b53c"/>
<circle cx="545.77" cy="729.34" r="1.65" fill="#d7302a"/>
<circle cx="512.48" cy="711.82" r="1.65" fill="#72b53c"/>
<circle cx="433.54" cy="696.50" r="1.65" fill="#72b53c"/>
<circle cx="540.22" cy="696.20" r="1.65" fill="#72b53c"/>
<circle cx="387.56" cy="735.91" r="1.65" fill="#d7302a"/>
<circle cx="427.37" cy="688.61" r="1.65" fill="#72b53c"/>
<circle cx="515.84" cy="722.04" r="1.65" fill="#d7302a"/>
<circle cx="363.91" cy="689.93" r="1.65" fill="#72b53c"/>
<circle cx="421.46" cy="722.77" r="1.65" fill="#d7302a"/>
<circle cx="395.18" cy="718.18" r="1.65" fill="#d7302a"/>
<circle cx="553.80" cy="734.16" r="1.65" fill="#d7302a"/>
<circle cx="533.36" cy="715.91" r="1.65" fill="#d7302a"/>
<circle cx="430.91" cy="721.20" r="1.65" fill="#d7302a"/>
<circle cx="569.85" cy="731.97" r="1.65" fill="#d7302a"/>
<circle cx="524.60" cy="715.18" r="1.65" fill="#72b53c"/>
<circle cx="455.88" cy="690.58" r="1.65" fill="#d7302a"/>
<circle cx="547.66" cy="714.74" r="1.65" fill="#72b53c"/>
<circle cx="546.79" cy="691.82" r="1.65" fill="#72b53c"/>
<circle cx="507.12" cy="727.77" r="1.65" fill="#72b53c"/>
<circle cx="481.50" cy="700.70" r="1.65" fill="#72b53c"/>
<circle cx="444.05" cy="709.90" r="1.65" fill="#d7302a"/>
<circle cx="499.63" cy="706.35" r="1.65" fill="#72b53c"/>
<circle cx="410.69" cy="694.53" r="1.65" fill="#d7302a"/>
<circle cx="506.46" cy="733.02" r="1.65" fill="#72b53c"/>
<circle cx="496.34" cy="735.65" r="1.65" fill="#d7302a"/>
<circle cx="473.61" cy="702.41" r="1.65" fill="#d7302a"/>
<circle cx="365.62" cy="706.35" r="1.65" fill="#d7302a"/>
<circle cx="371.53" cy="724.09" r="1.65" fill="#72b53c"/>
<circle cx="577.88" cy="719.12" r="1.65" fill="#d7302a"/>
<circle cx="575.69" cy="727.59" r="1.65" fill="#d7302a"/>
<circle cx="480.84" cy="735.39" r="1.65" fill="#d7302a"/>
<circle cx="374.42" cy="673.50" r="1.65" fill="#d7302a"/>
<circle cx="474.66" cy="732.37" r="1.65" fill="#d7302a"/>
<circle cx="448.39" cy="717.52" r="1.65" fill="#72b53c"/>
<circle cx="580.07" cy="722.48" r="1.65" fill="#72b53c"/>
<circle cx="361.68" cy="721.46" r="1.65" fill="#d7302a"/>
<circle cx="528.54" cy="699.85" r="1.65" fill="#d7302a"/>
<circle cx="488.33" cy="692.56" r="1.65" fill="#72b53c"/>
<circle cx="366.93" cy="736.96" r="1.65" fill="#72b53c"/>
<circle cx="426.72" cy="727.37" r="1.65" fill="#d7302a"/>
<circle cx="437.74" cy="700.70" r="1.65" fill="#72b53c"/>
<circle cx="384.02" cy="684.02" r="1.65" fill="#d7302a"/>
<circle cx="577.15" cy="726.13" r="1.65" fill="#d7302a"/>
<circle cx="388.35" cy="715.55" r="1.65" fill="#d7302a"/>
<circle cx="383.36" cy="725.14" r="1.65" fill="#72b53c"/>
<circle cx="419.49" cy="693.87" r="1.65" fill="#72b53c"/>
<circle cx="427.63" cy="688.61" r="1.65" fill="#72b53c"/>
<circle cx="588.10" cy="723.50" r="1.65" fill="#d7302a"/>
<circle cx="544.74" cy="736.64" r="1.65" fill="#72b53c"/>
<circle cx="466.78" cy="708.58" r="1.65" fill="#d7302a"/>
<circle cx="453.91" cy="715.94" r="1.65" fill="#72b53c"/>
<circle cx="529.71" cy="736.35" r="1.65" fill="#d7302a"/>
<circle cx="582.26" cy="729.34" r="1.65" fill="#d7302a"/>
<circle cx="364.96" cy="710.56" r="1.65" fill="#72b53c"/>
<circle cx="451.28" cy="729.34" r="1.65" fill="#d7302a"/>
<circle cx="412.26" cy="736.96" r="1.65" fill="#72b53c"/>
<circle cx="509.09" cy="655.77" r="1.65" fill="#d7302a"/>
<circle cx="523.87" cy="713.72" r="1.65" fill="#72b53c"/>
<circle cx="487.80" cy="709.90" r="1.65" fill="#72b53c"/>
<circle cx="497.00" cy="731.58" r="1.65" fill="#d7302a"/>
<circle cx="474.27" cy="722.77" r="1.65" fill="#d7302a"/>
<circle cx="424.09" cy="717.78" r="1.65" fill="#d7302a"/>
<circle cx="585.91" cy="734.60" r="1.65" fill="#d7302a"/>
<circle cx="513.65" cy="729.34" r="1.65" fill="#72b53c"/>
<circle cx="539.93" cy="728.32" r="1.65" fill="#d7302a"/>
<circle cx="438.80" cy="716.86" r="1.65" fill="#72b53c"/>
<circle cx="467.31" cy="726.72" r="1.65" fill="#72b53c"/>
<circle cx="556.72" cy="727.59" r="1.65" fill="#d7302a"/>
<circle cx="390.58" cy="736.96" r="1.65" fill="#72b53c"/>
<circle cx="397.81" cy="716.21" r="1.65" fill="#d7302a"/>
<circle cx="564.01" cy="721.46" r="1.65" fill="#72b53c"/>
<circle cx="527.81" cy="676.79" r="1.65" fill="#72b53c"/>
<circle cx="376.79" cy="727.37" r="1.65" fill="#72b53c"/>
<circle cx="462.45" cy="702.80" r="1.65" fill="#d7302a"/>
<circle cx="535.11" cy="722.04" r="1.65" fill="#72b53c"/>
<circle cx="589.56" cy="736.64" r="1.65" fill="#72b53c"/>
<circle cx="478.87" cy="706.75" r="1.65" fill="#72b53c"/>
<circle cx="381.39" cy="723.04" r="1.65" fill="#72b53c"/>
<circle cx="385.33" cy="683.62" r="1.65" fill="#d7302a"/>
<circle cx="564.01" cy="726.86" r="1.65" fill="#d7302a"/>
<circle cx="507.77" cy="714.89" r="1.65" fill="#d7302a"/>
<circle cx="422.77" cy="684.67" r="1.65" fill="#72b53c"/>
<circle cx="357.74" cy="731.58" r="1.65" fill="#72b53c"/>
<circle cx="552.63" cy="719.56" r="1.65" fill="#72b53c"/>
<circle cx="428.94" cy="736.18" r="1.65" fill="#72b53c"/>
<rect x="343.40" y="641.50" width="264.40" height="98.90" fill="none" stroke="#8a8a8a" stroke-width="0.9"/>
<line x1="338.80" y1="737.20" x2="343.40" y2="737.20" stroke="#8a8a8a" stroke-width="0.8"/>
<text x="332.30" y="737.20" font-size="7.1" text-anchor="middle" fill="#222" stroke="#222" stroke-width="0.156" transform="rotate(-90 332.30 737.20)">0</text>
<line x1="338.80" y1="718.94" x2="343.40" y2="718.94" stroke="#8a8a8a" stroke-width="0.8"/>
<text x="332.30" y="718.94" font-size="7.1" text-anchor="middle" fill="#222" stroke="#222" stroke-width="0.156" transform="rotate(-90 332.30 718.94)">2</text>
<line x1="338.80" y1="700.68" x2="343.40" y2="700.68" stroke="#8a8a8a" stroke-width="0.8"/>
<text x="332.30" y="700.68" font-size="7.1" text-anchor="middle" fill="#222" stroke="#222" stroke-width="0.156" transform="rotate(-90 332.30 700.68)">4</text>
<line x1="338.80" y1="682.42" x2="343.40" y2="682.42" stroke="#8a8a8a" stroke-width="0.8"/>
<text x="332.30" y="682.42" font-size="7.1" text-anchor="middle" fill="#222" stroke="#222" stroke-width="0.156" transform="rotate(-90 332.30 682.42)">6</text>
<line x1="338.80" y1="664.16" x2="343.40" y2="664.16" stroke="#8a8a8a" stroke-width="0.8"/>
<text x="332.30" y="664.16" font-size="7.1" text-anchor="middle" fill="#222" stroke="#222" stroke-width="0.156" transform="rotate(-90 332.30 664.16)">8</text>
<line x1="338.80" y1="645.90" x2="343.40" y2="645.90" stroke="#8a8a8a" stroke-width="0.8"/>
<text x="332.30" y="645.90" font-size="7.1" text-anchor="middle" fill="#222" stroke="#222" stroke-width="0.156" transform="rotate(-90 332.30 645.90)">10</text>
<line x1="352.50" y1="740.40" x2="352.50" y2="744.70" stroke="#8a8a8a" stroke-width="0.8"/>
<text x="352.50" y="757.60" font-size="7.2" text-anchor="middle" fill="#222" stroke="#222" stroke-width="0.158">0</text>
<line x1="419.65" y1="740.40" x2="419.65" y2="744.70" stroke="#8a8a8a" stroke-width="0.8"/>
<text x="419.65" y="757.60" font-size="7.2" text-anchor="middle" fill="#222" stroke="#222" stroke-width="0.158">100</text>
<line x1="486.80" y1="740.40" x2="486.80" y2="744.70" stroke="#8a8a8a" stroke-width="0.8"/>
<text x="486.80" y="757.60" font-size="7.2" text-anchor="middle" fill="#222" stroke="#222" stroke-width="0.158">200</text>
<line x1="553.95" y1="740.40" x2="553.95" y2="744.70" stroke="#8a8a8a" stroke-width="0.8"/>
<text x="553.95" y="757.60" font-size="7.2" text-anchor="middle" fill="#222" stroke="#222" stroke-width="0.158">300</text>
<text x="314.40" y="691.40" font-size="7.7" text-anchor="middle" fill="#111" stroke="#111" stroke-width="0.169" transform="rotate(-90 314.40 691.40)">Survival time (years)</text>
<text x="475.60" y="775.50" font-size="7.6" text-anchor="middle" fill="#111" stroke="#111" stroke-width="0.167">Patients (increasing risk socre)</text>
<circle cx="351.30" cy="652.40" r="2.1" fill="#d7302a"/>
<text x="359.90" y="655.70" font-size="8.9" text-anchor="start" fill="#111" stroke="#111" stroke-width="0.196">Dead</text>
<circle cx="351.30" cy="663.60" r="2.1" fill="#72b53c"/>
<text x="359.90" y="666.90" font-size="8.9" text-anchor="start" fill="#111" stroke="#111" stroke-width="0.196">Alive</text>
</svg></body></html>
